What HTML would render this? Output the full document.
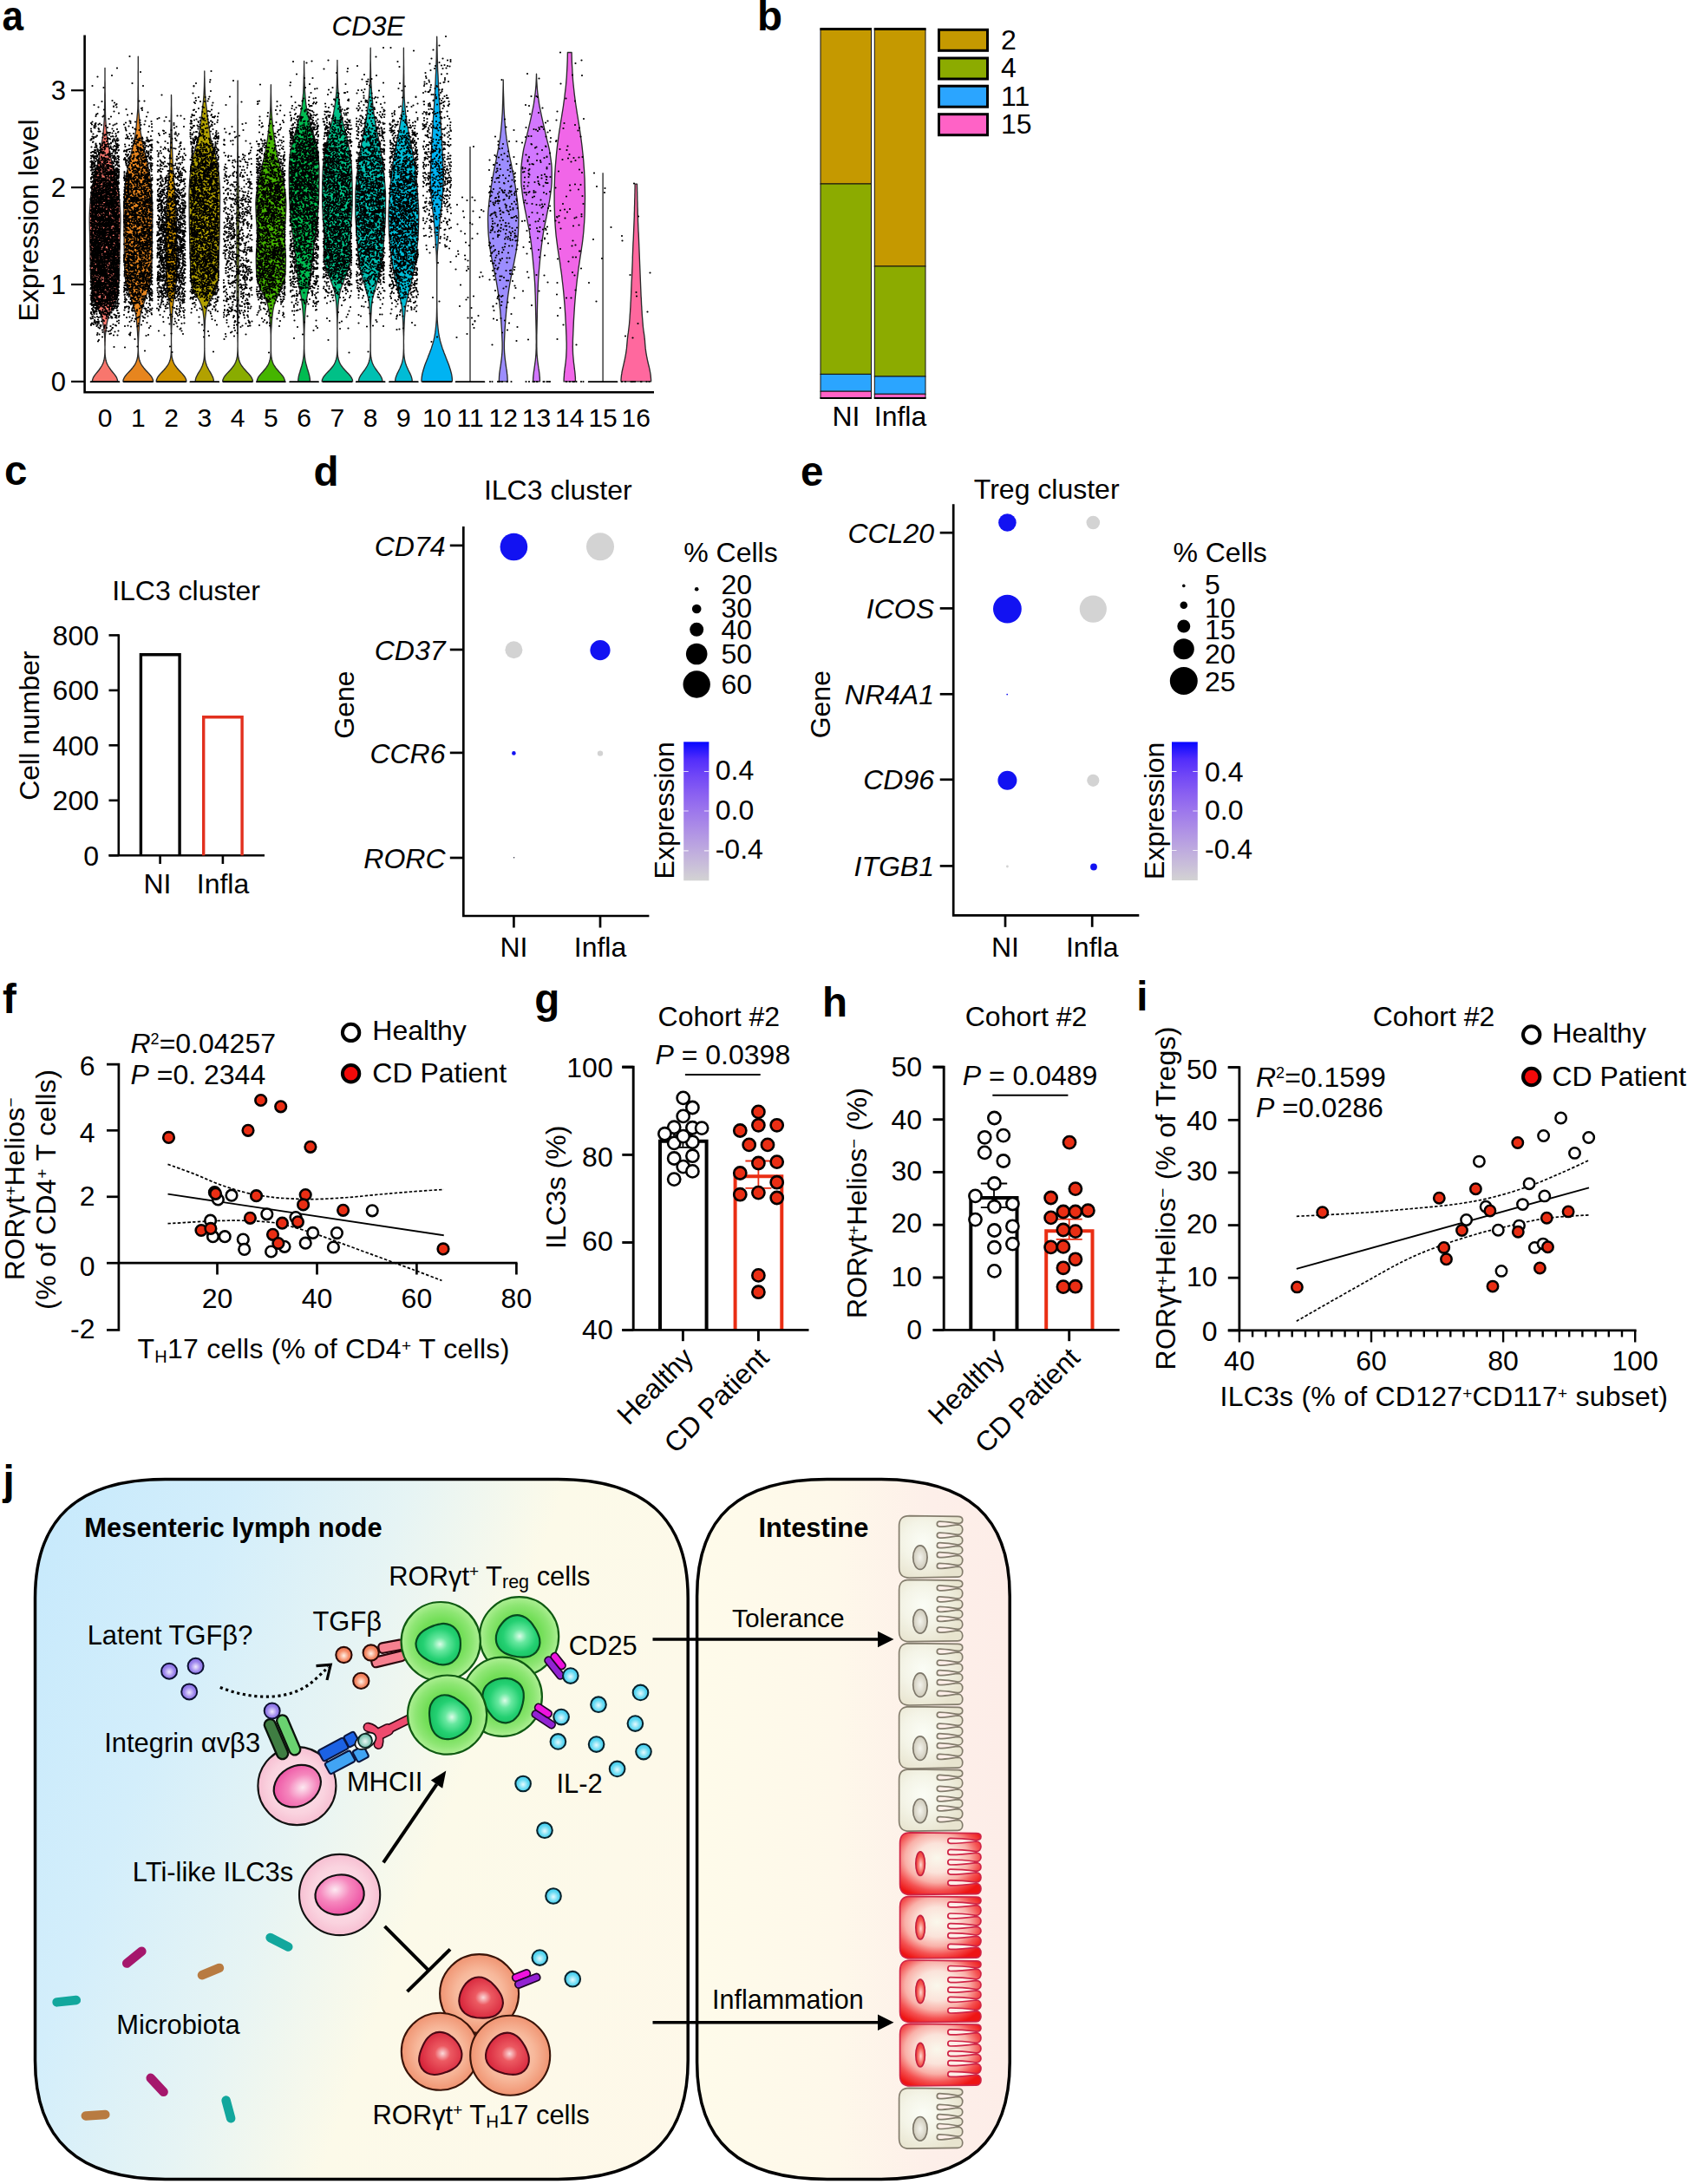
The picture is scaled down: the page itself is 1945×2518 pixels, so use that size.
<!DOCTYPE html>
<html><head><meta charset="utf-8"><title>Figure</title><style>html,body{margin:0;padding:0;background:#fff}svg{display:block}text{font-family:"Liberation Sans",sans-serif;fill:#000}</style></head><body>
<svg width="1945" height="2518" viewBox="0 0 1945 2518">
<g id="pa">
<g stroke="#2a2a2a" stroke-width="1.35" stroke-linejoin="round">
<path d="M106.3 439.9L106.7 437.7L107.5 435.4L108.9 433.2L110.6 430.9L112.4 428.7L114.2 426.5L115.8 424.2L117.2 422L118.4 419.8L119.3 417.5L119.9 415.3L120.3 413L120.6 410.8L120.8 408.6L120.9 406.3L120.9 404.1L121 401.9L121 399.6L120.9 397.4L120.9 395.1L120.8 392.9L120.8 390.7L120.7 388.4L120.5 386.2L120.3 383.9L119.8 379.5L119.1 375.1L118.3 370.7L117.3 366.2L115.5 361.8L113.5 357.4L111.5 352.9L109.3 348.5L107.8 344.1L107 339.7L106.3 335.2L105.7 330.8L105.2 326.4L104.8 321.9L104.5 317.5L104.4 313.1L104.3 308.7L104.2 304.2L104.1 299.8L104 295.4L104 290.9L103.9 286.5L103.8 282.1L103.7 277.6L103.6 273.2L103.5 268.8L103.4 264.4L103.3 259.9L103.2 255.5L103.2 251.1L103.3 246.6L103.5 242.2L103.8 237.8L104.1 233.4L104.5 228.9L104.9 224.5L105.5 220.1L106.3 215.6L107.2 211.2L108.1 206.8L109.2 202.3L110.3 197.9L111.5 193.5L112.6 189.1L113.5 184.6L114.5 180.2L115.4 175.8L116.2 171.3L116.9 166.9L117.7 162.5L118.4 158.1L119 153.6L119.4 149.2L119.8 144.8L120.1 140.3L120.4 135.9L120.5 131.5L120.6 127L120.6 122.6L120.7 118.2L120.8 113.8L120.8 109.3L120.9 104.9L120.9 100.5L120.9 96L121 91.6L121 87.2L121 82.8L121 78.3L121 78.3L121 82.8L121 87.2L121 91.6L121.1 96L121.1 100.5L121.1 104.9L121.2 109.3L121.2 113.8L121.3 118.2L121.4 122.6L121.4 127L121.5 131.5L121.6 135.9L121.9 140.3L122.2 144.8L122.6 149.2L123 153.6L123.6 158.1L124.3 162.5L125.1 166.9L125.8 171.3L126.6 175.8L127.5 180.2L128.5 184.6L129.4 189.1L130.5 193.5L131.7 197.9L132.8 202.3L133.9 206.8L134.8 211.2L135.7 215.6L136.5 220.1L137.1 224.5L137.5 228.9L137.9 233.4L138.2 237.8L138.5 242.2L138.7 246.6L138.8 251.1L138.8 255.5L138.7 259.9L138.6 264.4L138.5 268.8L138.4 273.2L138.3 277.6L138.2 282.1L138.1 286.5L138 290.9L138 295.4L137.9 299.8L137.8 304.2L137.7 308.7L137.6 313.1L137.5 317.5L137.2 321.9L136.8 326.4L136.3 330.8L135.7 335.2L135 339.7L134.2 344.1L132.7 348.5L130.5 352.9L128.5 357.4L126.5 361.8L124.7 366.2L123.7 370.7L122.9 375.1L122.2 379.5L121.7 383.9L121.5 386.2L121.3 388.4L121.2 390.7L121.2 392.9L121.1 395.1L121.1 397.4L121 399.6L121 401.9L121.1 404.1L121.1 406.3L121.2 408.6L121.4 410.8L121.7 413L122.1 415.3L122.7 417.5L123.6 419.8L124.8 422L126.2 424.2L127.8 426.5L129.6 428.7L131.4 430.9L133.1 433.2L134.5 435.4L135.3 437.7L135.7 439.9Z" fill="#F8766D"/>
<path d="M141.9 439.9L142.2 437.7L143.2 435.4L144.7 433.2L146.6 430.9L148.7 428.7L150.8 426.5L152.7 424.2L154.4 422L155.8 419.8L156.9 417.5L157.7 415.3L158.3 413L158.7 410.8L158.9 408.6L159.1 406.3L159.2 404.1L159.2 401.9L159.2 399.6L159.2 397.4L159.1 395.1L159.1 392.9L159 390.7L158.9 388.4L158.7 386.2L158.6 383.9L158.3 379.3L157.9 374.7L157.5 370.1L157 365.5L156.2 360.8L154.8 356.2L153.3 351.6L151.8 347L150.2 342.4L148.7 337.7L147.5 333.1L146.2 328.5L145 323.9L144.1 319.3L143.8 314.6L143.7 310L143.5 305.4L143.4 300.8L143.4 296.2L143.3 291.5L143.2 286.9L143.2 282.3L143.1 277.7L143.1 273.1L143 268.4L142.9 263.8L142.9 259.2L142.8 254.6L142.8 250L142.8 245.3L142.8 240.7L142.9 236.1L143.1 231.5L143.3 226.9L143.6 222.2L144 217.6L144.4 213L144.8 208.4L145.3 203.7L146.2 199.1L147.2 194.5L148.3 189.9L149.3 185.3L150.4 180.6L151.5 176L152.5 171.4L153.6 166.8L154.6 162.2L155.6 157.5L156.3 152.9L156.9 148.3L157.3 143.7L157.7 139.1L158.1 134.4L158.5 129.8L158.9 125.2L159 120.6L159 116L159.1 111.3L159.1 106.7L159.1 102.1L159.2 97.5L159.2 92.9L159.2 88.2L159.2 83.6L159.3 79L159.3 74.4L159.3 69.8L159.3 65.1L159.3 65.1L159.3 69.8L159.3 74.4L159.3 79L159.3 83.6L159.3 88.2L159.3 92.9L159.4 97.5L159.4 102.1L159.4 106.7L159.5 111.3L159.5 116L159.6 120.6L159.7 125.2L160 129.8L160.5 134.4L160.8 139.1L161.2 143.7L161.6 148.3L162.2 152.9L163 157.5L163.9 162.2L165 166.8L166 171.4L167.1 176L168.2 180.6L169.2 185.3L170.3 189.9L171.3 194.5L172.4 199.1L173.2 203.7L173.7 208.4L174.2 213L174.6 217.6L174.9 222.2L175.2 226.9L175.5 231.5L175.7 236.1L175.7 240.7L175.8 245.3L175.7 250L175.7 254.6L175.7 259.2L175.6 263.8L175.5 268.4L175.5 273.1L175.4 277.7L175.4 282.3L175.3 286.9L175.2 291.5L175.2 296.2L175.1 300.8L175 305.4L174.9 310L174.7 314.6L174.4 319.3L173.6 323.9L172.4 328.5L171.1 333.1L169.8 337.7L168.4 342.4L166.8 347L165.3 351.6L163.7 356.2L162.3 360.8L161.6 365.5L161 370.1L160.6 374.7L160.3 379.3L159.9 383.9L159.8 386.2L159.7 388.4L159.6 390.7L159.5 392.9L159.4 395.1L159.4 397.4L159.3 399.6L159.3 401.9L159.4 404.1L159.5 406.3L159.6 408.6L159.9 410.8L160.2 413L160.8 415.3L161.6 417.5L162.7 419.8L164.1 422L165.8 424.2L167.7 426.5L169.8 428.7L171.9 430.9L173.8 433.2L175.3 435.4L176.3 437.7L176.7 439.9Z" fill="#E7851E"/>
<path d="M180.1 439.9L180.5 437.7L181.5 435.4L183 433.2L184.9 430.9L187 428.7L189.1 426.5L191 424.2L192.7 422L194.1 419.8L195.2 417.5L196 415.3L196.6 413L196.9 410.8L197.2 408.6L197.3 406.3L197.4 404.1L197.5 401.9L197.5 399.6L197.5 397.4L197.5 395.1L197.5 392.9L197.5 390.7L197.5 388.4L197.5 386.2L197.5 383.9L197.3 380L197.2 376L197 372L196.8 368L196.6 364.1L196.3 360.1L196 356.1L195.6 352.1L195.1 348.1L194.4 344.2L193.7 340.2L193.1 336.2L192.7 332.2L192.2 328.3L191.7 324.3L191.4 320.3L191.3 316.3L191.3 312.3L191.3 308.4L191.3 304.4L191.3 300.4L191.3 296.4L191.3 292.5L191.3 288.5L191.3 284.5L191.3 280.5L191.3 276.5L191.4 272.6L191.4 268.6L191.5 264.6L191.6 260.6L191.8 256.7L191.9 252.7L192 248.7L192.2 244.7L192.3 240.7L192.5 236.8L192.7 232.8L192.9 228.8L193.1 224.8L193.4 220.9L193.7 216.9L194.1 212.9L194.4 208.9L194.7 204.9L195 201L195.4 197L195.6 193L195.9 189L196 185.1L196.2 181.1L196.3 177.1L196.5 173.1L196.6 169.1L196.7 165.2L196.8 161.2L196.9 157.2L197 153.2L197 149.2L197.1 145.3L197.2 141.3L197.2 137.3L197.3 133.3L197.4 129.4L197.4 125.4L197.5 121.4L197.5 117.4L197.5 113.4L197.5 109.5L197.5 109.5L197.6 113.4L197.6 117.4L197.6 121.4L197.7 125.4L197.7 129.4L197.8 133.3L197.8 137.3L197.9 141.3L198 145.3L198 149.2L198.1 153.2L198.2 157.2L198.3 161.2L198.4 165.2L198.5 169.1L198.6 173.1L198.8 177.1L198.9 181.1L199.1 185.1L199.2 189L199.4 193L199.7 197L200 201L200.3 204.9L200.7 208.9L201 212.9L201.3 216.9L201.7 220.9L201.9 224.8L202.2 228.8L202.4 232.8L202.6 236.8L202.8 240.7L202.9 244.7L203 248.7L203.2 252.7L203.3 256.7L203.4 260.6L203.6 264.6L203.6 268.6L203.7 272.6L203.8 276.5L203.8 280.5L203.8 284.5L203.8 288.5L203.8 292.5L203.8 296.4L203.8 300.4L203.8 304.4L203.8 308.4L203.8 312.3L203.8 316.3L203.7 320.3L203.3 324.3L202.9 328.3L202.4 332.2L202 336.2L201.4 340.2L200.7 344.2L200 348.1L199.5 352.1L199.1 356.1L198.8 360.1L198.5 364.1L198.3 368L198.1 372L197.9 376L197.7 380L197.6 383.9L197.6 386.2L197.5 388.4L197.5 390.7L197.5 392.9L197.5 395.1L197.6 397.4L197.6 399.6L197.6 401.9L197.6 404.1L197.7 406.3L197.9 408.6L198.1 410.8L198.5 413L199.1 415.3L199.9 417.5L201 419.8L202.4 422L204.1 424.2L206 426.5L208.1 428.7L210.2 430.9L212.1 433.2L213.6 435.4L214.6 437.7L214.9 439.9Z" fill="#D09400"/>
<path d="M225.2 439.9L225.4 437.7L226 435.4L227 433.2L228.2 430.9L229.6 428.7L230.9 426.5L232.1 424.2L233.1 422L233.9 419.8L234.5 417.5L235 415.3L235.3 413L235.5 410.8L235.6 408.6L235.7 406.3L235.8 404.1L235.8 401.9L235.8 399.6L235.8 397.4L235.8 395.1L235.8 392.9L235.8 390.7L235.8 388.4L235.8 386.2L235.7 383.9L235.6 379.6L235.4 375.2L235.2 370.8L234.9 366.4L234.4 362.1L233.8 357.7L232.7 353.3L230.9 348.9L228.7 344.6L225.8 340.2L223.6 335.8L221.8 331.4L220.6 327.1L220.2 322.7L220 318.3L219.8 313.9L219.6 309.6L219.5 305.2L219.4 300.8L219.3 296.4L219.1 292L219 287.7L218.9 283.3L218.8 278.9L218.7 274.5L218.6 270.2L218.5 265.8L218.4 261.4L218.3 257L218.3 252.7L218.2 248.3L218.2 243.9L218.1 239.5L218.1 235.2L218.1 230.8L218 226.4L218.1 222L218.2 217.7L218.4 213.3L218.7 208.9L219 204.5L219.4 200.1L219.9 195.8L220.5 191.4L221.3 187L222.2 182.6L223.2 178.3L224.5 173.9L225.9 169.5L227.4 165.1L228.5 160.8L229.3 156.4L229.9 152L230.5 147.6L231.1 143.3L231.7 138.9L232.3 134.5L232.9 130.1L233.4 125.7L233.9 121.4L234.4 117L234.8 112.6L235.1 108.2L235.3 103.9L235.5 99.5L235.6 95.1L235.7 90.7L235.8 86.4L235.8 82L235.8 82L235.8 86.4L235.9 90.7L236 95.1L236.1 99.5L236.3 103.9L236.5 108.2L236.8 112.6L237.2 117L237.7 121.4L238.2 125.7L238.7 130.1L239.3 134.5L239.9 138.9L240.5 143.3L241.1 147.6L241.7 152L242.3 156.4L243.1 160.8L244.3 165.1L245.7 169.5L247.2 173.9L248.4 178.3L249.4 182.6L250.3 187L251.1 191.4L251.8 195.8L252.2 200.1L252.6 204.5L252.9 208.9L253.2 213.3L253.4 217.7L253.6 222L253.6 226.4L253.6 230.8L253.5 235.2L253.5 239.5L253.5 243.9L253.4 248.3L253.3 252.7L253.3 257L253.2 261.4L253.1 265.8L253.1 270.2L253 274.5L252.9 278.9L252.7 283.3L252.6 287.7L252.5 292L252.4 296.4L252.2 300.8L252.1 305.2L252 309.6L251.8 313.9L251.7 318.3L251.4 322.7L251 327.1L249.8 331.4L248 335.8L245.9 340.2L242.9 344.6L240.7 348.9L238.9 353.3L237.9 357.7L237.2 362.1L236.7 366.4L236.4 370.8L236.2 375.2L236 379.6L235.9 383.9L235.8 386.2L235.8 388.4L235.8 390.7L235.8 392.9L235.8 395.1L235.8 397.4L235.8 399.6L235.8 401.9L235.9 404.1L235.9 406.3L236 408.6L236.1 410.8L236.3 413L236.6 415.3L237.1 417.5L237.7 419.8L238.5 422L239.6 424.2L240.8 426.5L242.1 428.7L243.4 430.9L244.6 433.2L245.6 435.4L246.2 437.7L246.4 439.9Z" fill="#B2A100"/>
<path d="M256.7 439.9L257 437.7L258 435.4L259.5 433.2L261.4 430.9L263.5 428.7L265.6 426.5L267.5 424.2L269.2 422L270.6 419.8L271.7 417.5L272.5 415.3L273.1 413L273.5 410.8L273.7 408.6L273.9 406.3L274 404.1L274 401.9L274.1 399.6L274.1 397.4L274.1 395.1L274 392.9L274 390.7L274 388.4L274 386.2L273.9 383.9L273.8 379.7L273.8 375.5L273.7 371.3L273.6 367.1L273.6 362.9L273.5 358.6L273.4 354.4L273.4 350.2L273.3 346L273.2 341.8L273.2 337.6L273.2 333.3L273.1 329.1L273.1 324.9L273.1 320.7L273.1 316.5L273.1 312.3L273 308L273 303.8L273 299.6L273 295.4L273 291.2L273 287L273 282.7L273 278.5L273 274.3L273 270.1L273 265.9L273 261.7L273 257.4L273 253.2L273 249L273.1 244.8L273.1 240.6L273.1 236.4L273.1 232.1L273.1 227.9L273.2 223.7L273.2 219.5L273.3 215.3L273.3 211.1L273.4 206.8L273.4 202.6L273.5 198.4L273.6 194.2L273.7 190L273.7 185.8L273.8 181.5L273.8 177.3L273.9 173.1L273.9 168.9L273.9 164.7L273.9 160.5L274 156.2L274 152L274 147.8L274 143.6L274 139.4L274 135.1L274 130.9L274 126.7L274 122.5L274.1 118.3L274.1 114.1L274.1 109.8L274.1 105.6L274.1 101.4L274.1 97.2L274.1 93L274.1 93L274.1 97.2L274.1 101.4L274.1 105.6L274.1 109.8L274.1 114.1L274.1 118.3L274.1 122.5L274.1 126.7L274.1 130.9L274.1 135.1L274.2 139.4L274.2 143.6L274.2 147.8L274.2 152L274.2 156.2L274.2 160.5L274.2 164.7L274.3 168.9L274.3 173.1L274.3 177.3L274.4 181.5L274.4 185.8L274.5 190L274.6 194.2L274.6 198.4L274.7 202.6L274.8 206.8L274.8 211.1L274.9 215.3L275 219.5L275 223.7L275 227.9L275 232.1L275.1 236.4L275.1 240.6L275.1 244.8L275.1 249L275.1 253.2L275.1 257.4L275.2 261.7L275.2 265.9L275.2 270.1L275.2 274.3L275.2 278.5L275.2 282.7L275.2 287L275.2 291.2L275.2 295.4L275.2 299.6L275.1 303.8L275.1 308L275.1 312.3L275.1 316.5L275.1 320.7L275 324.9L275 329.1L275 333.3L275 337.6L274.9 341.8L274.9 346L274.8 350.2L274.7 354.4L274.7 358.6L274.6 362.9L274.5 367.1L274.4 371.3L274.4 375.5L274.3 379.7L274.2 383.9L274.2 386.2L274.2 388.4L274.1 390.7L274.1 392.9L274.1 395.1L274.1 397.4L274.1 399.6L274.1 401.9L274.2 404.1L274.3 406.3L274.4 408.6L274.7 410.8L275.1 413L275.6 415.3L276.4 417.5L277.5 419.8L278.9 422L280.6 424.2L282.6 426.5L284.6 428.7L286.7 430.9L288.6 433.2L290.1 435.4L291.1 437.7L291.5 439.9Z" fill="#89AC00"/>
<path d="M296.2 439.9L296.6 437.7L297.5 435.4L299 433.2L300.9 430.9L302.9 428.7L304.8 426.5L306.7 424.2L308.2 422L309.5 419.8L310.4 417.5L311.1 415.3L311.6 413L311.9 410.8L312.1 408.6L312.2 406.3L312.3 404.1L312.3 401.9L312.3 399.6L312.3 397.4L312.3 395.1L312.3 392.9L312.3 390.7L312.3 388.4L312.3 386.2L312.2 383.9L312 379.8L311.7 375.6L311.4 371.5L311.1 367.3L310.6 363.2L310.1 359L309.4 354.9L308.4 350.7L306.9 346.6L305.1 342.4L303.1 338.3L300.8 334.1L299.1 330L297.8 325.8L296.6 321.7L295.9 317.5L295.7 313.4L295.5 309.2L295.4 305.1L295.3 300.9L295.3 296.8L295.4 292.6L295.7 288.5L296 284.3L296.2 280.2L296.5 276L296.6 271.9L296.5 267.7L296.3 263.6L296 259.4L295.7 255.3L295.4 251.1L295.3 247L295.1 242.8L295 238.7L294.9 234.5L295.1 230.4L295.4 226.2L295.9 222.1L296.5 217.9L297.1 213.8L297.8 209.6L298.6 205.5L299.6 201.3L300.5 197.2L301.5 193L302.6 188.9L303.7 184.7L304.7 180.6L305.6 176.4L306.4 172.3L307.1 168.1L307.8 164L308.5 159.8L309 155.7L309.6 151.5L310 147.4L310.4 143.2L310.8 139.1L311.2 134.9L311.5 130.8L311.7 126.6L311.9 122.5L312 118.3L312.1 114.2L312.2 110L312.3 105.9L312.3 101.7L312.4 97.6L312.4 97.6L312.4 101.7L312.4 105.9L312.5 110L312.6 114.2L312.7 118.3L312.8 122.5L313 126.6L313.2 130.8L313.5 134.9L313.9 139.1L314.3 143.2L314.7 147.4L315.1 151.5L315.7 155.7L316.2 159.8L316.9 164L317.6 168.1L318.3 172.3L319.1 176.4L320 180.6L321 184.7L322.1 188.9L323.2 193L324.2 197.2L325.1 201.3L326.1 205.5L326.9 209.6L327.6 213.8L328.2 217.9L328.8 222.1L329.3 226.2L329.6 230.4L329.8 234.5L329.7 238.7L329.6 242.8L329.4 247L329.3 251.1L329 255.3L328.7 259.4L328.4 263.6L328.2 267.7L328.1 271.9L328.2 276L328.5 280.2L328.7 284.3L329 288.5L329.3 292.6L329.4 296.8L329.4 300.9L329.3 305.1L329.2 309.2L329 313.4L328.8 317.5L328.1 321.7L326.9 325.8L325.6 330L323.9 334.1L321.6 338.3L319.6 342.4L317.8 346.6L316.3 350.7L315.3 354.9L314.6 359L314.1 363.2L313.6 367.3L313.3 371.5L313 375.6L312.7 379.8L312.5 383.9L312.4 386.2L312.4 388.4L312.4 390.7L312.4 392.9L312.4 395.1L312.4 397.4L312.4 399.6L312.4 401.9L312.4 404.1L312.5 406.3L312.6 408.6L312.8 410.8L313.1 413L313.6 415.3L314.3 417.5L315.2 419.8L316.5 422L318 424.2L319.9 426.5L321.8 428.7L323.8 430.9L325.7 433.2L327.2 435.4L328.1 437.7L328.5 439.9Z" fill="#45B500"/>
<path d="M343.7 439.9L343.8 437.7L344.1 435.4L344.5 433.2L345.1 430.9L345.8 428.7L346.4 426.5L347.1 424.2L347.8 422L348.4 419.8L348.9 417.5L349.3 415.3L349.7 413L350 410.8L350.2 408.6L350.3 406.3L350.4 404.1L350.5 401.9L350.5 399.6L350.6 397.4L350.6 395.1L350.6 392.9L350.5 390.7L350.5 388.4L350.5 386.2L350.4 383.9L350.3 379.4L350.1 374.9L349.9 370.3L349.7 365.8L349.4 361.2L349 356.7L348.5 352.1L348 347.6L347.4 343L346.5 338.5L345.6 334L344.6 329.4L343.9 324.9L343.2 320.3L342.7 315.8L342.2 311.2L341.7 306.7L341.2 302.1L340.8 297.6L340.3 293.1L339.9 288.5L339.4 284L338.7 279.4L338 274.9L337.4 270.3L336.8 265.8L336.3 261.2L335.8 256.7L335.3 252.2L334.9 247.6L334.6 243.1L334.3 238.5L334 234L333.8 229.4L333.6 224.9L333.5 220.3L333.5 215.8L333.4 211.3L333.3 206.7L333.3 202.2L333.3 197.6L333.4 193.1L333.6 188.5L333.9 184L334.3 179.4L334.8 174.9L335.7 170.4L336.8 165.8L337.9 161.3L339.1 156.7L340.5 152.2L342 147.6L343.4 143.1L344.7 138.5L345.7 134L346.8 129.4L347.7 124.9L348.4 120.4L348.9 115.8L349.3 111.3L349.7 106.7L349.9 102.2L350.1 97.6L350.2 93.1L350.3 88.5L350.5 84L350.5 79.5L350.6 74.9L350.6 70.4L350.6 70.4L350.6 74.9L350.7 79.5L350.8 84L350.9 88.5L351 93.1L351.2 97.6L351.3 102.2L351.6 106.7L351.9 111.3L352.3 115.8L352.8 120.4L353.5 124.9L354.4 129.4L355.5 134L356.6 138.5L357.8 143.1L359.3 147.6L360.8 152.2L362.1 156.7L363.3 161.3L364.5 165.8L365.6 170.4L366.4 174.9L366.9 179.4L367.3 184L367.7 188.5L367.9 193.1L367.9 197.6L367.9 202.2L367.9 206.7L367.8 211.3L367.8 215.8L367.7 220.3L367.6 224.9L367.5 229.4L367.3 234L367 238.5L366.6 243.1L366.3 247.6L365.9 252.2L365.5 256.7L365 261.2L364.5 265.8L363.9 270.3L363.2 274.9L362.5 279.4L361.9 284L361.4 288.5L360.9 293.1L360.5 297.6L360 302.1L359.6 306.7L359.1 311.2L358.6 315.8L358 320.3L357.4 324.9L356.6 329.4L355.7 334L354.7 338.5L353.9 343L353.2 347.6L352.7 352.1L352.2 356.7L351.8 361.2L351.5 365.8L351.3 370.3L351.1 374.9L350.9 379.4L350.8 383.9L350.8 386.2L350.7 388.4L350.7 390.7L350.7 392.9L350.7 395.1L350.7 397.4L350.7 399.6L350.7 401.9L350.8 404.1L350.9 406.3L351.1 408.6L351.3 410.8L351.6 413L351.9 415.3L352.3 417.5L352.9 419.8L353.5 422L354.1 424.2L354.8 426.5L355.5 428.7L356.1 430.9L356.7 433.2L357.1 435.4L357.4 437.7L357.5 439.9Z" fill="#00BC51"/>
<path d="M371.2 439.9L371.5 437.7L372.5 435.4L374.1 433.2L376 430.9L378.1 428.7L380.3 426.5L382.2 424.2L384 422L385.4 419.8L386.5 417.5L387.3 415.3L387.9 413L388.3 410.8L388.5 408.6L388.7 406.3L388.8 404.1L388.8 401.9L388.9 399.6L388.9 397.4L388.9 395.1L388.9 392.9L388.9 390.7L388.9 388.4L388.9 386.2L388.9 383.9L388.9 379.4L388.8 374.8L388.7 370.3L388.6 365.7L388.4 361.2L388.2 356.6L387.9 352L387.5 347.5L386.9 342.9L386.2 338.4L385.1 333.8L383.5 329.2L381.8 324.7L380 320.1L378.1 315.6L376.5 311L375.2 306.4L374 301.9L373.2 297.3L373.2 292.8L373.4 288.2L373.7 283.7L373.9 279.1L373.9 274.5L373.8 270L373.5 265.4L373.1 260.9L372.8 256.3L372.4 251.7L372.2 247.2L372 242.6L371.8 238.1L371.7 233.5L371.6 228.9L371.6 224.4L371.6 219.8L371.7 215.3L371.8 210.7L371.9 206.2L372 201.6L372.2 197L372.4 192.5L372.9 187.9L373.4 183.4L374 178.8L374.6 174.2L375.5 169.7L376.5 165.1L377.5 160.6L378.5 156L379.7 151.4L380.9 146.9L382.1 142.3L383.1 137.8L384 133.2L384.9 128.7L385.7 124.1L386.4 119.5L387 115L387.5 110.4L387.9 105.9L388.2 101.3L388.4 96.7L388.5 92.2L388.6 87.6L388.7 83.1L388.8 78.5L388.9 73.9L388.9 69.4L388.9 69.4L388.9 73.9L389 78.5L389 83.1L389.1 87.6L389.3 92.2L389.4 96.7L389.6 101.3L389.9 105.9L390.3 110.4L390.8 115L391.4 119.5L392 124.1L392.8 128.7L393.7 133.2L394.7 137.8L395.7 142.3L396.9 146.9L398.1 151.4L399.3 156L400.3 160.6L401.3 165.1L402.3 169.7L403.1 174.2L403.8 178.8L404.4 183.4L404.9 187.9L405.3 192.5L405.6 197L405.8 201.6L405.9 206.2L406 210.7L406.1 215.3L406.2 219.8L406.2 224.4L406.2 228.9L406.1 233.5L406 238.1L405.8 242.6L405.6 247.2L405.3 251.7L405 256.3L404.6 260.9L404.3 265.4L404 270L403.9 274.5L403.9 279.1L404.1 283.7L404.4 288.2L404.6 292.8L404.6 297.3L403.8 301.9L402.6 306.4L401.3 311L399.6 315.6L397.8 320.1L396 324.7L394.3 329.2L392.7 333.8L391.6 338.4L390.9 342.9L390.3 347.5L389.9 352L389.6 356.6L389.4 361.2L389.2 365.7L389 370.3L388.9 374.8L388.9 379.4L388.9 383.9L388.9 386.2L388.9 388.4L388.9 390.7L388.9 392.9L388.9 395.1L388.9 397.4L388.9 399.6L388.9 401.9L389 404.1L389.1 406.3L389.2 408.6L389.5 410.8L389.9 413L390.5 415.3L391.3 417.5L392.4 419.8L393.8 422L395.5 424.2L397.5 426.5L399.6 428.7L401.8 430.9L403.7 433.2L405.2 435.4L406.3 437.7L406.6 439.9Z" fill="#00C087"/>
<path d="M413.4 439.9L413.7 437.7L414.4 435.4L415.6 433.2L417.2 430.9L418.8 428.7L420.5 426.5L422 424.2L423.3 422L424.4 419.8L425.3 417.5L425.9 415.3L426.4 413L426.7 410.8L426.9 408.6L427 406.3L427.1 404.1L427.1 401.9L427.1 399.6L427.1 397.4L427.2 395.1L427.2 392.9L427.2 390.7L427.2 388.4L427.2 386.2L427.2 383.9L427.1 379.2L427 374.4L426.8 369.7L426.6 364.9L426.4 360.1L426.1 355.4L425.7 350.6L425.1 345.8L423.9 341.1L422.5 336.3L421.2 331.5L419.8 326.8L418.5 322L417.1 317.2L415.8 312.5L414.7 307.7L414 303L413.5 298.2L413 293.4L412.6 288.7L412.2 283.9L411.9 279.1L411.5 274.4L411.2 269.6L410.9 264.8L410.6 260.1L410.2 255.3L409.9 250.5L409.8 245.8L409.8 241L409.8 236.3L409.8 231.5L409.8 226.7L409.9 222L410.2 217.2L410.6 212.4L411 207.7L411.4 202.9L412 198.1L412.6 193.4L413.2 188.6L413.9 183.8L414.6 179.1L415.3 174.3L416 169.6L416.9 164.8L417.8 160L418.8 155.3L419.8 150.5L420.7 145.7L421.6 141L422.4 136.2L423.2 131.4L423.8 126.7L424.4 121.9L424.9 117.1L425.3 112.4L425.7 107.6L426 102.9L426.4 98.1L426.6 93.3L426.8 88.6L426.9 83.8L427 79L427 74.3L427.1 69.5L427.1 64.7L427.2 60L427.2 55.2L427.2 55.2L427.2 60L427.2 64.7L427.2 69.5L427.3 74.3L427.4 79L427.5 83.8L427.5 88.6L427.7 93.3L428 98.1L428.3 102.9L428.6 107.6L429 112.4L429.5 117.1L429.9 121.9L430.5 126.7L431.1 131.4L431.9 136.2L432.7 141L433.6 145.7L434.5 150.5L435.5 155.3L436.5 160L437.4 164.8L438.3 169.6L439.1 174.3L439.8 179.1L440.4 183.8L441.1 188.6L441.7 193.4L442.4 198.1L442.9 202.9L443.3 207.7L443.7 212.4L444.1 217.2L444.4 222L444.5 226.7L444.5 231.5L444.5 236.3L444.5 241L444.5 245.8L444.4 250.5L444.1 255.3L443.8 260.1L443.4 264.8L443.1 269.6L442.8 274.4L442.4 279.1L442.1 283.9L441.7 288.7L441.3 293.4L440.9 298.2L440.3 303L439.6 307.7L438.5 312.5L437.2 317.2L435.8 322L434.5 326.8L433.1 331.5L431.8 336.3L430.4 341.1L429.2 345.8L428.6 350.6L428.2 355.4L428 360.1L427.7 364.9L427.5 369.7L427.4 374.4L427.2 379.2L427.2 383.9L427.2 386.2L427.2 388.4L427.2 390.7L427.2 392.9L427.2 395.1L427.2 397.4L427.2 399.6L427.2 401.9L427.2 404.1L427.3 406.3L427.4 408.6L427.6 410.8L427.9 413L428.4 415.3L429 417.5L429.9 419.8L431 422L432.3 424.2L433.9 426.5L435.5 428.7L437.2 430.9L438.7 433.2L439.9 435.4L440.7 437.7L440.9 439.9Z" fill="#00C0B2"/>
<path d="M455.6 439.9L455.8 437.7L456.2 435.4L457 433.2L457.9 430.9L459 428.7L460.1 426.5L461.2 424.2L462.1 422L463 419.8L463.7 417.5L464.2 415.3L464.6 413L464.9 410.8L465.1 408.6L465.2 406.3L465.3 404.1L465.4 401.9L465.4 399.6L465.4 397.4L465.4 395.1L465.4 392.9L465.4 390.7L465.4 388.4L465.3 386.2L465.2 383.9L465 379.2L464.8 374.4L464.6 369.7L464.3 364.9L464 360.1L463.5 355.4L462.8 350.6L461.7 345.8L460.5 341.1L459.3 336.3L458.1 331.5L456.9 326.8L455.8 322L454.8 317.2L453.8 312.5L453 307.7L452.2 303L451.5 298.2L450.9 293.4L450.4 288.7L449.9 283.9L449.4 279.1L449 274.4L448.6 269.6L448.5 264.8L448.3 260.1L448.2 255.3L448.1 250.5L448.1 245.8L448.3 241L448.6 236.3L448.9 231.5L449.3 226.7L449.6 222L449.9 217.2L450.2 212.4L450.6 207.7L451.1 202.9L451.7 198.1L452.4 193.4L453.1 188.6L453.8 183.8L454.6 179.1L455.4 174.3L456.3 169.6L457.2 164.8L458.1 160L459.1 155.3L460.1 150.5L460.9 145.7L461.7 141L462.5 136.2L463.1 131.4L463.6 126.7L464.1 121.9L464.4 117.1L464.7 112.4L464.9 107.6L465 102.9L465 98.1L465.1 93.3L465.2 88.6L465.3 83.8L465.3 79L465.4 74.3L465.4 69.5L465.4 64.7L465.4 60L465.4 55.2L465.4 55.2L465.4 60L465.4 64.7L465.5 69.5L465.5 74.3L465.6 79L465.6 83.8L465.7 88.6L465.7 93.3L465.8 98.1L465.9 102.9L466 107.6L466.1 112.4L466.4 117.1L466.8 121.9L467.2 126.7L467.7 131.4L468.4 136.2L469.1 141L469.9 145.7L470.8 150.5L471.7 155.3L472.7 160L473.7 164.8L474.6 169.6L475.5 174.3L476.3 179.1L477.1 183.8L477.8 188.6L478.5 193.4L479.2 198.1L479.8 202.9L480.2 207.7L480.6 212.4L481 217.2L481.3 222L481.6 226.7L481.9 231.5L482.3 236.3L482.6 241L482.8 245.8L482.7 250.5L482.7 255.3L482.5 260.1L482.4 264.8L482.2 269.6L481.9 274.4L481.5 279.1L481 283.9L480.5 288.7L480 293.4L479.3 298.2L478.6 303L477.9 307.7L477 312.5L476.1 317.2L475 322L474 326.8L472.8 331.5L471.5 336.3L470.4 341.1L469.2 345.8L468.1 350.6L467.3 355.4L466.9 360.1L466.5 364.9L466.2 369.7L466 374.4L465.8 379.2L465.6 383.9L465.6 386.2L465.5 388.4L465.5 390.7L465.4 392.9L465.4 395.1L465.5 397.4L465.5 399.6L465.5 401.9L465.6 404.1L465.6 406.3L465.8 408.6L466 410.8L466.3 413L466.7 415.3L467.2 417.5L467.9 419.8L468.7 422L469.7 424.2L470.7 426.5L471.8 428.7L472.9 430.9L473.9 433.2L474.6 435.4L475.1 437.7L475.3 439.9Z" fill="#00BCD6"/>
<path d="M486 439.9L486 437.7L486.2 435.4L486.5 433.2L486.9 430.9L487.5 428.7L488.1 426.5L488.8 424.2L489.5 422L490.3 419.8L491.2 417.5L492.1 415.3L493 413L493.8 410.8L494.7 408.6L495.6 406.3L496.4 404.1L497.2 401.9L497.9 399.6L498.6 397.4L499.3 395.1L499.9 392.9L500.4 390.7L500.9 388.4L501.3 386.2L501.7 383.9L502.3 379L502.8 374L503.2 369.1L503.4 364.1L503.5 359.2L503.6 354.2L503.6 349.3L503.7 344.3L503.7 339.4L503.7 334.4L503.7 329.5L503.7 324.5L503.7 319.6L503.7 314.6L503.7 309.7L503.6 304.7L503.4 299.8L503.3 294.8L503 289.8L502.6 284.9L502.3 279.9L502 275L501.6 270L501.2 265.1L500.8 260.1L500.3 255.2L499.8 250.2L499.2 245.3L498.6 240.3L498 235.4L497.5 230.4L497.1 225.5L496.8 220.5L496.5 215.6L496.3 210.6L496.2 205.7L496.3 200.7L496.4 195.7L496.6 190.8L496.8 185.8L497.1 180.9L497.3 175.9L497.5 171L497.8 166L498 161.1L498.3 156.1L498.6 151.2L498.9 146.2L499.2 141.3L499.5 136.3L499.9 131.4L500.2 126.4L500.6 121.5L500.9 116.5L501.2 111.6L501.5 106.6L501.7 101.6L502 96.7L502.2 91.7L502.4 86.8L502.7 81.8L502.9 76.9L503 71.9L503.2 67L503.3 62L503.4 57.1L503.5 52.1L503.6 47.2L503.7 42.2L503.7 42.2L503.8 47.2L503.9 52.1L504 57.1L504.1 62L504.2 67L504.4 71.9L504.5 76.9L504.7 81.8L505 86.8L505.2 91.7L505.4 96.7L505.7 101.6L505.9 106.6L506.2 111.6L506.5 116.5L506.8 121.5L507.2 126.4L507.5 131.4L507.9 136.3L508.2 141.3L508.5 146.2L508.8 151.2L509.1 156.1L509.4 161.1L509.6 166L509.9 171L510.1 175.9L510.3 180.9L510.6 185.8L510.8 190.8L511 195.7L511.1 200.7L511.2 205.7L511.1 210.6L510.9 215.6L510.6 220.5L510.3 225.5L509.9 230.4L509.4 235.4L508.8 240.3L508.2 245.3L507.6 250.2L507.1 255.2L506.6 260.1L506.2 265.1L505.8 270L505.4 275L505.1 279.9L504.8 284.9L504.4 289.8L504.1 294.8L504 299.8L503.8 304.7L503.7 309.7L503.7 314.6L503.7 319.6L503.7 324.5L503.7 329.5L503.7 334.4L503.7 339.4L503.7 344.3L503.8 349.3L503.8 354.2L503.9 359.2L504 364.1L504.2 369.1L504.6 374L505.1 379L505.7 383.9L506.1 386.2L506.5 388.4L507 390.7L507.5 392.9L508.1 395.1L508.8 397.4L509.5 399.6L510.2 401.9L511 404.1L511.8 406.3L512.7 408.6L513.6 410.8L514.4 413L515.3 415.3L516.2 417.5L517.1 419.8L517.9 422L518.6 424.2L519.3 426.5L519.9 428.7L520.5 430.9L520.9 433.2L521.2 435.4L521.4 437.7L521.4 439.9Z" fill="#00B3F2"/>
<path d="M542 439.9V169.1" fill="none"/>
<path d="M575.3 439.9L575.4 437.7L575.5 435.4L575.6 433.2L575.8 430.9L576.1 428.7L576.4 426.5L576.7 424.2L577.1 422L577.4 419.8L577.7 417.5L578 415.3L578.3 413L578.5 410.8L578.7 408.6L578.9 406.3L579 404.1L579.1 401.9L579.1 399.6L579.1 397.4L579.1 395.1L579 392.9L578.9 390.7L578.8 388.4L578.7 386.2L578.6 383.9L578.4 379.7L578.1 375.5L577.8 371.3L577.5 367L577.1 362.8L576.8 358.6L576.3 354.3L575.9 350.1L575.4 345.9L574.9 341.6L574.3 337.4L573.7 333.2L573 328.9L572.3 324.7L571.5 320.5L570.6 316.3L569.7 312L568.8 307.8L568 303.6L567.2 299.3L566.4 295.1L565.6 290.9L565 286.6L564.4 282.4L563.9 278.2L563.5 273.9L563.1 269.7L562.9 265.5L562.7 261.3L562.6 257L562.5 252.8L562.6 248.6L562.8 244.3L563.2 240.1L563.6 235.9L564 231.6L564.6 227.4L565.2 223.2L565.8 218.9L566.4 214.7L567.1 210.5L567.8 206.3L568.6 202L569.3 197.8L570.1 193.6L571 189.3L571.9 185.1L572.7 180.9L573.5 176.6L574.3 172.4L575.1 168.2L575.8 163.9L576.5 159.7L577 155.5L577.5 151.3L577.9 147L578.3 142.8L578.6 138.6L578.9 134.3L579.2 130.1L579.4 125.9L579.5 121.6L579.7 117.4L579.8 113.2L579.9 108.9L580 104.7L580.1 100.5L580.2 96.3L580.2 92L580.2 92L580.3 96.3L580.3 100.5L580.4 104.7L580.5 108.9L580.7 113.2L580.8 117.4L580.9 121.6L581.1 125.9L581.3 130.1L581.6 134.3L581.8 138.6L582.2 142.8L582.5 147L583 151.3L583.5 155.5L584 159.7L584.7 163.9L585.4 168.2L586.2 172.4L586.9 176.6L587.7 180.9L588.6 185.1L589.5 189.3L590.3 193.6L591.2 197.8L591.9 202L592.7 206.3L593.4 210.5L594.1 214.7L594.7 218.9L595.3 223.2L595.9 227.4L596.4 231.6L596.9 235.9L597.3 240.1L597.7 244.3L597.9 248.6L597.9 252.8L597.9 257L597.8 261.3L597.6 265.5L597.4 269.7L597 273.9L596.6 278.2L596 282.4L595.5 286.6L594.9 290.9L594.1 295.1L593.3 299.3L592.5 303.6L591.6 307.8L590.8 312L589.9 316.3L589 320.5L588.2 324.7L587.5 328.9L586.8 333.2L586.2 337.4L585.6 341.6L585.1 345.9L584.6 350.1L584.1 354.3L583.7 358.6L583.4 362.8L583 367L582.7 371.3L582.4 375.5L582.1 379.7L581.9 383.9L581.8 386.2L581.7 388.4L581.6 390.7L581.5 392.9L581.4 395.1L581.4 397.4L581.4 399.6L581.4 401.9L581.5 404.1L581.6 406.3L581.8 408.6L582 410.8L582.2 413L582.5 415.3L582.8 417.5L583.1 419.8L583.4 422L583.7 424.2L584.1 426.5L584.4 428.7L584.6 430.9L584.9 433.2L585 435.4L585.1 437.7L585.2 439.9Z" fill="#9C8DFF"/>
<path d="M614.6 439.9L614.6 437.7L614.7 435.4L614.9 433.2L615.2 430.9L615.4 428.7L615.8 426.5L616.1 424.2L616.4 422L616.7 419.8L617 417.5L617.3 415.3L617.5 413L617.7 410.8L617.9 408.6L618 406.3L618.1 404.1L618.2 401.9L618.2 399.6L618.2 397.4L618.3 395.1L618.3 392.9L618.2 390.7L618.2 388.4L618.2 386.2L618.2 383.9L618.1 379.6L618 375.3L617.9 371L617.8 366.6L617.7 362.3L617.6 358L617.5 353.6L617.4 349.3L617.3 345L617.2 340.6L617 336.3L616.9 332L616.7 327.7L616.4 323.3L616.1 319L615.8 314.7L615.4 310.3L615 306L614.6 301.7L614.2 297.3L613.8 293L613.3 288.7L612.8 284.3L612.3 280L611.7 275.7L611 271.4L610.4 267L609.6 262.7L608.7 258.4L607.8 254L606.9 249.7L606.1 245.4L605.2 241L604.4 236.7L603.6 232.4L602.9 228L602.3 223.7L601.8 219.4L601.2 215.1L600.9 210.7L600.8 206.4L600.8 202.1L600.8 197.7L600.9 193.4L601.3 189.1L601.8 184.7L602.4 180.4L603 176.1L603.8 171.7L604.8 167.4L605.9 163.1L606.9 158.8L607.9 154.4L608.9 150.1L609.9 145.8L610.9 141.4L611.9 137.1L612.8 132.8L613.7 128.4L614.6 124.1L615.4 119.8L616 115.4L616.6 111.1L617.2 106.8L617.6 102.5L618 98.1L618.2 93.8L618.4 89.5L618.5 85.1L618.5 85.1L618.6 89.5L618.8 93.8L619.1 98.1L619.4 102.5L619.8 106.8L620.4 111.1L621 115.4L621.6 119.8L622.4 124.1L623.3 128.4L624.2 132.8L625.1 137.1L626.1 141.4L627.1 145.8L628.1 150.1L629.1 154.4L630.1 158.8L631.1 163.1L632.2 167.4L633.2 171.7L634 176.1L634.6 180.4L635.2 184.7L635.8 189.1L636.1 193.4L636.2 197.7L636.2 202.1L636.2 206.4L636.1 210.7L635.8 215.1L635.3 219.4L634.7 223.7L634.1 228L633.4 232.4L632.6 236.7L631.8 241L630.9 245.4L630.1 249.7L629.2 254L628.3 258.4L627.4 262.7L626.7 267L626 271.4L625.3 275.7L624.8 280L624.2 284.3L623.7 288.7L623.2 293L622.8 297.3L622.4 301.7L622 306L621.6 310.3L621.2 314.7L620.9 319L620.6 323.3L620.4 327.7L620.2 332L620 336.3L619.8 340.6L619.7 345L619.6 349.3L619.5 353.6L619.4 358L619.3 362.3L619.3 366.6L619.2 371L619.1 375.3L619 379.6L618.9 383.9L618.8 386.2L618.8 388.4L618.8 390.7L618.8 392.9L618.8 395.1L618.8 397.4L618.8 399.6L618.9 401.9L618.9 404.1L619 406.3L619.1 408.6L619.3 410.8L619.5 413L619.7 415.3L620 417.5L620.3 419.8L620.6 422L620.9 424.2L621.3 426.5L621.6 428.7L621.9 430.9L622.1 433.2L622.3 435.4L622.4 437.7L622.4 439.9Z" fill="#D277FF"/>
<path d="M650.1 439.9L650.1 437.7L650.2 435.4L650.4 433.2L650.5 430.9L650.8 428.7L651 426.5L651.3 424.2L651.6 422L651.9 419.8L652.2 417.5L652.4 415.3L652.6 413L652.8 410.8L652.9 408.6L653 406.3L653.1 404.1L653.2 401.9L653.2 399.6L653.2 397.4L653.2 395.1L653.1 392.9L653 390.7L653 388.4L652.9 386.2L652.8 383.9L652.6 379.3L652.4 374.6L652.1 369.9L651.9 365.2L651.6 360.5L651.3 355.8L651 351.1L650.6 346.5L650.2 341.8L649.8 337.1L649.3 332.4L648.8 327.7L648.2 323L647.7 318.3L647.1 313.6L646.4 309L645.8 304.3L645.1 299.6L644.3 294.9L643.6 290.2L642.9 285.5L642.3 280.8L641.7 276.1L641.1 271.5L640.7 266.8L640.3 262.1L640 257.4L639.7 252.7L639.5 248L639.4 243.3L639.2 238.6L639.1 234L639.1 229.3L639.1 224.6L639.1 219.9L639.2 215.2L639.4 210.5L639.5 205.8L639.7 201.1L640 196.5L640.3 191.8L640.7 187.1L641.1 182.4L641.5 177.7L642 173L642.5 168.3L643.1 163.6L643.8 159L644.4 154.3L645.1 149.6L645.9 144.9L646.6 140.2L647.4 135.5L648.1 130.8L648.9 126.1L649.6 121.5L650.2 116.8L650.9 112.1L651.4 107.4L652 102.7L652.5 98L652.9 93.3L653.3 88.6L653.5 84L653.8 79.3L654 74.6L654.2 69.9L654.3 65.2L654.4 60.5L659.1 60.5L659.2 65.2L659.3 69.9L659.5 74.6L659.8 79.3L660 84L660.3 88.6L660.6 93.3L661.1 98L661.6 102.7L662.1 107.4L662.7 112.1L663.3 116.8L664 121.5L664.7 126.1L665.4 130.8L666.2 135.5L666.9 140.2L667.7 144.9L668.4 149.6L669.1 154.3L669.8 159L670.4 163.6L671 168.3L671.5 173L672 177.7L672.5 182.4L672.9 187.1L673.2 191.8L673.6 196.5L673.8 201.1L674.1 205.8L674.2 210.5L674.3 215.2L674.4 219.9L674.5 224.6L674.5 229.3L674.4 234L674.3 238.6L674.2 243.3L674.1 248L673.9 252.7L673.6 257.4L673.2 262.1L672.9 266.8L672.4 271.5L671.9 276.1L671.3 280.8L670.6 285.5L670 290.2L669.2 294.9L668.5 299.6L667.8 304.3L667.1 309L666.5 313.6L665.9 318.3L665.3 323L664.8 327.7L664.3 332.4L663.8 337.1L663.4 341.8L663 346.5L662.6 351.1L662.3 355.8L662 360.5L661.7 365.2L661.4 369.9L661.2 374.6L661 379.3L660.8 383.9L660.7 386.2L660.6 388.4L660.5 390.7L660.4 392.9L660.4 395.1L660.4 397.4L660.3 399.6L660.4 401.9L660.4 404.1L660.5 406.3L660.6 408.6L660.8 410.8L661 413L661.2 415.3L661.4 417.5L661.7 419.8L662 422L662.2 424.2L662.5 426.5L662.8 428.7L663 430.9L663.2 433.2L663.4 435.4L663.4 437.7L663.5 439.9Z" fill="#F166E8"/>
<path d="M695.1 439.9V199.3" fill="none"/>
<path d="M716 439.9L716 437.7L716.2 435.4L716.4 433.2L716.8 430.9L717.1 428.7L717.6 426.5L718.1 424.2L718.6 422L719.1 419.8L719.6 417.5L720.1 415.3L720.6 413L721 410.8L721.4 408.6L721.8 406.3L722.1 404.1L722.4 401.9L722.6 399.6L722.8 397.4L723 395.1L723.2 392.9L723.4 390.7L723.7 388.4L723.9 386.2L724.3 383.9L724.6 381.5L724.9 379L725.2 376.5L725.5 374L725.7 371.5L725.9 369L726.1 366.5L726.2 364L726.4 361.5L726.6 359L726.7 356.6L726.9 354.1L727 351.6L727.1 349.1L727.3 346.6L727.4 344.1L727.5 341.6L727.6 339.1L727.7 336.6L727.8 334.1L727.9 331.7L728 329.2L728.1 326.7L728.2 324.2L728.4 321.7L728.5 319.2L728.6 316.7L728.7 314.2L728.8 311.7L728.9 309.2L729 306.7L729.1 304.3L729.2 301.8L729.3 299.3L729.3 296.8L729.4 294.3L729.5 291.8L729.6 289.3L729.7 286.8L729.8 284.3L729.9 281.8L730 279.4L730.2 276.9L730.3 274.4L730.4 271.9L730.5 269.4L730.6 266.9L730.7 264.4L730.8 261.9L730.9 259.4L731 256.9L731.1 254.5L731.2 252L731.3 249.5L731.3 247L731.4 244.5L731.5 242L731.5 239.5L731.6 237L731.7 234.5L731.7 232L731.8 229.5L731.9 227.1L731.9 224.6L732 222.1L732 219.6L732.1 217.1L732.1 214.6L732.1 212.1L734.5 212.1L734.5 214.6L734.6 217.1L734.6 219.6L734.7 222.1L734.7 224.6L734.8 227.1L734.8 229.5L734.9 232L735 234.5L735 237L735.1 239.5L735.2 242L735.2 244.5L735.3 247L735.4 249.5L735.5 252L735.5 254.5L735.6 256.9L735.7 259.4L735.8 261.9L735.9 264.4L736 266.9L736.2 269.4L736.3 271.9L736.4 274.4L736.5 276.9L736.6 279.4L736.7 281.8L736.8 284.3L736.9 286.8L737 289.3L737.1 291.8L737.2 294.3L737.3 296.8L737.4 299.3L737.5 301.8L737.6 304.3L737.7 306.7L737.8 309.2L737.9 311.7L738 314.2L738.1 316.7L738.2 319.2L738.3 321.7L738.4 324.2L738.5 326.7L738.6 329.2L738.7 331.7L738.8 334.1L738.9 336.6L739 339.1L739.1 341.6L739.3 344.1L739.4 346.6L739.5 349.1L739.6 351.6L739.8 354.1L739.9 356.6L740.1 359L740.2 361.5L740.4 364L740.6 366.5L740.8 369L741 371.5L741.2 374L741.4 376.5L741.7 379L742 381.5L742.4 383.9L742.7 386.2L743 388.4L743.2 390.7L743.5 392.9L743.6 395.1L743.8 397.4L744 399.6L744.2 401.9L744.5 404.1L744.8 406.3L745.2 408.6L745.6 410.8L746 413L746.5 415.3L747 417.5L747.5 419.8L748.1 422L748.6 424.2L749.1 426.5L749.5 428.7L749.9 430.9L750.2 433.2L750.4 435.4L750.6 437.7L750.6 439.9Z" fill="#FF689E"/>
</g>
<path d="M104.6 440.2H137.4" stroke="#000" stroke-width="1.8" stroke-linecap="round" fill="none"/>
<path d="M142.9 440.2H175.7" stroke="#000" stroke-width="1.8" stroke-linecap="round" fill="none"/>
<path d="M181.1 440.2H213.9" stroke="#000" stroke-width="1.8" stroke-linecap="round" fill="none"/>
<path d="M219.4 440.2H252.2" stroke="#000" stroke-width="1.8" stroke-linecap="round" fill="none"/>
<path d="M257.7 440.2H290.5" stroke="#000" stroke-width="1.8" stroke-linecap="round" fill="none"/>
<path d="M296 440.2H328.8" stroke="#000" stroke-width="1.8" stroke-linecap="round" fill="none"/>
<path d="M334.2 440.2H367" stroke="#000" stroke-width="1.8" stroke-linecap="round" fill="none"/>
<path d="M372.5 440.2H405.3" stroke="#000" stroke-width="1.8" stroke-linecap="round" fill="none"/>
<path d="M410.8 440.2H443.6" stroke="#000" stroke-width="1.8" stroke-linecap="round" fill="none"/>
<path d="M449 440.2H481.8" stroke="#000" stroke-width="1.8" stroke-linecap="round" fill="none"/>
<path d="M487.3 440.2H520.1" stroke="#000" stroke-width="1.8" stroke-linecap="round" fill="none"/>
<path d="M525.6 440.2H558.4" stroke="#000" stroke-width="1.8" stroke-linecap="round" fill="none"/>
<path d="M678.7 440.2H711.5" stroke="#000" stroke-width="1.8" stroke-linecap="round" fill="none"/>
<path transform="scale(.5)" d="m1028 84h0m-15 21h0m-129 5h0m17 0h0m98 5h0m-45 2h0m338 4h0m-993 9h0m568 1h0m128 4h0m26 0h0m18 3h0m-282 1h0m275 0h0m309 0h0m-622 2h0m-43 1h0m241 0h0m122 0h0m-26 2h0m-306 1h0m620 1h0m-336 1h0m34 3h0m-7 1h0m-194 1h0m180 0h0m28 0h0m5 1h0m-116 1h0m-651 3h0m759 0h0m-227 1h0m200 0h0m19 0h0m-274 1h0m246 3h0m-506 2h0m314 1h0m-477 1h0m452 2h0m205 0h0m50 2h0m185 0h0m-532 1h0m334 0h0m-178 1h0m480 1h0m-1062 1h0m610 0h0m474 0h0m-360 2h0m-757 1h0m477 3h0m19 0h0m262 0h0m43 0h0m217 1h0m-386 1h0m-22 1h0m14 0h0m-364 1h0m541 0h0m131 0h0m-168 1h0m-451 1h0m316 1h0m-9 1h0m3 0h0m186 0h0m-550 1h0m495 0h0m11 0h0m35 0h0m-355 1h0m353 0h0m-139 1h0m-579 1h0m147 0h0m470 0h0m93 0h0m-31 1h0m309 0h0m-579 1h0m83 0h0m49 0h0m133 0h0m-379 1h0m394 1h0m-325 1h0m183 0h0m-639 1h0m117 0h0m117 0h0m531 0h0m29 0h0m-560 1h0m487 0h0m74 1h0m-154 1h0m139 0h0m-754 1h0m465 0h0m63 0h0m-36 2h0m188 0h0m84 0h0m-277 1h0m115 1h0m179 0h0m-262 1h0m234 0h0m21 0h0m6 0h0m-193 1h0m8 0h0m40 1h0m53 0h0m64 0h0m-505 1h0m495 1h0m38 0h0m-218 1h0m186 0h0m2 0h0m-226 1h0m75 0h0m-121 1h0m62 0h0m15 0h0m2 0h0m180 0h0m40 0h0m-571 1h0m378 0h0m34 0h0m-76 1h0m-25 2h0m239 0h0m4 0h0m-626 1h0m631 0h0m9 0h0m17 1h0m-250 1h0m59 0h0m186 1h0m200 0h0m12 0h0m-754 1h0m47 0h0m142 0h0m212 0h0m0 0h0m75 0h0m-501 1h0m15 0h0m240 0h0m140 0h0m13 0h0m93 0h0m47 0h0m234 0h0m-462 1h0m93 0h0m57 0h0m-477 1h0m277 0h0m111 0h0m19 0h0m172 0h0m3 0h0m-333 1h0m23 0h0m140 0h0m143 0h0m15 0h0m284 0h0m-824 1h0m533 0h0m-244 1h0m2 0h0m32 0h0m-22 1h0m20 1h0m41 0h0m157 0h0m-741 1h0m193 0h0m246 0h0m14 0h0m61 0h0m31 0h0m42 0h0m9 0h0m144 0h0m19 0h0m-697 1h0m12 0h0m146 0h0m119 0h0m99 0h0m629 0h0m-1091 1h0m227 0h0m10 0h0m122 0h0m45 0h0m194 0h0m0 0h0m144 0h0m1 0h0m47 0h0m10 0h0m-478 1h0m286 0h0m-395 1h0m233 0h0m43 0h0m6 0h0m51 0h0m66 0h0m21 0h0m154 0h0m-758 1h0m227 0h0m396 0h0m54 0h0m-491 1h0m378 0h0m163 0h0m27 0h0m-423 1h0m127 0h0m6 0h0m22 0h0m107 0h0m106 0h0m52 0h0m1 0h0m-747 1h0m325 0h0m187 0h0m97 0h0m110 0h0m48 0h0m-324 1h0m53 0h0m92 0h0m121 0h0m30 0h0m-791 1h0m50 0h0m254 0h0m318 0h0m153 0h0m220 0h0m-723 1h0m158 0h0m42 0h0m264 0h0m70 0h0m10 0h0m-359 1h0m18 0h0m24 0h0m3 0h0m108 0h0m161 0h0m46 0h0m186 0h0m-958 1h0m377 0h0m75 0h0m55 0h0m86 0h0m69 0h0m68 0h0m32 0h0m-762 1h0m205 0h0m284 0h0m187 0h0m11 0h0m-722 1h0m42 0h0m514 0h0m2 0h0m73 0h0m62 0h0m-450 1h0m213 0h0m75 0h0m87 0h0m18 0h0m18 0h0m-553 1h0m502 0h0m421 0h0m-925 1h0m132 0h0m215 0h0m23 0h0m105 0h0m2 0h0m20 0h0m40 0h0m158 0h0m-327 1h0m86 0h0m214 0h0m-703 1h0m419 0h0m79 0h0m11 0h0m64 0h0m125 0h0m8 0h0m-757 1h0m208 0h0m40 0h0m191 0h0m26 0h0m122 0h0m26 0h0m5 0h0m27 0h0m-557 1h0m118 0h0m190 0h0m77 0h0m71 0h0m1 0h0m10 0h0m-149 1h0m57 0h0m13 0h0m110 0h0m9 0h0m10 0h0m42 0h0m-407 1h0m240 0h0m67 0h0m67 0h0m56 0h0m30 0h0m-677 1h0m221 0h0m219 0h0m46 0h0m5 0h0m3 0h0m128 0h0m45 0h0m71 0h0m30 0h0m254 0h0m-833 1h0m15 0h0m285 0h0m2 0h0m30 0h0m93 0h0m101 0h0m36 0h0m4 0h0m-677 1h0m328 0h0m42 0h0m12 0h0m38 0h0m199 0h0m23 0h0m1 0h0m-366 1h0m92 0h0m92 0h0m57 0h0m11 0h0m39 0h0m73 0h0m16 0h0m11 0h0m233 0h0m-968 1h0m230 0h0m289 0h0m5 0h0m185 0h0m8 0h0m-766 1h0m79 0h0m168 0h0m210 0h0m33 0h0m134 0h0m11 0h0m44 0h0m71 0h0m30 0h0m10 0h0m-376 1h0m69 0h0m174 0h0m49 0h0m57 0h0m14 0h0m0 0h0m220 0h0m-1000 1h0m221 0h0m45 0h0m192 0h0m51 0h0m18 0h0m105 0h0m33 0h0m23 0h0m73 0h0m7 0h0m-696 1h0m422 0h0m8 0h0m71 0h0m4 0h0m45 0h0m31 0h0m7 0h0m-439 1h0m2 0h0m3 0h0m39 0h0m169 0h0m14 0h0m49 0h0m9 0h0m29 0h0m4 0h0m8 0h0m156 0h0m-686 1h0m170 0h0m8 0h0m62 0h0m237 0h0m115 0h0m2 0h0m-612 1h0m257 0h0m18 0h0m121 0h0m71 0h0m23 0h0m75 0h0m119 0h0m101 0h0m26 0h0m-795 1h0m19 0h0m82 0h0m164 0h0m97 0h0m87 0h0m8 0h0m18 0h0m41 0h0m6 0h0m9 0h0m110 0h0m49 0h0m0 0h0m10 0h0m-554 1h0m58 0h0m49 0h0m2 0h0m194 0h0m12 0h0m19 0h0m42 0h0m77 0h0m30 0h0m20 0h0m131 0h0m-556 1h0m5 0h0m28 0h0m198 0h0m21 0h0m9 0h0m51 0h0m12 0h0m68 0h0m10 0h0m17 0h0m135 0h0m10 0h0m-658 1h0m305 0h0m21 0h0m3 0h0m55 0h0m39 0h0m55 0h0m14 0h0m9 0h0m95 0h0m15 0h0m39 0h0m-550 1h0m4 0h0m207 0h0m17 0h0m21 0h0m37 0h0m12 0h0m3 0h0m54 0h0m15 0h0m15 0h0m15 0h0m55 0h0m97 0h0m-768 1h0m112 0h0m62 0h0m320 0h0m43 0h0m138 0h0m59 0h0m51 0h0m310 0h0m-893 1h0m26 0h0m145 0h0m48 0h0m17 0h0m26 0h0m4 0h0m14 0h0m40 0h0m15 0h0m1 0h0m12 0h0m28 0h0m15 0h0m320 0h0m-695 1h0m214 0h0m11 0h0m91 0h0m57 0h0m93 0h0m28 0h0m-640 1h0m125 0h0m54 0h0m185 0h0m67 0h0m32 0h0m21 0h0m63 0h0m36 0h0m2 0h0m36 0h0m339 0h0m-843 1h0m22 0h0m11 0h0m126 0h0m53 0h0m19 0h0m50 0h0m1 0h0m48 0h0m3 0h0m1 0h0m5 0h0m5 0h0m20 0h0m29 0h0m97 0h0m48 0h0m-679 1h0m36 0h0m44 0h0m12 0h0m51 0h0m44 0h0m1 0h0m207 0h0m9 0h0m8 0h0m18 0h0m54 0h0m73 0h0m19 0h0m34 0h0m26 0h0m328 0h0m-962 1h0m48 0h0m108 0h0m243 0h0m2 0h0m44 0h0m26 0h0m12 0h0m12 0h0m9 0h0m18 0h0m4 0h0m130 0h0m40 0h0m9 0h0m-793 1h0m99 0h0m129 0h0m245 0h0m24 0h0m36 0h0m0 0h0m2 0h0m95 0h0m24 0h0m9 0h0m29 0h0m12 0h0m1 0h0m40 0h0m-500 1h0m23 0h0m9 0h0m11 0h0m136 0h0m17 0h0m66 0h0m40 0h0m0 0h0m13 0h0m12 0h0m1 0h0m13 0h0m8 0h0m25 0h0m10 0h0m30 0h0m62 0h0m51 0h0m54 0h0m-749 1h0m33 0h0m159 0h0m198 0h0m37 0h0m37 0h0m25 0h0m22 0h0m76 0h0m6 0h0m60 0h0m9 0h0m61 0h0m1 0h0m244 0h0m-1048 1h0m11 0h0m80 0h0m100 0h0m166 0h0m37 0h0m119 0h0m1 0h0m7 0h0m43 0h0m162 0h0m365 0h0m-1071 1h0m39 0h0m170 0h0m3 0h0m181 0h0m100 0h0m60 0h0m52 0h0m5 0h0m7 0h0m11 0h0m29 0h0m12 0h0m-680 1h0m34 0h0m97 0h0m119 0h0m8 0h0m18 0h0m64 0h0m117 0h0m25 0h0m10 0h0m5 0h0m3 0h0m40 0h0m2 0h0m9 0h0m52 0h0m62 0h0m91 0h0m8 0h0m11 0h0m23 0h0m-805 1h0m8 0h0m7 0h0m38 0h0m21 0h0m47 0h0m128 0h0m27 0h0m158 0h0m39 0h0m32 0h0m7 0h0m25 0h0m49 0h0m0 0h0m0 0h0m31 0h0m70 0h0m12 0h0m6 0h0m66 0h0m-749 1h0m91 0h0m76 0h0m69 0h0m19 0h0m109 0h0m78 0h0m12 0h0m29 0h0m10 0h0m21 0h0m35 0h0m11 0h0m7 0h0m3 0h0m44 0h0m26 0h0m27 0h0m13 0h0m24 0h0m41 0h0m30 0h0m317 0h0m-1065 1h0m194 0h0m218 0h0m24 0h0m4 0h0m0 0h0m32 0h0m29 0h0m15 0h0m3 0h0m5 0h0m3 0h0m15 0h0m6 0h0m51 0h0m54 0h0m32 0h0m86 0h0m6 0h0m-821 1h0m27 0h0m202 0h0m2 0h0m18 0h0m23 0h0m131 0h0m11 0h0m122 0h0m31 0h0m49 0h0m27 0h0m3 0h0m43 0h0m46 0h0m0 0h0m5 0h0m19 0h0m3 0h0m0 0h0m12 0h0m8 0h0m-778 1h0m76 0h0m47 0h0m141 0h0m121 0h0m87 0h0m15 0h0m5 0h0m19 0h0m0 0h0m2 0h0m28 0h0m25 0h0m35 0h0m20 0h0m137 0h0m-572 1h0m17 0h0m33 0h0m4 0h0m74 0h0m179 0h0m17 0h0m21 0h0m3 0h0m13 0h0m34 0h0m44 0h0m87 0h0m49 0h0m266 0h0m-898 1h0m90 0h0m0 0h0m163 0h0m99 0h0m1 0h0m6 0h0m13 0h0m4 0h0m29 0h0m31 0h0m12 0h0m28 0h0m18 0h0m28 0h0m32 0h0m7 0h0m37 0h0m59 0h0m160 0h0m84 0h0m-1034 1h0m31 0h0m41 0h0m17 0h0m138 0h0m39 0h0m196 0h0m9 0h0m10 0h0m17 0h0m39 0h0m4 0h0m27 0h0m82 0h0m0 0h0m3 0h0m9 0h0m63 0h0m2 0h0m51 0h0m5 0h0m14 0h0m199 0h0m30 0h0m-1024 1h0m183 0h0m60 0h0m16 0h0m0 0h0m170 0h0m27 0h0m8 0h0m2 0h0m19 0h0m0 0h0m6 0h0m22 0h0m19 0h0m5 0h0m9 0h0m7 0h0m15 0h0m15 0h0m43 0h0m7 0h0m50 0h0m45 0h0m32 0h0m9 0h0m39 0h0m11 0h0m298 0h0m-1109 1h0m215 0h0m32 0h0m225 0h0m20 0h0m5 0h0m8 0h0m107 0h0m41 0h0m20 0h0m56 0h0m48 0h0m295 0h0m-1089 1h0m49 0h0m52 0h0m13 0h0m133 0h0m61 0h0m152 0h0m23 0h0m11 0h0m5 0h0m23 0h0m18 0h0m3 0h0m47 0h0m11 0h0m16 0h0m12 0h0m18 0h0m2 0h0m12 0h0m4 0h0m11 0h0m90 0h0m32 0h0m-780 1h0m42 0h0m20 0h0m22 0h0m179 0h0m183 0h0m26 0h0m16 0h0m7 0h0m7 0h0m37 0h0m13 0h0m24 0h0m3 0h0m1 0h0m18 0h0m42 0h0m107 0h0m45 0h0m4 0h0m207 0h0m13 0h0m10 0h0m-941 1h0m152 0h0m3 0h0m178 0h0m28 0h0m21 0h0m11 0h0m2 0h0m7 0h0m11 0h0m24 0h0m0 0h0m24 0h0m13 0h0m62 0h0m54 0h0m86 0h0m247 0h0m-915 1h0m74 0h0m44 0h0m122 0h0m81 0h0m44 0h0m27 0h0m5 0h0m52 0h0m26 0h0m2 0h0m43 0h0m27 0h0m13 0h0m158 0h0m146 0h0m-894 1h0m85 0h0m93 0h0m218 0h0m34 0h0m35 0h0m30 0h0m3 0h0m47 0h0m28 0h0m35 0h0m4 0h0m2 0h0m4 0h0m15 0h0m27 0h0m60 0h0m257 0h0m65 0h0m-1123 1h0m52 0h0m89 0h0m27 0h0m121 0h0m169 0h0m15 0h0m4 0h0m1 0h0m22 0h0m4 0h0m7 0h0m50 0h0m9 0h0m10 0h0m33 0h0m18 0h0m9 0h0m31 0h0m37 0h0m14 0h0m54 0h0m54 0h0m200 0h0m-1013 1h0m2 0h0m2 0h0m0 0h0m238 0h0m17 0h0m133 0h0m86 0h0m28 0h0m33 0h0m100 0h0m9 0h0m31 0h0m80 0h0m-775 1h0m62 0h0m69 0h0m110 0h0m2 0h0m12 0h0m75 0h0m99 0h0m34 0h0m11 0h0m33 0h0m3 0h0m11 0h0m61 0h0m3 0h0m0 0h0m6 0h0m25 0h0m6 0h0m13 0h0m4 0h0m1 0h0m1 0h0m31 0h0m20 0h0m17 0h0m11 0h0m56 0h0m48 0h0m-788 1h0m25 0h0m133 0h0m42 0h0m30 0h0m44 0h0m77 0h0m72 0h0m6 0h0m12 0h0m11 0h0m0 0h0m10 0h0m11 0h0m36 0h0m2 0h0m27 0h0m65 0h0m5 0h0m26 0h0m6 0h0m15 0h0m23 0h0m26 0h0m3 0h0m3 0h0m306 0h0m-1012 1h0m3 0h0m128 0h0m57 0h0m30 0h0m29 0h0m124 0h0m66 0h0m16 0h0m26 0h0m19 0h0m3 0h0m17 0h0m3 0h0m32 0h0m23 0h0m15 0h0m68 0h0m21 0h0m-683 1h0m11 0h0m200 0h0m44 0h0m166 0h0m3 0h0m2 0h0m1 0h0m8 0h0m21 0h0m50 0h0m8 0h0m14 0h0m5 0h0m2 0h0m56 0h0m24 0h0m22 0h0m55 0h0m3 0h0m48 0h0m40 0h0m-794 1h0m30 0h0m32 0h0m9 0h0m58 0h0m12 0h0m152 0h0m103 0h0m2 0h0m56 0h0m68 0h0m24 0h0m8 0h0m7 0h0m10 0h0m33 0h0m21 0h0m4 0h0m6 0h0m3 0h0m7 0h0m25 0h0m31 0h0m15 0h0m1 0h0m2 0h0m6 0h0m-747 1h0m188 0h0m3 0h0m6 0h0m32 0h0m18 0h0m29 0h0m38 0h0m142 0h0m16 0h0m3 0h0m9 0h0m2 0h0m4 0h0m3 0h0m6 0h0m5 0h0m11 0h0m19 0h0m5 0h0m27 0h0m3 0h0m12 0h0m54 0h0m1 0h0m15 0h0m154 0h0m-776 1h0m147 0h0m48 0h0m4 0h0m56 0h0m107 0h0m37 0h0m28 0h0m24 0h0m3 0h0m17 0h0m5 0h0m74 0h0m6 0h0m8 0h0m16 0h0m16 0h0m3 0h0m38 0h0m78 0h0m48 0h0m-766 1h0m11 0h0m40 0h0m151 0h0m19 0h0m6 0h0m175 0h0m27 0h0m3 0h0m9 0h0m46 0h0m6 0h0m32 0h0m11 0h0m10 0h0m1 0h0m7 0h0m29 0h0m10 0h0m31 0h0m86 0h0m4 0h0m31 0h0m39 0h0m-709 1h0m52 0h0m95 0h0m35 0h0m198 0h0m15 0h0m4 0h0m40 0h0m71 0h0m19 0h0m31 0h0m29 0h0m12 0h0m18 0h0m21 0h0m25 0h0m28 0h0m27 0h0m-813 1h0m1 0h0m17 0h0m27 0h0m34 0h0m107 0h0m55 0h0m34 0h0m54 0h0m122 0h0m27 0h0m13 0h0m39 0h0m14 0h0m7 0h0m60 0h0m2 0h0m18 0h0m5 0h0m17 0h0m1 0h0m4 0h0m31 0h0m16 0h0m13 0h0m42 0h0m42 0h0m-765 1h0m55 0h0m33 0h0m112 0h0m12 0h0m24 0h0m8 0h0m118 0h0m12 0h0m37 0h0m33 0h0m3 0h0m5 0h0m10 0h0m1 0h0m11 0h0m14 0h0m16 0h0m21 0h0m82 0h0m56 0h0m9 0h0m12 0h0m15 0h0m260 0h0m6 0h0m-1012 1h0m43 0h0m5 0h0m6 0h0m27 0h0m1 0h0m96 0h0m48 0h0m12 0h0m1 0h0m17 0h0m30 0h0m4 0h0m42 0h0m80 0h0m51 0h0m10 0h0m38 0h0m9 0h0m45 0h0m105 0h0m103 0h0m156 0h0m117 0h0m80 0h0m-1122 1h0m4 0h0m229 0h0m1 0h0m202 0h0m49 0h0m76 0h0m24 0h0m5 0h0m46 0h0m2 0h0m2 0h0m8 0h0m17 0h0m55 0h0m10 0h0m68 0h0m3 0h0m15 0h0m179 0h0m-975 1h0m57 0h0m20 0h0m14 0h0m11 0h0m111 0h0m7 0h0m43 0h0m42 0h0m95 0h0m33 0h0m12 0h0m1 0h0m24 0h0m77 0h0m13 0h0m58 0h0m1 0h0m5 0h0m48 0h0m9 0h0m8 0h0m6 0h0m4 0h0m52 0h0m5 0h0m26 0h0m-771 1h0m91 0h0m114 0h0m17 0h0m6 0h0m18 0h0m5 0h0m5 0h0m119 0h0m51 0h0m1 0h0m14 0h0m35 0h0m43 0h0m84 0h0m3 0h0m55 0h0m6 0h0m12 0h0m67 0h0m276 0h0m-1055 1h0m0 0h0m1 0h0m31 0h0m3 0h0m21 0h0m19 0h0m4 0h0m11 0h0m16 0h0m3 0h0m80 0h0m36 0h0m5 0h0m37 0h0m0 0h0m11 0h0m10 0h0m122 0h0m47 0h0m10 0h0m8 0h0m17 0h0m9 0h0m6 0h0m42 0h0m8 0h0m23 0h0m27 0h0m25 0h0m1 0h0m7 0h0m14 0h0m15 0h0m23 0h0m33 0h0m13 0h0m-742 1h0m31 0h0m11 0h0m10 0h0m35 0h0m6 0h0m24 0h0m1 0h0m68 0h0m54 0h0m1 0h0m30 0h0m15 0h0m6 0h0m180 0h0m9 0h0m4 0h0m11 0h0m5 0h0m2 0h0m33 0h0m11 0h0m10 0h0m7 0h0m3 0h0m48 0h0m12 0h0m13 0h0m77 0h0m9 0h0m27 0h0m74 0h0m1 0h0m-791 1h0m6 0h0m15 0h0m43 0h0m4 0h0m129 0h0m10 0h0m0 0h0m29 0h0m118 0h0m22 0h0m2 0h0m54 0h0m20 0h0m2 0h0m17 0h0m4 0h0m34 0h0m5 0h0m8 0h0m0 0h0m5 0h0m95 0h0m51 0h0m5 0h0m11 0h0m62 0h0m17 0h0m-805 1h0m109 0h0m21 0h0m109 0h0m7 0h0m15 0h0m11 0h0m34 0h0m85 0h0m76 0h0m2 0h0m7 0h0m2 0h0m2 0h0m16 0h0m6 0h0m12 0h0m5 0h0m77 0h0m43 0h0m15 0h0m4 0h0m0 0h0m73 0h0m10 0h0m54 0h0m-797 1h0m51 0h0m4 0h0m9 0h0m66 0h0m9 0h0m3 0h0m0 0h0m55 0h0m42 0h0m2 0h0m160 0h0m35 0h0m28 0h0m2 0h0m1 0h0m2 0h0m12 0h0m13 0h0m2 0h0m2 0h0m7 0h0m19 0h0m28 0h0m0 0h0m47 0h0m29 0h0m3 0h0m6 0h0m8 0h0m14 0h0m40 0h0m28 0h0m76 0h0m-742 1h0m49 0h0m4 0h0m20 0h0m4 0h0m60 0h0m39 0h0m10 0h0m61 0h0m20 0h0m73 0h0m1 0h0m38 0h0m21 0h0m35 0h0m12 0h0m6 0h0m3 0h0m42 0h0m27 0h0m1 0h0m1 0h0m5 0h0m29 0h0m5 0h0m24 0h0m11 0h0m9 0h0m5 0h0m15 0h0m20 0h0m31 0h0m0 0h0m5 0h0m39 0h0m288 0h0m-1016 1h0m4 0h0m37 0h0m29 0h0m2 0h0m117 0h0m28 0h0m48 0h0m35 0h0m38 0h0m28 0h0m64 0h0m27 0h0m56 0h0m18 0h0m7 0h0m46 0h0m15 0h0m20 0h0m64 0h0m-704 1h0m14 0h0m6 0h0m45 0h0m17 0h0m16 0h0m37 0h0m73 0h0m2 0h0m0 0h0m33 0h0m13 0h0m90 0h0m62 0h0m24 0h0m12 0h0m8 0h0m12 0h0m2 0h0m13 0h0m42 0h0m2 0h0m19 0h0m6 0h0m13 0h0m1 0h0m27 0h0m84 0h0m6 0h0m14 0h0m8 0h0m31 0h0m171 0h0m25 0h0m17 0h0m91 0h0m-1067 1h0m25 0h0m20 0h0m0 0h0m51 0h0m20 0h0m11 0h0m21 0h0m77 0h0m8 0h0m17 0h0m213 0h0m2 0h0m1 0h0m41 0h0m10 0h0m25 0h0m9 0h0m1 0h0m18 0h0m25 0h0m1 0h0m20 0h0m14 0h0m30 0h0m35 0h0m24 0h0m17 0h0m4 0h0m43 0h0m24 0h0m12 0h0m235 0h0m-1055 1h0m25 0h0m0 0h0m77 0h0m2 0h0m0 0h0m15 0h0m84 0h0m26 0h0m5 0h0m8 0h0m41 0h0m144 0h0m38 0h0m27 0h0m7 0h0m3 0h0m10 0h0m2 0h0m3 0h0m32 0h0m7 0h0m21 0h0m63 0h0m6 0h0m7 0h0m9 0h0m24 0h0m13 0h0m14 0h0m20 0h0m5 0h0m38 0h0m33 0h0m1 0h0m-783 1h0m15 0h0m48 0h0m14 0h0m47 0h0m30 0h0m51 0h0m8 0h0m30 0h0m127 0h0m39 0h0m19 0h0m1 0h0m6 0h0m5 0h0m5 0h0m0 0h0m9 0h0m10 0h0m3 0h0m17 0h0m30 0h0m18 0h0m15 0h0m12 0h0m8 0h0m20 0h0m29 0h0m9 0h0m9 0h0m61 0h0m5 0h0m7 0h0m3 0h0m8 0h0m1 0h0m34 0h0m15 0h0m17 0h0m178 0h0m-937 1h0m64 0h0m4 0h0m52 0h0m30 0h0m52 0h0m144 0h0m8 0h0m50 0h0m15 0h0m1 0h0m7 0h0m3 0h0m5 0h0m13 0h0m5 0h0m12 0h0m1 0h0m16 0h0m2 0h0m3 0h0m9 0h0m0 0h0m14 0h0m19 0h0m3 0h0m8 0h0m47 0h0m49 0h0m19 0h0m31 0h0m40 0h0m18 0h0m-790 1h0m9 0h0m7 0h0m19 0h0m53 0h0m2 0h0m23 0h0m81 0h0m26 0h0m5 0h0m2 0h0m28 0h0m10 0h0m15 0h0m76 0h0m28 0h0m68 0h0m2 0h0m19 0h0m13 0h0m11 0h0m7 0h0m25 0h0m20 0h0m15 0h0m70 0h0m4 0h0m45 0h0m33 0h0m6 0h0m-695 1h0m4 0h0m16 0h0m3 0h0m43 0h0m149 0h0m28 0h0m6 0h0m98 0h0m3 0h0m11 0h0m61 0h0m16 0h0m8 0h0m6 0h0m2 0h0m15 0h0m1 0h0m37 0h0m4 0h0m0 0h0m41 0h0m58 0h0m13 0h0m1 0h0m5 0h0m29 0h0m29 0h0m24 0h0m34 0h0m167 0h0m65 0h0m-1004 1h0m10 0h0m11 0h0m46 0h0m62 0h0m91 0h0m22 0h0m8 0h0m3 0h0m1 0h0m3 0h0m38 0h0m21 0h0m152 0h0m1 0h0m11 0h0m10 0h0m0 0h0m3 0h0m7 0h0m9 0h0m17 0h0m15 0h0m6 0h0m4 0h0m2 0h0m7 0h0m47 0h0m30 0h0m43 0h0m12 0h0m111 0h0m3 0h0m199 0h0m-981 1h0m24 0h0m56 0h0m9 0h0m12 0h0m108 0h0m9 0h0m7 0h0m21 0h0m27 0h0m91 0h0m24 0h0m52 0h0m10 0h0m28 0h0m23 0h0m5 0h0m30 0h0m75 0h0m3 0h0m26 0h0m16 0h0m34 0h0m8 0h0m13 0h0m28 0h0m4 0h0m31 0h0m13 0h0m7 0h0m110 0h0m-913 1h0m38 0h0m24 0h0m9 0h0m38 0h0m3 0h0m107 0h0m4 0h0m11 0h0m6 0h0m4 0h0m9 0h0m8 0h0m150 0h0m36 0h0m8 0h0m5 0h0m3 0h0m13 0h0m1 0h0m4 0h0m3 0h0m9 0h0m18 0h0m7 0h0m3 0h0m5 0h0m14 0h0m20 0h0m6 0h0m61 0h0m0 0h0m6 0h0m5 0h0m13 0h0m21 0h0m6 0h0m5 0h0m25 0h0m43 0h0m15 0h0m5 0h0m27 0h0m-813 1h0m2 0h0m41 0h0m5 0h0m3 0h0m66 0h0m12 0h0m66 0h0m48 0h0m18 0h0m131 0h0m24 0h0m5 0h0m49 0h0m7 0h0m0 0h0m30 0h0m44 0h0m17 0h0m6 0h0m5 0h0m2 0h0m8 0h0m62 0h0m4 0h0m35 0h0m15 0h0m5 0h0m15 0h0m-714 1h0m10 0h0m13 0h0m49 0h0m11 0h0m15 0h0m19 0h0m102 0h0m0 0h0m31 0h0m4 0h0m111 0h0m9 0h0m8 0h0m55 0h0m20 0h0m14 0h0m1 0h0m0 0h0m4 0h0m7 0h0m34 0h0m2 0h0m1 0h0m36 0h0m22 0h0m18 0h0m6 0h0m42 0h0m30 0h0m23 0h0m28 0h0m19 0h0m30 0h0m30 0h0m222 0h0m51 0h0m-1065 1h0m1 0h0m0 0h0m4 0h0m18 0h0m4 0h0m18 0h0m53 0h0m102 0h0m209 0h0m36 0h0m10 0h0m12 0h0m3 0h0m33 0h0m8 0h0m37 0h0m8 0h0m26 0h0m3 0h0m25 0h0m86 0h0m42 0h0m14 0h0m96 0h0m167 0h0m-1048 1h0m44 0h0m6 0h0m57 0h0m14 0h0m3 0h0m15 0h0m21 0h0m42 0h0m58 0h0m2 0h0m8 0h0m14 0h0m3 0h0m116 0h0m69 0h0m3 0h0m6 0h0m8 0h0m5 0h0m19 0h0m0 0h0m63 0h0m58 0h0m3 0h0m7 0h0m1 0h0m5 0h0m115 0h0m261 0h0m-1018 1h0m4 0h0m8 0h0m7 0h0m2 0h0m30 0h0m2 0h0m63 0h0m45 0h0m14 0h0m68 0h0m8 0h0m13 0h0m7 0h0m90 0h0m30 0h0m7 0h0m3 0h0m14 0h0m53 0h0m29 0h0m0 0h0m15 0h0m1 0h0m28 0h0m29 0h0m38 0h0m3 0h0m5 0h0m1 0h0m11 0h0m2 0h0m0 0h0m1 0h0m9 0h0m83 0h0m4 0h0m14 0h0m-704 1h0m63 0h0m3 0h0m2 0h0m27 0h0m45 0h0m51 0h0m19 0h0m33 0h0m176 0h0m13 0h0m5 0h0m2 0h0m9 0h0m16 0h0m6 0h0m4 0h0m24 0h0m7 0h0m3 0h0m5 0h0m2 0h0m3 0h0m7 0h0m1 0h0m7 0h0m65 0h0m84 0h0m15 0h0m281 0h0m-992 1h0m11 0h0m63 0h0m85 0h0m42 0h0m51 0h0m110 0h0m24 0h0m22 0h0m32 0h0m9 0h0m0 0h0m5 0h0m0 0h0m2 0h0m16 0h0m7 0h0m29 0h0m9 0h0m0 0h0m6 0h0m0 0h0m1 0h0m1 0h0m1 0h0m8 0h0m10 0h0m12 0h0m45 0h0m7 0h0m14 0h0m5 0h0m31 0h0m6 0h0m7 0h0m19 0h0m16 0h0m57 0h0m19 0h0m134 0h0m-916 1h0m26 0h0m33 0h0m4 0h0m77 0h0m23 0h0m20 0h0m176 0h0m32 0h0m39 0h0m4 0h0m1 0h0m18 0h0m27 0h0m4 0h0m22 0h0m2 0h0m23 0h0m66 0h0m1 0h0m40 0h0m5 0h0m18 0h0m23 0h0m0 0h0m15 0h0m47 0h0m8 0h0m17 0h0m139 0h0m-927 1h0m9 0h0m1 0h0m23 0h0m0 0h0m11 0h0m29 0h0m29 0h0m7 0h0m43 0h0m11 0h0m30 0h0m7 0h0m18 0h0m13 0h0m20 0h0m9 0h0m17 0h0m151 0h0m23 0h0m9 0h0m26 0h0m34 0h0m0 0h0m20 0h0m0 0h0m30 0h0m57 0h0m11 0h0m14 0h0m8 0h0m24 0h0m49 0h0m20 0h0m10 0h0m9 0h0m10 0h0m19 0h0m265 0h0m-1060 1h0m5 0h0m5 0h0m20 0h0m3 0h0m31 0h0m23 0h0m5 0h0m2 0h0m23 0h0m107 0h0m8 0h0m5 0h0m2 0h0m4 0h0m2 0h0m16 0h0m5 0h0m103 0h0m33 0h0m12 0h0m25 0h0m29 0h0m5 0h0m15 0h0m2 0h0m8 0h0m23 0h0m11 0h0m0 0h0m10 0h0m0 0h0m4 0h0m2 0h0m8 0h0m45 0h0m17 0h0m15 0h0m5 0h0m0 0h0m13 0h0m2 0h0m2 0h0m37 0h0m20 0h0m79 0h0m-804 1h0m3 0h0m5 0h0m5 0h0m32 0h0m11 0h0m18 0h0m36 0h0m2 0h0m17 0h0m3 0h0m101 0h0m0 0h0m9 0h0m36 0h0m8 0h0m94 0h0m5 0h0m1 0h0m87 0h0m10 0h0m22 0h0m23 0h0m15 0h0m1 0h0m6 0h0m5 0h0m14 0h0m3 0h0m47 0h0m72 0h0m2 0h0m5 0h0m46 0h0m37 0h0m16 0h0m235 0h0m57 0h0m-1077 1h0m36 0h0m1 0h0m6 0h0m14 0h0m5 0h0m96 0h0m55 0h0m9 0h0m33 0h0m8 0h0m85 0h0m16 0h0m24 0h0m65 0h0m2 0h0m9 0h0m14 0h0m7 0h0m4 0h0m30 0h0m2 0h0m0 0h0m4 0h0m14 0h0m7 0h0m10 0h0m0 0h0m5 0h0m4 0h0m1 0h0m55 0h0m8 0h0m26 0h0m1 0h0m58 0h0m14 0h0m45 0h0m-741 1h0m28 0h0m28 0h0m7 0h0m7 0h0m6 0h0m25 0h0m7 0h0m75 0h0m0 0h0m9 0h0m4 0h0m16 0h0m0 0h0m21 0h0m103 0h0m6 0h0m11 0h0m16 0h0m57 0h0m17 0h0m6 0h0m12 0h0m6 0h0m22 0h0m15 0h0m11 0h0m2 0h0m10 0h0m3 0h0m14 0h0m2 0h0m30 0h0m16 0h0m8 0h0m7 0h0m16 0h0m26 0h0m28 0h0m22 0h0m43 0h0m10 0h0m-789 1h0m1 0h0m0 0h0m8 0h0m52 0h0m32 0h0m1 0h0m24 0h0m47 0h0m24 0h0m29 0h0m25 0h0m9 0h0m1 0h0m12 0h0m11 0h0m117 0h0m20 0h0m50 0h0m12 0h0m8 0h0m21 0h0m4 0h0m21 0h0m21 0h0m4 0h0m23 0h0m63 0h0m9 0h0m4 0h0m0 0h0m23 0h0m5 0h0m31 0h0m6 0h0m3 0h0m13 0h0m36 0h0m4 0h0m2 0h0m171 0h0m-959 1h0m3 0h0m1 0h0m16 0h0m0 0h0m6 0h0m14 0h0m8 0h0m5 0h0m26 0h0m7 0h0m8 0h0m7 0h0m129 0h0m11 0h0m7 0h0m2 0h0m0 0h0m36 0h0m120 0h0m73 0h0m6 0h0m18 0h0m5 0h0m1 0h0m7 0h0m24 0h0m3 0h0m20 0h0m15 0h0m1 0h0m2 0h0m5 0h0m4 0h0m4 0h0m1 0h0m48 0h0m0 0h0m24 0h0m0 0h0m6 0h0m18 0h0m3 0h0m11 0h0m43 0h0m28 0h0m24 0h0m-793 1h0m1 0h0m16 0h0m2 0h0m67 0h0m2 0h0m23 0h0m7 0h0m1 0h0m0 0h0m0 0h0m0 0h0m9 0h0m112 0h0m24 0h0m3 0h0m6 0h0m107 0h0m56 0h0m29 0h0m0 0h0m12 0h0m5 0h0m10 0h0m9 0h0m12 0h0m1 0h0m12 0h0m3 0h0m14 0h0m19 0h0m41 0h0m10 0h0m27 0h0m23 0h0m37 0h0m33 0h0m1 0h0m5 0h0m1 0h0m21 0h0m3 0h0m11 0h0m3 0h0m-788 1h0m18 0h0m2 0h0m4 0h0m2 0h0m34 0h0m38 0h0m13 0h0m22 0h0m100 0h0m17 0h0m28 0h0m29 0h0m60 0h0m39 0h0m26 0h0m59 0h0m4 0h0m1 0h0m8 0h0m11 0h0m5 0h0m4 0h0m12 0h0m5 0h0m3 0h0m5 0h0m11 0h0m59 0h0m14 0h0m18 0h0m13 0h0m30 0h0m14 0h0m13 0h0m7 0h0m8 0h0m67 0h0m-795 1h0m20 0h0m4 0h0m28 0h0m35 0h0m20 0h0m41 0h0m1 0h0m5 0h0m72 0h0m56 0h0m145 0h0m29 0h0m0 0h0m10 0h0m18 0h0m19 0h0m8 0h0m20 0h0m3 0h0m2 0h0m2 0h0m39 0h0m29 0h0m4 0h0m0 0h0m38 0h0m78 0h0m16 0h0m20 0h0m54 0h0m234 0h0m-1046 1h0m6 0h0m0 0h0m8 0h0m2 0h0m14 0h0m1 0h0m4 0h0m2 0h0m7 0h0m75 0h0m1 0h0m71 0h0m12 0h0m27 0h0m11 0h0m2 0h0m16 0h0m8 0h0m3 0h0m2 0h0m80 0h0m30 0h0m6 0h0m68 0h0m4 0h0m10 0h0m22 0h0m6 0h0m2 0h0m2 0h0m6 0h0m2 0h0m17 0h0m5 0h0m3 0h0m3 0h0m8 0h0m34 0h0m37 0h0m19 0h0m2 0h0m43 0h0m8 0h0m3 0h0m8 0h0m12 0h0m2 0h0m21 0h0m25 0h0m11 0h0m170 0h0m-914 1h0m2 0h0m78 0h0m6 0h0m109 0h0m10 0h0m16 0h0m4 0h0m3 0h0m5 0h0m16 0h0m76 0h0m50 0h0m53 0h0m12 0h0m4 0h0m11 0h0m21 0h0m8 0h0m24 0h0m18 0h0m3 0h0m17 0h0m9 0h0m4 0h0m37 0h0m41 0h0m24 0h0m24 0h0m14 0h0m4 0h0m287 0h0m-1011 1h0m26 0h0m36 0h0m1 0h0m5 0h0m27 0h0m20 0h0m69 0h0m44 0h0m2 0h0m4 0h0m1 0h0m2 0h0m95 0h0m34 0h0m20 0h0m1 0h0m14 0h0m45 0h0m19 0h0m9 0h0m0 0h0m15 0h0m0 0h0m30 0h0m10 0h0m17 0h0m12 0h0m46 0h0m17 0h0m107 0h0m6 0h0m1 0h0m22 0h0m328 0h0m-1065 1h0m43 0h0m32 0h0m7 0h0m35 0h0m78 0h0m28 0h0m7 0h0m83 0h0m48 0h0m33 0h0m14 0h0m13 0h0m21 0h0m17 0h0m0 0h0m22 0h0m32 0h0m32 0h0m2 0h0m32 0h0m5 0h0m74 0h0m24 0h0m78 0h0m11 0h0m2 0h0m2 0h0m2 0h0m131 0h0m57 0h0m-998 1h0m9 0h0m0 0h0m19 0h0m1 0h0m7 0h0m44 0h0m97 0h0m36 0h0m25 0h0m36 0h0m3 0h0m10 0h0m90 0h0m19 0h0m21 0h0m11 0h0m12 0h0m20 0h0m5 0h0m7 0h0m4 0h0m42 0h0m30 0h0m7 0h0m17 0h0m2 0h0m17 0h0m1 0h0m3 0h0m46 0h0m1 0h0m6 0h0m2 0h0m13 0h0m36 0h0m227 0h0m-931 1h0m3 0h0m12 0h0m26 0h0m7 0h0m2 0h0m4 0h0m45 0h0m11 0h0m9 0h0m114 0h0m11 0h0m12 0h0m1 0h0m2 0h0m1 0h0m1 0h0m3 0h0m46 0h0m7 0h0m38 0h0m46 0h0m17 0h0m45 0h0m0 0h0m6 0h0m2 0h0m2 0h0m3 0h0m6 0h0m6 0h0m6 0h0m7 0h0m1 0h0m2 0h0m8 0h0m5 0h0m4 0h0m2 0h0m36 0h0m4 0h0m0 0h0m7 0h0m8 0h0m22 0h0m47 0h0m2 0h0m2 0h0m11 0h0m1 0h0m165 0h0m1 0h0m-828 1h0m8 0h0m4 0h0m2 0h0m36 0h0m3 0h0m7 0h0m2 0h0m29 0h0m17 0h0m7 0h0m9 0h0m5 0h0m2 0h0m6 0h0m108 0h0m5 0h0m1 0h0m71 0h0m83 0h0m22 0h0m10 0h0m5 0h0m2 0h0m22 0h0m35 0h0m5 0h0m0 0h0m1 0h0m4 0h0m10 0h0m47 0h0m0 0h0m11 0h0m7 0h0m10 0h0m0 0h0m2 0h0m45 0h0m5 0h0m4 0h0m1 0h0m3 0h0m36 0h0m103 0h0m164 0h0m-958 1h0m3 0h0m6 0h0m13 0h0m20 0h0m39 0h0m7 0h0m17 0h0m4 0h0m15 0h0m0 0h0m3 0h0m8 0h0m18 0h0m12 0h0m31 0h0m13 0h0m22 0h0m17 0h0m8 0h0m5 0h0m126 0h0m24 0h0m31 0h0m23 0h0m0 0h0m7 0h0m13 0h0m7 0h0m18 0h0m0 0h0m25 0h0m21 0h0m6 0h0m2 0h0m7 0h0m5 0h0m0 0h0m6 0h0m0 0h0m7 0h0m33 0h0m5 0h0m9 0h0m4 0h0m4 0h0m58 0h0m5 0h0m19 0h0m24 0h0m25 0h0m7 0h0m20 0h0m19 0h0m111 0h0m27 0h0m90 0h0m-1037 1h0m29 0h0m21 0h0m27 0h0m8 0h0m10 0h0m73 0h0m24 0h0m47 0h0m15 0h0m6 0h0m2 0h0m0 0h0m0 0h0m5 0h0m13 0h0m22 0h0m25 0h0m62 0h0m18 0h0m39 0h0m6 0h0m3 0h0m0 0h0m1 0h0m0 0h0m16 0h0m6 0h0m18 0h0m3 0h0m8 0h0m3 0h0m18 0h0m5 0h0m3 0h0m22 0h0m7 0h0m4 0h0m7 0h0m1 0h0m32 0h0m4 0h0m2 0h0m1 0h0m4 0h0m20 0h0m0 0h0m36 0h0m4 0h0m7 0h0m38 0h0m41 0h0m195 0h0m35 0h0m41 0h0m82 0h0m-1125 1h0m16 0h0m6 0h0m27 0h0m31 0h0m17 0h0m18 0h0m4 0h0m1 0h0m11 0h0m93 0h0m2 0h0m6 0h0m34 0h0m6 0h0m72 0h0m65 0h0m2 0h0m25 0h0m15 0h0m7 0h0m8 0h0m2 0h0m20 0h0m4 0h0m5 0h0m12 0h0m24 0h0m17 0h0m8 0h0m21 0h0m4 0h0m26 0h0m0 0h0m4 0h0m15 0h0m6 0h0m16 0h0m5 0h0m8 0h0m37 0h0m5 0h0m12 0h0m2 0h0m22 0h0m2 0h0m20 0h0m33 0h0m11 0h0m125 0h0m70 0h0m115 0h0m-1119 1h0m22 0h0m2 0h0m20 0h0m1 0h0m2 0h0m25 0h0m20 0h0m17 0h0m5 0h0m14 0h0m1 0h0m35 0h0m42 0h0m22 0h0m11 0h0m20 0h0m18 0h0m5 0h0m5 0h0m96 0h0m2 0h0m13 0h0m2 0h0m2 0h0m1 0h0m7 0h0m47 0h0m5 0h0m8 0h0m10 0h0m25 0h0m2 0h0m1 0h0m5 0h0m38 0h0m38 0h0m34 0h0m7 0h0m7 0h0m16 0h0m30 0h0m0 0h0m2 0h0m19 0h0m24 0h0m35 0h0m276 0h0m68 0h0m-1113 1h0m9 0h0m10 0h0m6 0h0m5 0h0m2 0h0m2 0h0m0 0h0m5 0h0m15 0h0m8 0h0m25 0h0m1 0h0m18 0h0m1 0h0m34 0h0m40 0h0m3 0h0m17 0h0m1 0h0m35 0h0m50 0h0m98 0h0m36 0h0m51 0h0m9 0h0m2 0h0m18 0h0m6 0h0m9 0h0m7 0h0m16 0h0m2 0h0m4 0h0m2 0h0m2 0h0m2 0h0m7 0h0m4 0h0m19 0h0m6 0h0m34 0h0m10 0h0m26 0h0m2 0h0m13 0h0m35 0h0m15 0h0m5 0h0m21 0h0m24 0h0m20 0h0m10 0h0m9 0h0m289 0h0m-1088 1h0m74 0h0m9 0h0m13 0h0m28 0h0m108 0h0m11 0h0m6 0h0m1 0h0m3 0h0m5 0h0m5 0h0m3 0h0m2 0h0m5 0h0m0 0h0m0 0h0m2 0h0m82 0h0m13 0h0m19 0h0m34 0h0m8 0h0m46 0h0m8 0h0m9 0h0m8 0h0m7 0h0m33 0h0m0 0h0m15 0h0m48 0h0m7 0h0m7 0h0m29 0h0m6 0h0m5 0h0m19 0h0m7 0h0m74 0h0m5 0h0m16 0h0m32 0h0m4 0h0m-809 1h0m7 0h0m28 0h0m0 0h0m4 0h0m18 0h0m3 0h0m18 0h0m18 0h0m21 0h0m61 0h0m51 0h0m22 0h0m5 0h0m18 0h0m56 0h0m15 0h0m54 0h0m50 0h0m8 0h0m7 0h0m0 0h0m28 0h0m24 0h0m16 0h0m8 0h0m0 0h0m1 0h0m1 0h0m10 0h0m0 0h0m8 0h0m0 0h0m2 0h0m8 0h0m9 0h0m18 0h0m11 0h0m2 0h0m4 0h0m18 0h0m9 0h0m2 0h0m40 0h0m28 0h0m23 0h0m68 0h0m-789 1h0m5 0h0m3 0h0m24 0h0m12 0h0m0 0h0m2 0h0m2 0h0m10 0h0m26 0h0m9 0h0m2 0h0m2 0h0m86 0h0m14 0h0m26 0h0m6 0h0m8 0h0m85 0h0m31 0h0m31 0h0m3 0h0m19 0h0m7 0h0m2 0h0m21 0h0m6 0h0m12 0h0m1 0h0m8 0h0m1 0h0m1 0h0m2 0h0m2 0h0m1 0h0m2 0h0m4 0h0m0 0h0m12 0h0m20 0h0m5 0h0m16 0h0m6 0h0m9 0h0m7 0h0m1 0h0m52 0h0m36 0h0m1 0h0m4 0h0m23 0h0m2 0h0m1 0h0m30 0h0m11 0h0m2 0h0m6 0h0m34 0h0m2 0h0m24 0h0m137 0h0m138 0h0m-1080 1h0m7 0h0m2 0h0m11 0h0m1 0h0m15 0h0m11 0h0m27 0h0m29 0h0m13 0h0m2 0h0m13 0h0m0 0h0m21 0h0m39 0h0m13 0h0m20 0h0m1 0h0m1 0h0m26 0h0m20 0h0m13 0h0m39 0h0m73 0h0m2 0h0m18 0h0m49 0h0m0 0h0m19 0h0m19 0h0m9 0h0m15 0h0m11 0h0m5 0h0m1 0h0m0 0h0m5 0h0m1 0h0m14 0h0m5 0h0m4 0h0m14 0h0m0 0h0m17 0h0m5 0h0m2 0h0m2 0h0m3 0h0m14 0h0m1 0h0m5 0h0m5 0h0m26 0h0m67 0h0m5 0h0m2 0h0m20 0h0m150 0h0m88 0h0m-991 1h0m0 0h0m7 0h0m12 0h0m45 0h0m4 0h0m5 0h0m29 0h0m5 0h0m5 0h0m118 0h0m71 0h0m2 0h0m8 0h0m65 0h0m20 0h0m21 0h0m12 0h0m43 0h0m7 0h0m4 0h0m8 0h0m5 0h0m11 0h0m21 0h0m30 0h0m6 0h0m45 0h0m17 0h0m14 0h0m1 0h0m10 0h0m33 0h0m1 0h0m11 0h0m8 0h0m5 0h0m1 0h0m1 0h0m6 0h0m16 0h0m279 0h0m8 0h0m81 0h0m-1116 1h0m17 0h0m15 0h0m56 0h0m30 0h0m2 0h0m122 0h0m15 0h0m6 0h0m8 0h0m6 0h0m0 0h0m65 0h0m0 0h0m85 0h0m18 0h0m70 0h0m3 0h0m2 0h0m1 0h0m19 0h0m2 0h0m8 0h0m3 0h0m18 0h0m13 0h0m0 0h0m15 0h0m14 0h0m97 0h0m11 0h0m6 0h0m12 0h0m61 0h0m-790 1h0m8 0h0m12 0h0m18 0h0m5 0h0m6 0h0m21 0h0m11 0h0m26 0h0m36 0h0m7 0h0m75 0h0m18 0h0m23 0h0m11 0h0m57 0h0m38 0h0m15 0h0m4 0h0m2 0h0m2 0h0m19 0h0m35 0h0m20 0h0m5 0h0m2 0h0m14 0h0m5 0h0m3 0h0m32 0h0m2 0h0m9 0h0m1 0h0m3 0h0m6 0h0m4 0h0m1 0h0m1 0h0m16 0h0m4 0h0m2 0h0m2 0h0m20 0h0m5 0h0m3 0h0m10 0h0m22 0h0m9 0h0m3 0h0m26 0h0m30 0h0m7 0h0m10 0h0m2 0h0m41 0h0m4 0h0m1 0h0m30 0h0m146 0h0m46 0h0m-1008 1h0m5 0h0m5 0h0m24 0h0m5 0h0m19 0h0m6 0h0m0 0h0m45 0h0m4 0h0m5 0h0m2 0h0m6 0h0m5 0h0m40 0h0m84 0h0m11 0h0m68 0h0m5 0h0m18 0h0m31 0h0m16 0h0m5 0h0m9 0h0m5 0h0m16 0h0m23 0h0m14 0h0m4 0h0m11 0h0m0 0h0m13 0h0m0 0h0m12 0h0m27 0h0m5 0h0m12 0h0m10 0h0m2 0h0m46 0h0m28 0h0m22 0h0m5 0h0m36 0h0m20 0h0m60 0h0m7 0h0m21 0h0m291 0h0m-1106 1h0m15 0h0m0 0h0m3 0h0m1 0h0m9 0h0m1 0h0m8 0h0m21 0h0m1 0h0m20 0h0m6 0h0m17 0h0m5 0h0m15 0h0m124 0h0m9 0h0m8 0h0m18 0h0m2 0h0m0 0h0m73 0h0m51 0h0m21 0h0m2 0h0m28 0h0m4 0h0m10 0h0m6 0h0m8 0h0m2 0h0m10 0h0m2 0h0m51 0h0m5 0h0m8 0h0m1 0h0m1 0h0m63 0h0m23 0h0m54 0h0m2 0h0m15 0h0m16 0h0m6 0h0m35 0h0m26 0h0m23 0h0m207 0h0m-1033 1h0m17 0h0m1 0h0m13 0h0m9 0h0m7 0h0m10 0h0m2 0h0m36 0h0m7 0h0m57 0h0m1 0h0m2 0h0m44 0h0m23 0h0m32 0h0m3 0h0m58 0h0m35 0h0m51 0h0m23 0h0m24 0h0m12 0h0m2 0h0m0 0h0m3 0h0m3 0h0m21 0h0m2 0h0m11 0h0m26 0h0m6 0h0m1 0h0m1 0h0m1 0h0m0 0h0m1 0h0m4 0h0m44 0h0m31 0h0m7 0h0m0 0h0m30 0h0m2 0h0m4 0h0m1 0h0m2 0h0m15 0h0m6 0h0m51 0h0m3 0h0m17 0h0m16 0h0m43 0h0m-822 1h0m0 0h0m3 0h0m41 0h0m50 0h0m3 0h0m8 0h0m26 0h0m4 0h0m67 0h0m47 0h0m25 0h0m3 0h0m4 0h0m9 0h0m130 0h0m20 0h0m20 0h0m4 0h0m1 0h0m7 0h0m7 0h0m29 0h0m3 0h0m10 0h0m13 0h0m4 0h0m12 0h0m5 0h0m9 0h0m8 0h0m24 0h0m31 0h0m0 0h0m18 0h0m56 0h0m32 0h0m11 0h0m50 0h0m9 0h0m130 0h0m-934 1h0m1 0h0m5 0h0m9 0h0m14 0h0m2 0h0m19 0h0m29 0h0m1 0h0m7 0h0m22 0h0m6 0h0m24 0h0m36 0h0m4 0h0m14 0h0m6 0h0m33 0h0m3 0h0m12 0h0m0 0h0m7 0h0m3 0h0m3 0h0m3 0h0m4 0h0m12 0h0m7 0h0m99 0h0m33 0h0m17 0h0m1 0h0m2 0h0m30 0h0m4 0h0m24 0h0m16 0h0m4 0h0m1 0h0m1 0h0m20 0h0m7 0h0m13 0h0m10 0h0m1 0h0m4 0h0m0 0h0m15 0h0m1 0h0m23 0h0m30 0h0m24 0h0m2 0h0m50 0h0m6 0h0m72 0h0m-795 1h0m18 0h0m5 0h0m6 0h0m1 0h0m26 0h0m48 0h0m60 0h0m18 0h0m52 0h0m0 0h0m11 0h0m9 0h0m0 0h0m13 0h0m6 0h0m4 0h0m3 0h0m7 0h0m80 0h0m12 0h0m7 0h0m23 0h0m47 0h0m4 0h0m9 0h0m24 0h0m1 0h0m27 0h0m34 0h0m12 0h0m21 0h0m3 0h0m40 0h0m13 0h0m14 0h0m57 0h0m7 0h0m10 0h0m7 0h0m6 0h0m39 0h0m5 0h0m8 0h0m181 0h0m36 0h0m40 0h0m-1054 1h0m24 0h0m1 0h0m84 0h0m5 0h0m14 0h0m29 0h0m46 0h0m31 0h0m14 0h0m8 0h0m17 0h0m1 0h0m10 0h0m0 0h0m1 0h0m5 0h0m17 0h0m80 0h0m1 0h0m6 0h0m4 0h0m0 0h0m3 0h0m21 0h0m37 0h0m9 0h0m3 0h0m6 0h0m3 0h0m6 0h0m5 0h0m2 0h0m18 0h0m44 0h0m0 0h0m5 0h0m19 0h0m11 0h0m33 0h0m25 0h0m8 0h0m13 0h0m4 0h0m28 0h0m5 0h0m4 0h0m23 0h0m32 0h0m48 0h0m11 0h0m184 0h0m9 0h0m-1019 1h0m6 0h0m30 0h0m3 0h0m41 0h0m13 0h0m26 0h0m17 0h0m43 0h0m51 0h0m4 0h0m13 0h0m13 0h0m3 0h0m1 0h0m0 0h0m14 0h0m3 0h0m2 0h0m77 0h0m24 0h0m22 0h0m1 0h0m65 0h0m37 0h0m5 0h0m4 0h0m20 0h0m7 0h0m4 0h0m7 0h0m7 0h0m1 0h0m13 0h0m6 0h0m6 0h0m53 0h0m18 0h0m2 0h0m30 0h0m42 0h0m5 0h0m4 0h0m3 0h0m6 0h0m20 0h0m5 0h0m18 0h0m132 0h0m1 0h0m13 0h0m25 0h0m-965 1h0m5 0h0m3 0h0m12 0h0m5 0h0m11 0h0m18 0h0m5 0h0m3 0h0m0 0h0m22 0h0m1 0h0m32 0h0m9 0h0m1 0h0m10 0h0m2 0h0m12 0h0m35 0h0m6 0h0m41 0h0m0 0h0m18 0h0m22 0h0m6 0h0m7 0h0m73 0h0m25 0h0m1 0h0m14 0h0m13 0h0m0 0h0m27 0h0m1 0h0m19 0h0m0 0h0m9 0h0m12 0h0m4 0h0m4 0h0m0 0h0m5 0h0m5 0h0m6 0h0m49 0h0m18 0h0m11 0h0m42 0h0m7 0h0m14 0h0m3 0h0m17 0h0m26 0h0m7 0h0m22 0h0m24 0h0m64 0h0m-803 1h0m7 0h0m1 0h0m15 0h0m11 0h0m2 0h0m3 0h0m56 0h0m10 0h0m4 0h0m38 0h0m9 0h0m27 0h0m67 0h0m4 0h0m18 0h0m9 0h0m158 0h0m37 0h0m4 0h0m5 0h0m5 0h0m42 0h0m14 0h0m13 0h0m12 0h0m36 0h0m0 0h0m3 0h0m3 0h0m19 0h0m17 0h0m20 0h0m42 0h0m1 0h0m11 0h0m4 0h0m1 0h0m1 0h0m10 0h0m3 0h0m0 0h0m18 0h0m35 0h0m25 0h0m139 0h0m-944 1h0m2 0h0m3 0h0m8 0h0m8 0h0m4 0h0m3 0h0m13 0h0m20 0h0m11 0h0m19 0h0m46 0h0m13 0h0m13 0h0m54 0h0m7 0h0m1 0h0m6 0h0m12 0h0m29 0h0m33 0h0m12 0h0m89 0h0m35 0h0m2 0h0m0 0h0m19 0h0m7 0h0m11 0h0m6 0h0m4 0h0m48 0h0m21 0h0m0 0h0m1 0h0m33 0h0m5 0h0m56 0h0m22 0h0m20 0h0m2 0h0m30 0h0m22 0h0m12 0h0m11 0h0m6 0h0m20 0h0m0 0h0m9 0h0m-829 1h0m16 0h0m5 0h0m17 0h0m13 0h0m13 0h0m58 0h0m14 0h0m0 0h0m2 0h0m0 0h0m30 0h0m6 0h0m55 0h0m0 0h0m21 0h0m11 0h0m7 0h0m1 0h0m5 0h0m5 0h0m64 0h0m7 0h0m39 0h0m4 0h0m21 0h0m7 0h0m15 0h0m34 0h0m1 0h0m1 0h0m8 0h0m3 0h0m14 0h0m10 0h0m29 0h0m11 0h0m5 0h0m2 0h0m11 0h0m5 0h0m16 0h0m1 0h0m1 0h0m7 0h0m38 0h0m13 0h0m5 0h0m1 0h0m2 0h0m46 0h0m5 0h0m29 0h0m-736 1h0m6 0h0m4 0h0m12 0h0m3 0h0m14 0h0m2 0h0m6 0h0m7 0h0m44 0h0m1 0h0m4 0h0m19 0h0m4 0h0m73 0h0m41 0h0m2 0h0m4 0h0m25 0h0m5 0h0m2 0h0m4 0h0m4 0h0m4 0h0m19 0h0m74 0h0m0 0h0m27 0h0m14 0h0m1 0h0m6 0h0m48 0h0m3 0h0m2 0h0m6 0h0m8 0h0m6 0h0m10 0h0m23 0h0m4 0h0m0 0h0m5 0h0m20 0h0m16 0h0m8 0h0m10 0h0m36 0h0m56 0h0m7 0h0m9 0h0m1 0h0m8 0h0m2 0h0m4 0h0m8 0h0m7 0h0m2 0h0m27 0h0m27 0h0m10 0h0m13 0h0m-816 1h0m14 0h0m4 0h0m11 0h0m9 0h0m0 0h0m9 0h0m4 0h0m33 0h0m20 0h0m26 0h0m73 0h0m10 0h0m32 0h0m1 0h0m24 0h0m2 0h0m8 0h0m50 0h0m52 0h0m31 0h0m4 0h0m2 0h0m2 0h0m6 0h0m7 0h0m25 0h0m8 0h0m20 0h0m49 0h0m4 0h0m1 0h0m1 0h0m91 0h0m1 0h0m28 0h0m2 0h0m61 0h0m6 0h0m22 0h0m61 0h0m181 0h0m56 0h0m-1049 1h0m1 0h0m14 0h0m4 0h0m11 0h0m1 0h0m64 0h0m3 0h0m20 0h0m9 0h0m102 0h0m18 0h0m35 0h0m5 0h0m4 0h0m17 0h0m50 0h0m26 0h0m1 0h0m9 0h0m3 0h0m6 0h0m14 0h0m23 0h0m21 0h0m6 0h0m2 0h0m6 0h0m12 0h0m7 0h0m6 0h0m7 0h0m38 0h0m1 0h0m9 0h0m2 0h0m13 0h0m25 0h0m16 0h0m6 0h0m36 0h0m10 0h0m5 0h0m4 0h0m21 0h0m0 0h0m16 0h0m15 0h0m1 0h0m10 0h0m12 0h0m1 0h0m1 0h0m33 0h0m-770 1h0m12 0h0m2 0h0m8 0h0m2 0h0m1 0h0m12 0h0m7 0h0m2 0h0m0 0h0m0 0h0m36 0h0m10 0h0m1 0h0m4 0h0m13 0h0m1 0h0m13 0h0m60 0h0m32 0h0m5 0h0m18 0h0m12 0h0m9 0h0m2 0h0m37 0h0m76 0h0m11 0h0m16 0h0m4 0h0m1 0h0m46 0h0m12 0h0m24 0h0m4 0h0m38 0h0m16 0h0m0 0h0m8 0h0m26 0h0m64 0h0m6 0h0m11 0h0m20 0h0m3 0h0m89 0h0m179 0h0m34 0h0m-991 1h0m1 0h0m3 0h0m4 0h0m0 0h0m2 0h0m21 0h0m10 0h0m1 0h0m6 0h0m3 0h0m27 0h0m7 0h0m1 0h0m10 0h0m2 0h0m4 0h0m6 0h0m11 0h0m31 0h0m33 0h0m5 0h0m12 0h0m37 0h0m9 0h0m2 0h0m11 0h0m5 0h0m5 0h0m1 0h0m134 0h0m45 0h0m2 0h0m16 0h0m8 0h0m17 0h0m1 0h0m20 0h0m20 0h0m5 0h0m1 0h0m18 0h0m13 0h0m1 0h0m1 0h0m35 0h0m3 0h0m3 0h0m13 0h0m11 0h0m1 0h0m0 0h0m4 0h0m9 0h0m4 0h0m5 0h0m38 0h0m60 0h0m35 0h0m18 0h0m7 0h0m108 0h0m1 0h0m58 0h0m56 0h0m-1042 1h0m5 0h0m18 0h0m27 0h0m2 0h0m0 0h0m34 0h0m70 0h0m35 0h0m2 0h0m28 0h0m6 0h0m3 0h0m3 0h0m0 0h0m11 0h0m17 0h0m1 0h0m10 0h0m10 0h0m94 0h0m23 0h0m24 0h0m9 0h0m1 0h0m30 0h0m0 0h0m19 0h0m1 0h0m6 0h0m10 0h0m6 0h0m28 0h0m11 0h0m16 0h0m15 0h0m5 0h0m4 0h0m23 0h0m1 0h0m17 0h0m4 0h0m1 0h0m1 0h0m12 0h0m42 0h0m23 0h0m8 0h0m26 0h0m0 0h0m47 0h0m5 0h0m5 0h0m3 0h0m133 0h0m67 0h0m-1009 1h0m3 0h0m5 0h0m5 0h0m7 0h0m6 0h0m25 0h0m2 0h0m4 0h0m5 0h0m44 0h0m2 0h0m7 0h0m12 0h0m11 0h0m61 0h0m12 0h0m27 0h0m1 0h0m2 0h0m13 0h0m3 0h0m9 0h0m4 0h0m19 0h0m16 0h0m76 0h0m11 0h0m1 0h0m1 0h0m0 0h0m34 0h0m41 0h0m2 0h0m3 0h0m12 0h0m0 0h0m4 0h0m3 0h0m6 0h0m15 0h0m2 0h0m5 0h0m14 0h0m2 0h0m4 0h0m12 0h0m17 0h0m9 0h0m14 0h0m43 0h0m39 0h0m38 0h0m5 0h0m94 0h0m6 0h0m1 0h0m305 0h0m-1125 1h0m4 0h0m22 0h0m9 0h0m9 0h0m2 0h0m42 0h0m22 0h0m16 0h0m1 0h0m7 0h0m20 0h0m2 0h0m57 0h0m16 0h0m1 0h0m1 0h0m6 0h0m19 0h0m7 0h0m1 0h0m11 0h0m72 0h0m5 0h0m30 0h0m27 0h0m7 0h0m15 0h0m30 0h0m1 0h0m7 0h0m11 0h0m13 0h0m19 0h0m1 0h0m6 0h0m31 0h0m24 0h0m9 0h0m2 0h0m56 0h0m4 0h0m25 0h0m18 0h0m9 0h0m4 0h0m7 0h0m94 0h0m20 0h0m95 0h0m43 0h0m-961 1h0m10 0h0m8 0h0m2 0h0m2 0h0m11 0h0m1 0h0m19 0h0m1 0h0m6 0h0m30 0h0m8 0h0m1 0h0m4 0h0m15 0h0m9 0h0m55 0h0m34 0h0m17 0h0m6 0h0m10 0h0m11 0h0m3 0h0m3 0h0m8 0h0m114 0h0m2 0h0m19 0h0m10 0h0m17 0h0m27 0h0m2 0h0m3 0h0m0 0h0m27 0h0m26 0h0m18 0h0m4 0h0m51 0h0m40 0h0m1 0h0m2 0h0m34 0h0m36 0h0m3 0h0m17 0h0m282 0h0m-981 1h0m4 0h0m15 0h0m11 0h0m3 0h0m39 0h0m8 0h0m11 0h0m11 0h0m0 0h0m47 0h0m2 0h0m6 0h0m50 0h0m29 0h0m7 0h0m6 0h0m8 0h0m3 0h0m1 0h0m96 0h0m47 0h0m8 0h0m7 0h0m24 0h0m2 0h0m3 0h0m2 0h0m10 0h0m32 0h0m20 0h0m3 0h0m1 0h0m15 0h0m16 0h0m13 0h0m54 0h0m25 0h0m5 0h0m35 0h0m32 0h0m78 0h0m120 0h0m-918 1h0m20 0h0m5 0h0m20 0h0m20 0h0m21 0h0m11 0h0m13 0h0m2 0h0m8 0h0m0 0h0m20 0h0m30 0h0m11 0h0m6 0h0m23 0h0m2 0h0m3 0h0m4 0h0m7 0h0m45 0h0m94 0h0m33 0h0m27 0h0m0 0h0m26 0h0m27 0h0m0 0h0m2 0h0m7 0h0m15 0h0m19 0h0m2 0h0m7 0h0m2 0h0m15 0h0m23 0h0m5 0h0m22 0h0m5 0h0m2 0h0m35 0h0m9 0h0m5 0h0m48 0h0m15 0h0m12 0h0m6 0h0m46 0h0m12 0h0m18 0h0m144 0h0m105 0h0m-1070 1h0m5 0h0m14 0h0m18 0h0m5 0h0m2 0h0m3 0h0m22 0h0m19 0h0m58 0h0m8 0h0m23 0h0m33 0h0m48 0h0m0 0h0m4 0h0m22 0h0m19 0h0m20 0h0m37 0h0m27 0h0m18 0h0m6 0h0m41 0h0m3 0h0m9 0h0m6 0h0m0 0h0m11 0h0m0 0h0m7 0h0m1 0h0m9 0h0m1 0h0m0 0h0m5 0h0m31 0h0m11 0h0m0 0h0m4 0h0m16 0h0m4 0h0m12 0h0m4 0h0m6 0h0m16 0h0m38 0h0m13 0h0m23 0h0m2 0h0m0 0h0m6 0h0m17 0h0m8 0h0m1 0h0m87 0h0m156 0h0m32 0h0m-996 1h0m3 0h0m7 0h0m1 0h0m2 0h0m3 0h0m11 0h0m4 0h0m4 0h0m5 0h0m3 0h0m2 0h0m4 0h0m3 0h0m7 0h0m2 0h0m20 0h0m23 0h0m77 0h0m59 0h0m17 0h0m1 0h0m2 0h0m6 0h0m11 0h0m3 0h0m53 0h0m32 0h0m14 0h0m32 0h0m9 0h0m1 0h0m9 0h0m1 0h0m8 0h0m17 0h0m1 0h0m4 0h0m5 0h0m1 0h0m7 0h0m16 0h0m12 0h0m11 0h0m27 0h0m4 0h0m6 0h0m5 0h0m4 0h0m4 0h0m1 0h0m2 0h0m4 0h0m4 0h0m23 0h0m17 0h0m8 0h0m26 0h0m4 0h0m5 0h0m2 0h0m10 0h0m16 0h0m19 0h0m80 0h0m25 0h0m122 0h0m62 0h0m-991 1h0m6 0h0m1 0h0m8 0h0m9 0h0m7 0h0m0 0h0m4 0h0m3 0h0m0 0h0m7 0h0m2 0h0m4 0h0m4 0h0m25 0h0m17 0h0m21 0h0m11 0h0m68 0h0m4 0h0m0 0h0m34 0h0m10 0h0m1 0h0m2 0h0m21 0h0m72 0h0m9 0h0m32 0h0m0 0h0m7 0h0m5 0h0m15 0h0m14 0h0m38 0h0m1 0h0m3 0h0m17 0h0m2 0h0m8 0h0m4 0h0m1 0h0m4 0h0m1 0h0m0 0h0m32 0h0m3 0h0m1 0h0m2 0h0m3 0h0m0 0h0m1 0h0m1 0h0m5 0h0m3 0h0m66 0h0m11 0h0m4 0h0m24 0h0m7 0h0m30 0h0m11 0h0m15 0h0m10 0h0m11 0h0m3 0h0m20 0h0m14 0h0m1 0h0m17 0h0m5 0h0m11 0h0m6 0h0m1 0h0m307 0h0m-1118 1h0m0 0h0m7 0h0m1 0h0m1 0h0m5 0h0m8 0h0m12 0h0m11 0h0m5 0h0m13 0h0m6 0h0m16 0h0m3 0h0m4 0h0m10 0h0m7 0h0m57 0h0m6 0h0m24 0h0m39 0h0m19 0h0m4 0h0m22 0h0m34 0h0m8 0h0m47 0h0m35 0h0m8 0h0m17 0h0m16 0h0m8 0h0m16 0h0m1 0h0m1 0h0m5 0h0m5 0h0m10 0h0m1 0h0m9 0h0m38 0h0m5 0h0m19 0h0m6 0h0m9 0h0m28 0h0m4 0h0m5 0h0m11 0h0m0 0h0m8 0h0m1 0h0m5 0h0m6 0h0m4 0h0m29 0h0m28 0h0m2 0h0m22 0h0m21 0h0m4 0h0m8 0h0m3 0h0m23 0h0m174 0h0m182 0h0m-1151 1h0m1 0h0m5 0h0m6 0h0m1 0h0m19 0h0m5 0h0m2 0h0m1 0h0m8 0h0m25 0h0m28 0h0m21 0h0m2 0h0m57 0h0m6 0h0m36 0h0m23 0h0m3 0h0m4 0h0m5 0h0m3 0h0m18 0h0m39 0h0m58 0h0m5 0h0m56 0h0m23 0h0m8 0h0m7 0h0m2 0h0m8 0h0m9 0h0m3 0h0m11 0h0m23 0h0m1 0h0m9 0h0m1 0h0m4 0h0m1 0h0m1 0h0m20 0h0m3 0h0m20 0h0m19 0h0m42 0h0m2 0h0m52 0h0m2 0h0m8 0h0m14 0h0m13 0h0m52 0h0m9 0h0m10 0h0m186 0h0m-1006 1h0m12 0h0m9 0h0m8 0h0m2 0h0m4 0h0m1 0h0m4 0h0m10 0h0m29 0h0m2 0h0m8 0h0m24 0h0m13 0h0m4 0h0m45 0h0m25 0h0m1 0h0m44 0h0m2 0h0m19 0h0m11 0h0m5 0h0m8 0h0m16 0h0m100 0h0m10 0h0m4 0h0m9 0h0m29 0h0m2 0h0m26 0h0m1 0h0m5 0h0m5 0h0m4 0h0m0 0h0m3 0h0m9 0h0m0 0h0m0 0h0m1 0h0m37 0h0m3 0h0m3 0h0m1 0h0m17 0h0m6 0h0m10 0h0m1 0h0m1 0h0m19 0h0m1 0h0m10 0h0m32 0h0m11 0h0m6 0h0m15 0h0m27 0h0m0 0h0m11 0h0m5 0h0m3 0h0m10 0h0m230 0h0m-974 1h0m1 0h0m8 0h0m11 0h0m10 0h0m1 0h0m3 0h0m1 0h0m7 0h0m5 0h0m8 0h0m2 0h0m27 0h0m3 0h0m26 0h0m4 0h0m9 0h0m3 0h0m76 0h0m27 0h0m26 0h0m19 0h0m65 0h0m50 0h0m3 0h0m3 0h0m5 0h0m1 0h0m15 0h0m20 0h0m2 0h0m0 0h0m3 0h0m40 0h0m3 0h0m3 0h0m1 0h0m17 0h0m43 0h0m12 0h0m6 0h0m1 0h0m0 0h0m1 0h0m9 0h0m5 0h0m3 0h0m8 0h0m28 0h0m13 0h0m59 0h0m9 0h0m2 0h0m25 0h0m17 0h0m1 0h0m21 0h0m43 0h0m230 0h0m-1042 1h0m4 0h0m3 0h0m1 0h0m7 0h0m2 0h0m8 0h0m3 0h0m9 0h0m5 0h0m18 0h0m0 0h0m24 0h0m5 0h0m17 0h0m9 0h0m6 0h0m9 0h0m59 0h0m48 0h0m0 0h0m23 0h0m0 0h0m25 0h0m0 0h0m81 0h0m21 0h0m22 0h0m2 0h0m31 0h0m19 0h0m3 0h0m1 0h0m9 0h0m1 0h0m13 0h0m1 0h0m2 0h0m7 0h0m41 0h0m4 0h0m14 0h0m9 0h0m11 0h0m6 0h0m6 0h0m30 0h0m67 0h0m0 0h0m9 0h0m16 0h0m0 0h0m11 0h0m6 0h0m4 0h0m54 0h0m20 0h0m201 0h0m-1005 1h0m15 0h0m0 0h0m11 0h0m8 0h0m13 0h0m3 0h0m1 0h0m3 0h0m4 0h0m13 0h0m9 0h0m16 0h0m3 0h0m12 0h0m4 0h0m19 0h0m67 0h0m3 0h0m29 0h0m0 0h0m8 0h0m17 0h0m2 0h0m4 0h0m2 0h0m20 0h0m18 0h0m17 0h0m33 0h0m33 0h0m11 0h0m5 0h0m13 0h0m4 0h0m7 0h0m13 0h0m18 0h0m25 0h0m15 0h0m10 0h0m9 0h0m13 0h0m42 0h0m0 0h0m8 0h0m8 0h0m2 0h0m29 0h0m10 0h0m7 0h0m12 0h0m4 0h0m35 0h0m21 0h0m1 0h0m13 0h0m12 0h0m67 0h0m19 0h0m124 0h0m89 0h0m-1033 1h0m1 0h0m47 0h0m5 0h0m31 0h0m12 0h0m5 0h0m1 0h0m9 0h0m10 0h0m5 0h0m28 0h0m1 0h0m14 0h0m28 0h0m39 0h0m8 0h0m11 0h0m13 0h0m5 0h0m10 0h0m20 0h0m12 0h0m17 0h0m12 0h0m35 0h0m7 0h0m21 0h0m3 0h0m29 0h0m24 0h0m9 0h0m7 0h0m1 0h0m1 0h0m20 0h0m3 0h0m10 0h0m19 0h0m0 0h0m14 0h0m7 0h0m16 0h0m6 0h0m5 0h0m4 0h0m26 0h0m1 0h0m1 0h0m30 0h0m8 0h0m41 0h0m27 0h0m54 0h0m22 0h0m6 0h0m135 0h0m22 0h0m-943 1h0m2 0h0m10 0h0m13 0h0m7 0h0m28 0h0m2 0h0m1 0h0m3 0h0m1 0h0m4 0h0m8 0h0m1 0h0m12 0h0m4 0h0m14 0h0m128 0h0m4 0h0m19 0h0m2 0h0m5 0h0m1 0h0m1 0h0m22 0h0m16 0h0m15 0h0m88 0h0m4 0h0m32 0h0m12 0h0m11 0h0m13 0h0m12 0h0m1 0h0m1 0h0m2 0h0m16 0h0m20 0h0m14 0h0m1 0h0m56 0h0m21 0h0m74 0h0m44 0h0m12 0h0m35 0h0m-803 1h0m3 0h0m9 0h0m12 0h0m3 0h0m9 0h0m0 0h0m7 0h0m7 0h0m2 0h0m21 0h0m0 0h0m28 0h0m0 0h0m0 0h0m6 0h0m7 0h0m2 0h0m54 0h0m2 0h0m8 0h0m2 0h0m2 0h0m6 0h0m37 0h0m1 0h0m15 0h0m6 0h0m3 0h0m1 0h0m1 0h0m1 0h0m2 0h0m6 0h0m79 0h0m51 0h0m10 0h0m4 0h0m8 0h0m36 0h0m1 0h0m2 0h0m18 0h0m21 0h0m3 0h0m15 0h0m16 0h0m12 0h0m28 0h0m7 0h0m3 0h0m0 0h0m1 0h0m10 0h0m18 0h0m32 0h0m41 0h0m3 0h0m27 0h0m0 0h0m18 0h0m6 0h0m4 0h0m1 0h0m0 0h0m2 0h0m31 0h0m16 0h0m16 0h0m236 0h0m-1047 1h0m4 0h0m2 0h0m9 0h0m6 0h0m18 0h0m0 0h0m11 0h0m2 0h0m6 0h0m1 0h0m3 0h0m13 0h0m8 0h0m7 0h0m38 0h0m31 0h0m43 0h0m30 0h0m9 0h0m26 0h0m11 0h0m1 0h0m31 0h0m6 0h0m31 0h0m90 0h0m3 0h0m1 0h0m18 0h0m2 0h0m29 0h0m26 0h0m5 0h0m16 0h0m6 0h0m5 0h0m0 0h0m8 0h0m11 0h0m9 0h0m2 0h0m33 0h0m9 0h0m25 0h0m2 0h0m19 0h0m2 0h0m44 0h0m1 0h0m5 0h0m16 0h0m4 0h0m5 0h0m0 0h0m6 0h0m45 0h0m8 0h0m173 0h0m32 0h0m21 0h0m21 0h0m8 0h0m-1058 1h0m3 0h0m3 0h0m5 0h0m7 0h0m15 0h0m7 0h0m0 0h0m6 0h0m3 0h0m9 0h0m1 0h0m16 0h0m14 0h0m7 0h0m13 0h0m20 0h0m33 0h0m10 0h0m0 0h0m1 0h0m3 0h0m23 0h0m8 0h0m24 0h0m4 0h0m2 0h0m0 0h0m11 0h0m24 0h0m8 0h0m55 0h0m47 0h0m3 0h0m3 0h0m5 0h0m3 0h0m24 0h0m14 0h0m24 0h0m4 0h0m9 0h0m3 0h0m3 0h0m26 0h0m5 0h0m7 0h0m6 0h0m16 0h0m3 0h0m0 0h0m8 0h0m4 0h0m0 0h0m3 0h0m0 0h0m5 0h0m32 0h0m6 0h0m16 0h0m11 0h0m50 0h0m22 0h0m22 0h0m30 0h0m37 0h0m30 0h0m8 0h0m3 0h0m172 0h0m30 0h0m-1030 1h0m7 0h0m9 0h0m3 0h0m3 0h0m0 0h0m19 0h0m4 0h0m17 0h0m14 0h0m11 0h0m2 0h0m14 0h0m10 0h0m9 0h0m6 0h0m13 0h0m30 0h0m9 0h0m16 0h0m43 0h0m5 0h0m7 0h0m8 0h0m20 0h0m1 0h0m3 0h0m139 0h0m5 0h0m2 0h0m30 0h0m5 0h0m9 0h0m7 0h0m5 0h0m8 0h0m2 0h0m5 0h0m45 0h0m0 0h0m22 0h0m45 0h0m4 0h0m14 0h0m3 0h0m5 0h0m4 0h0m15 0h0m8 0h0m2 0h0m24 0h0m8 0h0m25 0h0m44 0h0m2 0h0m5 0h0m5 0h0m2 0h0m36 0h0m106 0h0m14 0h0m2 0h0m-933 1h0m11 0h0m3 0h0m6 0h0m3 0h0m5 0h0m12 0h0m7 0h0m9 0h0m13 0h0m5 0h0m16 0h0m2 0h0m13 0h0m3 0h0m10 0h0m1 0h0m1 0h0m106 0h0m0 0h0m9 0h0m10 0h0m8 0h0m3 0h0m13 0h0m7 0h0m8 0h0m16 0h0m95 0h0m27 0h0m30 0h0m1 0h0m25 0h0m1 0h0m15 0h0m1 0h0m6 0h0m1 0h0m10 0h0m20 0h0m15 0h0m1 0h0m14 0h0m7 0h0m5 0h0m7 0h0m1 0h0m40 0h0m28 0h0m14 0h0m1 0h0m25 0h0m24 0h0m14 0h0m56 0h0m31 0h0m8 0h0m105 0h0m21 0h0m83 0h0m-1039 1h0m7 0h0m12 0h0m5 0h0m1 0h0m5 0h0m4 0h0m20 0h0m6 0h0m2 0h0m17 0h0m6 0h0m8 0h0m3 0h0m2 0h0m1 0h0m0 0h0m17 0h0m10 0h0m4 0h0m10 0h0m1 0h0m19 0h0m11 0h0m17 0h0m52 0h0m13 0h0m7 0h0m17 0h0m5 0h0m5 0h0m3 0h0m1 0h0m100 0h0m3 0h0m1 0h0m10 0h0m31 0h0m1 0h0m8 0h0m21 0h0m13 0h0m4 0h0m31 0h0m2 0h0m3 0h0m2 0h0m53 0h0m10 0h0m7 0h0m28 0h0m1 0h0m3 0h0m0 0h0m10 0h0m5 0h0m5 0h0m18 0h0m1 0h0m3 0h0m32 0h0m0 0h0m12 0h0m6 0h0m4 0h0m19 0h0m7 0h0m33 0h0m30 0h0m13 0h0m-821 1h0m11 0h0m18 0h0m17 0h0m2 0h0m3 0h0m5 0h0m22 0h0m1 0h0m2 0h0m4 0h0m1 0h0m5 0h0m9 0h0m8 0h0m17 0h0m8 0h0m23 0h0m9 0h0m8 0h0m27 0h0m14 0h0m3 0h0m15 0h0m7 0h0m4 0h0m8 0h0m1 0h0m9 0h0m2 0h0m12 0h0m86 0h0m4 0h0m44 0h0m19 0h0m9 0h0m28 0h0m1 0h0m2 0h0m7 0h0m3 0h0m7 0h0m3 0h0m3 0h0m21 0h0m1 0h0m26 0h0m9 0h0m9 0h0m5 0h0m13 0h0m6 0h0m33 0h0m8 0h0m49 0h0m2 0h0m53 0h0m8 0h0m12 0h0m49 0h0m23 0h0m-806 1h0m2 0h0m1 0h0m13 0h0m4 0h0m1 0h0m6 0h0m6 0h0m5 0h0m4 0h0m4 0h0m22 0h0m3 0h0m10 0h0m5 0h0m1 0h0m7 0h0m19 0h0m4 0h0m0 0h0m2 0h0m3 0h0m6 0h0m13 0h0m3 0h0m24 0h0m28 0h0m40 0h0m3 0h0m3 0h0m10 0h0m1 0h0m14 0h0m104 0h0m1 0h0m7 0h0m8 0h0m0 0h0m60 0h0m4 0h0m24 0h0m5 0h0m4 0h0m12 0h0m7 0h0m25 0h0m29 0h0m16 0h0m2 0h0m10 0h0m3 0h0m34 0h0m10 0h0m5 0h0m9 0h0m5 0h0m6 0h0m45 0h0m14 0h0m5 0h0m7 0h0m64 0h0m6 0h0m2 0h0m238 0h0m-1043 1h0m4 0h0m13 0h0m11 0h0m0 0h0m5 0h0m0 0h0m0 0h0m6 0h0m10 0h0m2 0h0m30 0h0m47 0h0m6 0h0m40 0h0m27 0h0m5 0h0m16 0h0m7 0h0m1 0h0m21 0h0m6 0h0m3 0h0m1 0h0m6 0h0m11 0h0m2 0h0m25 0h0m74 0h0m11 0h0m13 0h0m25 0h0m10 0h0m46 0h0m12 0h0m6 0h0m5 0h0m5 0h0m17 0h0m36 0h0m22 0h0m24 0h0m15 0h0m24 0h0m8 0h0m3 0h0m7 0h0m28 0h0m4 0h0m10 0h0m8 0h0m2 0h0m10 0h0m34 0h0m7 0h0m10 0h0m183 0h0m-960 1h0m2 0h0m3 0h0m3 0h0m3 0h0m1 0h0m0 0h0m5 0h0m1 0h0m4 0h0m5 0h0m39 0h0m6 0h0m1 0h0m1 0h0m39 0h0m13 0h0m17 0h0m18 0h0m5 0h0m12 0h0m0 0h0m14 0h0m1 0h0m9 0h0m25 0h0m3 0h0m30 0h0m7 0h0m13 0h0m24 0h0m38 0h0m45 0h0m1 0h0m15 0h0m32 0h0m1 0h0m14 0h0m14 0h0m0 0h0m3 0h0m18 0h0m6 0h0m17 0h0m28 0h0m14 0h0m11 0h0m3 0h0m3 0h0m2 0h0m15 0h0m4 0h0m23 0h0m2 0h0m4 0h0m10 0h0m31 0h0m26 0h0m1 0h0m15 0h0m12 0h0m10 0h0m4 0h0m63 0h0m30 0h0m94 0h0m-915 1h0m17 0h0m3 0h0m4 0h0m0 0h0m4 0h0m3 0h0m8 0h0m3 0h0m4 0h0m8 0h0m42 0h0m3 0h0m2 0h0m11 0h0m11 0h0m7 0h0m25 0h0m11 0h0m13 0h0m20 0h0m23 0h0m1 0h0m10 0h0m2 0h0m4 0h0m0 0h0m1 0h0m3 0h0m3 0h0m2 0h0m22 0h0m107 0h0m1 0h0m7 0h0m5 0h0m13 0h0m2 0h0m1 0h0m23 0h0m27 0h0m11 0h0m5 0h0m6 0h0m4 0h0m11 0h0m47 0h0m3 0h0m7 0h0m9 0h0m9 0h0m39 0h0m11 0h0m2 0h0m5 0h0m0 0h0m1 0h0m1 0h0m19 0h0m15 0h0m1 0h0m49 0h0m1 0h0m8 0h0m14 0h0m5 0h0m1 0h0m73 0h0m4 0h0m0 0h0m152 0h0m-974 1h0m31 0h0m8 0h0m18 0h0m33 0h0m7 0h0m8 0h0m2 0h0m17 0h0m6 0h0m2 0h0m30 0h0m42 0h0m3 0h0m3 0h0m26 0h0m1 0h0m1 0h0m11 0h0m21 0h0m2 0h0m2 0h0m11 0h0m19 0h0m56 0h0m78 0h0m2 0h0m19 0h0m9 0h0m2 0h0m2 0h0m0 0h0m0 0h0m1 0h0m17 0h0m12 0h0m1 0h0m12 0h0m25 0h0m3 0h0m26 0h0m8 0h0m5 0h0m6 0h0m34 0h0m13 0h0m20 0h0m67 0h0m5 0h0m0 0h0m17 0h0m68 0h0m146 0h0m69 0h0m-1031 1h0m3 0h0m3 0h0m3 0h0m2 0h0m5 0h0m8 0h0m19 0h0m1 0h0m13 0h0m5 0h0m19 0h0m6 0h0m12 0h0m3 0h0m2 0h0m4 0h0m12 0h0m5 0h0m0 0h0m5 0h0m42 0h0m36 0h0m22 0h0m10 0h0m9 0h0m5 0h0m19 0h0m2 0h0m12 0h0m78 0h0m19 0h0m8 0h0m8 0h0m12 0h0m17 0h0m2 0h0m8 0h0m5 0h0m16 0h0m1 0h0m14 0h0m7 0h0m4 0h0m3 0h0m22 0h0m1 0h0m0 0h0m50 0h0m5 0h0m16 0h0m3 0h0m12 0h0m29 0h0m10 0h0m2 0h0m6 0h0m6 0h0m25 0h0m62 0h0m4 0h0m1 0h0m1 0h0m22 0h0m50 0h0m6 0h0m154 0h0m-975 1h0m19 0h0m0 0h0m2 0h0m2 0h0m1 0h0m17 0h0m12 0h0m7 0h0m0 0h0m25 0h0m25 0h0m11 0h0m2 0h0m5 0h0m1 0h0m30 0h0m24 0h0m23 0h0m33 0h0m30 0h0m6 0h0m3 0h0m9 0h0m1 0h0m41 0h0m4 0h0m28 0h0m6 0h0m14 0h0m13 0h0m12 0h0m21 0h0m8 0h0m9 0h0m16 0h0m5 0h0m4 0h0m4 0h0m24 0h0m3 0h0m23 0h0m11 0h0m5 0h0m6 0h0m7 0h0m27 0h0m4 0h0m33 0h0m28 0h0m3 0h0m11 0h0m0 0h0m48 0h0m14 0h0m3 0h0m4 0h0m6 0h0m2 0h0m0 0h0m1 0h0m0 0h0m45 0h0m10 0h0m1 0h0m35 0h0m103 0h0m10 0h0m58 0h0m24 0h0m-1013 1h0m20 0h0m2 0h0m11 0h0m2 0h0m13 0h0m6 0h0m23 0h0m9 0h0m1 0h0m8 0h0m101 0h0m24 0h0m1 0h0m4 0h0m8 0h0m6 0h0m3 0h0m8 0h0m9 0h0m2 0h0m7 0h0m11 0h0m27 0h0m68 0h0m29 0h0m11 0h0m10 0h0m30 0h0m5 0h0m3 0h0m9 0h0m3 0h0m8 0h0m9 0h0m9 0h0m1 0h0m40 0h0m16 0h0m18 0h0m40 0h0m9 0h0m1 0h0m23 0h0m6 0h0m29 0h0m12 0h0m25 0h0m2 0h0m0 0h0m71 0h0m20 0h0m4 0h0m182 0h0m39 0h0m-1012 1h0m2 0h0m2 0h0m2 0h0m3 0h0m0 0h0m6 0h0m6 0h0m42 0h0m5 0h0m2 0h0m14 0h0m52 0h0m5 0h0m53 0h0m3 0h0m1 0h0m22 0h0m8 0h0m28 0h0m74 0h0m22 0h0m3 0h0m25 0h0m5 0h0m0 0h0m12 0h0m38 0h0m14 0h0m14 0h0m3 0h0m16 0h0m0 0h0m20 0h0m9 0h0m2 0h0m8 0h0m8 0h0m13 0h0m3 0h0m9 0h0m6 0h0m35 0h0m14 0h0m2 0h0m13 0h0m1 0h0m8 0h0m38 0h0m1 0h0m28 0h0m11 0h0m2 0h0m19 0h0m24 0h0m24 0h0m136 0h0m98 0h0m3 0h0m-1047 1h0m3 0h0m0 0h0m3 0h0m4 0h0m3 0h0m1 0h0m2 0h0m6 0h0m0 0h0m2 0h0m16 0h0m9 0h0m3 0h0m4 0h0m2 0h0m21 0h0m13 0h0m1 0h0m13 0h0m16 0h0m5 0h0m28 0h0m38 0h0m17 0h0m23 0h0m3 0h0m32 0h0m2 0h0m62 0h0m60 0h0m18 0h0m5 0h0m2 0h0m19 0h0m1 0h0m92 0h0m2 0h0m3 0h0m14 0h0m4 0h0m2 0h0m1 0h0m0 0h0m27 0h0m59 0h0m4 0h0m2 0h0m6 0h0m1 0h0m5 0h0m33 0h0m34 0h0m45 0h0m4 0h0m27 0h0m145 0h0m79 0h0m220 0h0m-1224 1h0m0 0h0m1 0h0m13 0h0m3 0h0m4 0h0m5 0h0m3 0h0m4 0h0m0 0h0m17 0h0m2 0h0m2 0h0m3 0h0m6 0h0m16 0h0m6 0h0m1 0h0m4 0h0m2 0h0m12 0h0m22 0h0m38 0h0m5 0h0m1 0h0m47 0h0m19 0h0m10 0h0m16 0h0m0 0h0m4 0h0m20 0h0m44 0h0m12 0h0m13 0h0m9 0h0m4 0h0m14 0h0m2 0h0m57 0h0m1 0h0m4 0h0m4 0h0m9 0h0m8 0h0m11 0h0m5 0h0m12 0h0m15 0h0m8 0h0m22 0h0m9 0h0m11 0h0m8 0h0m22 0h0m11 0h0m8 0h0m4 0h0m16 0h0m9 0h0m1 0h0m29 0h0m10 0h0m6 0h0m3 0h0m1 0h0m6 0h0m7 0h0m18 0h0m27 0h0m15 0h0m16 0h0m16 0h0m-788 1h0m6 0h0m12 0h0m0 0h0m3 0h0m3 0h0m6 0h0m23 0h0m3 0h0m18 0h0m12 0h0m4 0h0m13 0h0m2 0h0m15 0h0m16 0h0m11 0h0m13 0h0m22 0h0m39 0h0m12 0h0m11 0h0m8 0h0m1 0h0m38 0h0m43 0h0m18 0h0m4 0h0m4 0h0m4 0h0m7 0h0m0 0h0m2 0h0m8 0h0m1 0h0m3 0h0m12 0h0m2 0h0m12 0h0m21 0h0m15 0h0m1 0h0m11 0h0m7 0h0m2 0h0m3 0h0m1 0h0m9 0h0m30 0h0m24 0h0m13 0h0m1 0h0m1 0h0m6 0h0m34 0h0m22 0h0m61 0h0m3 0h0m13 0h0m6 0h0m14 0h0m6 0h0m4 0h0m27 0h0m337 0h0m-1110 1h0m4 0h0m4 0h0m16 0h0m5 0h0m6 0h0m1 0h0m1 0h0m4 0h0m2 0h0m1 0h0m1 0h0m9 0h0m53 0h0m4 0h0m1 0h0m16 0h0m6 0h0m22 0h0m25 0h0m17 0h0m26 0h0m5 0h0m2 0h0m3 0h0m11 0h0m6 0h0m17 0h0m2 0h0m1 0h0m50 0h0m9 0h0m69 0h0m2 0h0m10 0h0m1 0h0m1 0h0m20 0h0m0 0h0m5 0h0m2 0h0m18 0h0m8 0h0m6 0h0m7 0h0m0 0h0m11 0h0m2 0h0m38 0h0m2 0h0m6 0h0m16 0h0m9 0h0m12 0h0m1 0h0m0 0h0m8 0h0m5 0h0m22 0h0m17 0h0m12 0h0m15 0h0m4 0h0m7 0h0m28 0h0m11 0h0m1 0h0m105 0h0m13 0h0m204 0h0m95 0h0m0 0h0m-1125 1h0m2 0h0m9 0h0m4 0h0m9 0h0m14 0h0m4 0h0m6 0h0m1 0h0m4 0h0m22 0h0m8 0h0m1 0h0m0 0h0m5 0h0m7 0h0m5 0h0m2 0h0m58 0h0m13 0h0m1 0h0m9 0h0m9 0h0m44 0h0m5 0h0m1 0h0m43 0h0m31 0h0m77 0h0m8 0h0m5 0h0m13 0h0m3 0h0m6 0h0m9 0h0m18 0h0m0 0h0m3 0h0m0 0h0m3 0h0m10 0h0m12 0h0m2 0h0m11 0h0m1 0h0m0 0h0m4 0h0m3 0h0m9 0h0m19 0h0m13 0h0m1 0h0m6 0h0m9 0h0m12 0h0m14 0h0m3 0h0m17 0h0m6 0h0m33 0h0m15 0h0m2 0h0m27 0h0m14 0h0m1 0h0m4 0h0m2 0h0m3 0h0m5 0h0m20 0h0m29 0h0m41 0h0m290 0h0m-1101 1h0m1 0h0m0 0h0m4 0h0m6 0h0m0 0h0m9 0h0m0 0h0m4 0h0m1 0h0m2 0h0m1 0h0m4 0h0m3 0h0m1 0h0m1 0h0m5 0h0m5 0h0m3 0h0m0 0h0m59 0h0m21 0h0m1 0h0m0 0h0m26 0h0m43 0h0m26 0h0m3 0h0m6 0h0m4 0h0m3 0h0m9 0h0m5 0h0m0 0h0m8 0h0m5 0h0m4 0h0m2 0h0m6 0h0m3 0h0m6 0h0m102 0h0m5 0h0m2 0h0m6 0h0m1 0h0m3 0h0m5 0h0m12 0h0m10 0h0m33 0h0m2 0h0m4 0h0m4 0h0m6 0h0m14 0h0m0 0h0m12 0h0m36 0h0m7 0h0m3 0h0m3 0h0m1 0h0m6 0h0m8 0h0m8 0h0m0 0h0m32 0h0m2 0h0m17 0h0m19 0h0m9 0h0m25 0h0m1 0h0m5 0h0m1 0h0m3 0h0m8 0h0m1 0h0m1 0h0m2 0h0m35 0h0m1 0h0m42 0h0m-785 1h0m16 0h0m0 0h0m22 0h0m3 0h0m4 0h0m34 0h0m10 0h0m35 0h0m2 0h0m0 0h0m6 0h0m21 0h0m42 0h0m29 0h0m12 0h0m7 0h0m1 0h0m18 0h0m14 0h0m46 0h0m39 0h0m29 0h0m1 0h0m2 0h0m7 0h0m3 0h0m4 0h0m14 0h0m42 0h0m4 0h0m18 0h0m16 0h0m12 0h0m23 0h0m10 0h0m4 0h0m4 0h0m13 0h0m17 0h0m26 0h0m1 0h0m1 0h0m0 0h0m3 0h0m0 0h0m29 0h0m14 0h0m3 0h0m7 0h0m26 0h0m41 0h0m5 0h0m42 0h0m12 0h0m7 0h0m4 0h0m159 0h0m29 0h0m9 0h0m36 0h0m-1042 1h0m3 0h0m13 0h0m2 0h0m2 0h0m0 0h0m23 0h0m1 0h0m7 0h0m7 0h0m1 0h0m2 0h0m24 0h0m1 0h0m5 0h0m23 0h0m19 0h0m5 0h0m24 0h0m10 0h0m2 0h0m14 0h0m28 0h0m14 0h0m4 0h0m1 0h0m19 0h0m1 0h0m6 0h0m5 0h0m1 0h0m21 0h0m123 0h0m1 0h0m6 0h0m10 0h0m3 0h0m4 0h0m46 0h0m2 0h0m9 0h0m7 0h0m6 0h0m32 0h0m30 0h0m0 0h0m3 0h0m19 0h0m4 0h0m1 0h0m17 0h0m16 0h0m2 0h0m5 0h0m1 0h0m3 0h0m4 0h0m7 0h0m13 0h0m2 0h0m1 0h0m6 0h0m24 0h0m6 0h0m5 0h0m21 0h0m5 0h0m20 0h0m0 0h0m13 0h0m63 0h0m91 0h0m246 0h0m-1164 1h0m1 0h0m10 0h0m1 0h0m0 0h0m2 0h0m11 0h0m1 0h0m2 0h0m4 0h0m1 0h0m1 0h0m3 0h0m11 0h0m33 0h0m24 0h0m14 0h0m4 0h0m11 0h0m39 0h0m56 0h0m5 0h0m12 0h0m12 0h0m12 0h0m0 0h0m59 0h0m10 0h0m12 0h0m48 0h0m10 0h0m4 0h0m10 0h0m4 0h0m4 0h0m3 0h0m34 0h0m3 0h0m3 0h0m20 0h0m10 0h0m2 0h0m2 0h0m32 0h0m5 0h0m4 0h0m0 0h0m1 0h0m0 0h0m68 0h0m11 0h0m5 0h0m10 0h0m8 0h0m8 0h0m7 0h0m0 0h0m23 0h0m14 0h0m0 0h0m3 0h0m14 0h0m13 0h0m2 0h0m43 0h0m13 0h0m7 0h0m5 0h0m161 0h0m-959 1h0m20 0h0m1 0h0m7 0h0m0 0h0m8 0h0m8 0h0m3 0h0m0 0h0m1 0h0m1 0h0m20 0h0m2 0h0m7 0h0m16 0h0m3 0h0m5 0h0m6 0h0m76 0h0m38 0h0m6 0h0m2 0h0m40 0h0m12 0h0m15 0h0m58 0h0m21 0h0m53 0h0m37 0h0m8 0h0m0 0h0m20 0h0m0 0h0m13 0h0m1 0h0m25 0h0m11 0h0m8 0h0m2 0h0m51 0h0m4 0h0m30 0h0m3 0h0m3 0h0m3 0h0m5 0h0m3 0h0m46 0h0m2 0h0m7 0h0m26 0h0m38 0h0m-783 1h0m0 0h0m2 0h0m6 0h0m3 0h0m3 0h0m3 0h0m10 0h0m15 0h0m12 0h0m47 0h0m3 0h0m13 0h0m0 0h0m19 0h0m33 0h0m11 0h0m13 0h0m55 0h0m0 0h0m4 0h0m3 0h0m1 0h0m23 0h0m6 0h0m6 0h0m1 0h0m90 0h0m10 0h0m6 0h0m16 0h0m16 0h0m31 0h0m0 0h0m3 0h0m7 0h0m1 0h0m20 0h0m11 0h0m8 0h0m3 0h0m3 0h0m3 0h0m48 0h0m3 0h0m0 0h0m22 0h0m7 0h0m28 0h0m17 0h0m20 0h0m45 0h0m8 0h0m16 0h0m48 0h0m46 0h0m243 0h0m-1064 1h0m2 0h0m2 0h0m1 0h0m2 0h0m5 0h0m5 0h0m10 0h0m9 0h0m11 0h0m3 0h0m5 0h0m17 0h0m15 0h0m0 0h0m8 0h0m1 0h0m1 0h0m13 0h0m7 0h0m12 0h0m55 0h0m22 0h0m33 0h0m6 0h0m28 0h0m12 0h0m75 0h0m18 0h0m21 0h0m6 0h0m1 0h0m3 0h0m8 0h0m2 0h0m34 0h0m17 0h0m6 0h0m20 0h0m3 0h0m7 0h0m6 0h0m30 0h0m9 0h0m5 0h0m8 0h0m0 0h0m7 0h0m5 0h0m1 0h0m35 0h0m0 0h0m33 0h0m6 0h0m3 0h0m4 0h0m26 0h0m23 0h0m1 0h0m15 0h0m1 0h0m4 0h0m2 0h0m206 0h0m242 0h0m-1183 1h0m19 0h0m1 0h0m17 0h0m6 0h0m11 0h0m2 0h0m4 0h0m21 0h0m2 0h0m4 0h0m2 0h0m8 0h0m3 0h0m20 0h0m9 0h0m27 0h0m20 0h0m37 0h0m24 0h0m16 0h0m11 0h0m4 0h0m9 0h0m2 0h0m10 0h0m3 0h0m20 0h0m3 0h0m0 0h0m30 0h0m24 0h0m15 0h0m2 0h0m6 0h0m40 0h0m26 0h0m10 0h0m20 0h0m3 0h0m14 0h0m14 0h0m18 0h0m1 0h0m2 0h0m0 0h0m2 0h0m20 0h0m0 0h0m3 0h0m1 0h0m2 0h0m8 0h0m6 0h0m9 0h0m4 0h0m1 0h0m14 0h0m11 0h0m12 0h0m53 0h0m14 0h0m18 0h0m10 0h0m1 0h0m81 0h0m2 0h0m7 0h0m178 0h0m-996 1h0m3 0h0m14 0h0m7 0h0m6 0h0m2 0h0m5 0h0m6 0h0m2 0h0m1 0h0m2 0h0m0 0h0m0 0h0m0 0h0m2 0h0m7 0h0m4 0h0m15 0h0m23 0h0m5 0h0m0 0h0m11 0h0m10 0h0m28 0h0m19 0h0m3 0h0m10 0h0m7 0h0m6 0h0m10 0h0m20 0h0m3 0h0m3 0h0m41 0h0m4 0h0m53 0h0m48 0h0m1 0h0m33 0h0m14 0h0m1 0h0m32 0h0m9 0h0m0 0h0m1 0h0m5 0h0m2 0h0m2 0h0m1 0h0m1 0h0m23 0h0m2 0h0m4 0h0m50 0h0m3 0h0m0 0h0m20 0h0m25 0h0m3 0h0m1 0h0m11 0h0m12 0h0m6 0h0m46 0h0m16 0h0m10 0h0m65 0h0m39 0h0m107 0h0m55 0h0m-979 1h0m2 0h0m24 0h0m3 0h0m1 0h0m4 0h0m8 0h0m10 0h0m7 0h0m21 0h0m8 0h0m6 0h0m1 0h0m5 0h0m7 0h0m4 0h0m6 0h0m18 0h0m25 0h0m4 0h0m13 0h0m12 0h0m43 0h0m17 0h0m3 0h0m23 0h0m0 0h0m2 0h0m6 0h0m0 0h0m45 0h0m52 0h0m0 0h0m41 0h0m3 0h0m3 0h0m2 0h0m7 0h0m1 0h0m6 0h0m12 0h0m4 0h0m4 0h0m7 0h0m4 0h0m22 0h0m4 0h0m1 0h0m1 0h0m0 0h0m17 0h0m14 0h0m27 0h0m4 0h0m13 0h0m4 0h0m28 0h0m4 0h0m3 0h0m23 0h0m8 0h0m43 0h0m6 0h0m27 0h0m23 0h0m33 0h0m341 0h0m-1118 1h0m1 0h0m2 0h0m1 0h0m2 0h0m4 0h0m1 0h0m1 0h0m1 0h0m2 0h0m2 0h0m8 0h0m6 0h0m5 0h0m4 0h0m1 0h0m1 0h0m1 0h0m2 0h0m10 0h0m16 0h0m1 0h0m9 0h0m25 0h0m11 0h0m47 0h0m24 0h0m1 0h0m4 0h0m2 0h0m7 0h0m25 0h0m0 0h0m5 0h0m1 0h0m15 0h0m4 0h0m26 0h0m7 0h0m20 0h0m94 0h0m1 0h0m8 0h0m4 0h0m4 0h0m4 0h0m9 0h0m12 0h0m34 0h0m6 0h0m25 0h0m30 0h0m7 0h0m4 0h0m5 0h0m83 0h0m21 0h0m6 0h0m2 0h0m6 0h0m20 0h0m11 0h0m16 0h0m56 0h0m6 0h0m28 0h0m9 0h0m125 0h0m-942 1h0m10 0h0m1 0h0m4 0h0m0 0h0m7 0h0m8 0h0m1 0h0m13 0h0m13 0h0m25 0h0m41 0h0m26 0h0m31 0h0m18 0h0m34 0h0m18 0h0m1 0h0m1 0h0m22 0h0m10 0h0m21 0h0m11 0h0m1 0h0m63 0h0m31 0h0m13 0h0m11 0h0m31 0h0m17 0h0m29 0h0m37 0h0m1 0h0m16 0h0m25 0h0m47 0h0m3 0h0m4 0h0m12 0h0m6 0h0m32 0h0m1 0h0m8 0h0m34 0h0m1 0h0m3 0h0m1 0h0m52 0h0m4 0h0m9 0h0m141 0h0m151 0h0m-1097 1h0m1 0h0m15 0h0m5 0h0m4 0h0m5 0h0m5 0h0m4 0h0m2 0h0m1 0h0m0 0h0m4 0h0m1 0h0m1 0h0m6 0h0m16 0h0m15 0h0m2 0h0m32 0h0m8 0h0m32 0h0m46 0h0m20 0h0m2 0h0m11 0h0m24 0h0m6 0h0m10 0h0m47 0h0m10 0h0m47 0h0m8 0h0m8 0h0m6 0h0m6 0h0m8 0h0m9 0h0m2 0h0m46 0h0m26 0h0m14 0h0m18 0h0m19 0h0m13 0h0m1 0h0m15 0h0m7 0h0m19 0h0m0 0h0m18 0h0m7 0h0m13 0h0m21 0h0m1 0h0m0 0h0m31 0h0m17 0h0m18 0h0m40 0h0m7 0h0m177 0h0m56 0h0m-1003 1h0m8 0h0m1 0h0m12 0h0m3 0h0m3 0h0m6 0h0m11 0h0m1 0h0m14 0h0m7 0h0m20 0h0m12 0h0m6 0h0m3 0h0m1 0h0m9 0h0m4 0h0m1 0h0m1 0h0m19 0h0m2 0h0m0 0h0m2 0h0m34 0h0m38 0h0m1 0h0m0 0h0m3 0h0m1 0h0m1 0h0m4 0h0m9 0h0m8 0h0m8 0h0m9 0h0m69 0h0m14 0h0m32 0h0m8 0h0m4 0h0m7 0h0m13 0h0m3 0h0m0 0h0m31 0h0m1 0h0m22 0h0m31 0h0m4 0h0m4 0h0m36 0h0m6 0h0m9 0h0m45 0h0m4 0h0m4 0h0m5 0h0m1 0h0m5 0h0m8 0h0m1 0h0m9 0h0m39 0h0m18 0h0m7 0h0m19 0h0m1 0h0m3 0h0m7 0h0m63 0h0m6 0h0m7 0h0m97 0h0m26 0h0m20 0h0m12 0h0m-977 1h0m8 0h0m14 0h0m3 0h0m0 0h0m0 0h0m6 0h0m0 0h0m6 0h0m13 0h0m24 0h0m1 0h0m58 0h0m17 0h0m0 0h0m23 0h0m79 0h0m5 0h0m4 0h0m7 0h0m1 0h0m10 0h0m101 0h0m16 0h0m8 0h0m0 0h0m11 0h0m7 0h0m8 0h0m27 0h0m20 0h0m2 0h0m17 0h0m49 0h0m3 0h0m13 0h0m15 0h0m11 0h0m9 0h0m23 0h0m18 0h0m8 0h0m18 0h0m1 0h0m9 0h0m19 0h0m15 0h0m19 0h0m45 0h0m6 0h0m139 0h0m58 0h0m33 0h0m47 0h0m-1054 1h0m2 0h0m5 0h0m7 0h0m4 0h0m4 0h0m11 0h0m2 0h0m2 0h0m10 0h0m2 0h0m1 0h0m4 0h0m6 0h0m14 0h0m1 0h0m7 0h0m1 0h0m0 0h0m0 0h0m18 0h0m22 0h0m11 0h0m27 0h0m35 0h0m4 0h0m29 0h0m2 0h0m26 0h0m18 0h0m10 0h0m63 0h0m4 0h0m27 0h0m11 0h0m4 0h0m1 0h0m1 0h0m33 0h0m3 0h0m11 0h0m21 0h0m12 0h0m8 0h0m1 0h0m4 0h0m9 0h0m5 0h0m0 0h0m3 0h0m36 0h0m25 0h0m12 0h0m0 0h0m7 0h0m6 0h0m32 0h0m33 0h0m33 0h0m37 0h0m55 0h0m8 0h0m5 0h0m29 0h0m97 0h0m16 0h0m26 0h0m58 0h0m-1025 1h0m3 0h0m3 0h0m9 0h0m0 0h0m2 0h0m4 0h0m1 0h0m11 0h0m0 0h0m17 0h0m3 0h0m5 0h0m25 0h0m12 0h0m22 0h0m15 0h0m9 0h0m0 0h0m19 0h0m6 0h0m1 0h0m1 0h0m14 0h0m9 0h0m2 0h0m16 0h0m28 0h0m2 0h0m3 0h0m8 0h0m12 0h0m4 0h0m10 0h0m18 0h0m90 0h0m19 0h0m20 0h0m1 0h0m7 0h0m29 0h0m2 0h0m4 0h0m11 0h0m3 0h0m9 0h0m48 0h0m19 0h0m9 0h0m19 0h0m11 0h0m37 0h0m5 0h0m2 0h0m3 0h0m48 0h0m7 0h0m1 0h0m6 0h0m30 0h0m2 0h0m51 0h0m131 0h0m32 0h0m3 0h0m46 0h0m4 0h0m6 0h0m12 0h0m23 0h0m140 0h0m-1179 1h0m4 0h0m7 0h0m4 0h0m3 0h0m1 0h0m0 0h0m1 0h0m0 0h0m2 0h0m4 0h0m11 0h0m37 0h0m8 0h0m5 0h0m10 0h0m22 0h0m3 0h0m2 0h0m1 0h0m1 0h0m1 0h0m42 0h0m64 0h0m8 0h0m8 0h0m9 0h0m30 0h0m1 0h0m22 0h0m54 0h0m24 0h0m1 0h0m1 0h0m12 0h0m0 0h0m6 0h0m0 0h0m10 0h0m5 0h0m1 0h0m7 0h0m3 0h0m27 0h0m25 0h0m2 0h0m4 0h0m6 0h0m2 0h0m11 0h0m24 0h0m3 0h0m70 0h0m11 0h0m3 0h0m3 0h0m3 0h0m0 0h0m1 0h0m4 0h0m16 0h0m9 0h0m10 0h0m14 0h0m13 0h0m0 0h0m8 0h0m83 0h0m0 0h0m171 0h0m-962 1h0m10 0h0m3 0h0m4 0h0m1 0h0m3 0h0m6 0h0m8 0h0m2 0h0m8 0h0m1 0h0m1 0h0m1 0h0m8 0h0m1 0h0m0 0h0m57 0h0m11 0h0m12 0h0m20 0h0m2 0h0m14 0h0m29 0h0m3 0h0m11 0h0m31 0h0m5 0h0m0 0h0m2 0h0m2 0h0m9 0h0m24 0h0m2 0h0m14 0h0m56 0h0m7 0h0m26 0h0m3 0h0m3 0h0m0 0h0m4 0h0m0 0h0m7 0h0m2 0h0m16 0h0m7 0h0m4 0h0m4 0h0m14 0h0m6 0h0m3 0h0m13 0h0m13 0h0m4 0h0m1 0h0m13 0h0m4 0h0m0 0h0m0 0h0m1 0h0m1 0h0m50 0h0m4 0h0m15 0h0m3 0h0m9 0h0m16 0h0m1 0h0m0 0h0m13 0h0m12 0h0m11 0h0m3 0h0m8 0h0m5 0h0m2 0h0m7 0h0m11 0h0m0 0h0m19 0h0m6 0h0m12 0h0m11 0h0m14 0h0m226 0h0m-970 1h0m1 0h0m1 0h0m0 0h0m1 0h0m2 0h0m15 0h0m9 0h0m7 0h0m5 0h0m0 0h0m1 0h0m0 0h0m5 0h0m3 0h0m1 0h0m5 0h0m24 0h0m9 0h0m14 0h0m10 0h0m13 0h0m6 0h0m22 0h0m36 0h0m1 0h0m38 0h0m4 0h0m2 0h0m11 0h0m15 0h0m1 0h0m20 0h0m27 0h0m8 0h0m66 0h0m12 0h0m14 0h0m12 0h0m38 0h0m11 0h0m2 0h0m11 0h0m23 0h0m38 0h0m10 0h0m0 0h0m1 0h0m34 0h0m2 0h0m18 0h0m4 0h0m3 0h0m3 0h0m16 0h0m25 0h0m6 0h0m31 0h0m13 0h0m4 0h0m17 0h0m11 0h0m0 0h0m5 0h0m31 0h0m154 0h0m112 0h0m-1047 1h0m4 0h0m2 0h0m2 0h0m2 0h0m5 0h0m3 0h0m1 0h0m2 0h0m13 0h0m2 0h0m8 0h0m2 0h0m0 0h0m3 0h0m0 0h0m6 0h0m6 0h0m12 0h0m3 0h0m11 0h0m18 0h0m47 0h0m8 0h0m6 0h0m7 0h0m12 0h0m9 0h0m20 0h0m32 0h0m21 0h0m13 0h0m46 0h0m8 0h0m70 0h0m16 0h0m24 0h0m31 0h0m13 0h0m9 0h0m6 0h0m1 0h0m3 0h0m11 0h0m30 0h0m9 0h0m2 0h0m3 0h0m21 0h0m3 0h0m2 0h0m3 0h0m2 0h0m4 0h0m0 0h0m12 0h0m0 0h0m6 0h0m41 0h0m5 0h0m6 0h0m38 0h0m10 0h0m11 0h0m0 0h0m5 0h0m7 0h0m59 0h0m-796 1h0m1 0h0m5 0h0m2 0h0m2 0h0m1 0h0m19 0h0m1 0h0m8 0h0m9 0h0m58 0h0m9 0h0m3 0h0m1 0h0m4 0h0m6 0h0m21 0h0m1 0h0m10 0h0m24 0h0m40 0h0m3 0h0m3 0h0m2 0h0m8 0h0m11 0h0m1 0h0m2 0h0m5 0h0m6 0h0m5 0h0m10 0h0m1 0h0m2 0h0m28 0h0m69 0h0m13 0h0m13 0h0m23 0h0m27 0h0m1 0h0m4 0h0m7 0h0m13 0h0m2 0h0m1 0h0m4 0h0m1 0h0m19 0h0m22 0h0m13 0h0m13 0h0m6 0h0m2 0h0m50 0h0m9 0h0m2 0h0m16 0h0m27 0h0m3 0h0m18 0h0m2 0h0m26 0h0m10 0h0m4 0h0m3 0h0m13 0h0m59 0h0m146 0h0m13 0h0m34 0h0m-1002 1h0m3 0h0m3 0h0m4 0h0m2 0h0m2 0h0m5 0h0m3 0h0m7 0h0m5 0h0m1 0h0m5 0h0m2 0h0m4 0h0m8 0h0m1 0h0m8 0h0m18 0h0m5 0h0m9 0h0m6 0h0m6 0h0m20 0h0m71 0h0m6 0h0m5 0h0m4 0h0m16 0h0m4 0h0m24 0h0m2 0h0m29 0h0m61 0h0m31 0h0m4 0h0m1 0h0m10 0h0m5 0h0m5 0h0m7 0h0m7 0h0m21 0h0m1 0h0m3 0h0m25 0h0m2 0h0m9 0h0m1 0h0m7 0h0m1 0h0m6 0h0m4 0h0m13 0h0m3 0h0m2 0h0m4 0h0m43 0h0m6 0h0m6 0h0m8 0h0m2 0h0m2 0h0m32 0h0m3 0h0m5 0h0m18 0h0m14 0h0m8 0h0m20 0h0m19 0h0m19 0h0m10 0h0m10 0h0m42 0h0m8 0h0m23 0h0m7 0h0m149 0h0m-962 1h0m8 0h0m1 0h0m0 0h0m5 0h0m3 0h0m4 0h0m11 0h0m6 0h0m28 0h0m1 0h0m1 0h0m1 0h0m27 0h0m5 0h0m1 0h0m22 0h0m25 0h0m8 0h0m17 0h0m21 0h0m1 0h0m1 0h0m23 0h0m11 0h0m2 0h0m19 0h0m1 0h0m10 0h0m11 0h0m3 0h0m40 0h0m21 0h0m7 0h0m61 0h0m2 0h0m49 0h0m6 0h0m4 0h0m1 0h0m14 0h0m3 0h0m7 0h0m10 0h0m6 0h0m39 0h0m33 0h0m26 0h0m13 0h0m35 0h0m0 0h0m31 0h0m2 0h0m11 0h0m1 0h0m20 0h0m8 0h0m2 0h0m22 0h0m29 0h0m10 0h0m11 0h0m1 0h0m106 0h0m-913 1h0m5 0h0m7 0h0m2 0h0m4 0h0m9 0h0m0 0h0m8 0h0m37 0h0m19 0h0m9 0h0m3 0h0m0 0h0m16 0h0m0 0h0m5 0h0m21 0h0m2 0h0m3 0h0m30 0h0m2 0h0m4 0h0m16 0h0m4 0h0m18 0h0m2 0h0m3 0h0m35 0h0m110 0h0m33 0h0m8 0h0m4 0h0m5 0h0m11 0h0m16 0h0m5 0h0m5 0h0m8 0h0m7 0h0m4 0h0m10 0h0m9 0h0m1 0h0m25 0h0m24 0h0m1 0h0m14 0h0m2 0h0m1 0h0m73 0h0m10 0h0m5 0h0m10 0h0m1 0h0m38 0h0m14 0h0m6 0h0m11 0h0m2 0h0m41 0h0m30 0h0m5 0h0m136 0h0m174 0h0m-1129 1h0m8 0h0m1 0h0m8 0h0m4 0h0m0 0h0m9 0h0m13 0h0m8 0h0m5 0h0m0 0h0m3 0h0m1 0h0m47 0h0m3 0h0m2 0h0m0 0h0m14 0h0m25 0h0m20 0h0m13 0h0m6 0h0m5 0h0m1 0h0m10 0h0m62 0h0m16 0h0m73 0h0m25 0h0m8 0h0m5 0h0m14 0h0m0 0h0m19 0h0m6 0h0m25 0h0m5 0h0m9 0h0m9 0h0m1 0h0m14 0h0m43 0h0m15 0h0m5 0h0m3 0h0m46 0h0m18 0h0m1 0h0m22 0h0m14 0h0m7 0h0m1 0h0m1 0h0m13 0h0m7 0h0m43 0h0m5 0h0m63 0h0m112 0h0m20 0h0m25 0h0m57 0h0m74 0h0m-1090 1h0m4 0h0m3 0h0m2 0h0m1 0h0m1 0h0m8 0h0m15 0h0m3 0h0m1 0h0m0 0h0m0 0h0m7 0h0m0 0h0m9 0h0m0 0h0m16 0h0m10 0h0m2 0h0m4 0h0m32 0h0m38 0h0m19 0h0m7 0h0m4 0h0m11 0h0m11 0h0m15 0h0m14 0h0m0 0h0m5 0h0m13 0h0m5 0h0m6 0h0m1 0h0m0 0h0m91 0h0m38 0h0m35 0h0m1 0h0m6 0h0m41 0h0m14 0h0m0 0h0m38 0h0m9 0h0m4 0h0m10 0h0m7 0h0m5 0h0m16 0h0m1 0h0m7 0h0m19 0h0m3 0h0m19 0h0m9 0h0m53 0h0m0 0h0m20 0h0m2 0h0m15 0h0m-735 1h0m0 0h0m2 0h0m5 0h0m0 0h0m1 0h0m4 0h0m5 0h0m1 0h0m2 0h0m7 0h0m3 0h0m5 0h0m3 0h0m2 0h0m3 0h0m3 0h0m2 0h0m2 0h0m4 0h0m4 0h0m1 0h0m2 0h0m2 0h0m12 0h0m7 0h0m14 0h0m3 0h0m4 0h0m2 0h0m23 0h0m7 0h0m3 0h0m71 0h0m20 0h0m6 0h0m2 0h0m6 0h0m11 0h0m6 0h0m7 0h0m1 0h0m22 0h0m46 0h0m4 0h0m9 0h0m1 0h0m47 0h0m13 0h0m9 0h0m11 0h0m1 0h0m2 0h0m1 0h0m26 0h0m2 0h0m9 0h0m20 0h0m19 0h0m8 0h0m17 0h0m24 0h0m22 0h0m1 0h0m5 0h0m6 0h0m5 0h0m31 0h0m6 0h0m7 0h0m6 0h0m8 0h0m7 0h0m4 0h0m1 0h0m48 0h0m5 0h0m4 0h0m8 0h0m0 0h0m54 0h0m24 0h0m44 0h0m23 0h0m61 0h0m78 0h0m-1018 1h0m2 0h0m4 0h0m13 0h0m1 0h0m1 0h0m7 0h0m6 0h0m11 0h0m1 0h0m13 0h0m3 0h0m20 0h0m0 0h0m3 0h0m6 0h0m4 0h0m1 0h0m29 0h0m12 0h0m2 0h0m20 0h0m9 0h0m4 0h0m2 0h0m23 0h0m5 0h0m33 0h0m4 0h0m8 0h0m5 0h0m0 0h0m16 0h0m13 0h0m0 0h0m31 0h0m8 0h0m63 0h0m33 0h0m8 0h0m6 0h0m7 0h0m4 0h0m18 0h0m4 0h0m6 0h0m10 0h0m4 0h0m4 0h0m27 0h0m25 0h0m0 0h0m7 0h0m5 0h0m15 0h0m1 0h0m19 0h0m5 0h0m3 0h0m4 0h0m21 0h0m11 0h0m6 0h0m0 0h0m11 0h0m11 0h0m1 0h0m2 0h0m4 0h0m32 0h0m7 0h0m1 0h0m9 0h0m27 0h0m7 0h0m2 0h0m32 0h0m152 0h0m-934 1h0m0 0h0m3 0h0m1 0h0m11 0h0m2 0h0m6 0h0m0 0h0m1 0h0m20 0h0m7 0h0m11 0h0m15 0h0m18 0h0m14 0h0m0 0h0m26 0h0m45 0h0m3 0h0m4 0h0m5 0h0m3 0h0m8 0h0m26 0h0m15 0h0m5 0h0m8 0h0m6 0h0m1 0h0m20 0h0m26 0h0m9 0h0m1 0h0m37 0h0m12 0h0m16 0h0m22 0h0m1 0h0m7 0h0m14 0h0m1 0h0m1 0h0m38 0h0m9 0h0m24 0h0m15 0h0m59 0h0m14 0h0m39 0h0m1 0h0m0 0h0m31 0h0m39 0h0m4 0h0m13 0h0m12 0h0m2 0h0m2 0h0m40 0h0m21 0h0m9 0h0m23 0h0m106 0h0m32 0h0m-956 1h0m1 0h0m6 0h0m11 0h0m0 0h0m10 0h0m23 0h0m0 0h0m19 0h0m4 0h0m11 0h0m8 0h0m4 0h0m4 0h0m10 0h0m61 0h0m12 0h0m12 0h0m25 0h0m8 0h0m12 0h0m2 0h0m9 0h0m10 0h0m16 0h0m39 0h0m3 0h0m19 0h0m21 0h0m0 0h0m23 0h0m11 0h0m10 0h0m9 0h0m9 0h0m4 0h0m25 0h0m2 0h0m18 0h0m2 0h0m1 0h0m2 0h0m54 0h0m1 0h0m2 0h0m2 0h0m0 0h0m16 0h0m9 0h0m3 0h0m10 0h0m0 0h0m44 0h0m3 0h0m33 0h0m35 0h0m23 0h0m1 0h0m9 0h0m13 0h0m73 0h0m0 0h0m-816 1h0m3 0h0m7 0h0m3 0h0m4 0h0m3 0h0m3 0h0m2 0h0m1 0h0m4 0h0m4 0h0m15 0h0m1 0h0m1 0h0m2 0h0m3 0h0m24 0h0m13 0h0m5 0h0m2 0h0m8 0h0m1 0h0m7 0h0m8 0h0m7 0h0m2 0h0m7 0h0m19 0h0m26 0h0m45 0h0m8 0h0m5 0h0m15 0h0m1 0h0m9 0h0m11 0h0m9 0h0m4 0h0m32 0h0m10 0h0m2 0h0m55 0h0m2 0h0m2 0h0m8 0h0m23 0h0m0 0h0m7 0h0m1 0h0m34 0h0m16 0h0m3 0h0m15 0h0m42 0h0m4 0h0m18 0h0m4 0h0m21 0h0m41 0h0m15 0h0m11 0h0m51 0h0m2 0h0m1 0h0m6 0h0m24 0h0m3 0h0m2 0h0m235 0h0m-971 1h0m7 0h0m9 0h0m2 0h0m4 0h0m3 0h0m12 0h0m4 0h0m3 0h0m5 0h0m4 0h0m15 0h0m2 0h0m2 0h0m1 0h0m9 0h0m2 0h0m10 0h0m3 0h0m2 0h0m19 0h0m3 0h0m3 0h0m3 0h0m16 0h0m6 0h0m8 0h0m12 0h0m8 0h0m58 0h0m0 0h0m7 0h0m17 0h0m13 0h0m0 0h0m6 0h0m19 0h0m45 0h0m4 0h0m7 0h0m43 0h0m17 0h0m6 0h0m2 0h0m2 0h0m3 0h0m11 0h0m21 0h0m1 0h0m3 0h0m19 0h0m0 0h0m6 0h0m3 0h0m8 0h0m1 0h0m7 0h0m5 0h0m15 0h0m2 0h0m1 0h0m13 0h0m24 0h0m7 0h0m30 0h0m4 0h0m10 0h0m20 0h0m3 0h0m7 0h0m5 0h0m38 0h0m8 0h0m3 0h0m20 0h0m11 0h0m0 0h0m78 0h0m133 0h0m-947 1h0m5 0h0m1 0h0m9 0h0m8 0h0m1 0h0m8 0h0m3 0h0m3 0h0m0 0h0m0 0h0m4 0h0m5 0h0m7 0h0m1 0h0m0 0h0m4 0h0m31 0h0m5 0h0m6 0h0m4 0h0m4 0h0m2 0h0m8 0h0m4 0h0m25 0h0m2 0h0m29 0h0m4 0h0m20 0h0m3 0h0m18 0h0m44 0h0m19 0h0m20 0h0m14 0h0m5 0h0m17 0h0m6 0h0m28 0h0m9 0h0m26 0h0m43 0h0m8 0h0m11 0h0m26 0h0m7 0h0m37 0h0m14 0h0m13 0h0m12 0h0m10 0h0m14 0h0m11 0h0m3 0h0m16 0h0m4 0h0m10 0h0m15 0h0m25 0h0m13 0h0m21 0h0m20 0h0m55 0h0m145 0h0m86 0h0m-1037 1h0m5 0h0m11 0h0m2 0h0m2 0h0m3 0h0m10 0h0m4 0h0m3 0h0m3 0h0m8 0h0m0 0h0m5 0h0m4 0h0m0 0h0m18 0h0m10 0h0m5 0h0m0 0h0m8 0h0m9 0h0m17 0h0m4 0h0m8 0h0m23 0h0m0 0h0m2 0h0m11 0h0m10 0h0m8 0h0m7 0h0m0 0h0m36 0h0m4 0h0m3 0h0m14 0h0m2 0h0m24 0h0m3 0h0m58 0h0m40 0h0m11 0h0m11 0h0m10 0h0m6 0h0m3 0h0m8 0h0m1 0h0m13 0h0m14 0h0m28 0h0m17 0h0m6 0h0m26 0h0m13 0h0m19 0h0m27 0h0m1 0h0m1 0h0m27 0h0m5 0h0m10 0h0m3 0h0m6 0h0m17 0h0m10 0h0m24 0h0m0 0h0m12 0h0m3 0h0m22 0h0m11 0h0m4 0h0m56 0h0m58 0h0m18 0h0m53 0h0m63 0h0m-1001 1h0m1 0h0m1 0h0m0 0h0m10 0h0m10 0h0m10 0h0m2 0h0m1 0h0m4 0h0m6 0h0m1 0h0m3 0h0m1 0h0m47 0h0m2 0h0m7 0h0m3 0h0m2 0h0m4 0h0m3 0h0m0 0h0m18 0h0m3 0h0m14 0h0m6 0h0m24 0h0m11 0h0m2 0h0m19 0h0m17 0h0m4 0h0m14 0h0m4 0h0m22 0h0m9 0h0m3 0h0m2 0h0m1 0h0m47 0h0m10 0h0m18 0h0m27 0h0m2 0h0m13 0h0m12 0h0m4 0h0m50 0h0m3 0h0m2 0h0m3 0h0m5 0h0m3 0h0m0 0h0m14 0h0m6 0h0m1 0h0m5 0h0m27 0h0m15 0h0m22 0h0m4 0h0m1 0h0m4 0h0m33 0h0m11 0h0m5 0h0m1 0h0m6 0h0m5 0h0m5 0h0m2 0h0m7 0h0m37 0h0m12 0h0m77 0h0m152 0h0m40 0h0m-974 1h0m9 0h0m1 0h0m0 0h0m4 0h0m2 0h0m4 0h0m3 0h0m11 0h0m13 0h0m1 0h0m25 0h0m6 0h0m3 0h0m3 0h0m1 0h0m1 0h0m0 0h0m7 0h0m0 0h0m18 0h0m5 0h0m7 0h0m24 0h0m1 0h0m5 0h0m3 0h0m10 0h0m3 0h0m1 0h0m4 0h0m19 0h0m35 0h0m0 0h0m8 0h0m1 0h0m10 0h0m9 0h0m20 0h0m9 0h0m103 0h0m1 0h0m4 0h0m4 0h0m13 0h0m4 0h0m18 0h0m30 0h0m1 0h0m5 0h0m12 0h0m13 0h0m33 0h0m9 0h0m5 0h0m19 0h0m11 0h0m9 0h0m6 0h0m23 0h0m2 0h0m1 0h0m4 0h0m1 0h0m1 0h0m7 0h0m4 0h0m8 0h0m9 0h0m11 0h0m10 0h0m13 0h0m17 0h0m0 0h0m25 0h0m19 0h0m172 0h0m12 0h0m4 0h0m4 0h0m-940 1h0m11 0h0m3 0h0m5 0h0m4 0h0m14 0h0m5 0h0m2 0h0m4 0h0m5 0h0m1 0h0m1 0h0m20 0h0m1 0h0m4 0h0m15 0h0m1 0h0m1 0h0m25 0h0m5 0h0m1 0h0m2 0h0m7 0h0m26 0h0m9 0h0m5 0h0m3 0h0m2 0h0m0 0h0m8 0h0m10 0h0m46 0h0m4 0h0m3 0h0m6 0h0m25 0h0m4 0h0m1 0h0m17 0h0m26 0h0m23 0h0m3 0h0m6 0h0m26 0h0m2 0h0m4 0h0m8 0h0m1 0h0m22 0h0m2 0h0m34 0h0m10 0h0m16 0h0m2 0h0m3 0h0m21 0h0m3 0h0m1 0h0m3 0h0m1 0h0m21 0h0m11 0h0m2 0h0m6 0h0m5 0h0m6 0h0m25 0h0m13 0h0m7 0h0m20 0h0m6 0h0m6 0h0m5 0h0m1 0h0m2 0h0m1 0h0m5 0h0m5 0h0m38 0h0m3 0h0m9 0h0m6 0h0m5 0h0m9 0h0m1 0h0m31 0h0m8 0h0m33 0h0m8 0h0m154 0h0m-975 1h0m1 0h0m3 0h0m11 0h0m5 0h0m5 0h0m9 0h0m2 0h0m13 0h0m1 0h0m8 0h0m46 0h0m20 0h0m46 0h0m27 0h0m3 0h0m16 0h0m21 0h0m20 0h0m1 0h0m2 0h0m4 0h0m18 0h0m4 0h0m1 0h0m51 0h0m24 0h0m1 0h0m4 0h0m15 0h0m39 0h0m21 0h0m4 0h0m51 0h0m22 0h0m55 0h0m0 0h0m41 0h0m19 0h0m6 0h0m20 0h0m1 0h0m1 0h0m1 0h0m3 0h0m31 0h0m2 0h0m5 0h0m2 0h0m7 0h0m9 0h0m3 0h0m18 0h0m26 0h0m-768 1h0m3 0h0m1 0h0m16 0h0m4 0h0m0 0h0m32 0h0m5 0h0m0 0h0m1 0h0m33 0h0m6 0h0m22 0h0m1 0h0m1 0h0m1 0h0m7 0h0m0 0h0m1 0h0m5 0h0m21 0h0m17 0h0m17 0h0m3 0h0m11 0h0m21 0h0m6 0h0m24 0h0m5 0h0m0 0h0m4 0h0m10 0h0m3 0h0m2 0h0m51 0h0m53 0h0m8 0h0m45 0h0m21 0h0m10 0h0m16 0h0m3 0h0m1 0h0m6 0h0m14 0h0m27 0h0m6 0h0m3 0h0m4 0h0m8 0h0m5 0h0m9 0h0m0 0h0m7 0h0m17 0h0m14 0h0m38 0h0m6 0h0m11 0h0m5 0h0m16 0h0m30 0h0m10 0h0m3 0h0m6 0h0m49 0h0m33 0h0m107 0h0m72 0h0m-999 1h0m3 0h0m0 0h0m5 0h0m1 0h0m3 0h0m2 0h0m0 0h0m4 0h0m2 0h0m14 0h0m4 0h0m2 0h0m1 0h0m6 0h0m0 0h0m9 0h0m3 0h0m0 0h0m17 0h0m13 0h0m16 0h0m7 0h0m2 0h0m6 0h0m2 0h0m4 0h0m5 0h0m9 0h0m0 0h0m27 0h0m20 0h0m6 0h0m7 0h0m13 0h0m4 0h0m31 0h0m5 0h0m6 0h0m1 0h0m49 0h0m73 0h0m6 0h0m19 0h0m5 0h0m14 0h0m5 0h0m1 0h0m0 0h0m50 0h0m14 0h0m2 0h0m2 0h0m0 0h0m1 0h0m3 0h0m19 0h0m37 0h0m2 0h0m24 0h0m11 0h0m34 0h0m8 0h0m6 0h0m25 0h0m3 0h0m24 0h0m43 0h0m1 0h0m30 0h0m12 0h0m31 0h0m118 0h0m-919 1h0m5 0h0m7 0h0m1 0h0m9 0h0m5 0h0m0 0h0m0 0h0m2 0h0m2 0h0m5 0h0m1 0h0m2 0h0m2 0h0m2 0h0m5 0h0m16 0h0m0 0h0m3 0h0m4 0h0m4 0h0m47 0h0m6 0h0m27 0h0m19 0h0m9 0h0m12 0h0m2 0h0m19 0h0m17 0h0m13 0h0m13 0h0m18 0h0m40 0h0m16 0h0m39 0h0m2 0h0m6 0h0m8 0h0m1 0h0m2 0h0m3 0h0m17 0h0m3 0h0m18 0h0m20 0h0m7 0h0m0 0h0m1 0h0m26 0h0m24 0h0m29 0h0m4 0h0m2 0h0m4 0h0m9 0h0m7 0h0m42 0h0m0 0h0m8 0h0m10 0h0m1 0h0m80 0h0m4 0h0m2 0h0m1 0h0m7 0h0m19 0h0m27 0h0m160 0h0m66 0h0m-1001 1h0m1 0h0m15 0h0m4 0h0m6 0h0m3 0h0m5 0h0m3 0h0m5 0h0m0 0h0m1 0h0m3 0h0m3 0h0m4 0h0m26 0h0m25 0h0m16 0h0m35 0h0m3 0h0m7 0h0m20 0h0m10 0h0m12 0h0m23 0h0m39 0h0m2 0h0m1 0h0m15 0h0m1 0h0m17 0h0m27 0h0m14 0h0m47 0h0m16 0h0m11 0h0m4 0h0m34 0h0m9 0h0m11 0h0m2 0h0m9 0h0m30 0h0m16 0h0m46 0h0m10 0h0m1 0h0m23 0h0m42 0h0m2 0h0m1 0h0m2 0h0m2 0h0m32 0h0m9 0h0m3 0h0m14 0h0m12 0h0m71 0h0m8 0h0m153 0h0m47 0h0m71 0h0m47 0h0m-1133 1h0m6 0h0m25 0h0m0 0h0m4 0h0m4 0h0m0 0h0m2 0h0m16 0h0m18 0h0m18 0h0m5 0h0m0 0h0m12 0h0m8 0h0m1 0h0m4 0h0m13 0h0m2 0h0m16 0h0m6 0h0m12 0h0m12 0h0m10 0h0m37 0h0m2 0h0m8 0h0m7 0h0m5 0h0m2 0h0m3 0h0m30 0h0m42 0h0m16 0h0m14 0h0m23 0h0m9 0h0m9 0h0m1 0h0m5 0h0m0 0h0m19 0h0m0 0h0m7 0h0m2 0h0m26 0h0m2 0h0m3 0h0m5 0h0m4 0h0m24 0h0m1 0h0m42 0h0m33 0h0m3 0h0m15 0h0m2 0h0m1 0h0m1 0h0m29 0h0m0 0h0m10 0h0m13 0h0m7 0h0m2 0h0m3 0h0m11 0h0m18 0h0m9 0h0m29 0h0m19 0h0m39 0h0m8 0h0m3 0h0m28 0h0m101 0h0m27 0h0m25 0h0m60 0h0m6 0h0m-1044 1h0m3 0h0m1 0h0m27 0h0m1 0h0m8 0h0m9 0h0m2 0h0m8 0h0m0 0h0m20 0h0m3 0h0m8 0h0m19 0h0m6 0h0m40 0h0m4 0h0m1 0h0m0 0h0m35 0h0m5 0h0m58 0h0m25 0h0m1 0h0m2 0h0m2 0h0m33 0h0m15 0h0m44 0h0m15 0h0m6 0h0m2 0h0m31 0h0m4 0h0m21 0h0m22 0h0m26 0h0m4 0h0m30 0h0m2 0h0m5 0h0m10 0h0m4 0h0m19 0h0m13 0h0m17 0h0m18 0h0m7 0h0m8 0h0m21 0h0m3 0h0m35 0h0m9 0h0m25 0h0m105 0h0m183 0h0m-1026 1h0m11 0h0m1 0h0m5 0h0m12 0h0m1 0h0m1 0h0m12 0h0m4 0h0m2 0h0m9 0h0m4 0h0m13 0h0m8 0h0m29 0h0m5 0h0m0 0h0m5 0h0m10 0h0m43 0h0m2 0h0m25 0h0m11 0h0m1 0h0m2 0h0m14 0h0m12 0h0m8 0h0m0 0h0m5 0h0m7 0h0m1 0h0m18 0h0m5 0h0m53 0h0m47 0h0m3 0h0m5 0h0m3 0h0m8 0h0m10 0h0m4 0h0m6 0h0m11 0h0m9 0h0m22 0h0m8 0h0m1 0h0m9 0h0m8 0h0m10 0h0m0 0h0m42 0h0m2 0h0m44 0h0m7 0h0m2 0h0m23 0h0m26 0h0m6 0h0m1 0h0m2 0h0m40 0h0m11 0h0m9 0h0m9 0h0m1 0h0m15 0h0m38 0h0m148 0h0m105 0h0m-1026 1h0m0 0h0m3 0h0m2 0h0m1 0h0m1 0h0m2 0h0m3 0h0m0 0h0m4 0h0m3 0h0m2 0h0m5 0h0m0 0h0m2 0h0m2 0h0m3 0h0m0 0h0m5 0h0m3 0h0m2 0h0m6 0h0m24 0h0m14 0h0m17 0h0m16 0h0m6 0h0m19 0h0m10 0h0m14 0h0m0 0h0m6 0h0m1 0h0m21 0h0m6 0h0m22 0h0m6 0h0m14 0h0m11 0h0m3 0h0m55 0h0m28 0h0m61 0h0m2 0h0m1 0h0m4 0h0m1 0h0m6 0h0m0 0h0m16 0h0m4 0h0m14 0h0m5 0h0m6 0h0m0 0h0m2 0h0m3 0h0m2 0h0m2 0h0m6 0h0m8 0h0m16 0h0m32 0h0m10 0h0m8 0h0m7 0h0m8 0h0m4 0h0m2 0h0m39 0h0m18 0h0m8 0h0m7 0h0m12 0h0m37 0h0m17 0h0m2 0h0m11 0h0m3 0h0m91 0h0m132 0h0m-955 1h0m1 0h0m0 0h0m5 0h0m2 0h0m5 0h0m1 0h0m1 0h0m5 0h0m0 0h0m4 0h0m1 0h0m1 0h0m2 0h0m6 0h0m2 0h0m2 0h0m11 0h0m1 0h0m2 0h0m5 0h0m4 0h0m23 0h0m2 0h0m3 0h0m19 0h0m16 0h0m2 0h0m6 0h0m44 0h0m34 0h0m1 0h0m21 0h0m0 0h0m7 0h0m7 0h0m3 0h0m10 0h0m10 0h0m19 0h0m3 0h0m45 0h0m11 0h0m38 0h0m29 0h0m4 0h0m9 0h0m2 0h0m10 0h0m19 0h0m32 0h0m0 0h0m12 0h0m2 0h0m3 0h0m4 0h0m39 0h0m1 0h0m12 0h0m4 0h0m10 0h0m12 0h0m2 0h0m19 0h0m2 0h0m6 0h0m23 0h0m9 0h0m1 0h0m39 0h0m14 0h0m15 0h0m25 0h0m2 0h0m0 0h0m2 0h0m65 0h0m8 0h0m94 0h0m39 0h0m101 0h0m-1057 1h0m2 0h0m11 0h0m0 0h0m2 0h0m27 0h0m5 0h0m16 0h0m22 0h0m5 0h0m19 0h0m2 0h0m0 0h0m1 0h0m8 0h0m1 0h0m3 0h0m1 0h0m8 0h0m5 0h0m22 0h0m13 0h0m0 0h0m10 0h0m8 0h0m0 0h0m3 0h0m22 0h0m1 0h0m13 0h0m4 0h0m7 0h0m20 0h0m1 0h0m2 0h0m17 0h0m1 0h0m81 0h0m24 0h0m8 0h0m15 0h0m24 0h0m1 0h0m24 0h0m5 0h0m7 0h0m32 0h0m16 0h0m20 0h0m0 0h0m3 0h0m4 0h0m3 0h0m0 0h0m6 0h0m13 0h0m0 0h0m2 0h0m7 0h0m1 0h0m13 0h0m22 0h0m14 0h0m13 0h0m18 0h0m33 0h0m18 0h0m3 0h0m2 0h0m7 0h0m5 0h0m4 0h0m1 0h0m4 0h0m8 0h0m29 0h0m269 0h0m-1039 1h0m7 0h0m3 0h0m22 0h0m5 0h0m1 0h0m6 0h0m5 0h0m0 0h0m1 0h0m23 0h0m1 0h0m1 0h0m2 0h0m46 0h0m8 0h0m2 0h0m25 0h0m1 0h0m8 0h0m36 0h0m32 0h0m8 0h0m8 0h0m10 0h0m0 0h0m5 0h0m10 0h0m44 0h0m17 0h0m45 0h0m43 0h0m33 0h0m34 0h0m10 0h0m12 0h0m18 0h0m21 0h0m8 0h0m5 0h0m5 0h0m4 0h0m18 0h0m1 0h0m15 0h0m2 0h0m7 0h0m5 0h0m1 0h0m2 0h0m2 0h0m11 0h0m7 0h0m25 0h0m18 0h0m17 0h0m7 0h0m1 0h0m2 0h0m17 0h0m0 0h0m66 0h0m7 0h0m12 0h0m145 0h0m-965 1h0m1 0h0m7 0h0m0 0h0m2 0h0m7 0h0m1 0h0m8 0h0m6 0h0m12 0h0m3 0h0m8 0h0m1 0h0m20 0h0m0 0h0m4 0h0m1 0h0m7 0h0m19 0h0m1 0h0m8 0h0m15 0h0m5 0h0m18 0h0m1 0h0m7 0h0m2 0h0m9 0h0m14 0h0m41 0h0m3 0h0m7 0h0m15 0h0m6 0h0m2 0h0m1 0h0m3 0h0m1 0h0m4 0h0m22 0h0m18 0h0m16 0h0m18 0h0m15 0h0m8 0h0m18 0h0m6 0h0m0 0h0m5 0h0m5 0h0m9 0h0m1 0h0m23 0h0m40 0h0m10 0h0m9 0h0m1 0h0m5 0h0m15 0h0m1 0h0m40 0h0m25 0h0m3 0h0m9 0h0m23 0h0m7 0h0m0 0h0m3 0h0m5 0h0m29 0h0m2 0h0m1 0h0m4 0h0m27 0h0m2 0h0m15 0h0m10 0h0m8 0h0m5 0h0m35 0h0m-765 1h0m5 0h0m3 0h0m14 0h0m9 0h0m8 0h0m0 0h0m0 0h0m5 0h0m32 0h0m20 0h0m5 0h0m2 0h0m26 0h0m46 0h0m13 0h0m11 0h0m0 0h0m1 0h0m1 0h0m36 0h0m40 0h0m1 0h0m2 0h0m6 0h0m21 0h0m31 0h0m45 0h0m2 0h0m1 0h0m14 0h0m1 0h0m3 0h0m2 0h0m10 0h0m16 0h0m28 0h0m5 0h0m24 0h0m22 0h0m8 0h0m16 0h0m8 0h0m1 0h0m11 0h0m17 0h0m0 0h0m1 0h0m1 0h0m5 0h0m1 0h0m11 0h0m34 0h0m36 0h0m24 0h0m11 0h0m13 0h0m29 0h0m24 0h0m26 0h0m37 0h0m128 0h0m82 0h0m-1037 1h0m3 0h0m3 0h0m1 0h0m3 0h0m6 0h0m4 0h0m2 0h0m1 0h0m7 0h0m7 0h0m1 0h0m12 0h0m10 0h0m16 0h0m0 0h0m7 0h0m5 0h0m14 0h0m24 0h0m26 0h0m8 0h0m8 0h0m5 0h0m4 0h0m18 0h0m5 0h0m9 0h0m6 0h0m40 0h0m2 0h0m5 0h0m2 0h0m0 0h0m8 0h0m33 0h0m48 0h0m30 0h0m60 0h0m15 0h0m2 0h0m8 0h0m8 0h0m1 0h0m19 0h0m1 0h0m5 0h0m7 0h0m6 0h0m23 0h0m8 0h0m12 0h0m2 0h0m7 0h0m5 0h0m22 0h0m35 0h0m2 0h0m20 0h0m20 0h0m29 0h0m22 0h0m25 0h0m1 0h0m17 0h0m18 0h0m157 0h0m31 0h0m10 0h0m71 0h0m-1051 1h0m3 0h0m0 0h0m4 0h0m5 0h0m0 0h0m0 0h0m5 0h0m6 0h0m1 0h0m20 0h0m6 0h0m8 0h0m2 0h0m0 0h0m18 0h0m9 0h0m18 0h0m8 0h0m2 0h0m11 0h0m7 0h0m4 0h0m14 0h0m17 0h0m37 0h0m5 0h0m2 0h0m17 0h0m0 0h0m9 0h0m9 0h0m10 0h0m1 0h0m1 0h0m13 0h0m41 0h0m71 0h0m10 0h0m12 0h0m2 0h0m6 0h0m48 0h0m5 0h0m18 0h0m4 0h0m5 0h0m0 0h0m6 0h0m3 0h0m17 0h0m31 0h0m39 0h0m4 0h0m1 0h0m18 0h0m5 0h0m56 0h0m13 0h0m10 0h0m14 0h0m14 0h0m11 0h0m14 0h0m-749 1h0m13 0h0m7 0h0m7 0h0m0 0h0m1 0h0m0 0h0m8 0h0m0 0h0m0 0h0m1 0h0m12 0h0m7 0h0m0 0h0m2 0h0m31 0h0m8 0h0m13 0h0m3 0h0m7 0h0m5 0h0m35 0h0m7 0h0m22 0h0m5 0h0m9 0h0m5 0h0m27 0h0m7 0h0m4 0h0m14 0h0m4 0h0m1 0h0m5 0h0m3 0h0m13 0h0m48 0h0m11 0h0m7 0h0m11 0h0m49 0h0m8 0h0m4 0h0m39 0h0m0 0h0m2 0h0m3 0h0m72 0h0m5 0h0m5 0h0m18 0h0m2 0h0m55 0h0m0 0h0m19 0h0m15 0h0m2 0h0m10 0h0m21 0h0m15 0h0m9 0h0m16 0h0m1 0h0m1 0h0m9 0h0m28 0h0m329 0h0m-1094 1h0m6 0h0m4 0h0m7 0h0m1 0h0m3 0h0m1 0h0m7 0h0m0 0h0m1 0h0m2 0h0m8 0h0m0 0h0m3 0h0m1 0h0m2 0h0m2 0h0m5 0h0m43 0h0m0 0h0m1 0h0m2 0h0m30 0h0m23 0h0m6 0h0m44 0h0m28 0h0m4 0h0m0 0h0m33 0h0m2 0h0m10 0h0m20 0h0m50 0h0m8 0h0m20 0h0m5 0h0m14 0h0m1 0h0m6 0h0m13 0h0m20 0h0m13 0h0m2 0h0m29 0h0m8 0h0m3 0h0m4 0h0m5 0h0m2 0h0m9 0h0m17 0h0m8 0h0m1 0h0m19 0h0m24 0h0m3 0h0m5 0h0m0 0h0m15 0h0m9 0h0m1 0h0m6 0h0m3 0h0m9 0h0m27 0h0m26 0h0m2 0h0m4 0h0m0 0h0m1 0h0m5 0h0m6 0h0m7 0h0m5 0h0m51 0h0m17 0h0m29 0h0m152 0h0m119 0h0m-1091 1h0m5 0h0m0 0h0m3 0h0m2 0h0m7 0h0m4 0h0m2 0h0m3 0h0m15 0h0m7 0h0m7 0h0m6 0h0m23 0h0m15 0h0m10 0h0m17 0h0m1 0h0m2 0h0m8 0h0m3 0h0m17 0h0m4 0h0m7 0h0m1 0h0m19 0h0m0 0h0m1 0h0m13 0h0m12 0h0m21 0h0m0 0h0m1 0h0m24 0h0m4 0h0m17 0h0m11 0h0m28 0h0m62 0h0m5 0h0m18 0h0m4 0h0m1 0h0m9 0h0m9 0h0m0 0h0m34 0h0m14 0h0m18 0h0m6 0h0m3 0h0m8 0h0m9 0h0m0 0h0m39 0h0m0 0h0m6 0h0m25 0h0m1 0h0m4 0h0m39 0h0m21 0h0m6 0h0m0 0h0m3 0h0m3 0h0m3 0h0m28 0h0m12 0h0m21 0h0m13 0h0m3 0h0m152 0h0m67 0h0m-968 1h0m1 0h0m0 0h0m6 0h0m1 0h0m4 0h0m5 0h0m11 0h0m0 0h0m1 0h0m6 0h0m4 0h0m15 0h0m8 0h0m24 0h0m10 0h0m5 0h0m1 0h0m3 0h0m15 0h0m2 0h0m1 0h0m14 0h0m5 0h0m16 0h0m5 0h0m14 0h0m2 0h0m3 0h0m8 0h0m10 0h0m14 0h0m23 0h0m16 0h0m3 0h0m8 0h0m11 0h0m6 0h0m9 0h0m40 0h0m61 0h0m19 0h0m2 0h0m3 0h0m13 0h0m37 0h0m3 0h0m16 0h0m0 0h0m15 0h0m6 0h0m15 0h0m27 0h0m1 0h0m18 0h0m5 0h0m16 0h0m9 0h0m18 0h0m3 0h0m6 0h0m12 0h0m21 0h0m11 0h0m4 0h0m3 0h0m44 0h0m9 0h0m11 0h0m3 0h0m2 0h0m38 0h0m26 0h0m3 0h0m135 0h0m15 0h0m123 0h0m-1083 1h0m2 0h0m3 0h0m5 0h0m4 0h0m14 0h0m18 0h0m3 0h0m6 0h0m5 0h0m2 0h0m0 0h0m19 0h0m47 0h0m28 0h0m0 0h0m2 0h0m10 0h0m3 0h0m0 0h0m34 0h0m8 0h0m1 0h0m1 0h0m1 0h0m20 0h0m2 0h0m13 0h0m4 0h0m23 0h0m12 0h0m73 0h0m5 0h0m17 0h0m3 0h0m4 0h0m19 0h0m4 0h0m19 0h0m5 0h0m8 0h0m28 0h0m3 0h0m1 0h0m2 0h0m2 0h0m7 0h0m9 0h0m19 0h0m20 0h0m1 0h0m1 0h0m1 0h0m35 0h0m15 0h0m23 0h0m15 0h0m2 0h0m6 0h0m6 0h0m17 0h0m1 0h0m11 0h0m5 0h0m25 0h0m9 0h0m6 0h0m6 0h0m4 0h0m2 0h0m5 0h0m17 0h0m19 0h0m290 0h0m-1054 1h0m0 0h0m4 0h0m2 0h0m4 0h0m4 0h0m4 0h0m8 0h0m1 0h0m0 0h0m2 0h0m0 0h0m1 0h0m0 0h0m7 0h0m4 0h0m4 0h0m12 0h0m2 0h0m17 0h0m5 0h0m2 0h0m5 0h0m9 0h0m2 0h0m3 0h0m31 0h0m1 0h0m18 0h0m2 0h0m5 0h0m8 0h0m5 0h0m10 0h0m7 0h0m1 0h0m10 0h0m8 0h0m29 0h0m3 0h0m1 0h0m4 0h0m6 0h0m1 0h0m4 0h0m24 0h0m21 0h0m86 0h0m21 0h0m10 0h0m23 0h0m45 0h0m1 0h0m25 0h0m3 0h0m1 0h0m31 0h0m8 0h0m4 0h0m10 0h0m2 0h0m10 0h0m1 0h0m5 0h0m2 0h0m3 0h0m26 0h0m3 0h0m26 0h0m20 0h0m2 0h0m27 0h0m5 0h0m0 0h0m23 0h0m17 0h0m6 0h0m41 0h0m65 0h0m23 0h0m24 0h0m38 0h0m19 0h0m-959 1h0m14 0h0m8 0h0m2 0h0m2 0h0m5 0h0m3 0h0m2 0h0m7 0h0m3 0h0m2 0h0m2 0h0m7 0h0m1 0h0m1 0h0m24 0h0m2 0h0m4 0h0m3 0h0m2 0h0m4 0h0m16 0h0m2 0h0m3 0h0m7 0h0m29 0h0m21 0h0m4 0h0m16 0h0m12 0h0m2 0h0m20 0h0m1 0h0m7 0h0m30 0h0m8 0h0m10 0h0m35 0h0m26 0h0m1 0h0m7 0h0m50 0h0m24 0h0m7 0h0m30 0h0m9 0h0m29 0h0m6 0h0m10 0h0m19 0h0m5 0h0m16 0h0m3 0h0m14 0h0m2 0h0m6 0h0m6 0h0m2 0h0m2 0h0m34 0h0m0 0h0m9 0h0m3 0h0m1 0h0m2 0h0m2 0h0m7 0h0m7 0h0m0 0h0m1 0h0m1 0h0m2 0h0m1 0h0m5 0h0m1 0h0m16 0h0m11 0h0m4 0h0m19 0h0m8 0h0m8 0h0m31 0h0m51 0h0m141 0h0m-961 1h0m11 0h0m10 0h0m3 0h0m7 0h0m15 0h0m5 0h0m0 0h0m26 0h0m2 0h0m15 0h0m3 0h0m3 0h0m17 0h0m1 0h0m4 0h0m70 0h0m4 0h0m10 0h0m26 0h0m26 0h0m4 0h0m1 0h0m4 0h0m0 0h0m5 0h0m12 0h0m3 0h0m67 0h0m27 0h0m31 0h0m2 0h0m11 0h0m32 0h0m8 0h0m24 0h0m8 0h0m20 0h0m20 0h0m4 0h0m15 0h0m10 0h0m2 0h0m49 0h0m2 0h0m8 0h0m4 0h0m22 0h0m1 0h0m3 0h0m30 0h0m5 0h0m19 0h0m13 0h0m5 0h0m4 0h0m1 0h0m195 0h0m18 0h0m149 0h0m-1093 1h0m1 0h0m2 0h0m5 0h0m1 0h0m8 0h0m3 0h0m1 0h0m6 0h0m3 0h0m1 0h0m3 0h0m7 0h0m4 0h0m6 0h0m2 0h0m24 0h0m6 0h0m7 0h0m4 0h0m13 0h0m18 0h0m34 0h0m6 0h0m1 0h0m12 0h0m23 0h0m9 0h0m21 0h0m2 0h0m3 0h0m10 0h0m9 0h0m2 0h0m3 0h0m77 0h0m19 0h0m3 0h0m21 0h0m4 0h0m16 0h0m4 0h0m5 0h0m3 0h0m3 0h0m2 0h0m45 0h0m3 0h0m8 0h0m5 0h0m2 0h0m5 0h0m14 0h0m4 0h0m2 0h0m3 0h0m1 0h0m53 0h0m18 0h0m6 0h0m38 0h0m27 0h0m2 0h0m2 0h0m12 0h0m47 0h0m6 0h0m27 0h0m199 0h0m66 0h0m-1011 1h0m0 0h0m1 0h0m3 0h0m0 0h0m5 0h0m4 0h0m21 0h0m8 0h0m0 0h0m4 0h0m2 0h0m5 0h0m1 0h0m2 0h0m34 0h0m3 0h0m11 0h0m10 0h0m6 0h0m2 0h0m35 0h0m9 0h0m9 0h0m1 0h0m9 0h0m18 0h0m1 0h0m5 0h0m18 0h0m22 0h0m24 0h0m14 0h0m1 0h0m17 0h0m1 0h0m24 0h0m11 0h0m13 0h0m24 0h0m2 0h0m3 0h0m2 0h0m10 0h0m1 0h0m9 0h0m9 0h0m2 0h0m60 0h0m0 0h0m1 0h0m6 0h0m7 0h0m2 0h0m7 0h0m44 0h0m18 0h0m23 0h0m2 0h0m29 0h0m2 0h0m29 0h0m1 0h0m2 0h0m9 0h0m8 0h0m5 0h0m12 0h0m1 0h0m11 0h0m19 0h0m13 0h0m19 0h0m177 0h0m3 0h0m1 0h0m96 0h0m-1030 1h0m5 0h0m10 0h0m1 0h0m5 0h0m13 0h0m1 0h0m1 0h0m5 0h0m9 0h0m4 0h0m1 0h0m3 0h0m22 0h0m1 0h0m1 0h0m8 0h0m6 0h0m1 0h0m15 0h0m3 0h0m21 0h0m1 0h0m45 0h0m11 0h0m7 0h0m12 0h0m33 0h0m14 0h0m7 0h0m13 0h0m13 0h0m62 0h0m8 0h0m6 0h0m30 0h0m10 0h0m17 0h0m1 0h0m3 0h0m1 0h0m7 0h0m37 0h0m0 0h0m37 0h0m6 0h0m32 0h0m7 0h0m0 0h0m9 0h0m9 0h0m3 0h0m2 0h0m7 0h0m0 0h0m8 0h0m33 0h0m6 0h0m0 0h0m16 0h0m2 0h0m40 0h0m28 0h0m7 0h0m1 0h0m15 0h0m0 0h0m12 0h0m77 0h0m-827 1h0m6 0h0m3 0h0m23 0h0m14 0h0m6 0h0m1 0h0m1 0h0m1 0h0m1 0h0m32 0h0m11 0h0m1 0h0m16 0h0m1 0h0m7 0h0m13 0h0m22 0h0m10 0h0m9 0h0m18 0h0m12 0h0m38 0h0m3 0h0m20 0h0m21 0h0m39 0h0m10 0h0m25 0h0m18 0h0m10 0h0m16 0h0m8 0h0m17 0h0m26 0h0m6 0h0m13 0h0m14 0h0m3 0h0m5 0h0m4 0h0m3 0h0m30 0h0m4 0h0m1 0h0m2 0h0m8 0h0m23 0h0m1 0h0m13 0h0m1 0h0m58 0h0m42 0h0m4 0h0m3 0h0m14 0h0m6 0h0m32 0h0m28 0h0m145 0h0m-903 1h0m5 0h0m2 0h0m6 0h0m4 0h0m15 0h0m3 0h0m2 0h0m20 0h0m16 0h0m28 0h0m5 0h0m9 0h0m34 0h0m5 0h0m21 0h0m4 0h0m43 0h0m23 0h0m1 0h0m10 0h0m3 0h0m12 0h0m22 0h0m4 0h0m30 0h0m55 0h0m2 0h0m16 0h0m15 0h0m29 0h0m4 0h0m0 0h0m4 0h0m9 0h0m2 0h0m9 0h0m6 0h0m16 0h0m37 0h0m3 0h0m20 0h0m41 0h0m13 0h0m3 0h0m6 0h0m14 0h0m20 0h0m21 0h0m8 0h0m7 0h0m7 0h0m8 0h0m5 0h0m15 0h0m64 0h0m115 0h0m21 0h0m20 0h0m167 0h0m-1122 1h0m0 0h0m1 0h0m2 0h0m14 0h0m19 0h0m6 0h0m3 0h0m10 0h0m15 0h0m10 0h0m0 0h0m2 0h0m5 0h0m4 0h0m2 0h0m4 0h0m19 0h0m8 0h0m2 0h0m6 0h0m27 0h0m13 0h0m5 0h0m2 0h0m43 0h0m10 0h0m18 0h0m4 0h0m12 0h0m4 0h0m5 0h0m6 0h0m3 0h0m1 0h0m60 0h0m33 0h0m14 0h0m15 0h0m3 0h0m13 0h0m7 0h0m32 0h0m7 0h0m9 0h0m3 0h0m7 0h0m4 0h0m1 0h0m4 0h0m3 0h0m4 0h0m1 0h0m0 0h0m23 0h0m11 0h0m11 0h0m1 0h0m0 0h0m14 0h0m6 0h0m16 0h0m1 0h0m28 0h0m10 0h0m3 0h0m8 0h0m3 0h0m47 0h0m2 0h0m15 0h0m3 0h0m27 0h0m48 0h0m12 0h0m239 0h0m-1042 1h0m4 0h0m13 0h0m6 0h0m9 0h0m3 0h0m1 0h0m4 0h0m0 0h0m15 0h0m1 0h0m3 0h0m5 0h0m33 0h0m10 0h0m3 0h0m6 0h0m1 0h0m15 0h0m51 0h0m7 0h0m8 0h0m2 0h0m7 0h0m23 0h0m2 0h0m16 0h0m8 0h0m15 0h0m5 0h0m5 0h0m58 0h0m0 0h0m1 0h0m2 0h0m41 0h0m4 0h0m7 0h0m5 0h0m7 0h0m3 0h0m6 0h0m20 0h0m3 0h0m2 0h0m6 0h0m0 0h0m19 0h0m10 0h0m24 0h0m1 0h0m17 0h0m20 0h0m21 0h0m34 0h0m5 0h0m20 0h0m4 0h0m7 0h0m1 0h0m25 0h0m4 0h0m0 0h0m13 0h0m64 0h0m44 0h0m154 0h0m-933 1h0m6 0h0m1 0h0m3 0h0m1 0h0m1 0h0m14 0h0m0 0h0m5 0h0m8 0h0m0 0h0m6 0h0m4 0h0m4 0h0m7 0h0m16 0h0m4 0h0m3 0h0m11 0h0m6 0h0m3 0h0m23 0h0m5 0h0m3 0h0m20 0h0m1 0h0m7 0h0m9 0h0m16 0h0m5 0h0m1 0h0m19 0h0m2 0h0m2 0h0m39 0h0m5 0h0m1 0h0m8 0h0m4 0h0m52 0h0m19 0h0m15 0h0m34 0h0m1 0h0m9 0h0m6 0h0m8 0h0m4 0h0m7 0h0m5 0h0m4 0h0m37 0h0m4 0h0m13 0h0m23 0h0m3 0h0m29 0h0m0 0h0m41 0h0m33 0h0m3 0h0m6 0h0m4 0h0m29 0h0m11 0h0m23 0h0m13 0h0m1 0h0m6 0h0m3 0h0m8 0h0m1 0h0m16 0h0m0 0h0m177 0h0m-917 1h0m9 0h0m11 0h0m2 0h0m7 0h0m9 0h0m0 0h0m2 0h0m0 0h0m1 0h0m1 0h0m2 0h0m1 0h0m3 0h0m9 0h0m1 0h0m1 0h0m1 0h0m19 0h0m4 0h0m15 0h0m2 0h0m0 0h0m1 0h0m8 0h0m4 0h0m56 0h0m9 0h0m73 0h0m19 0h0m9 0h0m6 0h0m81 0h0m12 0h0m41 0h0m11 0h0m48 0h0m1 0h0m9 0h0m9 0h0m58 0h0m3 0h0m52 0h0m23 0h0m8 0h0m16 0h0m43 0h0m17 0h0m13 0h0m1 0h0m10 0h0m235 0h0m99 0h0m-1079 1h0m5 0h0m6 0h0m12 0h0m7 0h0m11 0h0m4 0h0m11 0h0m3 0h0m1 0h0m18 0h0m4 0h0m0 0h0m2 0h0m1 0h0m1 0h0m33 0h0m1 0h0m1 0h0m3 0h0m3 0h0m9 0h0m1 0h0m3 0h0m26 0h0m12 0h0m3 0h0m23 0h0m13 0h0m13 0h0m7 0h0m1 0h0m16 0h0m12 0h0m24 0h0m26 0h0m29 0h0m6 0h0m18 0h0m21 0h0m11 0h0m15 0h0m3 0h0m5 0h0m6 0h0m29 0h0m7 0h0m27 0h0m48 0h0m3 0h0m4 0h0m9 0h0m3 0h0m5 0h0m8 0h0m6 0h0m3 0h0m41 0h0m17 0h0m48 0h0m9 0h0m38 0h0m1 0h0m8 0h0m40 0h0m2 0h0m0 0h0m10 0h0m11 0h0m324 0h0m131 0h0m-1262 1h0m0 0h0m1 0h0m7 0h0m7 0h0m4 0h0m4 0h0m2 0h0m1 0h0m4 0h0m3 0h0m6 0h0m3 0h0m1 0h0m2 0h0m10 0h0m1 0h0m0 0h0m4 0h0m0 0h0m4 0h0m12 0h0m23 0h0m1 0h0m26 0h0m3 0h0m9 0h0m19 0h0m51 0h0m24 0h0m4 0h0m3 0h0m0 0h0m4 0h0m6 0h0m35 0h0m6 0h0m60 0h0m51 0h0m8 0h0m56 0h0m8 0h0m2 0h0m8 0h0m30 0h0m5 0h0m0 0h0m24 0h0m5 0h0m14 0h0m16 0h0m14 0h0m30 0h0m10 0h0m8 0h0m2 0h0m12 0h0m3 0h0m2 0h0m5 0h0m10 0h0m1 0h0m17 0h0m3 0h0m2 0h0m8 0h0m11 0h0m17 0h0m1 0h0m8 0h0m6 0h0m188 0h0m41 0h0m34 0h0m64 0h0m-1072 1h0m8 0h0m9 0h0m5 0h0m4 0h0m2 0h0m10 0h0m11 0h0m1 0h0m3 0h0m3 0h0m3 0h0m2 0h0m1 0h0m40 0h0m25 0h0m12 0h0m23 0h0m11 0h0m23 0h0m31 0h0m45 0h0m0 0h0m2 0h0m5 0h0m46 0h0m10 0h0m48 0h0m1 0h0m15 0h0m21 0h0m14 0h0m8 0h0m25 0h0m33 0h0m8 0h0m2 0h0m3 0h0m6 0h0m33 0h0m9 0h0m6 0h0m15 0h0m3 0h0m8 0h0m17 0h0m19 0h0m5 0h0m29 0h0m8 0h0m1 0h0m20 0h0m5 0h0m24 0h0m1 0h0m16 0h0m0 0h0m1 0h0m119 0h0m36 0h0m179 0h0m44 0h0m-1114 1h0m9 0h0m5 0h0m4 0h0m1 0h0m1 0h0m31 0h0m5 0h0m2 0h0m17 0h0m4 0h0m11 0h0m2 0h0m3 0h0m5 0h0m14 0h0m16 0h0m5 0h0m28 0h0m1 0h0m1 0h0m9 0h0m11 0h0m7 0h0m10 0h0m1 0h0m8 0h0m14 0h0m1 0h0m12 0h0m29 0h0m6 0h0m8 0h0m6 0h0m33 0h0m14 0h0m49 0h0m29 0h0m6 0h0m1 0h0m2 0h0m14 0h0m3 0h0m24 0h0m2 0h0m23 0h0m0 0h0m2 0h0m1 0h0m19 0h0m8 0h0m2 0h0m16 0h0m19 0h0m5 0h0m0 0h0m16 0h0m12 0h0m30 0h0m5 0h0m5 0h0m16 0h0m11 0h0m1 0h0m2 0h0m4 0h0m31 0h0m4 0h0m19 0h0m17 0h0m66 0h0m143 0h0m23 0h0m3 0h0m10 0h0m-978 1h0m1 0h0m6 0h0m3 0h0m3 0h0m1 0h0m16 0h0m9 0h0m3 0h0m9 0h0m1 0h0m0 0h0m2 0h0m2 0h0m25 0h0m29 0h0m7 0h0m37 0h0m1 0h0m10 0h0m2 0h0m22 0h0m2 0h0m10 0h0m7 0h0m17 0h0m7 0h0m15 0h0m1 0h0m0 0h0m8 0h0m14 0h0m4 0h0m9 0h0m1 0h0m23 0h0m5 0h0m2 0h0m17 0h0m8 0h0m27 0h0m36 0h0m7 0h0m2 0h0m1 0h0m8 0h0m37 0h0m1 0h0m24 0h0m4 0h0m6 0h0m6 0h0m5 0h0m37 0h0m9 0h0m9 0h0m8 0h0m1 0h0m19 0h0m3 0h0m6 0h0m18 0h0m5 0h0m19 0h0m5 0h0m8 0h0m17 0h0m0 0h0m22 0h0m3 0h0m4 0h0m1 0h0m3 0h0m2 0h0m8 0h0m2 0h0m4 0h0m18 0h0m28 0h0m29 0h0m21 0h0m277 0h0m22 0h0m-1113 1h0m7 0h0m0 0h0m3 0h0m1 0h0m7 0h0m8 0h0m5 0h0m4 0h0m2 0h0m4 0h0m1 0h0m11 0h0m7 0h0m1 0h0m19 0h0m13 0h0m62 0h0m2 0h0m6 0h0m9 0h0m15 0h0m3 0h0m17 0h0m25 0h0m3 0h0m4 0h0m3 0h0m28 0h0m4 0h0m13 0h0m3 0h0m0 0h0m56 0h0m40 0h0m1 0h0m3 0h0m6 0h0m32 0h0m15 0h0m44 0h0m7 0h0m0 0h0m24 0h0m0 0h0m19 0h0m2 0h0m1 0h0m8 0h0m4 0h0m7 0h0m14 0h0m2 0h0m7 0h0m2 0h0m1 0h0m27 0h0m6 0h0m3 0h0m13 0h0m10 0h0m4 0h0m6 0h0m4 0h0m16 0h0m32 0h0m0 0h0m18 0h0m8 0h0m12 0h0m29 0h0m42 0h0m108 0h0m-923 1h0m3 0h0m6 0h0m7 0h0m1 0h0m2 0h0m4 0h0m3 0h0m11 0h0m2 0h0m14 0h0m0 0h0m3 0h0m22 0h0m8 0h0m1 0h0m3 0h0m0 0h0m2 0h0m9 0h0m6 0h0m2 0h0m9 0h0m3 0h0m6 0h0m49 0h0m3 0h0m3 0h0m15 0h0m4 0h0m6 0h0m1 0h0m27 0h0m3 0h0m17 0h0m36 0h0m30 0h0m3 0h0m44 0h0m16 0h0m11 0h0m16 0h0m4 0h0m4 0h0m9 0h0m3 0h0m4 0h0m22 0h0m4 0h0m15 0h0m32 0h0m12 0h0m1 0h0m16 0h0m27 0h0m5 0h0m17 0h0m1 0h0m39 0h0m23 0h0m5 0h0m3 0h0m14 0h0m1 0h0m18 0h0m5 0h0m9 0h0m4 0h0m6 0h0m6 0h0m312 0h0m-1031 1h0m5 0h0m2 0h0m4 0h0m11 0h0m7 0h0m4 0h0m9 0h0m1 0h0m1 0h0m2 0h0m1 0h0m9 0h0m2 0h0m0 0h0m15 0h0m26 0h0m2 0h0m8 0h0m11 0h0m33 0h0m3 0h0m5 0h0m9 0h0m7 0h0m19 0h0m32 0h0m1 0h0m6 0h0m12 0h0m5 0h0m11 0h0m20 0h0m28 0h0m40 0h0m31 0h0m10 0h0m18 0h0m9 0h0m113 0h0m16 0h0m9 0h0m24 0h0m55 0h0m22 0h0m34 0h0m6 0h0m21 0h0m29 0h0m2 0h0m30 0h0m14 0h0m29 0h0m-813 1h0m2 0h0m2 0h0m7 0h0m8 0h0m8 0h0m5 0h0m1 0h0m2 0h0m2 0h0m9 0h0m3 0h0m19 0h0m5 0h0m9 0h0m4 0h0m11 0h0m9 0h0m0 0h0m11 0h0m4 0h0m1 0h0m27 0h0m14 0h0m2 0h0m2 0h0m13 0h0m12 0h0m40 0h0m2 0h0m10 0h0m13 0h0m5 0h0m14 0h0m4 0h0m21 0h0m1 0h0m9 0h0m28 0h0m4 0h0m30 0h0m7 0h0m2 0h0m15 0h0m2 0h0m28 0h0m0 0h0m53 0h0m12 0h0m9 0h0m2 0h0m0 0h0m1 0h0m26 0h0m0 0h0m2 0h0m1 0h0m33 0h0m34 0h0m3 0h0m3 0h0m37 0h0m11 0h0m33 0h0m10 0h0m19 0h0m4 0h0m19 0h0m32 0h0m-784 1h0m4 0h0m4 0h0m6 0h0m5 0h0m3 0h0m1 0h0m3 0h0m4 0h0m0 0h0m2 0h0m3 0h0m2 0h0m1 0h0m5 0h0m1 0h0m6 0h0m2 0h0m3 0h0m7 0h0m1 0h0m19 0h0m6 0h0m6 0h0m6 0h0m12 0h0m8 0h0m3 0h0m6 0h0m2 0h0m6 0h0m23 0h0m20 0h0m6 0h0m14 0h0m15 0h0m19 0h0m8 0h0m6 0h0m2 0h0m2 0h0m7 0h0m8 0h0m7 0h0m15 0h0m47 0h0m62 0h0m5 0h0m1 0h0m12 0h0m11 0h0m14 0h0m37 0h0m2 0h0m11 0h0m6 0h0m2 0h0m14 0h0m8 0h0m1 0h0m32 0h0m2 0h0m2 0h0m6 0h0m1 0h0m28 0h0m24 0h0m7 0h0m2 0h0m3 0h0m24 0h0m16 0h0m6 0h0m19 0h0m7 0h0m6 0h0m3 0h0m30 0h0m1 0h0m1 0h0m10 0h0m14 0h0m15 0h0m46 0h0m123 0h0m-948 1h0m2 0h0m11 0h0m12 0h0m3 0h0m3 0h0m8 0h0m1 0h0m0 0h0m10 0h0m26 0h0m4 0h0m24 0h0m8 0h0m10 0h0m6 0h0m9 0h0m27 0h0m11 0h0m9 0h0m3 0h0m3 0h0m0 0h0m8 0h0m13 0h0m26 0h0m6 0h0m20 0h0m11 0h0m61 0h0m2 0h0m14 0h0m35 0h0m71 0h0m1 0h0m11 0h0m2 0h0m17 0h0m11 0h0m4 0h0m8 0h0m9 0h0m24 0h0m36 0h0m14 0h0m32 0h0m4 0h0m0 0h0m11 0h0m13 0h0m0 0h0m3 0h0m10 0h0m52 0h0m5 0h0m13 0h0m2 0h0m4 0h0m198 0h0m37 0h0m20 0h0m71 0h0m-1067 1h0m11 0h0m0 0h0m4 0h0m2 0h0m14 0h0m6 0h0m1 0h0m5 0h0m0 0h0m10 0h0m28 0h0m14 0h0m24 0h0m10 0h0m32 0h0m8 0h0m0 0h0m8 0h0m10 0h0m1 0h0m46 0h0m6 0h0m36 0h0m4 0h0m4 0h0m26 0h0m6 0h0m22 0h0m49 0h0m19 0h0m11 0h0m17 0h0m0 0h0m0 0h0m28 0h0m3 0h0m13 0h0m13 0h0m4 0h0m12 0h0m35 0h0m4 0h0m9 0h0m8 0h0m3 0h0m2 0h0m41 0h0m19 0h0m35 0h0m1 0h0m6 0h0m15 0h0m3 0h0m7 0h0m7 0h0m3 0h0m4 0h0m13 0h0m1 0h0m4 0h0m4 0h0m5 0h0m46 0h0m27 0h0m113 0h0m68 0h0m37 0h0m13 0h0m-1040 1h0m1 0h0m3 0h0m12 0h0m2 0h0m8 0h0m10 0h0m9 0h0m9 0h0m20 0h0m27 0h0m6 0h0m2 0h0m1 0h0m9 0h0m8 0h0m33 0h0m50 0h0m19 0h0m22 0h0m4 0h0m15 0h0m2 0h0m67 0h0m6 0h0m2 0h0m38 0h0m27 0h0m30 0h0m22 0h0m7 0h0m33 0h0m4 0h0m4 0h0m20 0h0m32 0h0m1 0h0m11 0h0m16 0h0m1 0h0m38 0h0m18 0h0m3 0h0m17 0h0m53 0h0m6 0h0m13 0h0m28 0h0m16 0h0m33 0h0m203 0h0m-1016 1h0m11 0h0m0 0h0m7 0h0m1 0h0m11 0h0m5 0h0m9 0h0m7 0h0m2 0h0m14 0h0m1 0h0m11 0h0m5 0h0m0 0h0m16 0h0m28 0h0m15 0h0m6 0h0m11 0h0m4 0h0m2 0h0m6 0h0m5 0h0m10 0h0m5 0h0m3 0h0m13 0h0m40 0h0m5 0h0m14 0h0m8 0h0m6 0h0m4 0h0m67 0h0m35 0h0m5 0h0m2 0h0m11 0h0m7 0h0m22 0h0m17 0h0m12 0h0m46 0h0m30 0h0m20 0h0m6 0h0m38 0h0m5 0h0m11 0h0m6 0h0m9 0h0m0 0h0m14 0h0m14 0h0m5 0h0m15 0h0m11 0h0m1 0h0m23 0h0m22 0h0m36 0h0m36 0h0m-821 1h0m2 0h0m6 0h0m19 0h0m1 0h0m7 0h0m2 0h0m8 0h0m4 0h0m1 0h0m13 0h0m16 0h0m4 0h0m8 0h0m12 0h0m15 0h0m7 0h0m30 0h0m2 0h0m8 0h0m30 0h0m9 0h0m3 0h0m25 0h0m13 0h0m1 0h0m31 0h0m6 0h0m4 0h0m1 0h0m20 0h0m38 0h0m39 0h0m8 0h0m2 0h0m3 0h0m3 0h0m12 0h0m12 0h0m7 0h0m4 0h0m6 0h0m1 0h0m49 0h0m0 0h0m14 0h0m16 0h0m2 0h0m67 0h0m8 0h0m32 0h0m11 0h0m4 0h0m26 0h0m3 0h0m21 0h0m11 0h0m2 0h0m17 0h0m83 0h0m271 0h0m-1079 1h0m1 0h0m11 0h0m5 0h0m1 0h0m1 0h0m2 0h0m14 0h0m2 0h0m4 0h0m1 0h0m5 0h0m1 0h0m1 0h0m0 0h0m8 0h0m5 0h0m1 0h0m2 0h0m12 0h0m0 0h0m19 0h0m2 0h0m2 0h0m0 0h0m7 0h0m22 0h0m39 0h0m4 0h0m11 0h0m8 0h0m16 0h0m0 0h0m43 0h0m4 0h0m6 0h0m1 0h0m6 0h0m52 0h0m10 0h0m22 0h0m8 0h0m36 0h0m23 0h0m2 0h0m19 0h0m8 0h0m23 0h0m1 0h0m2 0h0m3 0h0m13 0h0m18 0h0m0 0h0m4 0h0m6 0h0m26 0h0m11 0h0m6 0h0m11 0h0m8 0h0m1 0h0m2 0h0m1 0h0m39 0h0m1 0h0m1 0h0m5 0h0m16 0h0m2 0h0m0 0h0m4 0h0m23 0h0m19 0h0m11 0h0m0 0h0m44 0h0m72 0h0m54 0h0m82 0h0m-956 1h0m15 0h0m3 0h0m1 0h0m5 0h0m0 0h0m1 0h0m1 0h0m1 0h0m4 0h0m4 0h0m3 0h0m15 0h0m28 0h0m36 0h0m0 0h0m73 0h0m5 0h0m38 0h0m6 0h0m23 0h0m10 0h0m21 0h0m28 0h0m1 0h0m62 0h0m17 0h0m4 0h0m2 0h0m37 0h0m33 0h0m26 0h0m6 0h0m1 0h0m8 0h0m3 0h0m17 0h0m5 0h0m3 0h0m23 0h0m0 0h0m10 0h0m2 0h0m2 0h0m2 0h0m28 0h0m5 0h0m28 0h0m2 0h0m13 0h0m8 0h0m7 0h0m17 0h0m10 0h0m13 0h0m2 0h0m14 0h0m6 0h0m11 0h0m21 0h0m161 0h0m32 0h0m-959 1h0m3 0h0m1 0h0m3 0h0m2 0h0m2 0h0m3 0h0m2 0h0m10 0h0m3 0h0m1 0h0m1 0h0m0 0h0m6 0h0m1 0h0m4 0h0m2 0h0m4 0h0m1 0h0m1 0h0m4 0h0m0 0h0m6 0h0m39 0h0m2 0h0m5 0h0m3 0h0m4 0h0m6 0h0m3 0h0m31 0h0m29 0h0m3 0h0m2 0h0m2 0h0m17 0h0m0 0h0m1 0h0m1 0h0m3 0h0m17 0h0m8 0h0m4 0h0m4 0h0m0 0h0m1 0h0m29 0h0m37 0h0m8 0h0m12 0h0m17 0h0m8 0h0m4 0h0m21 0h0m9 0h0m3 0h0m5 0h0m8 0h0m18 0h0m36 0h0m1 0h0m8 0h0m8 0h0m39 0h0m30 0h0m15 0h0m32 0h0m30 0h0m3 0h0m5 0h0m11 0h0m7 0h0m9 0h0m9 0h0m36 0h0m1 0h0m13 0h0m5 0h0m17 0h0m1 0h0m8 0h0m174 0h0m-923 1h0m2 0h0m7 0h0m6 0h0m6 0h0m2 0h0m1 0h0m3 0h0m1 0h0m8 0h0m11 0h0m2 0h0m5 0h0m24 0h0m9 0h0m15 0h0m4 0h0m11 0h0m9 0h0m3 0h0m4 0h0m2 0h0m15 0h0m11 0h0m4 0h0m25 0h0m8 0h0m6 0h0m10 0h0m23 0h0m3 0h0m29 0h0m0 0h0m2 0h0m10 0h0m43 0h0m76 0h0m3 0h0m14 0h0m3 0h0m5 0h0m0 0h0m3 0h0m30 0h0m2 0h0m8 0h0m4 0h0m4 0h0m6 0h0m9 0h0m9 0h0m10 0h0m0 0h0m4 0h0m4 0h0m2 0h0m32 0h0m9 0h0m2 0h0m4 0h0m14 0h0m1 0h0m28 0h0m6 0h0m6 0h0m1 0h0m14 0h0m3 0h0m4 0h0m22 0h0m22 0h0m17 0h0m46 0h0m91 0h0m34 0h0m-878 1h0m12 0h0m5 0h0m0 0h0m4 0h0m4 0h0m3 0h0m3 0h0m3 0h0m6 0h0m9 0h0m2 0h0m0 0h0m6 0h0m2 0h0m1 0h0m1 0h0m16 0h0m5 0h0m16 0h0m10 0h0m1 0h0m52 0h0m5 0h0m3 0h0m1 0h0m5 0h0m18 0h0m12 0h0m1 0h0m9 0h0m14 0h0m8 0h0m7 0h0m1 0h0m10 0h0m6 0h0m2 0h0m9 0h0m14 0h0m4 0h0m79 0h0m16 0h0m19 0h0m9 0h0m24 0h0m2 0h0m4 0h0m20 0h0m1 0h0m21 0h0m6 0h0m18 0h0m30 0h0m8 0h0m17 0h0m12 0h0m5 0h0m10 0h0m8 0h0m12 0h0m5 0h0m2 0h0m16 0h0m1 0h0m2 0h0m24 0h0m5 0h0m51 0h0m12 0h0m13 0h0m6 0h0m1 0h0m72 0h0m116 0h0m8 0h0m-939 1h0m1 0h0m4 0h0m3 0h0m10 0h0m1 0h0m2 0h0m6 0h0m2 0h0m3 0h0m3 0h0m3 0h0m1 0h0m2 0h0m7 0h0m2 0h0m2 0h0m22 0h0m7 0h0m2 0h0m4 0h0m25 0h0m10 0h0m0 0h0m12 0h0m15 0h0m6 0h0m1 0h0m6 0h0m19 0h0m22 0h0m20 0h0m3 0h0m4 0h0m10 0h0m31 0h0m10 0h0m4 0h0m19 0h0m17 0h0m23 0h0m10 0h0m34 0h0m0 0h0m7 0h0m0 0h0m20 0h0m2 0h0m50 0h0m2 0h0m22 0h0m79 0h0m3 0h0m11 0h0m27 0h0m14 0h0m9 0h0m5 0h0m1 0h0m4 0h0m52 0h0m10 0h0m25 0h0m8 0h0m4 0h0m262 0h0m113 0h0m-1123 1h0m6 0h0m5 0h0m2 0h0m1 0h0m1 0h0m13 0h0m3 0h0m14 0h0m8 0h0m2 0h0m6 0h0m20 0h0m4 0h0m7 0h0m5 0h0m11 0h0m1 0h0m2 0h0m16 0h0m38 0h0m1 0h0m2 0h0m3 0h0m19 0h0m4 0h0m0 0h0m7 0h0m49 0h0m36 0h0m3 0h0m29 0h0m67 0h0m10 0h0m2 0h0m19 0h0m2 0h0m14 0h0m1 0h0m24 0h0m1 0h0m4 0h0m11 0h0m14 0h0m30 0h0m17 0h0m2 0h0m39 0h0m10 0h0m49 0h0m1 0h0m2 0h0m5 0h0m5 0h0m5 0h0m7 0h0m11 0h0m3 0h0m15 0h0m5 0h0m3 0h0m9 0h0m5 0h0m10 0h0m0 0h0m18 0h0m2 0h0m2 0h0m59 0h0m-803 1h0m1 0h0m0 0h0m4 0h0m16 0h0m8 0h0m1 0h0m1 0h0m5 0h0m3 0h0m4 0h0m3 0h0m8 0h0m0 0h0m4 0h0m1 0h0m0 0h0m5 0h0m16 0h0m7 0h0m19 0h0m12 0h0m9 0h0m13 0h0m20 0h0m21 0h0m4 0h0m7 0h0m14 0h0m0 0h0m32 0h0m12 0h0m10 0h0m5 0h0m24 0h0m34 0h0m2 0h0m37 0h0m8 0h0m16 0h0m2 0h0m6 0h0m9 0h0m40 0h0m32 0h0m13 0h0m11 0h0m10 0h0m6 0h0m22 0h0m5 0h0m14 0h0m2 0h0m8 0h0m0 0h0m15 0h0m8 0h0m11 0h0m31 0h0m8 0h0m11 0h0m19 0h0m23 0h0m12 0h0m39 0h0m1 0h0m37 0h0m156 0h0m18 0h0m3 0h0m154 0h0m-1107 1h0m2 0h0m0 0h0m13 0h0m5 0h0m4 0h0m2 0h0m3 0h0m1 0h0m2 0h0m0 0h0m4 0h0m0 0h0m3 0h0m39 0h0m0 0h0m5 0h0m32 0h0m3 0h0m2 0h0m37 0h0m5 0h0m8 0h0m11 0h0m1 0h0m17 0h0m36 0h0m8 0h0m7 0h0m3 0h0m4 0h0m9 0h0m7 0h0m1 0h0m3 0h0m2 0h0m0 0h0m7 0h0m17 0h0m60 0h0m18 0h0m33 0h0m26 0h0m22 0h0m1 0h0m0 0h0m23 0h0m19 0h0m0 0h0m3 0h0m33 0h0m16 0h0m6 0h0m4 0h0m5 0h0m3 0h0m3 0h0m15 0h0m28 0h0m4 0h0m7 0h0m5 0h0m0 0h0m69 0h0m3 0h0m18 0h0m8 0h0m7 0h0m177 0h0m-921 1h0m2 0h0m8 0h0m6 0h0m2 0h0m2 0h0m9 0h0m9 0h0m1 0h0m15 0h0m4 0h0m16 0h0m17 0h0m14 0h0m23 0h0m1 0h0m5 0h0m4 0h0m14 0h0m8 0h0m2 0h0m19 0h0m12 0h0m1 0h0m15 0h0m19 0h0m9 0h0m1 0h0m16 0h0m1 0h0m4 0h0m3 0h0m0 0h0m6 0h0m15 0h0m53 0h0m1 0h0m63 0h0m31 0h0m54 0h0m5 0h0m2 0h0m28 0h0m36 0h0m2 0h0m0 0h0m5 0h0m29 0h0m3 0h0m26 0h0m19 0h0m6 0h0m25 0h0m3 0h0m21 0h0m25 0h0m31 0h0m211 0h0m87 0h0m-1048 1h0m3 0h0m1 0h0m2 0h0m4 0h0m20 0h0m1 0h0m8 0h0m13 0h0m3 0h0m4 0h0m58 0h0m2 0h0m1 0h0m0 0h0m2 0h0m2 0h0m2 0h0m5 0h0m27 0h0m3 0h0m3 0h0m17 0h0m15 0h0m37 0h0m1 0h0m8 0h0m5 0h0m2 0h0m38 0h0m21 0h0m3 0h0m8 0h0m89 0h0m11 0h0m5 0h0m5 0h0m14 0h0m30 0h0m5 0h0m5 0h0m14 0h0m19 0h0m25 0h0m3 0h0m6 0h0m3 0h0m0 0h0m2 0h0m14 0h0m1 0h0m13 0h0m4 0h0m21 0h0m20 0h0m9 0h0m5 0h0m7 0h0m4 0h0m45 0h0m9 0h0m0 0h0m29 0h0m8 0h0m51 0h0m128 0h0m108 0h0m164 0h0m-1195 1h0m3 0h0m0 0h0m2 0h0m2 0h0m3 0h0m6 0h0m14 0h0m11 0h0m6 0h0m6 0h0m1 0h0m4 0h0m17 0h0m11 0h0m33 0h0m17 0h0m16 0h0m4 0h0m8 0h0m21 0h0m1 0h0m5 0h0m2 0h0m10 0h0m0 0h0m10 0h0m13 0h0m24 0h0m4 0h0m9 0h0m2 0h0m5 0h0m20 0h0m25 0h0m9 0h0m19 0h0m58 0h0m77 0h0m17 0h0m1 0h0m0 0h0m9 0h0m1 0h0m8 0h0m31 0h0m1 0h0m3 0h0m2 0h0m1 0h0m7 0h0m6 0h0m24 0h0m28 0h0m9 0h0m21 0h0m1 0h0m15 0h0m5 0h0m26 0h0m19 0h0m9 0h0m9 0h0m2 0h0m46 0h0m13 0h0m34 0h0m115 0h0m37 0h0m-977 1h0m9 0h0m5 0h0m7 0h0m15 0h0m3 0h0m8 0h0m4 0h0m6 0h0m0 0h0m38 0h0m4 0h0m64 0h0m2 0h0m28 0h0m5 0h0m26 0h0m5 0h0m5 0h0m17 0h0m3 0h0m1 0h0m6 0h0m8 0h0m4 0h0m3 0h0m6 0h0m5 0h0m15 0h0m54 0h0m8 0h0m16 0h0m13 0h0m24 0h0m5 0h0m52 0h0m10 0h0m22 0h0m9 0h0m19 0h0m11 0h0m22 0h0m14 0h0m29 0h0m52 0h0m9 0h0m55 0h0m11 0h0m38 0h0m26 0h0m0 0h0m139 0h0m26 0h0m57 0h0m-1026 1h0m8 0h0m2 0h0m3 0h0m7 0h0m3 0h0m7 0h0m6 0h0m14 0h0m5 0h0m3 0h0m2 0h0m19 0h0m35 0h0m4 0h0m15 0h0m3 0h0m25 0h0m7 0h0m4 0h0m4 0h0m12 0h0m0 0h0m8 0h0m19 0h0m14 0h0m1 0h0m7 0h0m30 0h0m7 0h0m2 0h0m2 0h0m4 0h0m9 0h0m45 0h0m68 0h0m28 0h0m33 0h0m6 0h0m4 0h0m8 0h0m12 0h0m13 0h0m35 0h0m3 0h0m1 0h0m2 0h0m10 0h0m4 0h0m14 0h0m8 0h0m25 0h0m12 0h0m3 0h0m3 0h0m2 0h0m15 0h0m25 0h0m45 0h0m1 0h0m3 0h0m26 0h0m1 0h0m19 0h0m59 0h0m222 0h0m35 0h0m-1073 1h0m2 0h0m0 0h0m8 0h0m13 0h0m1 0h0m19 0h0m3 0h0m7 0h0m1 0h0m1 0h0m15 0h0m3 0h0m0 0h0m10 0h0m9 0h0m17 0h0m4 0h0m6 0h0m5 0h0m24 0h0m22 0h0m1 0h0m5 0h0m7 0h0m3 0h0m34 0h0m24 0h0m0 0h0m28 0h0m5 0h0m31 0h0m4 0h0m3 0h0m61 0h0m3 0h0m18 0h0m1 0h0m21 0h0m14 0h0m2 0h0m19 0h0m4 0h0m13 0h0m2 0h0m8 0h0m6 0h0m16 0h0m2 0h0m33 0h0m16 0h0m5 0h0m1 0h0m17 0h0m5 0h0m22 0h0m11 0h0m10 0h0m2 0h0m24 0h0m9 0h0m0 0h0m23 0h0m4 0h0m6 0h0m3 0h0m14 0h0m0 0h0m4 0h0m4 0h0m5 0h0m4 0h0m4 0h0m9 0h0m49 0h0m127 0h0m86 0h0m-1009 1h0m15 0h0m2 0h0m1 0h0m4 0h0m2 0h0m2 0h0m1 0h0m3 0h0m2 0h0m2 0h0m2 0h0m2 0h0m2 0h0m1 0h0m1 0h0m4 0h0m5 0h0m1 0h0m4 0h0m6 0h0m29 0h0m3 0h0m6 0h0m26 0h0m4 0h0m27 0h0m0 0h0m3 0h0m3 0h0m3 0h0m3 0h0m3 0h0m0 0h0m13 0h0m7 0h0m2 0h0m4 0h0m4 0h0m31 0h0m2 0h0m25 0h0m8 0h0m1 0h0m58 0h0m17 0h0m43 0h0m11 0h0m2 0h0m2 0h0m32 0h0m1 0h0m8 0h0m1 0h0m32 0h0m10 0h0m15 0h0m6 0h0m11 0h0m23 0h0m16 0h0m2 0h0m7 0h0m1 0h0m11 0h0m4 0h0m9 0h0m24 0h0m24 0h0m32 0h0m17 0h0m7 0h0m22 0h0m3 0h0m3 0h0m5 0h0m5 0h0m5 0h0m6 0h0m3 0h0m35 0h0m32 0h0m134 0h0m91 0h0m-1021 1h0m6 0h0m1 0h0m12 0h0m2 0h0m18 0h0m0 0h0m2 0h0m20 0h0m16 0h0m13 0h0m9 0h0m11 0h0m2 0h0m0 0h0m37 0h0m1 0h0m6 0h0m4 0h0m11 0h0m2 0h0m12 0h0m26 0h0m2 0h0m3 0h0m2 0h0m5 0h0m1 0h0m4 0h0m2 0h0m14 0h0m4 0h0m0 0h0m16 0h0m64 0h0m0 0h0m36 0h0m5 0h0m4 0h0m5 0h0m6 0h0m28 0h0m2 0h0m1 0h0m1 0h0m38 0h0m16 0h0m25 0h0m7 0h0m14 0h0m17 0h0m5 0h0m7 0h0m8 0h0m2 0h0m1 0h0m5 0h0m1 0h0m41 0h0m1 0h0m12 0h0m2 0h0m11 0h0m18 0h0m26 0h0m54 0h0m67 0h0m143 0h0m91 0h0m-1050 1h0m7 0h0m5 0h0m0 0h0m7 0h0m1 0h0m9 0h0m0 0h0m0 0h0m2 0h0m5 0h0m2 0h0m6 0h0m0 0h0m3 0h0m13 0h0m22 0h0m2 0h0m4 0h0m11 0h0m1 0h0m2 0h0m7 0h0m8 0h0m3 0h0m15 0h0m39 0h0m11 0h0m0 0h0m10 0h0m6 0h0m4 0h0m0 0h0m3 0h0m2 0h0m2 0h0m27 0h0m11 0h0m16 0h0m8 0h0m16 0h0m5 0h0m51 0h0m38 0h0m8 0h0m31 0h0m47 0h0m3 0h0m39 0h0m7 0h0m4 0h0m17 0h0m11 0h0m3 0h0m19 0h0m17 0h0m24 0h0m5 0h0m1 0h0m9 0h0m6 0h0m1 0h0m4 0h0m5 0h0m12 0h0m3 0h0m0 0h0m2 0h0m14 0h0m17 0h0m10 0h0m12 0h0m16 0h0m18 0h0m4 0h0m0 0h0m0 0h0m170 0h0m3 0h0m15 0h0m38 0h0m-978 1h0m2 0h0m6 0h0m4 0h0m3 0h0m0 0h0m10 0h0m1 0h0m0 0h0m6 0h0m1 0h0m1 0h0m12 0h0m9 0h0m5 0h0m1 0h0m3 0h0m13 0h0m24 0h0m4 0h0m0 0h0m1 0h0m3 0h0m48 0h0m4 0h0m2 0h0m15 0h0m16 0h0m11 0h0m9 0h0m2 0h0m15 0h0m1 0h0m8 0h0m13 0h0m3 0h0m7 0h0m2 0h0m66 0h0m35 0h0m21 0h0m7 0h0m5 0h0m3 0h0m1 0h0m2 0h0m3 0h0m1 0h0m26 0h0m7 0h0m33 0h0m12 0h0m7 0h0m9 0h0m7 0h0m8 0h0m27 0h0m32 0h0m16 0h0m19 0h0m39 0h0m9 0h0m1 0h0m4 0h0m0 0h0m1 0h0m6 0h0m1 0h0m22 0h0m14 0h0m2 0h0m294 0h0m-1004 1h0m2 0h0m1 0h0m0 0h0m1 0h0m2 0h0m17 0h0m3 0h0m2 0h0m2 0h0m18 0h0m3 0h0m8 0h0m0 0h0m1 0h0m44 0h0m23 0h0m1 0h0m5 0h0m35 0h0m10 0h0m10 0h0m3 0h0m5 0h0m11 0h0m8 0h0m57 0h0m20 0h0m16 0h0m0 0h0m18 0h0m62 0h0m9 0h0m22 0h0m10 0h0m10 0h0m21 0h0m8 0h0m12 0h0m13 0h0m5 0h0m2 0h0m7 0h0m13 0h0m2 0h0m12 0h0m19 0h0m8 0h0m22 0h0m46 0h0m4 0h0m1 0h0m26 0h0m7 0h0m5 0h0m33 0h0m8 0h0m1 0h0m3 0h0m23 0h0m112 0h0m91 0h0m86 0h0m-1021 1h0m6 0h0m3 0h0m3 0h0m2 0h0m6 0h0m4 0h0m14 0h0m4 0h0m3 0h0m2 0h0m1 0h0m4 0h0m2 0h0m59 0h0m1 0h0m3 0h0m1 0h0m5 0h0m1 0h0m1 0h0m5 0h0m26 0h0m2 0h0m3 0h0m14 0h0m11 0h0m4 0h0m7 0h0m12 0h0m15 0h0m11 0h0m2 0h0m4 0h0m33 0h0m0 0h0m1 0h0m24 0h0m10 0h0m25 0h0m64 0h0m2 0h0m5 0h0m3 0h0m1 0h0m41 0h0m2 0h0m1 0h0m7 0h0m6 0h0m14 0h0m8 0h0m14 0h0m33 0h0m14 0h0m4 0h0m6 0h0m6 0h0m15 0h0m0 0h0m2 0h0m7 0h0m23 0h0m20 0h0m49 0h0m22 0h0m21 0h0m205 0h0m34 0h0m62 0h0m-1033 1h0m7 0h0m7 0h0m0 0h0m0 0h0m4 0h0m2 0h0m6 0h0m4 0h0m2 0h0m0 0h0m6 0h0m2 0h0m1 0h0m1 0h0m1 0h0m4 0h0m3 0h0m2 0h0m7 0h0m0 0h0m1 0h0m1 0h0m3 0h0m33 0h0m19 0h0m3 0h0m5 0h0m11 0h0m3 0h0m2 0h0m12 0h0m24 0h0m1 0h0m11 0h0m2 0h0m5 0h0m4 0h0m1 0h0m10 0h0m4 0h0m19 0h0m3 0h0m4 0h0m6 0h0m0 0h0m17 0h0m14 0h0m6 0h0m2 0h0m4 0h0m22 0h0m0 0h0m1 0h0m17 0h0m66 0h0m5 0h0m14 0h0m12 0h0m20 0h0m0 0h0m22 0h0m0 0h0m9 0h0m10 0h0m1 0h0m35 0h0m12 0h0m3 0h0m15 0h0m9 0h0m22 0h0m10 0h0m42 0h0m0 0h0m22 0h0m7 0h0m10 0h0m33 0h0m8 0h0m12 0h0m18 0h0m36 0h0m148 0h0m34 0h0m-963 1h0m0 0h0m6 0h0m4 0h0m6 0h0m1 0h0m1 0h0m2 0h0m1 0h0m2 0h0m1 0h0m2 0h0m4 0h0m4 0h0m2 0h0m0 0h0m1 0h0m0 0h0m4 0h0m0 0h0m6 0h0m6 0h0m25 0h0m17 0h0m9 0h0m18 0h0m17 0h0m14 0h0m15 0h0m6 0h0m13 0h0m8 0h0m6 0h0m28 0h0m1 0h0m24 0h0m2 0h0m15 0h0m8 0h0m2 0h0m2 0h0m2 0h0m1 0h0m1 0h0m94 0h0m0 0h0m4 0h0m5 0h0m15 0h0m69 0h0m28 0h0m7 0h0m55 0h0m15 0h0m31 0h0m11 0h0m12 0h0m2 0h0m1 0h0m17 0h0m70 0h0m7 0h0m1 0h0m9 0h0m2 0h0m5 0h0m3 0h0m41 0h0m5 0h0m123 0h0m-921 1h0m8 0h0m1 0h0m10 0h0m1 0h0m2 0h0m7 0h0m3 0h0m1 0h0m8 0h0m7 0h0m51 0h0m2 0h0m21 0h0m5 0h0m8 0h0m20 0h0m12 0h0m6 0h0m4 0h0m30 0h0m25 0h0m3 0h0m9 0h0m40 0h0m3 0h0m24 0h0m2 0h0m9 0h0m88 0h0m31 0h0m30 0h0m21 0h0m58 0h0m6 0h0m17 0h0m3 0h0m3 0h0m38 0h0m48 0h0m50 0h0m6 0h0m19 0h0m2 0h0m-733 1h0m1 0h0m5 0h0m0 0h0m2 0h0m2 0h0m0 0h0m3 0h0m1 0h0m3 0h0m0 0h0m2 0h0m5 0h0m2 0h0m10 0h0m1 0h0m3 0h0m1 0h0m31 0h0m34 0h0m5 0h0m11 0h0m8 0h0m23 0h0m41 0h0m9 0h0m2 0h0m23 0h0m2 0h0m18 0h0m4 0h0m15 0h0m4 0h0m1 0h0m69 0h0m33 0h0m13 0h0m37 0h0m8 0h0m61 0h0m9 0h0m2 0h0m5 0h0m5 0h0m17 0h0m19 0h0m2 0h0m33 0h0m5 0h0m1 0h0m29 0h0m2 0h0m3 0h0m5 0h0m21 0h0m8 0h0m2 0h0m41 0h0m1 0h0m9 0h0m247 0h0m9 0h0m-974 1h0m5 0h0m2 0h0m7 0h0m1 0h0m3 0h0m10 0h0m13 0h0m2 0h0m2 0h0m2 0h0m2 0h0m3 0h0m2 0h0m1 0h0m4 0h0m0 0h0m2 0h0m20 0h0m15 0h0m7 0h0m5 0h0m3 0h0m7 0h0m3 0h0m5 0h0m26 0h0m1 0h0m4 0h0m5 0h0m15 0h0m53 0h0m4 0h0m5 0h0m4 0h0m25 0h0m17 0h0m5 0h0m25 0h0m3 0h0m8 0h0m13 0h0m8 0h0m37 0h0m23 0h0m2 0h0m6 0h0m12 0h0m29 0h0m25 0h0m2 0h0m6 0h0m19 0h0m12 0h0m18 0h0m1 0h0m21 0h0m7 0h0m54 0h0m25 0h0m11 0h0m4 0h0m32 0h0m22 0h0m30 0h0m3 0h0m111 0h0m29 0h0m65 0h0m96 0h0m-1052 1h0m1 0h0m8 0h0m2 0h0m11 0h0m4 0h0m22 0h0m11 0h0m0 0h0m1 0h0m16 0h0m14 0h0m0 0h0m8 0h0m2 0h0m6 0h0m0 0h0m10 0h0m19 0h0m0 0h0m2 0h0m16 0h0m5 0h0m0 0h0m8 0h0m10 0h0m2 0h0m5 0h0m1 0h0m1 0h0m26 0h0m1 0h0m3 0h0m14 0h0m4 0h0m5 0h0m8 0h0m11 0h0m0 0h0m13 0h0m2 0h0m3 0h0m12 0h0m2 0h0m17 0h0m24 0h0m13 0h0m20 0h0m36 0h0m5 0h0m2 0h0m16 0h0m17 0h0m4 0h0m2 0h0m30 0h0m4 0h0m0 0h0m23 0h0m12 0h0m5 0h0m2 0h0m30 0h0m21 0h0m3 0h0m50 0h0m1 0h0m4 0h0m8 0h0m12 0h0m5 0h0m11 0h0m36 0h0m6 0h0m4 0h0m5 0h0m0 0h0m30 0h0m-746 1h0m2 0h0m1 0h0m10 0h0m5 0h0m6 0h0m4 0h0m0 0h0m3 0h0m6 0h0m3 0h0m2 0h0m0 0h0m1 0h0m1 0h0m2 0h0m1 0h0m12 0h0m19 0h0m8 0h0m0 0h0m6 0h0m11 0h0m21 0h0m9 0h0m31 0h0m1 0h0m20 0h0m13 0h0m14 0h0m39 0h0m27 0h0m7 0h0m2 0h0m19 0h0m1 0h0m32 0h0m68 0h0m13 0h0m1 0h0m25 0h0m54 0h0m13 0h0m7 0h0m24 0h0m0 0h0m26 0h0m1 0h0m5 0h0m9 0h0m7 0h0m19 0h0m6 0h0m8 0h0m4 0h0m2 0h0m13 0h0m3 0h0m3 0h0m1 0h0m1 0h0m16 0h0m6 0h0m2 0h0m12 0h0m7 0h0m9 0h0m32 0h0m10 0h0m68 0h0m-815 1h0m4 0h0m0 0h0m18 0h0m14 0h0m19 0h0m6 0h0m15 0h0m2 0h0m2 0h0m9 0h0m9 0h0m1 0h0m5 0h0m7 0h0m3 0h0m9 0h0m9 0h0m4 0h0m4 0h0m16 0h0m9 0h0m8 0h0m2 0h0m2 0h0m15 0h0m23 0h0m0 0h0m19 0h0m2 0h0m1 0h0m2 0h0m2 0h0m3 0h0m1 0h0m4 0h0m9 0h0m7 0h0m2 0h0m57 0h0m9 0h0m37 0h0m15 0h0m2 0h0m41 0h0m40 0h0m1 0h0m21 0h0m32 0h0m36 0h0m16 0h0m52 0h0m18 0h0m6 0h0m9 0h0m30 0h0m1 0h0m5 0h0m3 0h0m20 0h0m7 0h0m18 0h0m55 0h0m140 0h0m3 0h0m-935 1h0m7 0h0m2 0h0m0 0h0m2 0h0m1 0h0m9 0h0m4 0h0m13 0h0m0 0h0m1 0h0m11 0h0m2 0h0m31 0h0m3 0h0m16 0h0m11 0h0m4 0h0m12 0h0m2 0h0m15 0h0m17 0h0m8 0h0m18 0h0m21 0h0m24 0h0m13 0h0m22 0h0m64 0h0m28 0h0m21 0h0m15 0h0m1 0h0m5 0h0m2 0h0m2 0h0m8 0h0m1 0h0m2 0h0m8 0h0m3 0h0m4 0h0m36 0h0m5 0h0m3 0h0m9 0h0m12 0h0m4 0h0m6 0h0m7 0h0m18 0h0m5 0h0m8 0h0m1 0h0m3 0h0m0 0h0m15 0h0m29 0h0m57 0h0m7 0h0m0 0h0m6 0h0m1 0h0m29 0h0m0 0h0m2 0h0m31 0h0m19 0h0m20 0h0m196 0h0m10 0h0m-975 1h0m5 0h0m5 0h0m4 0h0m4 0h0m5 0h0m1 0h0m1 0h0m0 0h0m2 0h0m3 0h0m0 0h0m8 0h0m0 0h0m1 0h0m4 0h0m2 0h0m8 0h0m21 0h0m7 0h0m7 0h0m10 0h0m4 0h0m1 0h0m3 0h0m8 0h0m17 0h0m5 0h0m28 0h0m8 0h0m12 0h0m4 0h0m4 0h0m3 0h0m3 0h0m2 0h0m0 0h0m28 0h0m3 0h0m5 0h0m0 0h0m4 0h0m9 0h0m8 0h0m4 0h0m2 0h0m9 0h0m5 0h0m3 0h0m34 0h0m4 0h0m5 0h0m4 0h0m8 0h0m14 0h0m9 0h0m23 0h0m11 0h0m7 0h0m9 0h0m29 0h0m7 0h0m21 0h0m10 0h0m2 0h0m3 0h0m0 0h0m9 0h0m10 0h0m38 0h0m30 0h0m7 0h0m4 0h0m7 0h0m25 0h0m14 0h0m3 0h0m13 0h0m9 0h0m20 0h0m20 0h0m33 0h0m8 0h0m7 0h0m7 0h0m21 0h0m17 0h0m439 0h0m-1221 1h0m5 0h0m1 0h0m9 0h0m0 0h0m12 0h0m10 0h0m8 0h0m7 0h0m8 0h0m0 0h0m23 0h0m3 0h0m3 0h0m16 0h0m1 0h0m15 0h0m6 0h0m40 0h0m10 0h0m20 0h0m14 0h0m1 0h0m25 0h0m90 0h0m10 0h0m100 0h0m20 0h0m17 0h0m15 0h0m7 0h0m12 0h0m8 0h0m0 0h0m4 0h0m18 0h0m22 0h0m4 0h0m21 0h0m3 0h0m23 0h0m9 0h0m34 0h0m33 0h0m16 0h0m17 0h0m24 0h0m234 0h0m-980 1h0m2 0h0m1 0h0m7 0h0m1 0h0m1 0h0m7 0h0m5 0h0m5 0h0m0 0h0m17 0h0m0 0h0m1 0h0m3 0h0m1 0h0m5 0h0m3 0h0m34 0h0m10 0h0m8 0h0m5 0h0m3 0h0m45 0h0m39 0h0m2 0h0m6 0h0m2 0h0m22 0h0m6 0h0m2 0h0m1 0h0m15 0h0m11 0h0m8 0h0m14 0h0m21 0h0m13 0h0m34 0h0m24 0h0m5 0h0m37 0h0m4 0h0m2 0h0m3 0h0m10 0h0m25 0h0m2 0h0m20 0h0m30 0h0m38 0h0m1 0h0m1 0h0m1 0h0m8 0h0m20 0h0m0 0h0m7 0h0m37 0h0m6 0h0m16 0h0m3 0h0m9 0h0m20 0h0m11 0h0m15 0h0m5 0h0m8 0h0m13 0h0m38 0h0m26 0h0m16 0h0m116 0h0m24 0h0m-962 1h0m4 0h0m1 0h0m6 0h0m7 0h0m1 0h0m11 0h0m2 0h0m0 0h0m6 0h0m10 0h0m1 0h0m9 0h0m1 0h0m2 0h0m0 0h0m20 0h0m4 0h0m5 0h0m3 0h0m11 0h0m1 0h0m27 0h0m29 0h0m20 0h0m3 0h0m1 0h0m2 0h0m10 0h0m43 0h0m8 0h0m26 0h0m2 0h0m1 0h0m1 0h0m5 0h0m2 0h0m4 0h0m28 0h0m31 0h0m10 0h0m3 0h0m24 0h0m15 0h0m6 0h0m26 0h0m9 0h0m1 0h0m3 0h0m31 0h0m10 0h0m10 0h0m22 0h0m23 0h0m5 0h0m6 0h0m8 0h0m7 0h0m0 0h0m1 0h0m7 0h0m6 0h0m1 0h0m65 0h0m2 0h0m49 0h0m10 0h0m1 0h0m8 0h0m2 0h0m7 0h0m1 0h0m230 0h0m20 0h0m35 0h0m-1008 1h0m0 0h0m1 0h0m9 0h0m1 0h0m1 0h0m1 0h0m7 0h0m2 0h0m1 0h0m6 0h0m4 0h0m3 0h0m2 0h0m0 0h0m8 0h0m6 0h0m24 0h0m10 0h0m4 0h0m5 0h0m10 0h0m2 0h0m1 0h0m17 0h0m6 0h0m35 0h0m18 0h0m10 0h0m4 0h0m41 0h0m8 0h0m19 0h0m1 0h0m0 0h0m1 0h0m7 0h0m10 0h0m24 0h0m13 0h0m4 0h0m55 0h0m7 0h0m4 0h0m3 0h0m15 0h0m14 0h0m2 0h0m16 0h0m24 0h0m28 0h0m42 0h0m7 0h0m6 0h0m5 0h0m2 0h0m1 0h0m29 0h0m1 0h0m26 0h0m19 0h0m4 0h0m1 0h0m0 0h0m19 0h0m14 0h0m17 0h0m23 0h0m8 0h0m1 0h0m5 0h0m-723 1h0m9 0h0m8 0h0m2 0h0m3 0h0m7 0h0m3 0h0m1 0h0m2 0h0m1 0h0m14 0h0m38 0h0m1 0h0m5 0h0m41 0h0m0 0h0m18 0h0m13 0h0m9 0h0m15 0h0m1 0h0m3 0h0m2 0h0m7 0h0m44 0h0m18 0h0m4 0h0m2 0h0m3 0h0m11 0h0m33 0h0m3 0h0m15 0h0m2 0h0m3 0h0m40 0h0m2 0h0m2 0h0m23 0h0m2 0h0m6 0h0m50 0h0m21 0h0m3 0h0m2 0h0m4 0h0m10 0h0m5 0h0m37 0h0m38 0h0m9 0h0m27 0h0m1 0h0m41 0h0m38 0h0m108 0h0m215 0h0m16 0h0m-1035 1h0m16 0h0m13 0h0m20 0h0m51 0h0m11 0h0m1 0h0m6 0h0m34 0h0m11 0h0m29 0h0m3 0h0m5 0h0m22 0h0m20 0h0m5 0h0m1 0h0m4 0h0m12 0h0m4 0h0m6 0h0m4 0h0m36 0h0m2 0h0m15 0h0m25 0h0m52 0h0m1 0h0m44 0h0m2 0h0m18 0h0m11 0h0m3 0h0m3 0h0m39 0h0m4 0h0m12 0h0m7 0h0m3 0h0m6 0h0m15 0h0m4 0h0m7 0h0m20 0h0m8 0h0m9 0h0m27 0h0m6 0h0m29 0h0m5 0h0m6 0h0m2 0h0m2 0h0m21 0h0m0 0h0m18 0h0m54 0h0m74 0h0m48 0h0m39 0h0m-964 1h0m5 0h0m2 0h0m1 0h0m10 0h0m4 0h0m2 0h0m4 0h0m3 0h0m2 0h0m4 0h0m3 0h0m2 0h0m2 0h0m1 0h0m3 0h0m2 0h0m30 0h0m2 0h0m21 0h0m8 0h0m11 0h0m1 0h0m2 0h0m8 0h0m2 0h0m20 0h0m4 0h0m9 0h0m1 0h0m8 0h0m1 0h0m4 0h0m26 0h0m3 0h0m18 0h0m2 0h0m5 0h0m24 0h0m32 0h0m12 0h0m32 0h0m12 0h0m33 0h0m22 0h0m0 0h0m2 0h0m10 0h0m7 0h0m0 0h0m62 0h0m16 0h0m5 0h0m1 0h0m12 0h0m16 0h0m34 0h0m10 0h0m2 0h0m9 0h0m66 0h0m4 0h0m2 0h0m28 0h0m14 0h0m48 0h0m68 0h0m133 0h0m7 0h0m85 0h0m-1046 1h0m1 0h0m7 0h0m3 0h0m2 0h0m19 0h0m5 0h0m17 0h0m3 0h0m5 0h0m1 0h0m0 0h0m23 0h0m14 0h0m5 0h0m11 0h0m20 0h0m20 0h0m7 0h0m25 0h0m0 0h0m6 0h0m2 0h0m13 0h0m2 0h0m20 0h0m3 0h0m35 0h0m2 0h0m13 0h0m4 0h0m1 0h0m3 0h0m31 0h0m62 0h0m11 0h0m6 0h0m9 0h0m13 0h0m10 0h0m59 0h0m4 0h0m5 0h0m44 0h0m18 0h0m1 0h0m9 0h0m1 0h0m6 0h0m54 0h0m5 0h0m19 0h0m3 0h0m0 0h0m28 0h0m1 0h0m15 0h0m4 0h0m14 0h0m4 0h0m5 0h0m8 0h0m1 0h0m416 0h0m-1156 1h0m2 0h0m1 0h0m3 0h0m7 0h0m2 0h0m0 0h0m1 0h0m2 0h0m5 0h0m5 0h0m6 0h0m1 0h0m5 0h0m11 0h0m8 0h0m44 0h0m23 0h0m9 0h0m32 0h0m5 0h0m19 0h0m10 0h0m26 0h0m8 0h0m13 0h0m0 0h0m6 0h0m21 0h0m13 0h0m26 0h0m32 0h0m23 0h0m20 0h0m11 0h0m0 0h0m4 0h0m41 0h0m13 0h0m18 0h0m16 0h0m23 0h0m41 0h0m28 0h0m30 0h0m28 0h0m10 0h0m7 0h0m8 0h0m2 0h0m32 0h0m2 0h0m12 0h0m18 0h0m1 0h0m7 0h0m10 0h0m67 0h0m152 0h0m-972 1h0m3 0h0m2 0h0m4 0h0m7 0h0m4 0h0m5 0h0m5 0h0m4 0h0m4 0h0m8 0h0m2 0h0m11 0h0m0 0h0m3 0h0m2 0h0m31 0h0m4 0h0m13 0h0m19 0h0m0 0h0m0 0h0m3 0h0m1 0h0m23 0h0m20 0h0m29 0h0m2 0h0m2 0h0m3 0h0m1 0h0m28 0h0m18 0h0m0 0h0m4 0h0m14 0h0m61 0h0m60 0h0m5 0h0m26 0h0m15 0h0m16 0h0m8 0h0m12 0h0m2 0h0m10 0h0m20 0h0m9 0h0m22 0h0m16 0h0m3 0h0m17 0h0m0 0h0m10 0h0m21 0h0m35 0h0m4 0h0m17 0h0m29 0h0m19 0h0m2 0h0m5 0h0m21 0h0m7 0h0m216 0h0m16 0h0m-980 1h0m9 0h0m2 0h0m1 0h0m2 0h0m5 0h0m5 0h0m1 0h0m4 0h0m0 0h0m2 0h0m13 0h0m1 0h0m3 0h0m4 0h0m27 0h0m9 0h0m1 0h0m13 0h0m7 0h0m21 0h0m21 0h0m4 0h0m3 0h0m5 0h0m4 0h0m45 0h0m36 0h0m8 0h0m17 0h0m9 0h0m0 0h0m5 0h0m18 0h0m3 0h0m4 0h0m34 0h0m37 0h0m7 0h0m5 0h0m8 0h0m7 0h0m1 0h0m70 0h0m29 0h0m26 0h0m6 0h0m1 0h0m2 0h0m17 0h0m1 0h0m18 0h0m30 0h0m20 0h0m14 0h0m14 0h0m13 0h0m36 0h0m268 0h0m4 0h0m56 0h0m72 0h0m114 0h0m-1225 1h0m2 0h0m0 0h0m14 0h0m10 0h0m4 0h0m0 0h0m3 0h0m11 0h0m2 0h0m1 0h0m0 0h0m1 0h0m6 0h0m5 0h0m4 0h0m20 0h0m1 0h0m17 0h0m11 0h0m21 0h0m20 0h0m14 0h0m0 0h0m11 0h0m18 0h0m18 0h0m32 0h0m1 0h0m5 0h0m16 0h0m8 0h0m0 0h0m106 0h0m4 0h0m2 0h0m0 0h0m16 0h0m31 0h0m9 0h0m17 0h0m9 0h0m0 0h0m10 0h0m13 0h0m19 0h0m5 0h0m35 0h0m25 0h0m7 0h0m40 0h0m7 0h0m7 0h0m5 0h0m9 0h0m13 0h0m5 0h0m4 0h0m25 0h0m5 0h0m2 0h0m5 0h0m18 0h0m99 0h0m-829 1h0m9 0h0m2 0h0m2 0h0m11 0h0m4 0h0m10 0h0m0 0h0m9 0h0m2 0h0m2 0h0m1 0h0m3 0h0m0 0h0m6 0h0m2 0h0m20 0h0m7 0h0m20 0h0m3 0h0m12 0h0m4 0h0m10 0h0m16 0h0m5 0h0m14 0h0m20 0h0m3 0h0m9 0h0m3 0h0m8 0h0m1 0h0m22 0h0m5 0h0m3 0h0m16 0h0m8 0h0m5 0h0m0 0h0m17 0h0m15 0h0m24 0h0m31 0h0m32 0h0m10 0h0m19 0h0m7 0h0m2 0h0m4 0h0m42 0h0m9 0h0m20 0h0m28 0h0m2 0h0m0 0h0m8 0h0m4 0h0m45 0h0m3 0h0m24 0h0m6 0h0m28 0h0m37 0h0m12 0h0m17 0h0m10 0h0m6 0h0m3 0h0m3 0h0m-742 1h0m1 0h0m4 0h0m4 0h0m1 0h0m1 0h0m3 0h0m8 0h0m16 0h0m4 0h0m2 0h0m4 0h0m5 0h0m5 0h0m1 0h0m1 0h0m38 0h0m1 0h0m1 0h0m4 0h0m12 0h0m1 0h0m7 0h0m3 0h0m0 0h0m5 0h0m7 0h0m21 0h0m10 0h0m15 0h0m11 0h0m0 0h0m10 0h0m1 0h0m27 0h0m6 0h0m10 0h0m3 0h0m18 0h0m9 0h0m10 0h0m92 0h0m25 0h0m12 0h0m2 0h0m3 0h0m0 0h0m1 0h0m18 0h0m29 0h0m17 0h0m4 0h0m1 0h0m17 0h0m33 0h0m3 0h0m4 0h0m7 0h0m4 0h0m4 0h0m22 0h0m31 0h0m12 0h0m10 0h0m20 0h0m6 0h0m58 0h0m19 0h0m1 0h0m264 0h0m-1002 1h0m7 0h0m2 0h0m13 0h0m4 0h0m7 0h0m5 0h0m9 0h0m5 0h0m23 0h0m6 0h0m37 0h0m3 0h0m3 0h0m0 0h0m3 0h0m24 0h0m4 0h0m2 0h0m7 0h0m1 0h0m4 0h0m3 0h0m1 0h0m3 0h0m11 0h0m10 0h0m23 0h0m13 0h0m3 0h0m11 0h0m3 0h0m3 0h0m16 0h0m16 0h0m26 0h0m38 0h0m121 0h0m5 0h0m5 0h0m56 0h0m2 0h0m3 0h0m10 0h0m14 0h0m3 0h0m8 0h0m51 0h0m10 0h0m20 0h0m3 0h0m31 0h0m8 0h0m17 0h0m1 0h0m15 0h0m123 0h0m55 0h0m0 0h0m-919 1h0m1 0h0m6 0h0m9 0h0m5 0h0m3 0h0m13 0h0m3 0h0m10 0h0m7 0h0m6 0h0m0 0h0m0 0h0m19 0h0m4 0h0m1 0h0m1 0h0m20 0h0m4 0h0m3 0h0m11 0h0m3 0h0m12 0h0m27 0h0m6 0h0m8 0h0m15 0h0m2 0h0m33 0h0m4 0h0m26 0h0m2 0h0m0 0h0m3 0h0m70 0h0m136 0h0m7 0h0m58 0h0m32 0h0m2 0h0m14 0h0m7 0h0m2 0h0m19 0h0m18 0h0m40 0h0m16 0h0m27 0h0m17 0h0m72 0h0m-799 1h0m3 0h0m0 0h0m2 0h0m1 0h0m4 0h0m6 0h0m7 0h0m2 0h0m5 0h0m0 0h0m0 0h0m0 0h0m3 0h0m3 0h0m5 0h0m18 0h0m16 0h0m7 0h0m11 0h0m2 0h0m1 0h0m5 0h0m4 0h0m1 0h0m9 0h0m8 0h0m2 0h0m7 0h0m3 0h0m31 0h0m2 0h0m12 0h0m1 0h0m3 0h0m4 0h0m6 0h0m32 0h0m6 0h0m11 0h0m3 0h0m1 0h0m4 0h0m32 0h0m6 0h0m46 0h0m3 0h0m10 0h0m3 0h0m31 0h0m4 0h0m23 0h0m20 0h0m3 0h0m25 0h0m3 0h0m1 0h0m19 0h0m15 0h0m15 0h0m21 0h0m6 0h0m35 0h0m8 0h0m49 0h0m7 0h0m1 0h0m12 0h0m5 0h0m11 0h0m52 0h0m7 0h0m9 0h0m12 0h0m170 0h0m134 0h0m-1052 1h0m1 0h0m2 0h0m3 0h0m5 0h0m5 0h0m0 0h0m17 0h0m2 0h0m1 0h0m0 0h0m19 0h0m4 0h0m37 0h0m7 0h0m9 0h0m0 0h0m2 0h0m7 0h0m58 0h0m1 0h0m8 0h0m4 0h0m11 0h0m0 0h0m8 0h0m2 0h0m35 0h0m1 0h0m30 0h0m3 0h0m49 0h0m6 0h0m2 0h0m45 0h0m3 0h0m1 0h0m15 0h0m7 0h0m71 0h0m20 0h0m4 0h0m13 0h0m0 0h0m29 0h0m9 0h0m35 0h0m4 0h0m3 0h0m20 0h0m5 0h0m0 0h0m9 0h0m28 0h0m35 0h0m10 0h0m8 0h0m3 0h0m8 0h0m229 0h0m-954 1h0m5 0h0m16 0h0m9 0h0m0 0h0m1 0h0m3 0h0m3 0h0m7 0h0m2 0h0m3 0h0m8 0h0m1 0h0m17 0h0m17 0h0m8 0h0m23 0h0m2 0h0m13 0h0m15 0h0m5 0h0m14 0h0m3 0h0m10 0h0m0 0h0m27 0h0m25 0h0m15 0h0m3 0h0m12 0h0m12 0h0m12 0h0m2 0h0m52 0h0m65 0h0m3 0h0m19 0h0m27 0h0m2 0h0m12 0h0m18 0h0m2 0h0m3 0h0m7 0h0m9 0h0m31 0h0m4 0h0m7 0h0m0 0h0m0 0h0m13 0h0m4 0h0m2 0h0m12 0h0m11 0h0m1 0h0m34 0h0m19 0h0m41 0h0m27 0h0m5 0h0m23 0h0m-737 1h0m10 0h0m2 0h0m1 0h0m3 0h0m9 0h0m3 0h0m4 0h0m11 0h0m5 0h0m4 0h0m3 0h0m33 0h0m2 0h0m13 0h0m6 0h0m12 0h0m3 0h0m1 0h0m2 0h0m24 0h0m3 0h0m41 0h0m1 0h0m4 0h0m33 0h0m27 0h0m5 0h0m35 0h0m12 0h0m61 0h0m0 0h0m1 0h0m17 0h0m6 0h0m4 0h0m3 0h0m20 0h0m0 0h0m37 0h0m13 0h0m1 0h0m1 0h0m4 0h0m0 0h0m6 0h0m12 0h0m0 0h0m10 0h0m21 0h0m5 0h0m3 0h0m3 0h0m6 0h0m5 0h0m12 0h0m4 0h0m19 0h0m20 0h0m12 0h0m18 0h0m14 0h0m31 0h0m11 0h0m11 0h0m34 0h0m48 0h0m-792 1h0m2 0h0m4 0h0m1 0h0m6 0h0m19 0h0m4 0h0m2 0h0m5 0h0m3 0h0m37 0h0m8 0h0m6 0h0m9 0h0m19 0h0m9 0h0m19 0h0m1 0h0m13 0h0m25 0h0m12 0h0m2 0h0m1 0h0m6 0h0m17 0h0m4 0h0m9 0h0m11 0h0m0 0h0m8 0h0m4 0h0m13 0h0m34 0h0m28 0h0m12 0h0m38 0h0m29 0h0m2 0h0m11 0h0m4 0h0m6 0h0m36 0h0m11 0h0m1 0h0m26 0h0m23 0h0m10 0h0m0 0h0m3 0h0m3 0h0m15 0h0m19 0h0m32 0h0m103 0h0m1 0h0m10 0h0m77 0h0m167 0h0m134 0h0m-1116 1h0m3 0h0m3 0h0m3 0h0m0 0h0m0 0h0m4 0h0m0 0h0m2 0h0m1 0h0m0 0h0m0 0h0m2 0h0m7 0h0m4 0h0m2 0h0m0 0h0m3 0h0m4 0h0m0 0h0m6 0h0m17 0h0m18 0h0m1 0h0m3 0h0m1 0h0m14 0h0m9 0h0m14 0h0m5 0h0m1 0h0m43 0h0m14 0h0m2 0h0m2 0h0m3 0h0m7 0h0m11 0h0m3 0h0m41 0h0m27 0h0m11 0h0m37 0h0m26 0h0m30 0h0m7 0h0m55 0h0m13 0h0m9 0h0m79 0h0m1 0h0m14 0h0m5 0h0m24 0h0m25 0h0m3 0h0m24 0h0m18 0h0m50 0h0m61 0h0m99 0h0m0 0h0m46 0h0m-910 1h0m2 0h0m7 0h0m7 0h0m16 0h0m6 0h0m0 0h0m9 0h0m4 0h0m1 0h0m0 0h0m3 0h0m0 0h0m1 0h0m51 0h0m4 0h0m5 0h0m13 0h0m17 0h0m2 0h0m12 0h0m7 0h0m7 0h0m14 0h0m1 0h0m15 0h0m19 0h0m11 0h0m16 0h0m7 0h0m7 0h0m2 0h0m5 0h0m1 0h0m29 0h0m19 0h0m64 0h0m3 0h0m7 0h0m22 0h0m16 0h0m19 0h0m1 0h0m2 0h0m9 0h0m8 0h0m12 0h0m14 0h0m14 0h0m36 0h0m23 0h0m13 0h0m43 0h0m3 0h0m14 0h0m3 0h0m10 0h0m36 0h0m4 0h0m40 0h0m2 0h0m182 0h0m36 0h0m7 0h0m138 0h0m-1110 1h0m6 0h0m6 0h0m2 0h0m1 0h0m2 0h0m8 0h0m15 0h0m7 0h0m2 0h0m7 0h0m0 0h0m2 0h0m8 0h0m24 0h0m25 0h0m5 0h0m0 0h0m12 0h0m9 0h0m33 0h0m0 0h0m1 0h0m8 0h0m4 0h0m22 0h0m28 0h0m8 0h0m9 0h0m6 0h0m5 0h0m7 0h0m9 0h0m5 0h0m22 0h0m18 0h0m59 0h0m0 0h0m1 0h0m2 0h0m14 0h0m2 0h0m14 0h0m18 0h0m30 0h0m3 0h0m55 0h0m13 0h0m0 0h0m8 0h0m30 0h0m25 0h0m20 0h0m1 0h0m1 0h0m21 0h0m52 0h0m3 0h0m15 0h0m5 0h0m7 0h0m17 0h0m79 0h0m-806 1h0m1 0h0m2 0h0m2 0h0m2 0h0m1 0h0m0 0h0m8 0h0m2 0h0m8 0h0m3 0h0m2 0h0m3 0h0m1 0h0m4 0h0m8 0h0m21 0h0m3 0h0m3 0h0m17 0h0m8 0h0m4 0h0m3 0h0m9 0h0m32 0h0m9 0h0m21 0h0m2 0h0m8 0h0m2 0h0m3 0h0m5 0h0m2 0h0m27 0h0m14 0h0m10 0h0m0 0h0m17 0h0m104 0h0m2 0h0m31 0h0m21 0h0m2 0h0m21 0h0m31 0h0m12 0h0m4 0h0m15 0h0m24 0h0m6 0h0m6 0h0m8 0h0m17 0h0m2 0h0m8 0h0m5 0h0m24 0h0m8 0h0m8 0h0m1 0h0m6 0h0m4 0h0m38 0h0m128 0h0m106 0h0m31 0h0m-941 1h0m5 0h0m1 0h0m1 0h0m2 0h0m7 0h0m3 0h0m13 0h0m8 0h0m2 0h0m0 0h0m9 0h0m1 0h0m17 0h0m16 0h0m13 0h0m25 0h0m23 0h0m14 0h0m1 0h0m1 0h0m11 0h0m22 0h0m25 0h0m3 0h0m2 0h0m37 0h0m11 0h0m26 0h0m15 0h0m37 0h0m6 0h0m18 0h0m7 0h0m1 0h0m15 0h0m6 0h0m5 0h0m6 0h0m2 0h0m0 0h0m8 0h0m36 0h0m7 0h0m22 0h0m19 0h0m15 0h0m9 0h0m2 0h0m4 0h0m2 0h0m1 0h0m6 0h0m15 0h0m14 0h0m5 0h0m21 0h0m11 0h0m2 0h0m1 0h0m9 0h0m26 0h0m37 0h0m7 0h0m5 0h0m10 0h0m9 0h0m0 0h0m0 0h0m4 0h0m13 0h0m40 0h0m207 0h0m-997 1h0m8 0h0m2 0h0m1 0h0m2 0h0m1 0h0m3 0h0m13 0h0m13 0h0m2 0h0m5 0h0m2 0h0m4 0h0m35 0h0m1 0h0m4 0h0m8 0h0m4 0h0m4 0h0m47 0h0m2 0h0m1 0h0m6 0h0m16 0h0m6 0h0m1 0h0m1 0h0m8 0h0m5 0h0m11 0h0m19 0h0m32 0h0m7 0h0m6 0h0m2 0h0m7 0h0m30 0h0m1 0h0m8 0h0m7 0h0m20 0h0m6 0h0m7 0h0m18 0h0m6 0h0m11 0h0m14 0h0m17 0h0m45 0h0m1 0h0m40 0h0m29 0h0m15 0h0m18 0h0m34 0h0m2 0h0m6 0h0m29 0h0m15 0h0m25 0h0m4 0h0m5 0h0m8 0h0m11 0h0m18 0h0m3 0h0m207 0h0m-948 1h0m11 0h0m2 0h0m6 0h0m11 0h0m9 0h0m20 0h0m0 0h0m4 0h0m23 0h0m15 0h0m3 0h0m5 0h0m8 0h0m4 0h0m3 0h0m1 0h0m2 0h0m1 0h0m1 0h0m3 0h0m1 0h0m0 0h0m19 0h0m4 0h0m3 0h0m20 0h0m1 0h0m4 0h0m22 0h0m4 0h0m3 0h0m21 0h0m10 0h0m18 0h0m1 0h0m2 0h0m16 0h0m0 0h0m5 0h0m37 0h0m64 0h0m11 0h0m5 0h0m21 0h0m20 0h0m14 0h0m0 0h0m9 0h0m20 0h0m10 0h0m0 0h0m3 0h0m14 0h0m9 0h0m20 0h0m27 0h0m3 0h0m3 0h0m9 0h0m43 0h0m17 0h0m5 0h0m3 0h0m8 0h0m2 0h0m3 0h0m6 0h0m3 0h0m0 0h0m15 0h0m8 0h0m6 0h0m5 0h0m211 0h0m-919 1h0m2 0h0m1 0h0m3 0h0m5 0h0m6 0h0m4 0h0m5 0h0m13 0h0m1 0h0m5 0h0m8 0h0m6 0h0m0 0h0m26 0h0m3 0h0m3 0h0m3 0h0m1 0h0m14 0h0m8 0h0m8 0h0m1 0h0m50 0h0m5 0h0m8 0h0m2 0h0m38 0h0m0 0h0m19 0h0m22 0h0m0 0h0m14 0h0m34 0h0m2 0h0m2 0h0m45 0h0m22 0h0m9 0h0m7 0h0m3 0h0m18 0h0m10 0h0m21 0h0m8 0h0m10 0h0m3 0h0m0 0h0m12 0h0m8 0h0m82 0h0m7 0h0m6 0h0m42 0h0m3 0h0m2 0h0m8 0h0m25 0h0m30 0h0m22 0h0m6 0h0m1 0h0m8 0h0m2 0h0m1 0h0m81 0h0m188 0h0m-1014 1h0m9 0h0m10 0h0m9 0h0m3 0h0m4 0h0m13 0h0m1 0h0m5 0h0m5 0h0m6 0h0m15 0h0m0 0h0m1 0h0m16 0h0m1 0h0m9 0h0m9 0h0m6 0h0m2 0h0m5 0h0m10 0h0m19 0h0m3 0h0m11 0h0m3 0h0m20 0h0m4 0h0m3 0h0m4 0h0m2 0h0m32 0h0m2 0h0m9 0h0m5 0h0m30 0h0m2 0h0m52 0h0m52 0h0m0 0h0m20 0h0m10 0h0m11 0h0m7 0h0m1 0h0m1 0h0m2 0h0m39 0h0m41 0h0m14 0h0m19 0h0m9 0h0m1 0h0m19 0h0m4 0h0m22 0h0m16 0h0m1 0h0m1 0h0m1 0h0m13 0h0m5 0h0m24 0h0m2 0h0m46 0h0m361 0h0m-1082 1h0m6 0h0m2 0h0m0 0h0m4 0h0m4 0h0m2 0h0m0 0h0m0 0h0m3 0h0m14 0h0m5 0h0m2 0h0m11 0h0m4 0h0m3 0h0m24 0h0m8 0h0m5 0h0m1 0h0m8 0h0m29 0h0m20 0h0m5 0h0m8 0h0m2 0h0m18 0h0m6 0h0m39 0h0m1 0h0m7 0h0m29 0h0m2 0h0m3 0h0m2 0h0m2 0h0m10 0h0m66 0h0m10 0h0m5 0h0m12 0h0m0 0h0m7 0h0m3 0h0m1 0h0m0 0h0m19 0h0m7 0h0m2 0h0m13 0h0m6 0h0m7 0h0m26 0h0m23 0h0m9 0h0m3 0h0m0 0h0m2 0h0m9 0h0m31 0h0m32 0h0m1 0h0m4 0h0m52 0h0m5 0h0m9 0h0m19 0h0m17 0h0m1 0h0m7 0h0m7 0h0m13 0h0m0 0h0m2 0h0m8 0h0m47 0h0m207 0h0m-971 1h0m4 0h0m1 0h0m5 0h0m9 0h0m0 0h0m3 0h0m2 0h0m0 0h0m2 0h0m5 0h0m11 0h0m4 0h0m22 0h0m18 0h0m22 0h0m11 0h0m5 0h0m5 0h0m16 0h0m11 0h0m4 0h0m5 0h0m16 0h0m11 0h0m6 0h0m9 0h0m19 0h0m2 0h0m30 0h0m10 0h0m0 0h0m34 0h0m2 0h0m27 0h0m12 0h0m8 0h0m41 0h0m11 0h0m7 0h0m2 0h0m2 0h0m8 0h0m2 0h0m5 0h0m2 0h0m0 0h0m19 0h0m22 0h0m13 0h0m8 0h0m3 0h0m6 0h0m5 0h0m6 0h0m18 0h0m4 0h0m0 0h0m3 0h0m5 0h0m10 0h0m35 0h0m26 0h0m9 0h0m2 0h0m2 0h0m1 0h0m8 0h0m3 0h0m3 0h0m5 0h0m32 0h0m22 0h0m6 0h0m2 0h0m6 0h0m8 0h0m1 0h0m3 0h0m8 0h0m0 0h0m8 0h0m179 0h0m19 0h0m81 0h0m-1032 1h0m0 0h0m7 0h0m2 0h0m1 0h0m2 0h0m0 0h0m6 0h0m8 0h0m4 0h0m4 0h0m7 0h0m7 0h0m11 0h0m3 0h0m1 0h0m17 0h0m2 0h0m0 0h0m15 0h0m13 0h0m3 0h0m51 0h0m24 0h0m9 0h0m1 0h0m1 0h0m3 0h0m3 0h0m3 0h0m1 0h0m22 0h0m13 0h0m13 0h0m50 0h0m6 0h0m30 0h0m17 0h0m23 0h0m0 0h0m2 0h0m42 0h0m5 0h0m11 0h0m16 0h0m10 0h0m7 0h0m2 0h0m13 0h0m5 0h0m6 0h0m40 0h0m9 0h0m19 0h0m4 0h0m19 0h0m7 0h0m13 0h0m9 0h0m17 0h0m2 0h0m13 0h0m10 0h0m5 0h0m27 0h0m9 0h0m12 0h0m10 0h0m2 0h0m13 0h0m-741 1h0m2 0h0m5 0h0m1 0h0m12 0h0m2 0h0m0 0h0m21 0h0m5 0h0m6 0h0m66 0h0m9 0h0m31 0h0m10 0h0m19 0h0m5 0h0m1 0h0m9 0h0m4 0h0m2 0h0m1 0h0m24 0h0m2 0h0m29 0h0m4 0h0m2 0h0m7 0h0m13 0h0m52 0h0m23 0h0m2 0h0m25 0h0m12 0h0m19 0h0m2 0h0m5 0h0m4 0h0m28 0h0m2 0h0m2 0h0m5 0h0m5 0h0m1 0h0m4 0h0m89 0h0m11 0h0m16 0h0m60 0h0m13 0h0m33 0h0m14 0h0m1 0h0m8 0h0m1 0h0m12 0h0m-737 1h0m2 0h0m3 0h0m2 0h0m4 0h0m4 0h0m2 0h0m6 0h0m1 0h0m7 0h0m1 0h0m3 0h0m15 0h0m6 0h0m25 0h0m26 0h0m9 0h0m2 0h0m10 0h0m8 0h0m20 0h0m4 0h0m13 0h0m15 0h0m7 0h0m35 0h0m2 0h0m11 0h0m9 0h0m0 0h0m0 0h0m5 0h0m3 0h0m6 0h0m11 0h0m4 0h0m6 0h0m18 0h0m9 0h0m30 0h0m4 0h0m13 0h0m2 0h0m3 0h0m42 0h0m1 0h0m5 0h0m4 0h0m4 0h0m13 0h0m3 0h0m23 0h0m12 0h0m23 0h0m5 0h0m48 0h0m7 0h0m22 0h0m2 0h0m8 0h0m3 0h0m1 0h0m0 0h0m40 0h0m2 0h0m20 0h0m15 0h0m22 0h0m42 0h0m6 0h0m4 0h0m2 0h0m96 0h0m83 0h0m197 0h0m0 0h0m2 0h0m-1125 1h0m4 0h0m5 0h0m6 0h0m8 0h0m10 0h0m3 0h0m2 0h0m0 0h0m0 0h0m5 0h0m5 0h0m1 0h0m3 0h0m2 0h0m3 0h0m40 0h0m6 0h0m4 0h0m5 0h0m7 0h0m38 0h0m27 0h0m21 0h0m2 0h0m23 0h0m0 0h0m4 0h0m9 0h0m1 0h0m0 0h0m4 0h0m3 0h0m0 0h0m4 0h0m3 0h0m4 0h0m18 0h0m2 0h0m4 0h0m37 0h0m57 0h0m4 0h0m12 0h0m13 0h0m13 0h0m6 0h0m0 0h0m7 0h0m1 0h0m24 0h0m18 0h0m6 0h0m9 0h0m44 0h0m6 0h0m2 0h0m19 0h0m14 0h0m1 0h0m2 0h0m11 0h0m25 0h0m13 0h0m0 0h0m0 0h0m29 0h0m1 0h0m11 0h0m36 0h0m9 0h0m1 0h0m1 0h0m17 0h0m15 0h0m187 0h0m-929 1h0m6 0h0m4 0h0m17 0h0m0 0h0m8 0h0m40 0h0m4 0h0m26 0h0m10 0h0m4 0h0m28 0h0m21 0h0m10 0h0m22 0h0m25 0h0m1 0h0m2 0h0m0 0h0m10 0h0m1 0h0m11 0h0m14 0h0m55 0h0m26 0h0m47 0h0m11 0h0m6 0h0m13 0h0m36 0h0m7 0h0m6 0h0m56 0h0m4 0h0m12 0h0m1 0h0m4 0h0m8 0h0m22 0h0m1 0h0m27 0h0m14 0h0m4 0h0m3 0h0m2 0h0m1 0h0m11 0h0m52 0h0m2 0h0m19 0h0m15 0h0m2 0h0m1 0h0m-741 1h0m3 0h0m4 0h0m4 0h0m9 0h0m1 0h0m3 0h0m2 0h0m9 0h0m1 0h0m1 0h0m16 0h0m7 0h0m1 0h0m17 0h0m2 0h0m1 0h0m6 0h0m4 0h0m9 0h0m14 0h0m38 0h0m5 0h0m9 0h0m5 0h0m3 0h0m10 0h0m2 0h0m13 0h0m2 0h0m2 0h0m45 0h0m7 0h0m19 0h0m10 0h0m36 0h0m30 0h0m6 0h0m24 0h0m5 0h0m0 0h0m18 0h0m4 0h0m4 0h0m4 0h0m3 0h0m1 0h0m4 0h0m5 0h0m9 0h0m46 0h0m28 0h0m5 0h0m21 0h0m9 0h0m27 0h0m6 0h0m4 0h0m2 0h0m0 0h0m13 0h0m23 0h0m7 0h0m2 0h0m10 0h0m6 0h0m43 0h0m1 0h0m50 0h0m2 0h0m1 0h0m180 0h0m23 0h0m-938 1h0m1 0h0m1 0h0m2 0h0m4 0h0m0 0h0m0 0h0m1 0h0m3 0h0m17 0h0m4 0h0m5 0h0m1 0h0m3 0h0m0 0h0m4 0h0m8 0h0m0 0h0m23 0h0m2 0h0m10 0h0m0 0h0m14 0h0m13 0h0m31 0h0m8 0h0m2 0h0m8 0h0m18 0h0m1 0h0m35 0h0m22 0h0m9 0h0m17 0h0m11 0h0m0 0h0m5 0h0m14 0h0m10 0h0m101 0h0m1 0h0m0 0h0m45 0h0m37 0h0m3 0h0m35 0h0m4 0h0m20 0h0m7 0h0m5 0h0m24 0h0m18 0h0m27 0h0m16 0h0m17 0h0m18 0h0m2 0h0m12 0h0m0 0h0m14 0h0m16 0h0m14 0h0m28 0h0m181 0h0m-962 1h0m1 0h0m4 0h0m8 0h0m6 0h0m1 0h0m2 0h0m1 0h0m5 0h0m3 0h0m1 0h0m2 0h0m2 0h0m3 0h0m0 0h0m4 0h0m0 0h0m4 0h0m11 0h0m3 0h0m1 0h0m27 0h0m4 0h0m11 0h0m8 0h0m13 0h0m1 0h0m7 0h0m25 0h0m35 0h0m16 0h0m20 0h0m9 0h0m1 0h0m5 0h0m0 0h0m8 0h0m5 0h0m7 0h0m7 0h0m2 0h0m5 0h0m14 0h0m13 0h0m22 0h0m67 0h0m4 0h0m3 0h0m11 0h0m9 0h0m3 0h0m0 0h0m1 0h0m14 0h0m59 0h0m3 0h0m5 0h0m13 0h0m1 0h0m30 0h0m2 0h0m1 0h0m8 0h0m4 0h0m6 0h0m2 0h0m0 0h0m11 0h0m5 0h0m36 0h0m0 0h0m5 0h0m19 0h0m16 0h0m58 0h0m4 0h0m6 0h0m7 0h0m184 0h0m-920 1h0m1 0h0m1 0h0m6 0h0m2 0h0m6 0h0m15 0h0m2 0h0m0 0h0m1 0h0m8 0h0m0 0h0m9 0h0m1 0h0m5 0h0m27 0h0m7 0h0m6 0h0m14 0h0m1 0h0m0 0h0m12 0h0m6 0h0m5 0h0m14 0h0m6 0h0m30 0h0m8 0h0m12 0h0m7 0h0m13 0h0m0 0h0m5 0h0m0 0h0m12 0h0m10 0h0m8 0h0m0 0h0m5 0h0m5 0h0m1 0h0m6 0h0m78 0h0m30 0h0m42 0h0m6 0h0m7 0h0m2 0h0m15 0h0m29 0h0m24 0h0m35 0h0m0 0h0m19 0h0m20 0h0m5 0h0m34 0h0m2 0h0m5 0h0m7 0h0m1 0h0m27 0h0m69 0h0m12 0h0m3 0h0m187 0h0m65 0h0m-999 1h0m3 0h0m5 0h0m2 0h0m19 0h0m2 0h0m3 0h0m3 0h0m0 0h0m2 0h0m3 0h0m2 0h0m4 0h0m4 0h0m21 0h0m15 0h0m2 0h0m4 0h0m3 0h0m8 0h0m14 0h0m6 0h0m23 0h0m9 0h0m11 0h0m4 0h0m3 0h0m3 0h0m2 0h0m0 0h0m2 0h0m1 0h0m7 0h0m5 0h0m11 0h0m2 0h0m22 0h0m22 0h0m14 0h0m1 0h0m10 0h0m27 0h0m10 0h0m12 0h0m50 0h0m9 0h0m4 0h0m4 0h0m28 0h0m3 0h0m8 0h0m27 0h0m21 0h0m0 0h0m10 0h0m16 0h0m3 0h0m1 0h0m23 0h0m1 0h0m1 0h0m3 0h0m8 0h0m4 0h0m15 0h0m21 0h0m30 0h0m7 0h0m4 0h0m3 0h0m15 0h0m1 0h0m8 0h0m35 0h0m13 0h0m4 0h0m16 0h0m119 0h0m-847 1h0m0 0h0m3 0h0m1 0h0m5 0h0m7 0h0m6 0h0m0 0h0m1 0h0m5 0h0m5 0h0m7 0h0m4 0h0m6 0h0m1 0h0m4 0h0m5 0h0m2 0h0m1 0h0m16 0h0m15 0h0m2 0h0m24 0h0m36 0h0m17 0h0m59 0h0m17 0h0m23 0h0m16 0h0m39 0h0m8 0h0m53 0h0m4 0h0m7 0h0m5 0h0m11 0h0m2 0h0m2 0h0m6 0h0m1 0h0m7 0h0m10 0h0m29 0h0m11 0h0m10 0h0m16 0h0m35 0h0m14 0h0m10 0h0m22 0h0m5 0h0m5 0h0m12 0h0m25 0h0m11 0h0m11 0h0m1 0h0m13 0h0m26 0h0m6 0h0m42 0h0m2 0h0m5 0h0m-751 1h0m0 0h0m6 0h0m4 0h0m7 0h0m11 0h0m20 0h0m0 0h0m1 0h0m5 0h0m3 0h0m4 0h0m12 0h0m23 0h0m7 0h0m35 0h0m17 0h0m12 0h0m3 0h0m2 0h0m10 0h0m21 0h0m27 0h0m1 0h0m0 0h0m9 0h0m14 0h0m10 0h0m18 0h0m5 0h0m3 0h0m33 0h0m0 0h0m12 0h0m19 0h0m0 0h0m35 0h0m23 0h0m7 0h0m6 0h0m9 0h0m5 0h0m4 0h0m41 0h0m36 0h0m18 0h0m1 0h0m8 0h0m4 0h0m3 0h0m13 0h0m1 0h0m2 0h0m23 0h0m21 0h0m17 0h0m5 0h0m1 0h0m1 0h0m11 0h0m14 0h0m26 0h0m5 0h0m27 0h0m23 0h0m-745 1h0m1 0h0m4 0h0m5 0h0m1 0h0m0 0h0m17 0h0m2 0h0m5 0h0m4 0h0m3 0h0m8 0h0m2 0h0m22 0h0m8 0h0m1 0h0m26 0h0m4 0h0m9 0h0m14 0h0m15 0h0m34 0h0m4 0h0m6 0h0m4 0h0m0 0h0m1 0h0m11 0h0m3 0h0m24 0h0m7 0h0m15 0h0m14 0h0m1 0h0m1 0h0m9 0h0m107 0h0m15 0h0m16 0h0m17 0h0m5 0h0m32 0h0m6 0h0m1 0h0m26 0h0m8 0h0m1 0h0m16 0h0m12 0h0m5 0h0m10 0h0m20 0h0m13 0h0m2 0h0m1 0h0m13 0h0m57 0h0m5 0h0m34 0h0m18 0h0m20 0h0m115 0h0m73 0h0m111 0h0m-1041 1h0m10 0h0m0 0h0m2 0h0m6 0h0m8 0h0m16 0h0m7 0h0m8 0h0m15 0h0m8 0h0m3 0h0m0 0h0m32 0h0m11 0h0m30 0h0m3 0h0m12 0h0m0 0h0m25 0h0m11 0h0m19 0h0m2 0h0m28 0h0m9 0h0m5 0h0m3 0h0m14 0h0m17 0h0m9 0h0m21 0h0m3 0h0m41 0h0m14 0h0m8 0h0m7 0h0m1 0h0m8 0h0m14 0h0m5 0h0m19 0h0m13 0h0m29 0h0m41 0h0m12 0h0m1 0h0m11 0h0m6 0h0m6 0h0m38 0h0m5 0h0m38 0h0m8 0h0m45 0h0m16 0h0m5 0h0m20 0h0m168 0h0m-918 1h0m0 0h0m2 0h0m10 0h0m1 0h0m5 0h0m5 0h0m7 0h0m0 0h0m18 0h0m28 0h0m12 0h0m6 0h0m15 0h0m4 0h0m0 0h0m10 0h0m7 0h0m20 0h0m7 0h0m1 0h0m10 0h0m3 0h0m6 0h0m2 0h0m5 0h0m19 0h0m6 0h0m24 0h0m6 0h0m1 0h0m4 0h0m1 0h0m2 0h0m24 0h0m52 0h0m15 0h0m62 0h0m16 0h0m3 0h0m8 0h0m8 0h0m26 0h0m20 0h0m19 0h0m37 0h0m13 0h0m4 0h0m6 0h0m8 0h0m12 0h0m12 0h0m47 0h0m27 0h0m20 0h0m12 0h0m6 0h0m8 0h0m8 0h0m15 0h0m5 0h0m99 0h0m-840 1h0m7 0h0m4 0h0m3 0h0m6 0h0m2 0h0m3 0h0m4 0h0m2 0h0m2 0h0m4 0h0m3 0h0m3 0h0m0 0h0m9 0h0m38 0h0m2 0h0m1 0h0m2 0h0m3 0h0m0 0h0m5 0h0m20 0h0m13 0h0m34 0h0m5 0h0m15 0h0m15 0h0m22 0h0m5 0h0m2 0h0m3 0h0m9 0h0m13 0h0m2 0h0m4 0h0m7 0h0m4 0h0m4 0h0m44 0h0m10 0h0m47 0h0m13 0h0m9 0h0m4 0h0m1 0h0m13 0h0m0 0h0m19 0h0m5 0h0m13 0h0m9 0h0m38 0h0m6 0h0m10 0h0m18 0h0m14 0h0m2 0h0m5 0h0m1 0h0m11 0h0m4 0h0m0 0h0m3 0h0m50 0h0m27 0h0m16 0h0m14 0h0m31 0h0m1 0h0m29 0h0m3 0h0m1 0h0m-748 1h0m18 0h0m4 0h0m0 0h0m3 0h0m3 0h0m0 0h0m4 0h0m3 0h0m3 0h0m3 0h0m3 0h0m10 0h0m2 0h0m15 0h0m10 0h0m2 0h0m2 0h0m24 0h0m18 0h0m9 0h0m23 0h0m14 0h0m5 0h0m0 0h0m8 0h0m1 0h0m5 0h0m47 0h0m4 0h0m13 0h0m3 0h0m10 0h0m19 0h0m97 0h0m0 0h0m1 0h0m1 0h0m11 0h0m60 0h0m3 0h0m12 0h0m6 0h0m34 0h0m5 0h0m29 0h0m33 0h0m5 0h0m1 0h0m1 0h0m0 0h0m26 0h0m12 0h0m24 0h0m48 0h0m25 0h0m17 0h0m4 0h0m286 0h0m77 0h0m7 0h0m-1114 1h0m7 0h0m5 0h0m4 0h0m2 0h0m10 0h0m1 0h0m16 0h0m2 0h0m5 0h0m8 0h0m1 0h0m12 0h0m14 0h0m0 0h0m6 0h0m8 0h0m8 0h0m1 0h0m12 0h0m27 0h0m5 0h0m2 0h0m8 0h0m1 0h0m1 0h0m3 0h0m7 0h0m3 0h0m4 0h0m1 0h0m8 0h0m4 0h0m12 0h0m32 0h0m13 0h0m0 0h0m0 0h0m14 0h0m21 0h0m28 0h0m9 0h0m5 0h0m2 0h0m11 0h0m44 0h0m18 0h0m5 0h0m2 0h0m4 0h0m5 0h0m6 0h0m13 0h0m32 0h0m13 0h0m23 0h0m4 0h0m23 0h0m12 0h0m18 0h0m15 0h0m9 0h0m1 0h0m1 0h0m6 0h0m17 0h0m7 0h0m5 0h0m12 0h0m5 0h0m4 0h0m11 0h0m1 0h0m38 0h0m7 0h0m6 0h0m1 0h0m17 0h0m0 0h0m13 0h0m5 0h0m0 0h0m2 0h0m181 0h0m-926 1h0m2 0h0m5 0h0m8 0h0m3 0h0m15 0h0m9 0h0m4 0h0m2 0h0m0 0h0m1 0h0m8 0h0m21 0h0m3 0h0m7 0h0m3 0h0m8 0h0m13 0h0m11 0h0m11 0h0m20 0h0m11 0h0m3 0h0m17 0h0m22 0h0m15 0h0m1 0h0m22 0h0m5 0h0m2 0h0m12 0h0m13 0h0m2 0h0m23 0h0m8 0h0m33 0h0m36 0h0m4 0h0m10 0h0m4 0h0m15 0h0m15 0h0m10 0h0m52 0h0m7 0h0m54 0h0m17 0h0m1 0h0m0 0h0m9 0h0m4 0h0m7 0h0m65 0h0m12 0h0m47 0h0m3 0h0m237 0h0m6 0h0m-966 1h0m5 0h0m8 0h0m3 0h0m1 0h0m14 0h0m6 0h0m3 0h0m1 0h0m14 0h0m2 0h0m1 0h0m25 0h0m0 0h0m11 0h0m3 0h0m1 0h0m3 0h0m18 0h0m12 0h0m34 0h0m3 0h0m30 0h0m2 0h0m4 0h0m8 0h0m32 0h0m3 0h0m11 0h0m5 0h0m9 0h0m1 0h0m3 0h0m5 0h0m42 0h0m36 0h0m30 0h0m30 0h0m4 0h0m20 0h0m26 0h0m20 0h0m22 0h0m2 0h0m9 0h0m32 0h0m15 0h0m5 0h0m7 0h0m2 0h0m35 0h0m2 0h0m0 0h0m7 0h0m12 0h0m0 0h0m19 0h0m5 0h0m6 0h0m3 0h0m21 0h0m28 0h0m25 0h0m203 0h0m230 0h0m-1174 1h0m0 0h0m1 0h0m16 0h0m2 0h0m1 0h0m6 0h0m1 0h0m1 0h0m11 0h0m11 0h0m22 0h0m20 0h0m8 0h0m13 0h0m21 0h0m22 0h0m9 0h0m2 0h0m6 0h0m40 0h0m14 0h0m0 0h0m6 0h0m20 0h0m11 0h0m10 0h0m4 0h0m9 0h0m20 0h0m89 0h0m0 0h0m6 0h0m13 0h0m3 0h0m6 0h0m4 0h0m3 0h0m33 0h0m88 0h0m15 0h0m26 0h0m18 0h0m1 0h0m8 0h0m21 0h0m14 0h0m46 0h0m9 0h0m14 0h0m23 0h0m325 0h0m-1071 1h0m2 0h0m6 0h0m9 0h0m1 0h0m2 0h0m2 0h0m13 0h0m5 0h0m6 0h0m1 0h0m3 0h0m5 0h0m1 0h0m0 0h0m1 0h0m2 0h0m23 0h0m9 0h0m27 0h0m42 0h0m1 0h0m18 0h0m5 0h0m0 0h0m13 0h0m4 0h0m0 0h0m1 0h0m31 0h0m3 0h0m3 0h0m12 0h0m2 0h0m4 0h0m3 0h0m4 0h0m5 0h0m4 0h0m11 0h0m4 0h0m31 0h0m1 0h0m11 0h0m66 0h0m7 0h0m20 0h0m7 0h0m31 0h0m28 0h0m15 0h0m3 0h0m0 0h0m30 0h0m7 0h0m13 0h0m8 0h0m9 0h0m19 0h0m45 0h0m15 0h0m8 0h0m5 0h0m37 0h0m6 0h0m5 0h0m1 0h0m3 0h0m14 0h0m7 0h0m2 0h0m3 0h0m113 0h0m80 0h0m-943 1h0m5 0h0m9 0h0m1 0h0m2 0h0m6 0h0m0 0h0m8 0h0m8 0h0m0 0h0m7 0h0m1 0h0m0 0h0m4 0h0m1 0h0m12 0h0m20 0h0m13 0h0m7 0h0m29 0h0m33 0h0m24 0h0m2 0h0m5 0h0m2 0h0m34 0h0m2 0h0m10 0h0m0 0h0m10 0h0m1 0h0m21 0h0m11 0h0m4 0h0m36 0h0m67 0h0m6 0h0m10 0h0m2 0h0m20 0h0m36 0h0m3 0h0m28 0h0m10 0h0m5 0h0m31 0h0m10 0h0m13 0h0m10 0h0m46 0h0m4 0h0m40 0h0m24 0h0m2 0h0m55 0h0m-750 1h0m1 0h0m3 0h0m3 0h0m12 0h0m1 0h0m6 0h0m19 0h0m1 0h0m3 0h0m1 0h0m3 0h0m2 0h0m1 0h0m0 0h0m2 0h0m1 0h0m5 0h0m36 0h0m23 0h0m3 0h0m35 0h0m5 0h0m0 0h0m8 0h0m1 0h0m4 0h0m7 0h0m3 0h0m4 0h0m19 0h0m19 0h0m13 0h0m5 0h0m15 0h0m81 0h0m7 0h0m11 0h0m28 0h0m16 0h0m19 0h0m8 0h0m7 0h0m1 0h0m48 0h0m2 0h0m45 0h0m15 0h0m7 0h0m7 0h0m5 0h0m1 0h0m9 0h0m3 0h0m2 0h0m4 0h0m6 0h0m1 0h0m3 0h0m19 0h0m21 0h0m80 0h0m18 0h0m12 0h0m1 0h0m-748 1h0m5 0h0m2 0h0m12 0h0m10 0h0m3 0h0m6 0h0m8 0h0m0 0h0m5 0h0m2 0h0m6 0h0m14 0h0m12 0h0m1 0h0m22 0h0m5 0h0m4 0h0m3 0h0m11 0h0m2 0h0m23 0h0m4 0h0m13 0h0m4 0h0m2 0h0m54 0h0m2 0h0m21 0h0m8 0h0m8 0h0m5 0h0m7 0h0m28 0h0m29 0h0m13 0h0m3 0h0m23 0h0m0 0h0m7 0h0m46 0h0m2 0h0m1 0h0m4 0h0m44 0h0m18 0h0m3 0h0m4 0h0m3 0h0m30 0h0m28 0h0m1 0h0m5 0h0m13 0h0m7 0h0m14 0h0m24 0h0m6 0h0m57 0h0m27 0h0m3 0h0m1 0h0m3 0h0m135 0h0m62 0h0m13 0h0m-941 1h0m2 0h0m3 0h0m4 0h0m3 0h0m0 0h0m2 0h0m4 0h0m1 0h0m6 0h0m6 0h0m3 0h0m6 0h0m10 0h0m7 0h0m5 0h0m0 0h0m12 0h0m6 0h0m2 0h0m39 0h0m0 0h0m8 0h0m39 0h0m1 0h0m26 0h0m2 0h0m3 0h0m9 0h0m2 0h0m21 0h0m15 0h0m3 0h0m7 0h0m3 0h0m11 0h0m4 0h0m7 0h0m33 0h0m14 0h0m31 0h0m23 0h0m5 0h0m5 0h0m0 0h0m31 0h0m9 0h0m8 0h0m21 0h0m9 0h0m32 0h0m4 0h0m9 0h0m22 0h0m2 0h0m5 0h0m11 0h0m6 0h0m10 0h0m1 0h0m20 0h0m23 0h0m9 0h0m1 0h0m11 0h0m10 0h0m18 0h0m23 0h0m12 0h0m219 0h0m-915 1h0m1 0h0m2 0h0m1 0h0m1 0h0m1 0h0m5 0h0m1 0h0m4 0h0m2 0h0m1 0h0m8 0h0m1 0h0m1 0h0m13 0h0m11 0h0m19 0h0m6 0h0m3 0h0m4 0h0m1 0h0m4 0h0m1 0h0m3 0h0m19 0h0m8 0h0m29 0h0m8 0h0m51 0h0m25 0h0m13 0h0m6 0h0m7 0h0m8 0h0m16 0h0m95 0h0m15 0h0m1 0h0m4 0h0m1 0h0m13 0h0m18 0h0m60 0h0m41 0h0m0 0h0m2 0h0m29 0h0m4 0h0m6 0h0m6 0h0m10 0h0m0 0h0m33 0h0m87 0h0m4 0h0m11 0h0m12 0h0m7 0h0m351 0h0m-1100 1h0m2 0h0m6 0h0m3 0h0m11 0h0m2 0h0m2 0h0m1 0h0m1 0h0m4 0h0m1 0h0m4 0h0m1 0h0m1 0h0m5 0h0m5 0h0m4 0h0m2 0h0m5 0h0m15 0h0m10 0h0m26 0h0m1 0h0m12 0h0m37 0h0m3 0h0m8 0h0m21 0h0m55 0h0m20 0h0m3 0h0m4 0h0m17 0h0m21 0h0m20 0h0m26 0h0m25 0h0m8 0h0m45 0h0m1 0h0m4 0h0m2 0h0m15 0h0m7 0h0m2 0h0m1 0h0m9 0h0m26 0h0m14 0h0m17 0h0m23 0h0m3 0h0m7 0h0m14 0h0m40 0h0m18 0h0m8 0h0m2 0h0m12 0h0m11 0h0m26 0h0m1 0h0m3 0h0m10 0h0m25 0h0m9 0h0m81 0h0m-825 1h0m6 0h0m3 0h0m4 0h0m28 0h0m3 0h0m2 0h0m7 0h0m2 0h0m4 0h0m30 0h0m21 0h0m2 0h0m41 0h0m11 0h0m28 0h0m5 0h0m1 0h0m15 0h0m18 0h0m11 0h0m4 0h0m0 0h0m14 0h0m5 0h0m1 0h0m1 0h0m7 0h0m37 0h0m18 0h0m36 0h0m16 0h0m3 0h0m2 0h0m0 0h0m4 0h0m13 0h0m59 0h0m29 0h0m4 0h0m8 0h0m38 0h0m6 0h0m2 0h0m3 0h0m4 0h0m22 0h0m9 0h0m1 0h0m8 0h0m25 0h0m2 0h0m7 0h0m29 0h0m13 0h0m30 0h0m15 0h0m2 0h0m2 0h0m9 0h0m6 0h0m1 0h0m7 0h0m2 0h0m209 0h0m-957 1h0m8 0h0m0 0h0m9 0h0m0 0h0m1 0h0m3 0h0m9 0h0m17 0h0m5 0h0m26 0h0m2 0h0m4 0h0m25 0h0m6 0h0m85 0h0m1 0h0m2 0h0m6 0h0m1 0h0m30 0h0m3 0h0m14 0h0m5 0h0m1 0h0m24 0h0m5 0h0m94 0h0m1 0h0m30 0h0m50 0h0m76 0h0m4 0h0m0 0h0m17 0h0m18 0h0m3 0h0m1 0h0m12 0h0m20 0h0m5 0h0m8 0h0m1 0h0m14 0h0m19 0h0m5 0h0m22 0h0m20 0h0m26 0h0m5 0h0m3 0h0m52 0h0m-800 1h0m23 0h0m3 0h0m1 0h0m0 0h0m0 0h0m10 0h0m9 0h0m4 0h0m3 0h0m2 0h0m1 0h0m4 0h0m1 0h0m4 0h0m26 0h0m2 0h0m2 0h0m11 0h0m16 0h0m0 0h0m11 0h0m6 0h0m23 0h0m14 0h0m9 0h0m1 0h0m3 0h0m8 0h0m13 0h0m22 0h0m14 0h0m19 0h0m59 0h0m63 0h0m6 0h0m9 0h0m8 0h0m7 0h0m0 0h0m6 0h0m3 0h0m0 0h0m8 0h0m35 0h0m53 0h0m61 0h0m43 0h0m26 0h0m39 0h0m18 0h0m2 0h0m10 0h0m15 0h0m5 0h0m7 0h0m178 0h0m3 0h0m12 0h0m-939 1h0m1 0h0m3 0h0m1 0h0m7 0h0m2 0h0m1 0h0m1 0h0m8 0h0m5 0h0m5 0h0m13 0h0m3 0h0m1 0h0m2 0h0m3 0h0m2 0h0m3 0h0m17 0h0m5 0h0m22 0h0m2 0h0m2 0h0m27 0h0m30 0h0m12 0h0m1 0h0m31 0h0m1 0h0m44 0h0m6 0h0m3 0h0m47 0h0m8 0h0m29 0h0m39 0h0m11 0h0m2 0h0m2 0h0m1 0h0m6 0h0m17 0h0m4 0h0m2 0h0m1 0h0m5 0h0m80 0h0m3 0h0m43 0h0m2 0h0m8 0h0m10 0h0m26 0h0m6 0h0m7 0h0m12 0h0m16 0h0m4 0h0m12 0h0m6 0h0m19 0h0m11 0h0m19 0h0m1 0h0m-685 1h0m5 0h0m8 0h0m4 0h0m6 0h0m1 0h0m23 0h0m13 0h0m1 0h0m3 0h0m2 0h0m8 0h0m9 0h0m8 0h0m31 0h0m1 0h0m1 0h0m11 0h0m3 0h0m10 0h0m8 0h0m7 0h0m8 0h0m34 0h0m3 0h0m4 0h0m24 0h0m10 0h0m8 0h0m40 0h0m12 0h0m41 0h0m16 0h0m2 0h0m3 0h0m9 0h0m7 0h0m10 0h0m6 0h0m22 0h0m21 0h0m14 0h0m16 0h0m25 0h0m4 0h0m3 0h0m6 0h0m5 0h0m13 0h0m11 0h0m32 0h0m16 0h0m16 0h0m8 0h0m48 0h0m10 0h0m1 0h0m0 0h0m9 0h0m2 0h0m3 0h0m15 0h0m-739 1h0m0 0h0m13 0h0m5 0h0m0 0h0m1 0h0m9 0h0m5 0h0m1 0h0m10 0h0m6 0h0m1 0h0m7 0h0m1 0h0m37 0h0m20 0h0m10 0h0m39 0h0m30 0h0m6 0h0m1 0h0m10 0h0m3 0h0m28 0h0m1 0h0m4 0h0m5 0h0m12 0h0m10 0h0m5 0h0m107 0h0m2 0h0m2 0h0m2 0h0m13 0h0m31 0h0m3 0h0m66 0h0m56 0h0m7 0h0m8 0h0m17 0h0m19 0h0m5 0h0m6 0h0m2 0h0m35 0h0m1 0h0m1 0h0m2 0h0m44 0h0m4 0h0m11 0h0m24 0h0m-747 1h0m0 0h0m14 0h0m1 0h0m0 0h0m4 0h0m4 0h0m2 0h0m3 0h0m0 0h0m16 0h0m6 0h0m25 0h0m9 0h0m1 0h0m17 0h0m9 0h0m1 0h0m6 0h0m9 0h0m28 0h0m12 0h0m1 0h0m6 0h0m7 0h0m7 0h0m24 0h0m20 0h0m1 0h0m11 0h0m15 0h0m10 0h0m2 0h0m2 0h0m4 0h0m11 0h0m4 0h0m18 0h0m40 0h0m31 0h0m1 0h0m2 0h0m26 0h0m5 0h0m1 0h0m26 0h0m27 0h0m5 0h0m3 0h0m8 0h0m62 0h0m18 0h0m6 0h0m2 0h0m5 0h0m1 0h0m3 0h0m16 0h0m15 0h0m13 0h0m11 0h0m29 0h0m4 0h0m37 0h0m2 0h0m1 0h0m8 0h0m11 0h0m5 0h0m7 0h0m-744 1h0m7 0h0m2 0h0m1 0h0m3 0h0m0 0h0m7 0h0m1 0h0m9 0h0m1 0h0m2 0h0m2 0h0m13 0h0m1 0h0m8 0h0m32 0h0m0 0h0m11 0h0m5 0h0m33 0h0m27 0h0m1 0h0m7 0h0m3 0h0m4 0h0m12 0h0m2 0h0m0 0h0m7 0h0m18 0h0m19 0h0m16 0h0m1 0h0m1 0h0m10 0h0m24 0h0m32 0h0m35 0h0m29 0h0m7 0h0m1 0h0m11 0h0m12 0h0m6 0h0m0 0h0m14 0h0m10 0h0m16 0h0m11 0h0m4 0h0m5 0h0m65 0h0m21 0h0m3 0h0m7 0h0m11 0h0m30 0h0m4 0h0m38 0h0m1 0h0m7 0h0m3 0h0m0 0h0m1 0h0m2 0h0m14 0h0m2 0h0m20 0h0m5 0h0m3 0h0m1 0h0m2 0h0m8 0h0m4 0h0m199 0h0m-932 1h0m2 0h0m2 0h0m15 0h0m7 0h0m1 0h0m8 0h0m6 0h0m4 0h0m1 0h0m5 0h0m5 0h0m22 0h0m1 0h0m4 0h0m16 0h0m11 0h0m3 0h0m2 0h0m5 0h0m8 0h0m29 0h0m8 0h0m18 0h0m19 0h0m2 0h0m7 0h0m4 0h0m0 0h0m16 0h0m14 0h0m15 0h0m3 0h0m13 0h0m4 0h0m4 0h0m62 0h0m4 0h0m3 0h0m2 0h0m1 0h0m33 0h0m10 0h0m35 0h0m29 0h0m45 0h0m63 0h0m0 0h0m52 0h0m0 0h0m21 0h0m18 0h0m6 0h0m3 0h0m4 0h0m15 0h0m-692 1h0m1 0h0m2 0h0m1 0h0m5 0h0m2 0h0m3 0h0m3 0h0m1 0h0m6 0h0m1 0h0m2 0h0m1 0h0m2 0h0m1 0h0m6 0h0m6 0h0m10 0h0m9 0h0m1 0h0m28 0h0m64 0h0m4 0h0m21 0h0m2 0h0m6 0h0m1 0h0m2 0h0m0 0h0m1 0h0m5 0h0m0 0h0m37 0h0m5 0h0m14 0h0m1 0h0m8 0h0m1 0h0m11 0h0m5 0h0m4 0h0m3 0h0m46 0h0m6 0h0m7 0h0m50 0h0m18 0h0m1 0h0m12 0h0m45 0h0m12 0h0m22 0h0m8 0h0m36 0h0m6 0h0m10 0h0m1 0h0m5 0h0m8 0h0m17 0h0m54 0h0m6 0h0m5 0h0m10 0h0m1 0h0m2 0h0m35 0h0m24 0h0m-732 1h0m1 0h0m11 0h0m3 0h0m4 0h0m5 0h0m13 0h0m6 0h0m5 0h0m9 0h0m1 0h0m4 0h0m24 0h0m3 0h0m37 0h0m3 0h0m0 0h0m6 0h0m4 0h0m14 0h0m1 0h0m14 0h0m8 0h0m7 0h0m18 0h0m0 0h0m42 0h0m9 0h0m3 0h0m8 0h0m10 0h0m2 0h0m4 0h0m3 0h0m1 0h0m79 0h0m4 0h0m17 0h0m1 0h0m11 0h0m0 0h0m5 0h0m19 0h0m5 0h0m19 0h0m2 0h0m15 0h0m4 0h0m16 0h0m0 0h0m3 0h0m2 0h0m82 0h0m16 0h0m1 0h0m9 0h0m0 0h0m39 0h0m11 0h0m18 0h0m0 0h0m12 0h0m40 0h0m19 0h0m9 0h0m128 0h0m-861 1h0m3 0h0m6 0h0m0 0h0m0 0h0m1 0h0m9 0h0m0 0h0m9 0h0m4 0h0m12 0h0m0 0h0m0 0h0m2 0h0m38 0h0m3 0h0m2 0h0m7 0h0m11 0h0m39 0h0m1 0h0m4 0h0m17 0h0m4 0h0m6 0h0m13 0h0m1 0h0m10 0h0m27 0h0m9 0h0m5 0h0m6 0h0m35 0h0m1 0h0m23 0h0m26 0h0m14 0h0m38 0h0m5 0h0m10 0h0m3 0h0m10 0h0m7 0h0m15 0h0m16 0h0m9 0h0m4 0h0m5 0h0m5 0h0m26 0h0m5 0h0m24 0h0m13 0h0m7 0h0m3 0h0m12 0h0m0 0h0m43 0h0m16 0h0m19 0h0m66 0h0m12 0h0m11 0h0m6 0h0m231 0h0m-971 1h0m9 0h0m2 0h0m4 0h0m3 0h0m2 0h0m7 0h0m9 0h0m3 0h0m3 0h0m5 0h0m2 0h0m1 0h0m1 0h0m1 0h0m1 0h0m26 0h0m14 0h0m3 0h0m15 0h0m0 0h0m6 0h0m12 0h0m5 0h0m25 0h0m11 0h0m5 0h0m7 0h0m3 0h0m5 0h0m6 0h0m9 0h0m28 0h0m17 0h0m3 0h0m9 0h0m12 0h0m1 0h0m4 0h0m8 0h0m33 0h0m24 0h0m9 0h0m63 0h0m16 0h0m31 0h0m16 0h0m12 0h0m17 0h0m1 0h0m7 0h0m18 0h0m34 0h0m12 0h0m3 0h0m45 0h0m30 0h0m3 0h0m3 0h0m26 0h0m8 0h0m42 0h0m193 0h0m-924 1h0m4 0h0m2 0h0m1 0h0m3 0h0m5 0h0m13 0h0m2 0h0m9 0h0m1 0h0m6 0h0m21 0h0m0 0h0m22 0h0m7 0h0m2 0h0m13 0h0m6 0h0m36 0h0m0 0h0m3 0h0m9 0h0m12 0h0m18 0h0m34 0h0m1 0h0m6 0h0m8 0h0m8 0h0m2 0h0m2 0h0m12 0h0m4 0h0m23 0h0m2 0h0m74 0h0m2 0h0m11 0h0m11 0h0m1 0h0m6 0h0m2 0h0m3 0h0m1 0h0m7 0h0m7 0h0m1 0h0m40 0h0m11 0h0m30 0h0m16 0h0m3 0h0m3 0h0m24 0h0m11 0h0m5 0h0m4 0h0m6 0h0m0 0h0m0 0h0m4 0h0m26 0h0m7 0h0m18 0h0m14 0h0m10 0h0m4 0h0m16 0h0m57 0h0m4 0h0m-741 1h0m20 0h0m3 0h0m9 0h0m2 0h0m1 0h0m1 0h0m3 0h0m1 0h0m0 0h0m7 0h0m2 0h0m2 0h0m18 0h0m6 0h0m0 0h0m1 0h0m5 0h0m2 0h0m9 0h0m22 0h0m1 0h0m6 0h0m2 0h0m1 0h0m28 0h0m1 0h0m5 0h0m1 0h0m5 0h0m2 0h0m25 0h0m5 0h0m1 0h0m60 0h0m1 0h0m16 0h0m38 0h0m36 0h0m25 0h0m20 0h0m2 0h0m10 0h0m24 0h0m41 0h0m14 0h0m28 0h0m15 0h0m5 0h0m6 0h0m13 0h0m28 0h0m7 0h0m40 0h0m21 0h0m16 0h0m18 0h0m1 0h0m11 0h0m9 0h0m18 0h0m7 0h0m5 0h0m189 0h0m199 0h0m-1124 1h0m4 0h0m7 0h0m1 0h0m2 0h0m4 0h0m14 0h0m13 0h0m2 0h0m6 0h0m5 0h0m32 0h0m14 0h0m8 0h0m18 0h0m36 0h0m15 0h0m12 0h0m17 0h0m14 0h0m4 0h0m4 0h0m13 0h0m11 0h0m4 0h0m11 0h0m5 0h0m4 0h0m3 0h0m32 0h0m1 0h0m14 0h0m29 0h0m26 0h0m2 0h0m2 0h0m5 0h0m1 0h0m6 0h0m0 0h0m9 0h0m4 0h0m3 0h0m14 0h0m33 0h0m12 0h0m12 0h0m11 0h0m7 0h0m2 0h0m3 0h0m3 0h0m1 0h0m25 0h0m23 0h0m1 0h0m5 0h0m22 0h0m22 0h0m54 0h0m20 0h0m59 0h0m118 0h0m67 0h0m-938 1h0m4 0h0m4 0h0m8 0h0m3 0h0m2 0h0m8 0h0m2 0h0m3 0h0m12 0h0m8 0h0m2 0h0m6 0h0m25 0h0m11 0h0m1 0h0m2 0h0m6 0h0m7 0h0m1 0h0m45 0h0m18 0h0m0 0h0m3 0h0m3 0h0m0 0h0m6 0h0m3 0h0m3 0h0m1 0h0m21 0h0m14 0h0m7 0h0m2 0h0m35 0h0m8 0h0m8 0h0m27 0h0m1 0h0m21 0h0m19 0h0m4 0h0m25 0h0m19 0h0m12 0h0m2 0h0m12 0h0m4 0h0m8 0h0m42 0h0m3 0h0m1 0h0m45 0h0m19 0h0m10 0h0m30 0h0m46 0h0m18 0h0m5 0h0m58 0h0m5 0h0m114 0h0m96 0h0m-921 1h0m2 0h0m5 0h0m0 0h0m5 0h0m1 0h0m5 0h0m10 0h0m1 0h0m9 0h0m35 0h0m3 0h0m23 0h0m18 0h0m3 0h0m1 0h0m23 0h0m35 0h0m14 0h0m22 0h0m8 0h0m2 0h0m4 0h0m12 0h0m3 0h0m4 0h0m5 0h0m17 0h0m83 0h0m20 0h0m31 0h0m12 0h0m9 0h0m44 0h0m3 0h0m11 0h0m47 0h0m1 0h0m0 0h0m6 0h0m3 0h0m5 0h0m1 0h0m6 0h0m2 0h0m25 0h0m31 0h0m5 0h0m30 0h0m14 0h0m31 0h0m1 0h0m8 0h0m32 0h0m229 0h0m-972 1h0m4 0h0m1 0h0m7 0h0m0 0h0m0 0h0m1 0h0m2 0h0m6 0h0m3 0h0m0 0h0m3 0h0m5 0h0m8 0h0m0 0h0m0 0h0m1 0h0m10 0h0m2 0h0m0 0h0m7 0h0m23 0h0m7 0h0m5 0h0m8 0h0m6 0h0m13 0h0m0 0h0m11 0h0m1 0h0m22 0h0m7 0h0m10 0h0m2 0h0m1 0h0m7 0h0m2 0h0m25 0h0m21 0h0m4 0h0m16 0h0m15 0h0m5 0h0m10 0h0m2 0h0m1 0h0m63 0h0m46 0h0m15 0h0m16 0h0m50 0h0m2 0h0m20 0h0m6 0h0m32 0h0m3 0h0m1 0h0m8 0h0m11 0h0m19 0h0m67 0h0m15 0h0m4 0h0m27 0h0m5 0h0m4 0h0m23 0h0m27 0h0m216 0h0m-967 1h0m1 0h0m0 0h0m15 0h0m7 0h0m0 0h0m3 0h0m3 0h0m6 0h0m5 0h0m4 0h0m3 0h0m4 0h0m7 0h0m4 0h0m17 0h0m7 0h0m47 0h0m44 0h0m2 0h0m0 0h0m6 0h0m10 0h0m39 0h0m6 0h0m11 0h0m7 0h0m1 0h0m29 0h0m2 0h0m20 0h0m14 0h0m14 0h0m51 0h0m10 0h0m3 0h0m2 0h0m15 0h0m25 0h0m19 0h0m6 0h0m3 0h0m6 0h0m17 0h0m5 0h0m4 0h0m44 0h0m4 0h0m20 0h0m13 0h0m5 0h0m8 0h0m24 0h0m26 0h0m25 0h0m34 0h0m9 0h0m3 0h0m146 0h0m60 0h0m31 0h0m9 0h0m-965 1h0m0 0h0m16 0h0m5 0h0m5 0h0m1 0h0m0 0h0m2 0h0m0 0h0m2 0h0m2 0h0m0 0h0m5 0h0m4 0h0m0 0h0m12 0h0m0 0h0m2 0h0m6 0h0m37 0h0m15 0h0m9 0h0m16 0h0m0 0h0m25 0h0m4 0h0m8 0h0m21 0h0m7 0h0m1 0h0m1 0h0m22 0h0m26 0h0m5 0h0m3 0h0m18 0h0m13 0h0m35 0h0m14 0h0m2 0h0m0 0h0m6 0h0m0 0h0m8 0h0m4 0h0m2 0h0m31 0h0m9 0h0m4 0h0m8 0h0m5 0h0m11 0h0m38 0h0m5 0h0m37 0h0m52 0h0m17 0h0m1 0h0m5 0h0m77 0h0m35 0h0m3 0h0m3 0h0m8 0h0m18 0h0m3 0h0m0 0h0m-730 1h0m3 0h0m2 0h0m1 0h0m5 0h0m7 0h0m7 0h0m3 0h0m1 0h0m2 0h0m26 0h0m15 0h0m24 0h0m0 0h0m6 0h0m48 0h0m8 0h0m15 0h0m17 0h0m58 0h0m20 0h0m13 0h0m49 0h0m4 0h0m5 0h0m59 0h0m13 0h0m7 0h0m37 0h0m15 0h0m1 0h0m83 0h0m1 0h0m18 0h0m6 0h0m60 0h0m9 0h0m15 0h0m2 0h0m0 0h0m20 0h0m2 0h0m18 0h0m2 0h0m20 0h0m-728 1h0m1 0h0m1 0h0m2 0h0m5 0h0m0 0h0m1 0h0m0 0h0m3 0h0m1 0h0m0 0h0m2 0h0m2 0h0m5 0h0m4 0h0m3 0h0m12 0h0m4 0h0m1 0h0m2 0h0m7 0h0m1 0h0m22 0h0m16 0h0m2 0h0m3 0h0m13 0h0m6 0h0m15 0h0m29 0h0m6 0h0m27 0h0m14 0h0m22 0h0m4 0h0m5 0h0m9 0h0m12 0h0m1 0h0m3 0h0m2 0h0m1 0h0m14 0h0m5 0h0m58 0h0m3 0h0m5 0h0m9 0h0m17 0h0m4 0h0m20 0h0m13 0h0m0 0h0m1 0h0m25 0h0m17 0h0m17 0h0m31 0h0m36 0h0m1 0h0m7 0h0m5 0h0m20 0h0m32 0h0m13 0h0m4 0h0m71 0h0m6 0h0m6 0h0m7 0h0m10 0h0m8 0h0m268 0h0m-1001 1h0m11 0h0m1 0h0m8 0h0m1 0h0m7 0h0m8 0h0m3 0h0m6 0h0m2 0h0m2 0h0m2 0h0m4 0h0m3 0h0m16 0h0m4 0h0m7 0h0m8 0h0m27 0h0m3 0h0m2 0h0m6 0h0m29 0h0m9 0h0m9 0h0m9 0h0m14 0h0m69 0h0m2 0h0m12 0h0m5 0h0m22 0h0m41 0h0m13 0h0m1 0h0m24 0h0m26 0h0m7 0h0m2 0h0m29 0h0m15 0h0m19 0h0m49 0h0m5 0h0m1 0h0m7 0h0m9 0h0m33 0h0m37 0h0m8 0h0m13 0h0m84 0h0m7 0h0m4 0h0m149 0h0m211 0h0m-1109 1h0m1 0h0m2 0h0m4 0h0m0 0h0m13 0h0m1 0h0m8 0h0m18 0h0m1 0h0m5 0h0m6 0h0m1 0h0m0 0h0m2 0h0m15 0h0m4 0h0m5 0h0m7 0h0m0 0h0m7 0h0m14 0h0m6 0h0m3 0h0m1 0h0m2 0h0m4 0h0m23 0h0m5 0h0m21 0h0m3 0h0m7 0h0m20 0h0m2 0h0m18 0h0m4 0h0m11 0h0m2 0h0m22 0h0m42 0h0m26 0h0m19 0h0m33 0h0m10 0h0m4 0h0m9 0h0m2 0h0m5 0h0m16 0h0m4 0h0m30 0h0m43 0h0m42 0h0m11 0h0m4 0h0m3 0h0m27 0h0m36 0h0m62 0h0m3 0h0m3 0h0m7 0h0m11 0h0m568 0h0m-1280 1h0m1 0h0m5 0h0m1 0h0m2 0h0m1 0h0m0 0h0m6 0h0m5 0h0m1 0h0m0 0h0m6 0h0m10 0h0m12 0h0m1 0h0m28 0h0m17 0h0m9 0h0m1 0h0m2 0h0m17 0h0m3 0h0m21 0h0m27 0h0m5 0h0m15 0h0m7 0h0m4 0h0m14 0h0m3 0h0m1 0h0m2 0h0m1 0h0m10 0h0m16 0h0m3 0h0m8 0h0m10 0h0m2 0h0m25 0h0m28 0h0m3 0h0m20 0h0m5 0h0m19 0h0m3 0h0m6 0h0m2 0h0m4 0h0m7 0h0m13 0h0m0 0h0m160 0h0m8 0h0m26 0h0m6 0h0m16 0h0m1 0h0m25 0h0m41 0h0m27 0h0m11 0h0m8 0h0m-750 1h0m1 0h0m1 0h0m8 0h0m2 0h0m2 0h0m4 0h0m3 0h0m1 0h0m0 0h0m7 0h0m4 0h0m3 0h0m8 0h0m12 0h0m37 0h0m2 0h0m2 0h0m14 0h0m1 0h0m3 0h0m6 0h0m3 0h0m56 0h0m4 0h0m5 0h0m3 0h0m5 0h0m61 0h0m4 0h0m9 0h0m11 0h0m3 0h0m52 0h0m51 0h0m4 0h0m24 0h0m1 0h0m1 0h0m3 0h0m20 0h0m25 0h0m15 0h0m2 0h0m22 0h0m4 0h0m42 0h0m8 0h0m11 0h0m1 0h0m8 0h0m21 0h0m21 0h0m1 0h0m1 0h0m17 0h0m24 0h0m60 0h0m14 0h0m194 0h0m1 0h0m33 0h0m-965 1h0m0 0h0m3 0h0m3 0h0m8 0h0m4 0h0m5 0h0m4 0h0m1 0h0m5 0h0m2 0h0m19 0h0m5 0h0m3 0h0m14 0h0m36 0h0m5 0h0m4 0h0m8 0h0m4 0h0m21 0h0m5 0h0m9 0h0m5 0h0m9 0h0m15 0h0m2 0h0m10 0h0m29 0h0m12 0h0m7 0h0m1 0h0m8 0h0m20 0h0m7 0h0m47 0h0m57 0h0m8 0h0m7 0h0m0 0h0m4 0h0m2 0h0m7 0h0m10 0h0m7 0h0m2 0h0m2 0h0m35 0h0m30 0h0m25 0h0m18 0h0m9 0h0m28 0h0m29 0h0m30 0h0m24 0h0m30 0h0m47 0h0m215 0h0m5 0h0m-968 1h0m1 0h0m16 0h0m5 0h0m0 0h0m2 0h0m8 0h0m13 0h0m8 0h0m0 0h0m2 0h0m4 0h0m1 0h0m17 0h0m11 0h0m2 0h0m5 0h0m0 0h0m24 0h0m6 0h0m5 0h0m7 0h0m13 0h0m15 0h0m19 0h0m2 0h0m4 0h0m5 0h0m4 0h0m30 0h0m3 0h0m2 0h0m46 0h0m52 0h0m25 0h0m28 0h0m5 0h0m22 0h0m1 0h0m14 0h0m15 0h0m32 0h0m12 0h0m19 0h0m33 0h0m33 0h0m2 0h0m2 0h0m19 0h0m14 0h0m0 0h0m13 0h0m2 0h0m26 0h0m4 0h0m1 0h0m10 0h0m0 0h0m6 0h0m21 0h0m40 0h0m4 0h0m-733 1h0m5 0h0m13 0h0m6 0h0m4 0h0m1 0h0m5 0h0m2 0h0m12 0h0m3 0h0m0 0h0m7 0h0m1 0h0m17 0h0m5 0h0m5 0h0m4 0h0m7 0h0m15 0h0m3 0h0m12 0h0m2 0h0m6 0h0m20 0h0m6 0h0m2 0h0m5 0h0m23 0h0m6 0h0m26 0h0m13 0h0m28 0h0m5 0h0m2 0h0m3 0h0m4 0h0m62 0h0m2 0h0m6 0h0m8 0h0m27 0h0m5 0h0m1 0h0m15 0h0m27 0h0m6 0h0m48 0h0m61 0h0m19 0h0m14 0h0m3 0h0m11 0h0m14 0h0m5 0h0m30 0h0m15 0h0m25 0h0m2 0h0m13 0h0m4 0h0m33 0h0m3 0h0m0 0h0m1 0h0m4 0h0m3 0h0m276 0h0m216 0h0m-1231 1h0m3 0h0m9 0h0m0 0h0m13 0h0m3 0h0m0 0h0m5 0h0m37 0h0m6 0h0m9 0h0m2 0h0m0 0h0m13 0h0m2 0h0m25 0h0m16 0h0m11 0h0m2 0h0m23 0h0m4 0h0m7 0h0m2 0h0m1 0h0m2 0h0m1 0h0m4 0h0m18 0h0m12 0h0m5 0h0m7 0h0m3 0h0m3 0h0m22 0h0m12 0h0m25 0h0m63 0h0m2 0h0m9 0h0m4 0h0m1 0h0m17 0h0m12 0h0m4 0h0m75 0h0m36 0h0m1 0h0m4 0h0m14 0h0m31 0h0m77 0h0m36 0h0m4 0h0m336 0h0m70 0h0m-1115 1h0m6 0h0m11 0h0m14 0h0m1 0h0m12 0h0m1 0h0m8 0h0m5 0h0m3 0h0m16 0h0m6 0h0m8 0h0m16 0h0m1 0h0m6 0h0m9 0h0m5 0h0m0 0h0m0 0h0m6 0h0m22 0h0m3 0h0m3 0h0m13 0h0m37 0h0m18 0h0m24 0h0m16 0h0m6 0h0m6 0h0m3 0h0m8 0h0m32 0h0m1 0h0m7 0h0m20 0h0m36 0h0m3 0h0m11 0h0m7 0h0m3 0h0m12 0h0m16 0h0m4 0h0m43 0h0m1 0h0m18 0h0m12 0h0m4 0h0m31 0h0m6 0h0m20 0h0m3 0h0m9 0h0m55 0h0m8 0h0m51 0h0m2 0h0m220 0h0m-926 1h0m19 0h0m0 0h0m0 0h0m6 0h0m1 0h0m7 0h0m3 0h0m13 0h0m3 0h0m3 0h0m0 0h0m0 0h0m1 0h0m3 0h0m23 0h0m18 0h0m30 0h0m1 0h0m21 0h0m4 0h0m1 0h0m10 0h0m2 0h0m24 0h0m2 0h0m3 0h0m51 0h0m1 0h0m8 0h0m1 0h0m22 0h0m10 0h0m22 0h0m1 0h0m16 0h0m25 0h0m28 0h0m6 0h0m78 0h0m11 0h0m32 0h0m24 0h0m4 0h0m56 0h0m17 0h0m30 0h0m23 0h0m24 0h0m33 0h0m180 0h0m40 0h0m4 0h0m-925 1h0m5 0h0m0 0h0m6 0h0m2 0h0m17 0h0m1 0h0m0 0h0m3 0h0m0 0h0m4 0h0m0 0h0m2 0h0m1 0h0m1 0h0m38 0h0m0 0h0m10 0h0m4 0h0m1 0h0m2 0h0m1 0h0m3 0h0m5 0h0m32 0h0m7 0h0m6 0h0m12 0h0m17 0h0m0 0h0m45 0h0m7 0h0m0 0h0m5 0h0m15 0h0m3 0h0m4 0h0m71 0h0m30 0h0m2 0h0m5 0h0m8 0h0m12 0h0m1 0h0m0 0h0m0 0h0m2 0h0m4 0h0m17 0h0m9 0h0m17 0h0m7 0h0m27 0h0m20 0h0m7 0h0m3 0h0m29 0h0m20 0h0m84 0h0m4 0h0m46 0h0m5 0h0m3 0h0m-714 1h0m9 0h0m1 0h0m22 0h0m3 0h0m6 0h0m7 0h0m12 0h0m1 0h0m1 0h0m2 0h0m22 0h0m3 0h0m3 0h0m0 0h0m14 0h0m48 0h0m3 0h0m5 0h0m1 0h0m1 0h0m11 0h0m16 0h0m1 0h0m6 0h0m1 0h0m11 0h0m7 0h0m34 0h0m19 0h0m1 0h0m6 0h0m41 0h0m39 0h0m27 0h0m7 0h0m9 0h0m8 0h0m8 0h0m90 0h0m18 0h0m14 0h0m13 0h0m7 0h0m14 0h0m3 0h0m2 0h0m22 0h0m41 0h0m24 0h0m11 0h0m16 0h0m27 0h0m178 0h0m-896 1h0m2 0h0m8 0h0m4 0h0m5 0h0m2 0h0m14 0h0m0 0h0m3 0h0m3 0h0m14 0h0m6 0h0m0 0h0m2 0h0m18 0h0m2 0h0m8 0h0m1 0h0m2 0h0m1 0h0m16 0h0m1 0h0m1 0h0m0 0h0m11 0h0m2 0h0m12 0h0m2 0h0m15 0h0m4 0h0m6 0h0m4 0h0m5 0h0m28 0h0m4 0h0m11 0h0m12 0h0m27 0h0m3 0h0m24 0h0m0 0h0m2 0h0m9 0h0m38 0h0m18 0h0m9 0h0m1 0h0m9 0h0m2 0h0m21 0h0m3 0h0m17 0h0m7 0h0m83 0h0m4 0h0m29 0h0m23 0h0m3 0h0m2 0h0m1 0h0m7 0h0m3 0h0m3 0h0m69 0h0m0 0h0m0 0h0m50 0h0m12 0h0m18 0h0m1 0h0m225 0h0m57 0h0m-1005 1h0m1 0h0m1 0h0m0 0h0m1 0h0m1 0h0m1 0h0m3 0h0m25 0h0m9 0h0m0 0h0m3 0h0m11 0h0m3 0h0m17 0h0m4 0h0m15 0h0m1 0h0m41 0h0m16 0h0m1 0h0m43 0h0m1 0h0m3 0h0m5 0h0m4 0h0m23 0h0m27 0h0m6 0h0m10 0h0m2 0h0m72 0h0m16 0h0m19 0h0m6 0h0m21 0h0m4 0h0m1 0h0m3 0h0m17 0h0m33 0h0m8 0h0m62 0h0m26 0h0m10 0h0m18 0h0m33 0h0m9 0h0m5 0h0m8 0h0m21 0h0m19 0h0m6 0h0m10 0h0m13 0h0m-722 1h0m3 0h0m2 0h0m4 0h0m9 0h0m13 0h0m4 0h0m8 0h0m2 0h0m2 0h0m4 0h0m5 0h0m7 0h0m19 0h0m2 0h0m0 0h0m2 0h0m13 0h0m0 0h0m4 0h0m17 0h0m1 0h0m10 0h0m7 0h0m1 0h0m14 0h0m15 0h0m12 0h0m17 0h0m34 0h0m20 0h0m26 0h0m7 0h0m105 0h0m13 0h0m2 0h0m16 0h0m17 0h0m29 0h0m4 0h0m7 0h0m6 0h0m13 0h0m23 0h0m26 0h0m1 0h0m77 0h0m14 0h0m0 0h0m26 0h0m11 0h0m38 0h0m27 0h0m3 0h0m-741 1h0m2 0h0m1 0h0m2 0h0m4 0h0m7 0h0m1 0h0m1 0h0m6 0h0m11 0h0m9 0h0m6 0h0m4 0h0m35 0h0m0 0h0m1 0h0m3 0h0m1 0h0m9 0h0m3 0h0m11 0h0m9 0h0m0 0h0m8 0h0m19 0h0m1 0h0m20 0h0m4 0h0m7 0h0m3 0h0m2 0h0m4 0h0m8 0h0m1 0h0m6 0h0m51 0h0m10 0h0m80 0h0m9 0h0m11 0h0m30 0h0m24 0h0m1 0h0m5 0h0m3 0h0m1 0h0m4 0h0m40 0h0m41 0h0m39 0h0m23 0h0m10 0h0m30 0h0m1 0h0m41 0h0m37 0h0m5 0h0m2 0h0m25 0h0m-731 1h0m0 0h0m3 0h0m30 0h0m2 0h0m6 0h0m2 0h0m4 0h0m5 0h0m7 0h0m1 0h0m1 0h0m1 0h0m21 0h0m5 0h0m2 0h0m17 0h0m16 0h0m28 0h0m3 0h0m17 0h0m3 0h0m8 0h0m7 0h0m4 0h0m1 0h0m1 0h0m0 0h0m35 0h0m5 0h0m2 0h0m2 0h0m5 0h0m10 0h0m3 0h0m9 0h0m12 0h0m7 0h0m67 0h0m32 0h0m19 0h0m2 0h0m2 0h0m11 0h0m12 0h0m29 0h0m8 0h0m15 0h0m12 0h0m2 0h0m70 0h0m9 0h0m11 0h0m32 0h0m3 0h0m20 0h0m9 0h0m2 0h0m21 0h0m25 0h0m16 0h0m22 0h0m14 0h0m-749 1h0m4 0h0m5 0h0m5 0h0m3 0h0m6 0h0m5 0h0m5 0h0m3 0h0m16 0h0m0 0h0m1 0h0m3 0h0m1 0h0m43 0h0m2 0h0m4 0h0m4 0h0m6 0h0m6 0h0m29 0h0m4 0h0m3 0h0m4 0h0m17 0h0m32 0h0m26 0h0m3 0h0m12 0h0m0 0h0m4 0h0m12 0h0m8 0h0m1 0h0m7 0h0m49 0h0m23 0h0m7 0h0m4 0h0m13 0h0m11 0h0m10 0h0m8 0h0m3 0h0m3 0h0m2 0h0m18 0h0m8 0h0m47 0h0m11 0h0m59 0h0m13 0h0m2 0h0m74 0h0m0 0h0m15 0h0m50 0h0m15 0h0m187 0h0m11 0h0m-925 1h0m0 0h0m1 0h0m2 0h0m3 0h0m1 0h0m20 0h0m4 0h0m4 0h0m7 0h0m1 0h0m2 0h0m0 0h0m5 0h0m29 0h0m9 0h0m12 0h0m1 0h0m7 0h0m1 0h0m7 0h0m11 0h0m5 0h0m18 0h0m9 0h0m10 0h0m1 0h0m17 0h0m7 0h0m5 0h0m1 0h0m0 0h0m27 0h0m4 0h0m5 0h0m14 0h0m11 0h0m8 0h0m7 0h0m13 0h0m12 0h0m28 0h0m10 0h0m40 0h0m5 0h0m18 0h0m6 0h0m2 0h0m1 0h0m6 0h0m37 0h0m1 0h0m0 0h0m20 0h0m23 0h0m3 0h0m49 0h0m60 0h0m17 0h0m6 0h0m65 0h0m9 0h0m22 0h0m209 0h0m-939 1h0m3 0h0m13 0h0m3 0h0m14 0h0m4 0h0m7 0h0m1 0h0m2 0h0m7 0h0m7 0h0m63 0h0m1 0h0m2 0h0m0 0h0m1 0h0m3 0h0m18 0h0m13 0h0m4 0h0m24 0h0m4 0h0m0 0h0m15 0h0m22 0h0m3 0h0m43 0h0m2 0h0m34 0h0m14 0h0m24 0h0m12 0h0m0 0h0m28 0h0m21 0h0m0 0h0m4 0h0m26 0h0m46 0h0m120 0h0m9 0h0m14 0h0m32 0h0m27 0h0m17 0h0m40 0h0m207 0h0m4 0h0m-957 1h0m0 0h0m10 0h0m1 0h0m1 0h0m2 0h0m12 0h0m0 0h0m3 0h0m5 0h0m44 0h0m4 0h0m12 0h0m11 0h0m0 0h0m3 0h0m0 0h0m4 0h0m1 0h0m3 0h0m6 0h0m3 0h0m10 0h0m19 0h0m5 0h0m0 0h0m26 0h0m1 0h0m12 0h0m5 0h0m5 0h0m16 0h0m36 0h0m147 0h0m13 0h0m12 0h0m1 0h0m8 0h0m29 0h0m17 0h0m23 0h0m7 0h0m50 0h0m22 0h0m33 0h0m8 0h0m5 0h0m16 0h0m38 0h0m10 0h0m11 0h0m0 0h0m14 0h0m18 0h0m225 0h0m-973 1h0m1 0h0m4 0h0m9 0h0m6 0h0m1 0h0m2 0h0m14 0h0m4 0h0m3 0h0m9 0h0m4 0h0m2 0h0m1 0h0m21 0h0m5 0h0m3 0h0m5 0h0m9 0h0m1 0h0m9 0h0m2 0h0m6 0h0m1 0h0m1 0h0m7 0h0m5 0h0m2 0h0m1 0h0m3 0h0m49 0h0m3 0h0m1 0h0m15 0h0m23 0h0m7 0h0m12 0h0m5 0h0m20 0h0m52 0h0m13 0h0m46 0h0m57 0h0m23 0h0m26 0h0m25 0h0m1 0h0m1 0h0m20 0h0m37 0h0m17 0h0m3 0h0m66 0h0m40 0h0m32 0h0m-734 1h0m1 0h0m0 0h0m2 0h0m3 0h0m8 0h0m3 0h0m42 0h0m21 0h0m14 0h0m9 0h0m19 0h0m6 0h0m43 0h0m14 0h0m7 0h0m12 0h0m27 0h0m6 0h0m22 0h0m11 0h0m3 0h0m3 0h0m15 0h0m37 0h0m3 0h0m53 0h0m19 0h0m4 0h0m19 0h0m37 0h0m8 0h0m31 0h0m45 0h0m84 0h0m9 0h0m16 0h0m11 0h0m7 0h0m22 0h0m8 0h0m15 0h0m5 0h0m-724 1h0m11 0h0m1 0h0m5 0h0m2 0h0m0 0h0m2 0h0m3 0h0m7 0h0m8 0h0m1 0h0m7 0h0m3 0h0m5 0h0m4 0h0m61 0h0m19 0h0m39 0h0m3 0h0m15 0h0m12 0h0m29 0h0m3 0h0m3 0h0m3 0h0m24 0h0m7 0h0m78 0h0m37 0h0m27 0h0m27 0h0m1 0h0m38 0h0m11 0h0m24 0h0m23 0h0m26 0h0m7 0h0m14 0h0m23 0h0m51 0h0m12 0h0m377 0h0m-1040 1h0m1 0h0m0 0h0m4 0h0m10 0h0m3 0h0m12 0h0m3 0h0m1 0h0m3 0h0m0 0h0m6 0h0m2 0h0m5 0h0m1 0h0m0 0h0m13 0h0m4 0h0m6 0h0m2 0h0m0 0h0m3 0h0m21 0h0m15 0h0m0 0h0m5 0h0m22 0h0m1 0h0m21 0h0m10 0h0m16 0h0m14 0h0m17 0h0m5 0h0m5 0h0m8 0h0m10 0h0m11 0h0m17 0h0m16 0h0m11 0h0m7 0h0m9 0h0m110 0h0m119 0h0m7 0h0m4 0h0m52 0h0m14 0h0m68 0h0m3 0h0m30 0h0m6 0h0m329 0h0m73 0h0m-1144 1h0m4 0h0m4 0h0m9 0h0m4 0h0m6 0h0m4 0h0m8 0h0m1 0h0m8 0h0m2 0h0m5 0h0m1 0h0m18 0h0m17 0h0m2 0h0m2 0h0m9 0h0m3 0h0m17 0h0m44 0h0m2 0h0m12 0h0m0 0h0m25 0h0m44 0h0m10 0h0m0 0h0m62 0h0m68 0h0m12 0h0m11 0h0m1 0h0m22 0h0m19 0h0m36 0h0m5 0h0m2 0h0m1 0h0m13 0h0m2 0h0m50 0h0m47 0h0m91 0h0m39 0h0m-731 1h0m12 0h0m3 0h0m6 0h0m2 0h0m0 0h0m9 0h0m3 0h0m5 0h0m2 0h0m2 0h0m41 0h0m39 0h0m33 0h0m0 0h0m38 0h0m4 0h0m27 0h0m5 0h0m20 0h0m3 0h0m2 0h0m0 0h0m17 0h0m1 0h0m29 0h0m3 0h0m64 0h0m17 0h0m9 0h0m5 0h0m7 0h0m5 0h0m8 0h0m5 0h0m24 0h0m12 0h0m3 0h0m10 0h0m1 0h0m22 0h0m30 0h0m35 0h0m3 0h0m12 0h0m3 0h0m46 0h0m0 0h0m13 0h0m41 0h0m35 0h0m17 0h0m3 0h0m-748 1h0m0 0h0m0 0h0m2 0h0m6 0h0m4 0h0m1 0h0m3 0h0m0 0h0m1 0h0m1 0h0m8 0h0m4 0h0m4 0h0m2 0h0m2 0h0m9 0h0m0 0h0m8 0h0m2 0h0m35 0h0m32 0h0m27 0h0m1 0h0m0 0h0m14 0h0m21 0h0m24 0h0m23 0h0m5 0h0m2 0h0m3 0h0m9 0h0m66 0h0m0 0h0m23 0h0m12 0h0m38 0h0m18 0h0m2 0h0m18 0h0m13 0h0m57 0h0m2 0h0m11 0h0m71 0h0m6 0h0m4 0h0m2 0h0m21 0h0m13 0h0m35 0h0m47 0h0m31 0h0m-741 1h0m6 0h0m0 0h0m6 0h0m1 0h0m1 0h0m2 0h0m1 0h0m7 0h0m4 0h0m2 0h0m9 0h0m5 0h0m2 0h0m4 0h0m1 0h0m7 0h0m21 0h0m16 0h0m15 0h0m0 0h0m2 0h0m3 0h0m4 0h0m6 0h0m11 0h0m36 0h0m30 0h0m5 0h0m25 0h0m10 0h0m3 0h0m12 0h0m10 0h0m6 0h0m66 0h0m46 0h0m19 0h0m12 0h0m47 0h0m17 0h0m34 0h0m45 0h0m37 0h0m22 0h0m66 0h0m3 0h0m5 0h0m13 0h0m14 0h0m19 0h0m-743 1h0m0 0h0m1 0h0m2 0h0m3 0h0m4 0h0m6 0h0m4 0h0m4 0h0m0 0h0m20 0h0m2 0h0m2 0h0m1 0h0m0 0h0m0 0h0m2 0h0m6 0h0m3 0h0m2 0h0m18 0h0m48 0h0m8 0h0m29 0h0m5 0h0m1 0h0m11 0h0m33 0h0m20 0h0m16 0h0m9 0h0m8 0h0m8 0h0m7 0h0m68 0h0m4 0h0m4 0h0m38 0h0m13 0h0m15 0h0m36 0h0m34 0h0m6 0h0m16 0h0m68 0h0m8 0h0m50 0h0m102 0h0m107 0h0m-838 1h0m8 0h0m4 0h0m16 0h0m4 0h0m12 0h0m3 0h0m1 0h0m15 0h0m10 0h0m1 0h0m5 0h0m3 0h0m6 0h0m8 0h0m2 0h0m2 0h0m13 0h0m5 0h0m46 0h0m10 0h0m4 0h0m14 0h0m52 0h0m12 0h0m4 0h0m5 0h0m9 0h0m52 0h0m7 0h0m41 0h0m7 0h0m6 0h0m17 0h0m4 0h0m17 0h0m0 0h0m53 0h0m104 0h0m56 0h0m36 0h0m11 0h0m3 0h0m16 0h0m17 0h0m11 0h0m-744 1h0m6 0h0m5 0h0m3 0h0m1 0h0m15 0h0m12 0h0m9 0h0m2 0h0m4 0h0m22 0h0m4 0h0m15 0h0m7 0h0m2 0h0m17 0h0m8 0h0m23 0h0m9 0h0m3 0h0m6 0h0m14 0h0m10 0h0m42 0h0m15 0h0m11 0h0m17 0h0m5 0h0m37 0h0m64 0h0m23 0h0m11 0h0m6 0h0m2 0h0m29 0h0m28 0h0m55 0h0m0 0h0m71 0h0m83 0h0m21 0h0m20 0h0m238 0h0m-969 1h0m2 0h0m4 0h0m14 0h0m5 0h0m3 0h0m8 0h0m8 0h0m0 0h0m4 0h0m1 0h0m0 0h0m2 0h0m4 0h0m25 0h0m8 0h0m8 0h0m8 0h0m10 0h0m12 0h0m104 0h0m23 0h0m1 0h0m2 0h0m45 0h0m80 0h0m1 0h0m119 0h0m1 0h0m14 0h0m25 0h0m100 0h0m40 0h0m20 0h0m23 0h0m-728 1h0m10 0h0m6 0h0m1 0h0m2 0h0m6 0h0m1 0h0m7 0h0m3 0h0m0 0h0m3 0h0m5 0h0m4 0h0m1 0h0m3 0h0m3 0h0m2 0h0m35 0h0m8 0h0m9 0h0m6 0h0m7 0h0m1 0h0m1 0h0m2 0h0m3 0h0m1 0h0m60 0h0m2 0h0m2 0h0m8 0h0m31 0h0m15 0h0m8 0h0m31 0h0m1 0h0m14 0h0m40 0h0m10 0h0m32 0h0m17 0h0m4 0h0m2 0h0m3 0h0m3 0h0m6 0h0m10 0h0m2 0h0m11 0h0m1 0h0m19 0h0m13 0h0m27 0h0m31 0h0m196 0h0m224 0h0m-951 1h0m2 0h0m0 0h0m1 0h0m1 0h0m0 0h0m3 0h0m3 0h0m12 0h0m3 0h0m6 0h0m2 0h0m2 0h0m8 0h0m2 0h0m8 0h0m0 0h0m2 0h0m3 0h0m20 0h0m11 0h0m11 0h0m1 0h0m6 0h0m1 0h0m43 0h0m4 0h0m30 0h0m4 0h0m7 0h0m32 0h0m5 0h0m6 0h0m2 0h0m9 0h0m2 0h0m21 0h0m7 0h0m34 0h0m63 0h0m6 0h0m2 0h0m20 0h0m23 0h0m2 0h0m1 0h0m0 0h0m32 0h0m4 0h0m9 0h0m1 0h0m2 0h0m10 0h0m138 0h0m64 0h0m29 0h0m-726 1h0m2 0h0m17 0h0m7 0h0m5 0h0m5 0h0m8 0h0m0 0h0m1 0h0m5 0h0m11 0h0m15 0h0m17 0h0m10 0h0m15 0h0m4 0h0m35 0h0m11 0h0m41 0h0m23 0h0m13 0h0m0 0h0m14 0h0m8 0h0m4 0h0m35 0h0m25 0h0m13 0h0m4 0h0m8 0h0m2 0h0m12 0h0m30 0h0m2 0h0m0 0h0m18 0h0m61 0h0m18 0h0m13 0h0m47 0h0m3 0h0m25 0h0m33 0h0m43 0h0m45 0h0m4 0h0m35 0h0m-745 1h0m10 0h0m8 0h0m1 0h0m2 0h0m10 0h0m27 0h0m25 0h0m11 0h0m8 0h0m3 0h0m28 0h0m18 0h0m8 0h0m2 0h0m4 0h0m9 0h0m10 0h0m6 0h0m49 0h0m12 0h0m5 0h0m89 0h0m9 0h0m3 0h0m39 0h0m27 0h0m20 0h0m2 0h0m36 0h0m5 0h0m2 0h0m5 0h0m20 0h0m45 0h0m25 0h0m29 0h0m58 0h0m71 0h0m7 0h0m229 0h0m-978 1h0m3 0h0m0 0h0m2 0h0m0 0h0m2 0h0m5 0h0m1 0h0m13 0h0m2 0h0m1 0h0m8 0h0m0 0h0m13 0h0m8 0h0m19 0h0m0 0h0m2 0h0m7 0h0m14 0h0m8 0h0m9 0h0m7 0h0m7 0h0m41 0h0m2 0h0m6 0h0m6 0h0m16 0h0m2 0h0m7 0h0m0 0h0m2 0h0m68 0h0m2 0h0m2 0h0m5 0h0m75 0h0m1 0h0m30 0h0m10 0h0m4 0h0m1 0h0m28 0h0m6 0h0m40 0h0m20 0h0m30 0h0m13 0h0m67 0h0m28 0h0m49 0h0m2 0h0m12 0h0m3 0h0m2 0h0m8 0h0m17 0h0m214 0h0m-952 1h0m8 0h0m11 0h0m2 0h0m2 0h0m13 0h0m0 0h0m1 0h0m4 0h0m7 0h0m2 0h0m5 0h0m1 0h0m31 0h0m2 0h0m2 0h0m30 0h0m8 0h0m0 0h0m3 0h0m1 0h0m6 0h0m31 0h0m3 0h0m7 0h0m9 0h0m1 0h0m1 0h0m1 0h0m1 0h0m7 0h0m5 0h0m54 0h0m8 0h0m19 0h0m68 0h0m37 0h0m16 0h0m32 0h0m65 0h0m20 0h0m26 0h0m14 0h0m58 0h0m-609 1h0m1 0h0m2 0h0m1 0h0m1 0h0m2 0h0m11 0h0m7 0h0m4 0h0m5 0h0m12 0h0m24 0h0m3 0h0m4 0h0m1 0h0m2 0h0m2 0h0m15 0h0m3 0h0m8 0h0m4 0h0m57 0h0m13 0h0m100 0h0m18 0h0m41 0h0m29 0h0m8 0h0m13 0h0m29 0h0m6 0h0m47 0h0m88 0h0m15 0h0m36 0h0m36 0h0m44 0h0m20 0h0m12 0h0m14 0h0m-739 1h0m2 0h0m0 0h0m5 0h0m3 0h0m2 0h0m0 0h0m2 0h0m31 0h0m0 0h0m4 0h0m2 0h0m15 0h0m60 0h0m43 0h0m10 0h0m5 0h0m8 0h0m9 0h0m19 0h0m4 0h0m21 0h0m13 0h0m14 0h0m66 0h0m51 0h0m11 0h0m3 0h0m2 0h0m0 0h0m18 0h0m106 0h0m50 0h0m45 0h0m73 0h0m5 0h0m23 0h0m-733 1h0m5 0h0m7 0h0m5 0h0m1 0h0m3 0h0m2 0h0m1 0h0m0 0h0m16 0h0m1 0h0m9 0h0m8 0h0m19 0h0m4 0h0m12 0h0m28 0h0m8 0h0m2 0h0m6 0h0m13 0h0m9 0h0m6 0h0m1 0h0m11 0h0m22 0h0m34 0h0m25 0h0m9 0h0m2 0h0m3 0h0m94 0h0m33 0h0m16 0h0m27 0h0m20 0h0m77 0h0m23 0h0m22 0h0m39 0h0m81 0h0m410 0h0m-1114 1h0m1 0h0m1 0h0m1 0h0m1 0h0m3 0h0m2 0h0m1 0h0m1 0h0m9 0h0m0 0h0m5 0h0m10 0h0m4 0h0m8 0h0m1 0h0m13 0h0m13 0h0m6 0h0m13 0h0m8 0h0m30 0h0m38 0h0m0 0h0m5 0h0m3 0h0m4 0h0m6 0h0m1 0h0m11 0h0m38 0h0m31 0h0m22 0h0m97 0h0m7 0h0m8 0h0m11 0h0m45 0h0m156 0h0m58 0h0m58 0h0m13 0h0m5 0h0m181 0h0m-929 1h0m4 0h0m9 0h0m8 0h0m6 0h0m4 0h0m12 0h0m4 0h0m5 0h0m8 0h0m27 0h0m6 0h0m11 0h0m12 0h0m14 0h0m1 0h0m24 0h0m14 0h0m1 0h0m5 0h0m0 0h0m3 0h0m5 0h0m13 0h0m1 0h0m34 0h0m32 0h0m8 0h0m7 0h0m10 0h0m18 0h0m0 0h0m23 0h0m57 0h0m47 0h0m24 0h0m14 0h0m34 0h0m3 0h0m44 0h0m45 0h0m39 0h0m13 0h0m2 0h0m23 0h0m32 0h0m36 0h0m251 0h0m37 0h0m-1030 1h0m11 0h0m2 0h0m6 0h0m26 0h0m4 0h0m41 0h0m3 0h0m15 0h0m19 0h0m1 0h0m0 0h0m32 0h0m1 0h0m1 0h0m33 0h0m12 0h0m6 0h0m1 0h0m12 0h0m8 0h0m9 0h0m11 0h0m17 0h0m5 0h0m3 0h0m100 0h0m3 0h0m1 0h0m2 0h0m29 0h0m5 0h0m10 0h0m110 0h0m21 0h0m17 0h0m12 0h0m26 0h0m28 0h0m48 0h0m-691 1h0m1 0h0m13 0h0m4 0h0m6 0h0m4 0h0m13 0h0m7 0h0m6 0h0m2 0h0m0 0h0m1 0h0m16 0h0m59 0h0m6 0h0m20 0h0m12 0h0m5 0h0m8 0h0m3 0h0m6 0h0m3 0h0m40 0h0m4 0h0m14 0h0m13 0h0m37 0h0m32 0h0m8 0h0m58 0h0m4 0h0m3 0h0m6 0h0m8 0h0m15 0h0m20 0h0m21 0h0m1 0h0m62 0h0m25 0h0m96 0h0m49 0h0m10 0h0m18 0h0m1 0h0m10 0h0m-752 1h0m19 0h0m3 0h0m6 0h0m11 0h0m7 0h0m2 0h0m4 0h0m1 0h0m7 0h0m2 0h0m55 0h0m19 0h0m17 0h0m5 0h0m3 0h0m1 0h0m10 0h0m31 0h0m28 0h0m4 0h0m15 0h0m4 0h0m1 0h0m2 0h0m12 0h0m13 0h0m3 0h0m114 0h0m16 0h0m4 0h0m4 0h0m22 0h0m77 0h0m31 0h0m170 0h0m2 0h0m12 0h0m519 0h0m-1252 1h0m4 0h0m9 0h0m4 0h0m3 0h0m5 0h0m4 0h0m1 0h0m1 0h0m7 0h0m3 0h0m0 0h0m0 0h0m7 0h0m4 0h0m25 0h0m13 0h0m7 0h0m0 0h0m10 0h0m28 0h0m34 0h0m3 0h0m18 0h0m58 0h0m4 0h0m4 0h0m4 0h0m16 0h0m9 0h0m22 0h0m13 0h0m6 0h0m21 0h0m46 0h0m1 0h0m92 0h0m9 0h0m2 0h0m8 0h0m37 0h0m2 0h0m88 0h0m9 0h0m47 0h0m15 0h0m11 0h0m-715 1h0m2 0h0m1 0h0m7 0h0m32 0h0m2 0h0m1 0h0m1 0h0m0 0h0m4 0h0m10 0h0m45 0h0m2 0h0m1 0h0m21 0h0m37 0h0m1 0h0m0 0h0m31 0h0m7 0h0m2 0h0m23 0h0m2 0h0m24 0h0m10 0h0m8 0h0m4 0h0m2 0h0m4 0h0m63 0h0m49 0h0m6 0h0m5 0h0m6 0h0m102 0h0m47 0h0m3 0h0m68 0h0m13 0h0m48 0h0m12 0h0m10 0h0m5 0h0m-724 1h0m1 0h0m4 0h0m24 0h0m1 0h0m3 0h0m1 0h0m5 0h0m0 0h0m6 0h0m4 0h0m2 0h0m4 0h0m5 0h0m0 0h0m1 0h0m23 0h0m8 0h0m5 0h0m4 0h0m5 0h0m2 0h0m28 0h0m4 0h0m22 0h0m3 0h0m0 0h0m5 0h0m11 0h0m1 0h0m10 0h0m4 0h0m12 0h0m5 0h0m19 0h0m0 0h0m30 0h0m4 0h0m3 0h0m12 0h0m2 0h0m2 0h0m43 0h0m20 0h0m15 0h0m23 0h0m4 0h0m10 0h0m26 0h0m15 0h0m2 0h0m2 0h0m28 0h0m6 0h0m108 0h0m80 0h0m23 0h0m46 0h0m-728 1h0m0 0h0m1 0h0m0 0h0m5 0h0m19 0h0m2 0h0m0 0h0m6 0h0m9 0h0m1 0h0m48 0h0m2 0h0m13 0h0m19 0h0m3 0h0m19 0h0m7 0h0m41 0h0m0 0h0m5 0h0m35 0h0m6 0h0m16 0h0m22 0h0m1 0h0m57 0h0m37 0h0m11 0h0m17 0h0m34 0h0m66 0h0m216 0h0m-719 1h0m5 0h0m4 0h0m3 0h0m4 0h0m26 0h0m0 0h0m1 0h0m0 0h0m3 0h0m24 0h0m11 0h0m7 0h0m14 0h0m27 0h0m27 0h0m13 0h0m24 0h0m14 0h0m25 0h0m19 0h0m6 0h0m20 0h0m3 0h0m26 0h0m43 0h0m6 0h0m68 0h0m4 0h0m135 0h0m92 0h0m63 0h0m6 0h0m23 0h0m320 0h0m-1070 1h0m6 0h0m1 0h0m1 0h0m1 0h0m11 0h0m3 0h0m6 0h0m5 0h0m10 0h0m6 0h0m4 0h0m2 0h0m0 0h0m17 0h0m6 0h0m4 0h0m9 0h0m9 0h0m8 0h0m0 0h0m53 0h0m9 0h0m66 0h0m9 0h0m13 0h0m4 0h0m14 0h0m80 0h0m4 0h0m6 0h0m29 0h0m47 0h0m29 0h0m40 0h0m39 0h0m62 0h0m105 0h0m17 0h0m-740 1h0m15 0h0m3 0h0m9 0h0m10 0h0m5 0h0m1 0h0m2 0h0m1 0h0m3 0h0m11 0h0m1 0h0m3 0h0m38 0h0m6 0h0m7 0h0m21 0h0m5 0h0m48 0h0m2 0h0m23 0h0m42 0h0m96 0h0m33 0h0m8 0h0m1 0h0m33 0h0m8 0h0m35 0h0m41 0h0m49 0h0m153 0h0m228 0h0m-939 1h0m3 0h0m3 0h0m7 0h0m29 0h0m11 0h0m7 0h0m38 0h0m2 0h0m5 0h0m19 0h0m15 0h0m28 0h0m14 0h0m18 0h0m45 0h0m20 0h0m64 0h0m64 0h0m34 0h0m38 0h0m9 0h0m1 0h0m1 0h0m70 0h0m52 0h0m30 0h0m313 0h0m8 0h0m-947 1h0m6 0h0m4 0h0m16 0h0m2 0h0m7 0h0m18 0h0m2 0h0m42 0h0m19 0h0m3 0h0m35 0h0m4 0h0m2 0h0m13 0h0m1 0h0m17 0h0m12 0h0m1 0h0m10 0h0m0 0h0m40 0h0m18 0h0m1 0h0m35 0h0m15 0h0m27 0h0m68 0h0m3 0h0m2 0h0m44 0h0m221 0h0m19 0h0m41 0h0m132 0h0m376 0h0m-1255 1h0m21 0h0m0 0h0m2 0h0m14 0h0m3 0h0m2 0h0m4 0h0m38 0h0m20 0h0m12 0h0m15 0h0m20 0h0m17 0h0m15 0h0m26 0h0m27 0h0m17 0h0m64 0h0m10 0h0m16 0h0m19 0h0m26 0h0m18 0h0m28 0h0m6 0h0m20 0h0m186 0h0m289 0h0m8 0h0m-943 1h0m9 0h0m0 0h0m1 0h0m11 0h0m4 0h0m8 0h0m2 0h0m2 0h0m2 0h0m10 0h0m3 0h0m5 0h0m0 0h0m18 0h0m20 0h0m15 0h0m12 0h0m2 0h0m28 0h0m11 0h0m0 0h0m6 0h0m0 0h0m26 0h0m9 0h0m5 0h0m24 0h0m1 0h0m5 0h0m10 0h0m10 0h0m6 0h0m24 0h0m2 0h0m34 0h0m23 0h0m34 0h0m5 0h0m5 0h0m6 0h0m27 0h0m17 0h0m73 0h0m124 0h0m19 0h0m60 0h0m4 0h0m16 0h0m3 0h0m-744 1h0m0 0h0m1 0h0m12 0h0m1 0h0m1 0h0m15 0h0m8 0h0m1 0h0m5 0h0m49 0h0m2 0h0m12 0h0m4 0h0m25 0h0m21 0h0m36 0h0m37 0h0m5 0h0m26 0h0m31 0h0m127 0h0m9 0h0m112 0h0m17 0h0m17 0h0m8 0h0m14 0h0m68 0h0m46 0h0m7 0h0m15 0h0m19 0h0m37 0h0m81 0h0m-865 1h0m3 0h0m42 0h0m8 0h0m3 0h0m34 0h0m15 0h0m55 0h0m1 0h0m22 0h0m2 0h0m5 0h0m39 0h0m34 0h0m54 0h0m16 0h0m52 0h0m2 0h0m27 0h0m1 0h0m100 0h0m20 0h0m78 0h0m9 0h0m48 0h0m18 0h0m284 0h0m120 0h0m11 0h0m-1090 1h0m9 0h0m11 0h0m8 0h0m12 0h0m0 0h0m1 0h0m51 0h0m13 0h0m7 0h0m7 0h0m44 0h0m3 0h0m11 0h0m41 0h0m38 0h0m40 0h0m1 0h0m36 0h0m40 0h0m9 0h0m5 0h0m1 0h0m7 0h0m107 0h0m173 0h0m22 0h0m0 0h0m5 0h0m218 0h0m-935 1h0m2 0h0m3 0h0m2 0h0m0 0h0m5 0h0m6 0h0m3 0h0m3 0h0m16 0h0m2 0h0m9 0h0m3 0h0m1 0h0m0 0h0m23 0h0m14 0h0m4 0h0m2 0h0m2 0h0m16 0h0m20 0h0m3 0h0m39 0h0m23 0h0m26 0h0m50 0h0m2 0h0m6 0h0m27 0h0m8 0h0m37 0h0m64 0h0m51 0h0m-474 1h0m9 0h0m0 0h0m8 0h0m18 0h0m4 0h0m6 0h0m1 0h0m1 0h0m6 0h0m3 0h0m2 0h0m5 0h0m15 0h0m13 0h0m110 0h0m10 0h0m0 0h0m4 0h0m20 0h0m31 0h0m50 0h0m1 0h0m77 0h0m12 0h0m1 0h0m6 0h0m24 0h0m6 0h0m2 0h0m59 0h0m232 0h0m-723 1h0m1 0h0m5 0h0m3 0h0m4 0h0m4 0h0m2 0h0m2 0h0m2 0h0m7 0h0m8 0h0m31 0h0m18 0h0m9 0h0m8 0h0m6 0h0m13 0h0m2 0h0m25 0h0m13 0h0m4 0h0m26 0h0m59 0h0m26 0h0m39 0h0m56 0h0m52 0h0m45 0h0m4 0h0m2 0h0m97 0h0m81 0h0m41 0h0m157 0h0m76 0h0m-936 1h0m1 0h0m1 0h0m2 0h0m2 0h0m13 0h0m6 0h0m4 0h0m0 0h0m1 0h0m3 0h0m1 0h0m2 0h0m2 0h0m3 0h0m1 0h0m2 0h0m72 0h0m34 0h0m8 0h0m19 0h0m60 0h0m0 0h0m27 0h0m44 0h0m20 0h0m0 0h0m6 0h0m22 0h0m65 0h0m71 0h0m143 0h0m61 0h0m-700 1h0m3 0h0m0 0h0m2 0h0m11 0h0m10 0h0m2 0h0m2 0h0m2 0h0m0 0h0m10 0h0m6 0h0m12 0h0m42 0h0m32 0h0m6 0h0m55 0h0m5 0h0m8 0h0m5 0h0m54 0h0m8 0h0m30 0h0m6 0h0m44 0h0m50 0h0m3 0h0m1 0h0m63 0h0m18 0h0m68 0h0m24 0h0m-580 1h0m5 0h0m10 0h0m10 0h0m1 0h0m10 0h0m10 0h0m12 0h0m18 0h0m15 0h0m12 0h0m105 0h0m51 0h0m30 0h0m19 0h0m131 0h0m71 0h0m222 0h0m-733 1h0m6 0h0m1 0h0m0 0h0m1 0h0m0 0h0m12 0h0m3 0h0m3 0h0m6 0h0m4 0h0m16 0h0m57 0h0m0 0h0m55 0h0m19 0h0m105 0h0m23 0h0m25 0h0m92 0h0m94 0h0m28 0h0m152 0h0m27 0h0m6 0h0m11 0h0m55 0h0m362 0h0m-1162 1h0m6 0h0m10 0h0m4 0h0m4 0h0m5 0h0m3 0h0m9 0h0m11 0h0m2 0h0m20 0h0m10 0h0m6 0h0m26 0h0m44 0h0m125 0h0m39 0h0m21 0h0m59 0h0m3 0h0m4 0h0m24 0h0m60 0h0m24 0h0m111 0h0m314 0h0m-943 1h0m7 0h0m6 0h0m3 0h0m16 0h0m14 0h0m7 0h0m22 0h0m15 0h0m12 0h0m70 0h0m29 0h0m7 0h0m3 0h0m111 0h0m67 0h0m47 0h0m23 0h0m14 0h0m15 0h0m21 0h0m6 0h0m130 0h0m98 0h0m214 0h0m-952 1h0m4 0h0m3 0h0m0 0h0m4 0h0m13 0h0m6 0h0m3 0h0m3 0h0m3 0h0m5 0h0m8 0h0m30 0h0m2 0h0m6 0h0m3 0h0m1 0h0m5 0h0m54 0h0m77 0h0m46 0h0m76 0h0m31 0h0m5 0h0m4 0h0m343 0h0m-743 1h0m8 0h0m8 0h0m6 0h0m15 0h0m1 0h0m8 0h0m0 0h0m3 0h0m39 0h0m8 0h0m7 0h0m8 0h0m16 0h0m83 0h0m26 0h0m36 0h0m85 0h0m5 0h0m29 0h0m31 0h0m121 0h0m150 0h0m21 0h0m-696 1h0m4 0h0m2 0h0m4 0h0m10 0h0m12 0h0m10 0h0m3 0h0m33 0h0m4 0h0m33 0h0m1 0h0m70 0h0m29 0h0m119 0h0m119 0h0m21 0h0m23 0h0m419 0h0m-936 1h0m1 0h0m14 0h0m6 0h0m4 0h0m2 0h0m1 0h0m4 0h0m10 0h0m16 0h0m4 0h0m2 0h0m49 0h0m43 0h0m23 0h0m97 0h0m89 0h0m1 0h0m73 0h0m63 0h0m19 0h0m152 0h0m35 0h0m-706 1h0m1 0h0m3 0h0m3 0h0m9 0h0m3 0h0m0 0h0m16 0h0m6 0h0m3 0h0m2 0h0m0 0h0m45 0h0m69 0h0m6 0h0m7 0h0m143 0h0m20 0h0m17 0h0m7 0h0m41 0h0m-391 1h0m6 0h0m1 0h0m14 0h0m4 0h0m83 0h0m122 0h0m35 0h0m12 0h0m39 0h0m149 0h0m-474 1h0m0 0h0m1 0h0m5 0h0m14 0h0m1 0h0m2 0h0m6 0h0m3 0h0m65 0h0m37 0h0m70 0h0m67 0h0m70 0h0m72 0h0m53 0h0m110 0h0m368 0h0m70 0h0m-1004 1h0m3 0h0m21 0h0m7 0h0m9 0h0m3 0h0m1 0h0m58 0h0m3 0h0m155 0h0m36 0h0m423 0h0m20 0h0m-745 1h0m24 0h0m0 0h0m16 0h0m4 0h0m0 0h0m3 0h0m1 0h0m3 0h0m2 0h0m2 0h0m1 0h0m59 0h0m38 0h0m12 0h0m1 0h0m26 0h0m70 0h0m15 0h0m52 0h0m9 0h0m4 0h0m41 0h0m123 0h0m6 0h0m106 0h0m226 0h0m77 0h0m-906 1h0m5 0h0m17 0h0m5 0h0m4 0h0m1 0h0m29 0h0m1 0h0m4 0h0m32 0h0m39 0h0m47 0h0m57 0h0m23 0h0m84 0h0m74 0h0m186 0h0m74 0h0m20 0h0m204 0h0m-910 1h0m21 0h0m3 0h0m37 0h0m2 0h0m17 0h0m91 0h0m51 0h0m45 0h0m41 0h0m30 0h0m7 0h0m106 0h0m130 0h0m140 0h0m-733 1h0m8 0h0m5 0h0m11 0h0m12 0h0m19 0h0m28 0h0m28 0h0m16 0h0m28 0h0m159 0h0m320 0h0m108 0h0m211 0h0m-949 1h0m1 0h0m2 0h0m6 0h0m12 0h0m2 0h0m10 0h0m13 0h0m23 0h0m21 0h0m78 0h0m15 0h0m16 0h0m5 0h0m51 0h0m125 0h0m278 0h0m72 0h0m138 0h0m205 0h0m-1072 1h0m5 0h0m33 0h0m11 0h0m36 0h0m17 0h0m11 0h0m2 0h0m16 0h0m11 0h0m20 0h0m1 0h0m78 0h0m71 0h0m40 0h0m5 0h0m31 0h0m-396 1h0m13 0h0m1 0h0m35 0h0m1 0h0m35 0h0m40 0h0m0 0h0m70 0h0m6 0h0m29 0h0m106 0h0m77 0h0m-399 1h0m17 0h0m9 0h0m5 0h0m79 0h0m10 0h0m1 0h0m19 0h0m42 0h0m82 0h0m7 0h0m37 0h0m2 0h0m75 0h0m81 0h0m211 0h0m52 0h0m-740 1h0m7 0h0m15 0h0m21 0h0m1 0h0m46 0h0m11 0h0m149 0h0m53 0h0m7 0h0m76 0h0m18 0h0m111 0h0m219 0h0m-697 1h0m0 0h0m7 0h0m2 0h0m26 0h0m17 0h0m45 0h0m77 0h0m28 0h0m82 0h0m151 0h0m41 0h0m196 0h0m-710 1h0m16 0h0m16 0h0m24 0h0m1 0h0m70 0h0m25 0h0m48 0h0m67 0h0m16 0h0m21 0h0m6 0h0m10 0h0m7 0h0m1 0h0m10 0h0m5 0h0m7 0h0m120 0h0m455 0h0m-923 1h0m4 0h0m9 0h0m1 0h0m0 0h0m12 0h0m2 0h0m1 0h0m60 0h0m2 0h0m4 0h0m5 0h0m21 0h0m85 0h0m106 0h0m6 0h0m63 0h0m47 0h0m30 0h0m5 0h0m126 0h0m134 0h0m-723 1h0m0 0h0m7 0h0m8 0h0m1 0h0m5 0h0m5 0h0m5 0h0m50 0h0m28 0h0m14 0h0m6 0h0m34 0h0m37 0h0m86 0h0m26 0h0m4 0h0m13 0h0m1 0h0m19 0h0m7 0h0m45 0h0m343 0h0m-741 1h0m4 0h0m13 0h0m8 0h0m161 0h0m80 0h0m60 0h0m71 0h0m307 0h0m570 0h0m-1283 1h0m1 0h0m5 0h0m2 0h0m21 0h0m14 0h0m4 0h0m39 0h0m128 0h0m129 0h0m227 0h0m-564 1h0m2 0h0m19 0h0m11 0h0m4 0h0m5 0h0m71 0h0m11 0h0m74 0h0m28 0h0m75 0h0m10 0h0m35 0h0m34 0h0m58 0h0m-443 1h0m20 0h0m3 0h0m17 0h0m3 0h0m19 0h0m2 0h0m75 0h0m57 0h0m218 0h0m19 0h0m-433 1h0m41 0h0m63 0h0m172 0h0m68 0h0m299 0h0m48 0h0m-684 1h0m0 0h0m6 0h0m16 0h0m4 0h0m5 0h0m160 0h0m206 0h0m40 0h0m525 0h0m-967 1h0m22 0h0m7 0h0m3 0h0m4 0h0m15 0h0m72 0h0m15 0h0m44 0h0m134 0h0m274 0h0m74 0h0m5 0h0m-628 1h0m12 0h0m21 0h0m83 0h0m23 0h0m22 0h0m103 0h0m7 0h0m24 0h0m14 0h0m31 0h0m85 0h0m149 0h0m95 0h0m-688 1h0m0 0h0m73 0h0m117 0h0m139 0h0m7 0h0m1 0h0m81 0h0m264 0h0m-670 1h0m22 0h0m1 0h0m6 0h0m135 0h0m129 0h0m81 0h0m483 0h0m183 0h0m-1071 1h0m31 0h0m83 0h0m12 0h0m147 0h0m34 0h0m18 0h0m169 0h0m123 0h0m97 0h0m-716 1h0m11 0h0m12 0h0m11 0h0m9 0h0m65 0h0m76 0h0m153 0h0m365 0h0m-684 1h0m27 0h0m9 0h0m7 0h0m25 0h0m77 0h0m42 0h0m41 0h0m57 0h0m35 0h0m21 0h0m83 0h0m144 0h0m-580 1h0m8 0h0m39 0h0m26 0h0m27 0h0m12 0h0m94 0h0m113 0h0m87 0h0m-416 1h0m42 0h0m6 0h0m2 0h0m10 0h0m47 0h0m18 0h0m54 0h0m37 0h0m124 0h0m15 0h0m515 0h0m9 0h0m-874 1h0m31 0h0m60 0h0m299 0h0m150 0h0m401 0h0m-945 1h0m102 0h0m91 0h0m236 0h0m275 0h0m224 0h0m-825 1h0m176 0h0m-263 1h0m-8 1h0m20 0h0m174 0h0m111 0h0m87 0h0m257 0h0m279 0h0m-872 1h0m29 0h0m193 0h0m77 0h0m106 0h0m50 0h0m435 0h0m-945 1h0m21 0h0m90 0h0m212 0h0m104 0h0m114 0h0m335 0h0m-867 1h0m6 0h0m36 0h0m40 0h0m94 0h0m139 0h0m38 0h0m207 0h0m307 0h0m-872 1h0m2 0h0m74 0h0m78 0h0m198 0h0m32 0h0m262 0h0m-652 1h0m2 0h0m322 0h0m33 0h0m42 0h0m86 0h0m-363 1h0m120 0h0m64 0h0m28 0h0m25 0h0m207 0h0m167 0h0m-738 1h0m9 0h0m5 0h0m2 0h0m46 0h0m133 0h0m18 0h0m151 0h0m39 0h0m7 0h0m205 0h0m347 0h0m-854 1h0m99 0h0m148 0h0m904 0h0m-1260 1h0m4 0h0m6 0h0m170 0h0m-181 1h0m6 0h0m45 0h0m140 0h0m689 0h0m-865 1h0m101 0h0m140 0h0m34 0h0m46 0h0m753 0h0m-1089 1h0m21 0h0m2 0h0m9 0h0m24 0h0m274 0h0m58 0h0m359 0h0m-689 1h0m27 0h0m23 0h0m241 0h0m17 0h0m1 0h0m45 0h0m238 0h0m-637 1h0m32 0h0m33 0h0m59 0h0m225 0h0m72 0h0m85 0h0m155 0h0m-652 1h0m9 0h0m61 0h0m15 0h0m92 0h0m118 0h0m319 0h0m-291 1h0m131 0h0m507 0h0m-966 1h0m14 1h0m5 0h0m13 0h0m1 0h0m84 0h0m196 0h0m192 0h0m361 0h0m-863 1h0m187 0h0m386 0h0m127 0h0m-146 1h0m-369 1h0m506 0h0m-664 1h0m658 0h0m-679 1h0m934 0h0m-700 1h0m72 0h0m181 0h0m-478 1h0m9 0h0m19 0h0m93 0h0m53 0h0m-169 1h0m230 0h0m-215 1h0m270 0h0m-298 1h0m64 1h0m231 0h0m626 0h0m-933 1h0m322 0h0m-291 1h0m139 0h0m-142 1h0m47 0h0m122 0h0m98 0h0m557 0h0m-848 1h0m69 0h0m269 0h0m131 0h0m-474 1h0m118 0h0m-80 1h0m9 0h0m29 0h0m79 0h0m-42 1h0m145 0h0m58 1h0m902 0h0m-921 1h0m-285 1h0m234 0h0m538 0h0m45 1h0m406 1h0m-781 1h0m-367 2h0m206 0h0m768 0h0m-67 1h0m-990 1h0m529 0h0m434 2h0m-965 1h0m769 1h0m140 7h0m194 0h0m-1012 4h0m75 0h0m-129 1h0m25 1h0m46 8h0m158 2h0m357 0h0m-452 1h0m223 1h0m185 0h0m325 67h0m5 0h0m13 0h0m0 0h0m1 0h0m0 0h0m1 0h0m1 0h0m1 0h0m5 0h0m1 0h0m11 0h0m1 0h0m9 0h0m34 0h0m0 0h0m7 0h0m9 0h0m3 0h0m0 0h0m6 0h0m1 0h0m14 0h0m2 0h0m6 0h0m1 0h0m4 0h0m2 0h0m38 0h0m8 0h0m7 0h0m3 0h0m5 0h0m11 0h0m5 0h0m89 0h0m8 0h0m13 0h0m3 0h0m2 0h0m4 0h0m14 0h0m1 0h0m12 0h0m6 0h0" stroke="#000" stroke-width="4.4" stroke-linecap="round" fill="none"/>
<path d="M97.6 40.5V452.3H754" fill="none" stroke="#000" stroke-width="2.6"/>
<path d="M82 439.9H98" stroke="#000" stroke-width="2.2"/>
<text x="76" y="450.8" font-size="31" text-anchor="end">0</text>
<path d="M82 328H98" stroke="#000" stroke-width="2.2"/>
<text x="76" y="338.9" font-size="31" text-anchor="end">1</text>
<path d="M82 216.1H98" stroke="#000" stroke-width="2.2"/>
<text x="76" y="227" font-size="31" text-anchor="end">2</text>
<path d="M82 104.2H98" stroke="#000" stroke-width="2.2"/>
<text x="76" y="115.1" font-size="31" text-anchor="end">3</text>
<text x="121" y="492" font-size="30" text-anchor="middle">0</text>
<text x="159.3" y="492" font-size="30" text-anchor="middle">1</text>
<text x="197.5" y="492" font-size="30" text-anchor="middle">2</text>
<text x="235.8" y="492" font-size="30" text-anchor="middle">3</text>
<text x="274.1" y="492" font-size="30" text-anchor="middle">4</text>
<text x="312.4" y="492" font-size="30" text-anchor="middle">5</text>
<text x="350.6" y="492" font-size="30" text-anchor="middle">6</text>
<text x="388.9" y="492" font-size="30" text-anchor="middle">7</text>
<text x="427.2" y="492" font-size="30" text-anchor="middle">8</text>
<text x="465.4" y="492" font-size="30" text-anchor="middle">9</text>
<text x="503.7" y="492" font-size="30" text-anchor="middle">10</text>
<text x="542" y="492" font-size="30" text-anchor="middle">11</text>
<text x="580.2" y="492" font-size="30" text-anchor="middle">12</text>
<text x="618.5" y="492" font-size="30" text-anchor="middle">13</text>
<text x="656.8" y="492" font-size="30" text-anchor="middle">14</text>
<text x="695.1" y="492" font-size="30" text-anchor="middle">15</text>
<text x="733.3" y="492" font-size="30" text-anchor="middle">16</text>
<text x="424.5" y="40.5" font-size="31.5" text-anchor="middle" font-style="italic">CD3E</text>
<text font-size="32" text-anchor="middle" transform="translate(44 254) rotate(-90)">Expression level</text>
<text transform="translate(2.4 35.2) scale(.93 1)" font-size="47.5" font-weight="bold">a</text>
</g>
<g id="pb">
<text x="873" y="35" font-size="47.5" font-weight="bold">b</text>
<rect x="946" y="33" width="58.5" height="179" fill="#C59900" stroke="#111" stroke-width="1"/>
<rect x="946" y="212" width="58.5" height="219.4" fill="#8CAB00" stroke="#111" stroke-width="1"/>
<rect x="946" y="431.4" width="58.5" height="19.8" fill="#2BA5FF" stroke="#111" stroke-width="1"/>
<rect x="946" y="451.2" width="58.5" height="7.8" fill="#FF62C6" stroke="#111" stroke-width="1"/>
<path d="M945.5 33.5H1005" stroke="#000" stroke-width="3"/>
<path d="M945.5 459H1005" stroke="#000" stroke-width="2"/>
<rect x="1008.3" y="33" width="58.7" height="274" fill="#C59900" stroke="#111" stroke-width="1"/>
<rect x="1008.3" y="307" width="58.7" height="127" fill="#8CAB00" stroke="#111" stroke-width="1"/>
<rect x="1008.3" y="434" width="58.7" height="20.3" fill="#2BA5FF" stroke="#111" stroke-width="1"/>
<rect x="1008.3" y="454.3" width="58.7" height="4.7" fill="#FF62C6" stroke="#111" stroke-width="1"/>
<path d="M1007.8 33.5H1067.5" stroke="#000" stroke-width="3"/>
<path d="M1007.8 459H1067.5" stroke="#000" stroke-width="2"/>
<rect x="1082.5" y="34.3" width="56" height="24" fill="#C59900" stroke="#000" stroke-width="3"/>
<text x="1154" y="56.6" font-size="32">2</text>
<rect x="1082.5" y="67" width="56" height="24" fill="#8CAB00" stroke="#000" stroke-width="3"/>
<text x="1154" y="89.3" font-size="32">4</text>
<rect x="1082.5" y="99.2" width="56" height="24" fill="#2BA5FF" stroke="#000" stroke-width="3"/>
<text x="1154" y="121.5" font-size="32">11</text>
<rect x="1082.5" y="131.7" width="56" height="24" fill="#FF62C6" stroke="#000" stroke-width="3"/>
<text x="1154" y="154" font-size="32">15</text>
<text x="975.5" y="491.3" font-size="32" text-anchor="middle">NI</text>
<text x="1038" y="491.3" font-size="32" text-anchor="middle">Infla</text>
</g>
<g id="pc">
<text x="4.9" y="559.3" font-size="47.5" font-weight="bold">c</text>
<text x="214.5" y="691.7" font-size="32" text-anchor="middle">ILC3 cluster</text>
<path d="M136.8 731.2V986.2M125.5 986.2H305" fill="none" stroke="#000" stroke-width="2.6"/>
<path d="M125.5 986.2H136.8" stroke="#000" stroke-width="2.6"/>
<text x="114" y="997.5" font-size="32" text-anchor="end">0</text>
<path d="M125.5 922.8H136.8" stroke="#000" stroke-width="2.6"/>
<text x="114" y="934" font-size="32" text-anchor="end">200</text>
<path d="M125.5 859.3H136.8" stroke="#000" stroke-width="2.6"/>
<text x="114" y="870.6" font-size="32" text-anchor="end">400</text>
<path d="M125.5 795.9H136.8" stroke="#000" stroke-width="2.6"/>
<text x="114" y="807.1" font-size="32" text-anchor="end">600</text>
<path d="M125.5 732.4H136.8" stroke="#000" stroke-width="2.6"/>
<text x="114" y="743.7" font-size="32" text-anchor="end">800</text>
<path d="M184.6 986.2V996M256.9 986.2V996" stroke="#000" stroke-width="2.6"/>
<path d="M162.4 986.2V754.7H207.1V986.2" fill="none" stroke="#000" stroke-width="3.4"/>
<path d="M234.7 986.2V826.7H279.1V986.2" fill="none" stroke="#E2301E" stroke-width="3.4"/>
<text x="181.5" y="1030.4" font-size="32" text-anchor="middle">NI</text>
<text x="257" y="1030.4" font-size="32" text-anchor="middle">Infla</text>
<text font-size="32" text-anchor="middle" transform="translate(45 836.6) rotate(-90)">Cell number</text>
</g>
<g id="pd">
<text x="361.5" y="559.7" font-size="47.5" font-weight="bold">d</text>
<text x="643.3" y="576.4" font-size="32" text-anchor="middle">ILC3 cluster</text>
<path d="M534.3 607V1056H748.4" fill="none" stroke="#000" stroke-width="2.7"/>
<path d="M518.8 628.9H534.3" stroke="#000" stroke-width="2.7"/>
<text x="513.5" y="640.5" font-size="32" text-anchor="end" font-style="italic">CD74</text>
<path d="M518.8 749H534.3" stroke="#000" stroke-width="2.7"/>
<text x="513.5" y="760.6" font-size="32" text-anchor="end" font-style="italic">CD37</text>
<path d="M518.8 867.9H534.3" stroke="#000" stroke-width="2.7"/>
<text x="513.5" y="879.5" font-size="32" text-anchor="end" font-style="italic">CCR6</text>
<path d="M518.8 989H534.3" stroke="#000" stroke-width="2.7"/>
<text x="513.5" y="1000.6" font-size="32" text-anchor="end" font-style="italic">RORC</text>
<path d="M592.4 1056V1069.5" stroke="#000" stroke-width="2.7"/>
<path d="M692 1056V1069.5" stroke="#000" stroke-width="2.7"/>
<text x="592.4" y="1103.2" font-size="32" text-anchor="middle">NI</text>
<text x="692" y="1103.2" font-size="32" text-anchor="middle">Infla</text>
<circle cx="592.4" cy="630.5" r="15.8" fill="#1212F2"/>
<circle cx="692" cy="630.3" r="16" fill="#D3D3D3"/>
<circle cx="592.4" cy="749.3" r="10" fill="#D3D3D3"/>
<circle cx="692" cy="749.6" r="11.6" fill="#1212F2"/>
<circle cx="592.4" cy="868.4" r="2.3" fill="#1212F2"/>
<circle cx="692" cy="868.6" r="3.2" fill="#D3D3D3"/>
<circle cx="592.6" cy="988.8" r="0.8" fill="#334"/>
<text font-size="32" text-anchor="middle" transform="translate(408 812.6) rotate(-90)">Gene</text>
<text x="788.2" y="647.8" font-size="32">% Cells</text>
<circle cx="803.2" cy="679.3" r="2.3" fill="#000"/>
<text x="831.5" y="685" font-size="32">20</text>
<circle cx="803.2" cy="702" r="5.3" fill="#000"/>
<text x="831.5" y="712" font-size="32">30</text>
<circle cx="803.2" cy="725.8" r="8" fill="#000"/>
<text x="831.5" y="737.4" font-size="32">40</text>
<circle cx="803.2" cy="754" r="12.3" fill="#000"/>
<text x="831.5" y="764.6" font-size="32">50</text>
<circle cx="803.2" cy="789" r="15.7" fill="#000"/>
<text x="831.5" y="800" font-size="32">60</text>
<defs><linearGradient id="pdg" x1="0" y1="0" x2="0" y2="1"><stop offset="0" stop-color="#0606FF"/><stop offset=".125" stop-color="#522DFB"/><stop offset=".25" stop-color="#7248F6"/><stop offset=".375" stop-color="#8A60F1"/><stop offset=".5" stop-color="#9D77EC"/><stop offset=".625" stop-color="#AD8EE6"/><stop offset=".75" stop-color="#BBA5E0"/><stop offset=".875" stop-color="#C8BCDA"/><stop offset="1" stop-color="#D3D3D3"/></linearGradient></defs>
<rect x="788.2" y="855.3" width="29.2" height="160" fill="url(#pdg)"/>
<path d="M788.2 889.5h5.5M817.4 889.5h-5.5" stroke="#fff" stroke-width="1.2" opacity=".8"/>
<text x="824.7" y="899.4" font-size="32">0.4</text>
<path d="M788.2 935h5.5M817.4 935h-5.5" stroke="#fff" stroke-width="1.2" opacity=".8"/>
<text x="824.7" y="945" font-size="32">0.0</text>
<path d="M788.2 980.8h5.5M817.4 980.8h-5.5" stroke="#fff" stroke-width="1.2" opacity=".8"/>
<text x="824.7" y="989.7" font-size="32">-0.4</text>
<text font-size="32" text-anchor="middle" transform="translate(777.3 934.3) rotate(-90)">Expression</text>
</g>
<g id="pe">
<text x="923" y="560" font-size="47.5" font-weight="bold">e</text>
<text x="1206.7" y="575.1" font-size="32" text-anchor="middle">Treg cluster</text>
<path d="M1099.2 581.2V1055.3H1313.3" fill="none" stroke="#000" stroke-width="2.7"/>
<path d="M1083.7 614.2H1099.2" stroke="#000" stroke-width="2.7"/>
<text x="1077" y="625.8" font-size="32" text-anchor="end" font-style="italic">CCL20</text>
<path d="M1083.7 701.4H1099.2" stroke="#000" stroke-width="2.7"/>
<text x="1077" y="713" font-size="32" text-anchor="end" font-style="italic">ICOS</text>
<path d="M1083.7 800.3H1099.2" stroke="#000" stroke-width="2.7"/>
<text x="1077" y="811.9" font-size="32" text-anchor="end" font-style="italic">NR4A1</text>
<path d="M1083.7 898.8H1099.2" stroke="#000" stroke-width="2.7"/>
<text x="1077" y="910.4" font-size="32" text-anchor="end" font-style="italic">CD96</text>
<path d="M1083.7 998.4H1099.2" stroke="#000" stroke-width="2.7"/>
<text x="1077" y="1010" font-size="32" text-anchor="end" font-style="italic">ITGB1</text>
<path d="M1159 1055.3V1068.8" stroke="#000" stroke-width="2.7"/>
<path d="M1259.2 1055.3V1068.8" stroke="#000" stroke-width="2.7"/>
<text x="1159" y="1103.3" font-size="32" text-anchor="middle">NI</text>
<text x="1259.2" y="1103.3" font-size="32" text-anchor="middle">Infla</text>
<circle cx="1161.4" cy="602.5" r="10.3" fill="#1212F2"/>
<circle cx="1260.3" cy="602.5" r="7.8" fill="#D3D3D3"/>
<circle cx="1161.4" cy="702.1" r="16.4" fill="#1212F2"/>
<circle cx="1260.3" cy="702.1" r="15.6" fill="#D3D3D3"/>
<circle cx="1161.2" cy="800.6" r="0.9" fill="#1212F2"/>
<circle cx="1161.4" cy="899.8" r="11" fill="#1212F2"/>
<circle cx="1260.3" cy="899.8" r="7.1" fill="#D3D3D3"/>
<circle cx="1161.4" cy="999" r="1.4" fill="#D3D3D3"/>
<circle cx="1261" cy="999.5" r="3.9" fill="#1212F2"/>
<text font-size="32" text-anchor="middle" transform="translate(956.5 812.2) rotate(-90)">Gene</text>
<text x="1352.4" y="648" font-size="32">% Cells</text>
<circle cx="1364.8" cy="675.4" r="1.8" fill="#000"/>
<text x="1389" y="685.4" font-size="32">5</text>
<circle cx="1364.8" cy="697.8" r="4.3" fill="#000"/>
<text x="1389" y="712" font-size="32">10</text>
<circle cx="1364.8" cy="722" r="7.5" fill="#000"/>
<text x="1389" y="737" font-size="32">15</text>
<circle cx="1364.8" cy="748.3" r="12" fill="#000"/>
<text x="1389" y="764.7" font-size="32">20</text>
<circle cx="1364.8" cy="785" r="16" fill="#000"/>
<text x="1389" y="796.7" font-size="32">25</text>
<defs><linearGradient id="peg" x1="0" y1="0" x2="0" y2="1"><stop offset="0" stop-color="#0606FF"/><stop offset=".125" stop-color="#522DFB"/><stop offset=".25" stop-color="#7248F6"/><stop offset=".375" stop-color="#8A60F1"/><stop offset=".5" stop-color="#9D77EC"/><stop offset=".625" stop-color="#AD8EE6"/><stop offset=".75" stop-color="#BBA5E0"/><stop offset=".875" stop-color="#C8BCDA"/><stop offset="1" stop-color="#D3D3D3"/></linearGradient></defs>
<rect x="1351" y="855.4" width="29.8" height="159.6" fill="url(#peg)"/>
<path d="M1351 889.5h5.5M1380.8 889.5h-5.5" stroke="#fff" stroke-width="1.2" opacity=".8"/>
<text x="1389" y="900.5" font-size="32">0.4</text>
<path d="M1351 935h5.5M1380.8 935h-5.5" stroke="#fff" stroke-width="1.2" opacity=".8"/>
<text x="1389" y="945" font-size="32">0.0</text>
<path d="M1351 980.5h5.5M1380.8 980.5h-5.5" stroke="#fff" stroke-width="1.2" opacity=".8"/>
<text x="1389" y="990.2" font-size="32">-0.4</text>
<text font-size="32" text-anchor="middle" transform="translate(1341.5 934.8) rotate(-90)">Expression</text>
</g>
<g id="pf">
<text x="3" y="1167.7" font-size="47.5" font-weight="bold">f</text>
<path d="M123 1227.1H136.9V1533.3H123" fill="none" stroke="#000" stroke-width="2.7"/>
<path d="M136.9 1456.2H596.5" stroke="#000" stroke-width="2.7"/>
<text x="109.5" y="1239.5" font-size="32" text-anchor="end">6</text>
<path d="M123 1303.3H136.9" stroke="#000" stroke-width="2.7"/>
<text x="109.5" y="1317.2" font-size="32" text-anchor="end">4</text>
<path d="M123 1379.8H136.9" stroke="#000" stroke-width="2.7"/>
<text x="109.5" y="1390.2" font-size="32" text-anchor="end">2</text>
<path d="M123 1456.2H136.9" stroke="#000" stroke-width="2.7"/>
<text x="109.5" y="1470.6" font-size="32" text-anchor="end">0</text>
<text x="109.5" y="1542.7" font-size="32" text-anchor="end">-2</text>
<path d="M250.5 1456.2V1469.5" stroke="#000" stroke-width="2.7"/>
<text x="250.5" y="1507.5" font-size="32" text-anchor="middle">20</text>
<path d="M365.5 1456.2V1469.5" stroke="#000" stroke-width="2.7"/>
<text x="365.5" y="1507.5" font-size="32" text-anchor="middle">40</text>
<path d="M480.4 1456.2V1469.5" stroke="#000" stroke-width="2.7"/>
<text x="480.4" y="1507.5" font-size="32" text-anchor="middle">60</text>
<path d="M595.4 1456.2V1469.5" stroke="#000" stroke-width="2.7"/>
<text x="595.4" y="1507.5" font-size="32" text-anchor="middle">80</text>
<text x="150.5" y="1213.5" font-size="32"><tspan font-style="italic">R</tspan><tspan font-size="18" dy="-9.5">2</tspan><tspan dy="9.5" font-size="1">&#8203;</tspan>=0.04257</text>
<text x="150.5" y="1249.5" font-size="32"><tspan font-style="italic">P</tspan> =0. 2344</text>
<circle cx="404.6" cy="1190.4" r="9.7" fill="#fff" stroke="#000" stroke-width="4"/>
<text x="429.3" y="1199.4" font-size="32">Healthy</text>
<circle cx="404.6" cy="1237.7" r="9.7" fill="#F20A0A" stroke="#000" stroke-width="4"/>
<text x="429.3" y="1248.2" font-size="32">CD Patient</text>
<path d="M193.5 1376.6L511.7 1424.2" fill="none" stroke="#000" stroke-width="1.9"/>
<path d="M193.5 1342.4C198.8 1344.3 214.9 1349.9 224.8 1353.8C234.8 1357.7 243.4 1362.1 253.3 1365.7C263.2 1369.2 273.8 1372.7 284.1 1375.2C294.4 1377.6 305.1 1379.2 314.9 1380.4C324.8 1381.6 334.7 1381.9 343.4 1382.3C352.1 1382.6 357.2 1382.8 367.1 1382.5C377 1382.2 390.8 1381.3 402.7 1380.4C414.5 1379.5 426.4 1378.1 438.2 1377C450.1 1376 461.6 1374.9 473.8 1374C486.1 1373 505.4 1371.8 511.7 1371.4" fill="none" stroke="#000" stroke-width="1.7" stroke-dasharray="3.5 2.2"/>
<path d="M193.5 1410.7C198.8 1410.4 214.9 1409.4 224.8 1408.8C234.8 1408.3 243.4 1407.6 253.3 1407.4C263.2 1407.2 273.8 1407 284.1 1407.4C294.4 1407.8 306.2 1408.4 314.9 1409.5C323.6 1410.7 327.6 1411.9 336.3 1414.3C345 1416.6 356 1420 367.1 1423.8C378.2 1427.5 390.8 1432.5 402.7 1436.8C414.5 1441.1 426.4 1445.5 438.2 1449.8C450.1 1454.2 462 1458.5 473.8 1462.9C485.7 1467.3 503.4 1474.1 509.4 1476.4" fill="none" stroke="#000" stroke-width="1.7" stroke-dasharray="3.5 2.2"/>
<circle cx="247.4" cy="1374.7" r="6.3" fill="#fff" stroke="#000" stroke-width="2.6"/>
<circle cx="267" cy="1378.2" r="6.3" fill="#fff" stroke="#000" stroke-width="2.6"/>
<circle cx="251.4" cy="1383" r="6.3" fill="#fff" stroke="#000" stroke-width="2.6"/>
<circle cx="429.2" cy="1395.8" r="6.3" fill="#fff" stroke="#000" stroke-width="2.6"/>
<circle cx="307.8" cy="1399.8" r="6.3" fill="#fff" stroke="#000" stroke-width="2.6"/>
<circle cx="341" cy="1403.6" r="6.3" fill="#fff" stroke="#000" stroke-width="2.6"/>
<circle cx="242.6" cy="1407.2" r="6.3" fill="#fff" stroke="#000" stroke-width="2.6"/>
<circle cx="360.7" cy="1421.4" r="6.3" fill="#fff" stroke="#000" stroke-width="2.6"/>
<circle cx="388.4" cy="1421.6" r="6.3" fill="#fff" stroke="#000" stroke-width="2.6"/>
<circle cx="245.5" cy="1425.7" r="6.3" fill="#fff" stroke="#000" stroke-width="2.6"/>
<circle cx="259.2" cy="1425.7" r="6.3" fill="#fff" stroke="#000" stroke-width="2.6"/>
<circle cx="280.3" cy="1429" r="6.3" fill="#fff" stroke="#000" stroke-width="2.6"/>
<circle cx="281.7" cy="1440.4" r="6.3" fill="#fff" stroke="#000" stroke-width="2.6"/>
<circle cx="312.6" cy="1443" r="6.3" fill="#fff" stroke="#000" stroke-width="2.6"/>
<circle cx="328" cy="1437.3" r="6.3" fill="#fff" stroke="#000" stroke-width="2.6"/>
<circle cx="352.2" cy="1433.2" r="6.3" fill="#fff" stroke="#000" stroke-width="2.6"/>
<circle cx="384.4" cy="1438" r="6.3" fill="#fff" stroke="#000" stroke-width="2.6"/>
<circle cx="194.5" cy="1311.4" r="6.3" fill="#EA2E14" stroke="#000" stroke-width="2.6"/>
<circle cx="300.7" cy="1268.5" r="6.3" fill="#EA2E14" stroke="#000" stroke-width="2.6"/>
<circle cx="323.7" cy="1275.8" r="6.3" fill="#EA2E14" stroke="#000" stroke-width="2.6"/>
<circle cx="286" cy="1303.3" r="6.3" fill="#EA2E14" stroke="#000" stroke-width="2.6"/>
<circle cx="357.9" cy="1322.3" r="6.3" fill="#EA2E14" stroke="#000" stroke-width="2.6"/>
<circle cx="248.6" cy="1376.3" r="6.3" fill="#EA2E14" stroke="#000" stroke-width="2.6"/>
<circle cx="295.5" cy="1378.7" r="6.3" fill="#EA2E14" stroke="#000" stroke-width="2.6"/>
<circle cx="352.2" cy="1377.5" r="6.3" fill="#EA2E14" stroke="#000" stroke-width="2.6"/>
<circle cx="349.6" cy="1388.9" r="6.3" fill="#EA2E14" stroke="#000" stroke-width="2.6"/>
<circle cx="395.6" cy="1395.3" r="6.3" fill="#EA2E14" stroke="#000" stroke-width="2.6"/>
<circle cx="288.4" cy="1404.3" r="6.3" fill="#EA2E14" stroke="#000" stroke-width="2.6"/>
<circle cx="325.4" cy="1410.2" r="6.3" fill="#EA2E14" stroke="#000" stroke-width="2.6"/>
<circle cx="343.4" cy="1408.8" r="6.3" fill="#EA2E14" stroke="#000" stroke-width="2.6"/>
<circle cx="232" cy="1418.5" r="6.3" fill="#EA2E14" stroke="#000" stroke-width="2.6"/>
<circle cx="242.9" cy="1416.4" r="6.3" fill="#EA2E14" stroke="#000" stroke-width="2.6"/>
<circle cx="314.5" cy="1423.3" r="6.3" fill="#EA2E14" stroke="#000" stroke-width="2.6"/>
<circle cx="320.9" cy="1433.5" r="6.3" fill="#EA2E14" stroke="#000" stroke-width="2.6"/>
<circle cx="511" cy="1439.9" r="6.3" fill="#EA2E14" stroke="#000" stroke-width="2.6"/>
<text x="158.5" y="1566.3" font-size="32" letter-spacing=".27">T<tspan font-size="20" dy="5">H</tspan><tspan dy="-5">17 cells (% of CD4</tspan><tspan font-size="19" dy="-8.5">+</tspan><tspan dy="8.5" font-size="1">&#8203;</tspan> T cells)</text>
<text font-size="32" text-anchor="middle" transform="translate(27.8 1370.5) rotate(-90)" letter-spacing=".3">RORγt<tspan font-size="19" dy="-8.5">+</tspan><tspan dy="8.5" font-size="1">&#8203;</tspan>Helios<tspan font-size="19" dy="-8.5">−</tspan><tspan dy="8.5" font-size="1">&#8203;</tspan></text>
<text font-size="32" text-anchor="middle" transform="translate(63.6 1371.3) rotate(-90)" letter-spacing=".4">(% of CD4<tspan font-size="19" dy="-8.5">+</tspan><tspan dy="8.5" font-size="1">&#8203;</tspan> T cells)</text>
</g>
<g id="pg">
<text x="616.3" y="1167.6" font-size="47.5" font-weight="bold">g</text>
<text x="828.8" y="1182.7" font-size="32" text-anchor="middle">Cohort #2</text>
<text x="755.5" y="1227.3" font-size="32"><tspan font-style="italic">P</tspan> = 0.0398</text>
<path d="M789.9 1239H876.7" stroke="#000" stroke-width="2"/>
<path d="M761 1533.4V1315.8H814.6V1533.4" fill="none" stroke="#000" stroke-width="4"/>
<path d="M847.6 1533.4V1356.2H901.3V1533.4" fill="none" stroke="#EA2E14" stroke-width="4"/>
<path d="M787.4 1308.8V1322.8M775.9 1308.8H798.9M775.9 1322.8H798.9" fill="none" stroke="#000" stroke-width="1.8"/>
<path d="M874.4 1338.5V1369.8M859.4 1338.5H889.4M859.4 1369.8H889.4" fill="none" stroke="#EA2E14" stroke-width="1.8"/>
<circle cx="787.7" cy="1265.9" r="7.1" fill="#fff" stroke="#000" stroke-width="2.6"/>
<circle cx="798.4" cy="1277" r="7.1" fill="#fff" stroke="#000" stroke-width="2.6"/>
<circle cx="787.7" cy="1286.9" r="7.1" fill="#fff" stroke="#000" stroke-width="2.6"/>
<circle cx="777.2" cy="1299.7" r="7.1" fill="#fff" stroke="#000" stroke-width="2.6"/>
<circle cx="798.4" cy="1300.2" r="7.1" fill="#fff" stroke="#000" stroke-width="2.6"/>
<circle cx="809.1" cy="1300.6" r="7.1" fill="#fff" stroke="#000" stroke-width="2.6"/>
<circle cx="766.4" cy="1307.2" r="7.1" fill="#fff" stroke="#000" stroke-width="2.6"/>
<circle cx="777.2" cy="1317.9" r="7.1" fill="#fff" stroke="#000" stroke-width="2.6"/>
<circle cx="798.4" cy="1316.7" r="7.1" fill="#fff" stroke="#000" stroke-width="2.6"/>
<circle cx="787.7" cy="1310.1" r="7.1" fill="#fff" stroke="#000" stroke-width="2.6"/>
<circle cx="777.2" cy="1335.5" r="7.1" fill="#fff" stroke="#000" stroke-width="2.6"/>
<circle cx="798.4" cy="1332.7" r="7.1" fill="#fff" stroke="#000" stroke-width="2.6"/>
<circle cx="787.7" cy="1345.1" r="7.1" fill="#fff" stroke="#000" stroke-width="2.6"/>
<circle cx="798.4" cy="1350.4" r="7.1" fill="#fff" stroke="#000" stroke-width="2.6"/>
<circle cx="777.2" cy="1359.6" r="7.1" fill="#fff" stroke="#000" stroke-width="2.6"/>
<circle cx="874.4" cy="1281.9" r="7.1" fill="#EA2E14" stroke="#000" stroke-width="2.6"/>
<circle cx="874.4" cy="1297.3" r="7.1" fill="#EA2E14" stroke="#000" stroke-width="2.6"/>
<circle cx="895.7" cy="1297.3" r="7.1" fill="#EA2E14" stroke="#000" stroke-width="2.6"/>
<circle cx="853.3" cy="1303.5" r="7.1" fill="#EA2E14" stroke="#000" stroke-width="2.6"/>
<circle cx="863.7" cy="1319.9" r="7.1" fill="#EA2E14" stroke="#000" stroke-width="2.6"/>
<circle cx="885" cy="1319.9" r="7.1" fill="#EA2E14" stroke="#000" stroke-width="2.6"/>
<circle cx="874.4" cy="1341" r="7.1" fill="#EA2E14" stroke="#000" stroke-width="2.6"/>
<circle cx="895.7" cy="1339.6" r="7.1" fill="#EA2E14" stroke="#000" stroke-width="2.6"/>
<circle cx="853.3" cy="1352.5" r="7.1" fill="#EA2E14" stroke="#000" stroke-width="2.6"/>
<circle cx="895.7" cy="1363.2" r="7.1" fill="#EA2E14" stroke="#000" stroke-width="2.6"/>
<circle cx="853.3" cy="1377.2" r="7.1" fill="#EA2E14" stroke="#000" stroke-width="2.6"/>
<circle cx="874.4" cy="1375.1" r="7.1" fill="#EA2E14" stroke="#000" stroke-width="2.6"/>
<circle cx="895.7" cy="1381" r="7.1" fill="#EA2E14" stroke="#000" stroke-width="2.6"/>
<circle cx="874.4" cy="1470.4" r="7.1" fill="#EA2E14" stroke="#000" stroke-width="2.6"/>
<circle cx="874.4" cy="1489.7" r="7.1" fill="#EA2E14" stroke="#000" stroke-width="2.6"/>
<path d="M717.3 1230.2H730.2V1533.4" fill="none" stroke="#000" stroke-width="2.9"/>
<path d="M717.3 1533.4H932.5" fill="none" stroke="#000" stroke-width="2.9"/>
<path d="M717.3 1230.2H730.2" stroke="#000" stroke-width="2.9"/>
<text x="706.7" y="1241.6" font-size="32" text-anchor="end">100</text>
<path d="M717.3 1331.4H730.2" stroke="#000" stroke-width="2.9"/>
<text x="706.7" y="1344.7" font-size="32" text-anchor="end">80</text>
<path d="M717.3 1432.5H730.2" stroke="#000" stroke-width="2.9"/>
<text x="706.7" y="1442.3" font-size="32" text-anchor="end">60</text>
<path d="M717.3 1533.4H730.2" stroke="#000" stroke-width="2.9"/>
<text x="706.7" y="1543.9" font-size="32" text-anchor="end">40</text>
<path d="M787.4 1533.4V1546.2" stroke="#000" stroke-width="2.9"/>
<path d="M874.4 1533.4V1546.2" stroke="#000" stroke-width="2.9"/>
<text font-size="32" text-anchor="end" transform="translate(801.4 1567.5) rotate(-45)">Healthy</text>
<text font-size="32" text-anchor="end" transform="translate(888.4 1567.5) rotate(-45)">CD Patient</text>
<text font-size="32" text-anchor="middle" transform="translate(652.3 1368.8) rotate(-90)">ILC3s (%)</text>
</g>
<g id="ph">
<text x="948" y="1171.7" font-size="47.5" font-weight="bold">h</text>
<text x="1183" y="1182.7" font-size="32" text-anchor="middle">Cohort #2</text>
<text x="1109.7" y="1250.6" font-size="32"><tspan font-style="italic">P</tspan> = 0.0489</text>
<path d="M1144.3 1262.7H1231.4" stroke="#000" stroke-width="2"/>
<path d="M1119.3 1533.4V1380.9H1172.5V1533.4" fill="none" stroke="#000" stroke-width="4"/>
<path d="M1206.2 1533.4V1419.3H1259.5V1533.4" fill="none" stroke="#EA2E14" stroke-width="4"/>
<path d="M1146 1364.5V1392.1M1130.8 1364.5H1161.2M1130.8 1392.1H1161.2" fill="none" stroke="#000" stroke-width="1.8"/>
<path d="M1232.7 1405.6V1428.8M1217.7 1405.6H1247.7M1217.7 1428.8H1247.7" fill="none" stroke="#EA2E14" stroke-width="1.8"/>
<circle cx="1146.4" cy="1289" r="7.1" fill="#fff" stroke="#000" stroke-width="2.6"/>
<circle cx="1135.2" cy="1311.3" r="7.1" fill="#fff" stroke="#000" stroke-width="2.6"/>
<circle cx="1156.8" cy="1309.1" r="7.1" fill="#fff" stroke="#000" stroke-width="2.6"/>
<circle cx="1135.2" cy="1328.9" r="7.1" fill="#fff" stroke="#000" stroke-width="2.6"/>
<circle cx="1156.8" cy="1338.5" r="7.1" fill="#fff" stroke="#000" stroke-width="2.6"/>
<circle cx="1146.4" cy="1364.5" r="7.1" fill="#fff" stroke="#000" stroke-width="2.6"/>
<circle cx="1124.5" cy="1378.9" r="7.1" fill="#fff" stroke="#000" stroke-width="2.6"/>
<circle cx="1146.4" cy="1391.2" r="7.1" fill="#fff" stroke="#000" stroke-width="2.6"/>
<circle cx="1167.4" cy="1388" r="7.1" fill="#fff" stroke="#000" stroke-width="2.6"/>
<circle cx="1124.5" cy="1406.1" r="7.1" fill="#fff" stroke="#000" stroke-width="2.6"/>
<circle cx="1167.4" cy="1413.8" r="7.1" fill="#fff" stroke="#000" stroke-width="2.6"/>
<circle cx="1146.4" cy="1418.5" r="7.1" fill="#fff" stroke="#000" stroke-width="2.6"/>
<circle cx="1167.4" cy="1434.1" r="7.1" fill="#fff" stroke="#000" stroke-width="2.6"/>
<circle cx="1146.4" cy="1438.2" r="7.1" fill="#fff" stroke="#000" stroke-width="2.6"/>
<circle cx="1146.4" cy="1465.4" r="7.1" fill="#fff" stroke="#000" stroke-width="2.6"/>
<circle cx="1233" cy="1317.1" r="7.1" fill="#EA2E14" stroke="#000" stroke-width="2.6"/>
<circle cx="1239.9" cy="1370.6" r="7.1" fill="#EA2E14" stroke="#000" stroke-width="2.6"/>
<circle cx="1211.6" cy="1381" r="7.1" fill="#EA2E14" stroke="#000" stroke-width="2.6"/>
<circle cx="1254.4" cy="1395.7" r="7.1" fill="#EA2E14" stroke="#000" stroke-width="2.6"/>
<circle cx="1225.9" cy="1397" r="7.1" fill="#EA2E14" stroke="#000" stroke-width="2.6"/>
<circle cx="1239.9" cy="1397" r="7.1" fill="#EA2E14" stroke="#000" stroke-width="2.6"/>
<circle cx="1211.6" cy="1403.9" r="7.1" fill="#EA2E14" stroke="#000" stroke-width="2.6"/>
<circle cx="1225.9" cy="1418" r="7.1" fill="#EA2E14" stroke="#000" stroke-width="2.6"/>
<circle cx="1239.9" cy="1419.6" r="7.1" fill="#EA2E14" stroke="#000" stroke-width="2.6"/>
<circle cx="1211.6" cy="1437.9" r="7.1" fill="#EA2E14" stroke="#000" stroke-width="2.6"/>
<circle cx="1225.9" cy="1437.4" r="7.1" fill="#EA2E14" stroke="#000" stroke-width="2.6"/>
<circle cx="1239.9" cy="1451.8" r="7.1" fill="#EA2E14" stroke="#000" stroke-width="2.6"/>
<circle cx="1225.9" cy="1461.8" r="7.1" fill="#EA2E14" stroke="#000" stroke-width="2.6"/>
<circle cx="1225.9" cy="1483.6" r="7.1" fill="#EA2E14" stroke="#000" stroke-width="2.6"/>
<circle cx="1239.9" cy="1483.2" r="7.1" fill="#EA2E14" stroke="#000" stroke-width="2.6"/>
<path d="M1075.6 1230.2H1088.2V1533.4" fill="none" stroke="#000" stroke-width="2.9"/>
<path d="M1075.6 1533.4H1290.7" fill="none" stroke="#000" stroke-width="2.9"/>
<path d="M1075.6 1230.2H1088.2" stroke="#000" stroke-width="2.9"/>
<text x="1063" y="1240.6" font-size="32" text-anchor="end">50</text>
<path d="M1075.6 1290.7H1088.2" stroke="#000" stroke-width="2.9"/>
<text x="1063" y="1301.9" font-size="32" text-anchor="end">40</text>
<path d="M1075.6 1351.4H1088.2" stroke="#000" stroke-width="2.9"/>
<text x="1063" y="1360.5" font-size="32" text-anchor="end">30</text>
<path d="M1075.6 1412.2H1088.2" stroke="#000" stroke-width="2.9"/>
<text x="1063" y="1421.1" font-size="32" text-anchor="end">20</text>
<path d="M1075.6 1472.9H1088.2" stroke="#000" stroke-width="2.9"/>
<text x="1063" y="1482.5" font-size="32" text-anchor="end">10</text>
<path d="M1075.6 1533.4H1088.2" stroke="#000" stroke-width="2.9"/>
<text x="1063" y="1544.4" font-size="32" text-anchor="end">0</text>
<path d="M1146 1533.4V1546.2" stroke="#000" stroke-width="2.9"/>
<path d="M1232.7 1533.4V1546.2" stroke="#000" stroke-width="2.9"/>
<text font-size="32" text-anchor="end" transform="translate(1160 1567.5) rotate(-45)">Healthy</text>
<text font-size="32" text-anchor="end" transform="translate(1246.7 1567.5) rotate(-45)">CD Patient</text>
<text font-size="32" text-anchor="middle" transform="translate(999.3 1387) rotate(-90)">RORγt<tspan font-size="19" dy="-8.5">+</tspan><tspan dy="8.5" font-size="1">&#8203;</tspan>Helios<tspan font-size="19" dy="-8.5">−</tspan><tspan dy="8.5" font-size="1">&#8203;</tspan> (%)</text>
</g>
<g id="pi">
<text x="1310.2" y="1164.9" font-size="47.5" font-weight="bold">i</text>
<text x="1653" y="1183.3" font-size="32" text-anchor="middle">Cohort #2</text>
<circle cx="1765.7" cy="1193" r="9.7" fill="#fff" stroke="#000" stroke-width="4"/>
<text x="1789.4" y="1201.6" font-size="32">Healthy</text>
<circle cx="1765.7" cy="1241.5" r="9.7" fill="#F20A0A" stroke="#000" stroke-width="4"/>
<text x="1789.4" y="1251.8" font-size="32">CD Patient</text>
<path d="M1415.8 1230.6H1428.9V1533.9" fill="none" stroke="#000" stroke-width="2.8"/>
<path d="M1415.8 1533.9H1886.6" stroke="#000" stroke-width="2.8"/>
<path d="M1415.8 1533.9H1428.9" stroke="#000" stroke-width="2.8"/>
<text x="1403.5" y="1545.6" font-size="32" text-anchor="end">0</text>
<path d="M1415.8 1473.2H1428.9" stroke="#000" stroke-width="2.8"/>
<text x="1403.5" y="1482.5" font-size="32" text-anchor="end">10</text>
<path d="M1415.8 1412.6H1428.9" stroke="#000" stroke-width="2.8"/>
<text x="1403.5" y="1422" font-size="32" text-anchor="end">20</text>
<path d="M1415.8 1351.9H1428.9" stroke="#000" stroke-width="2.8"/>
<text x="1403.5" y="1361" font-size="32" text-anchor="end">30</text>
<path d="M1415.8 1291.3H1428.9" stroke="#000" stroke-width="2.8"/>
<text x="1403.5" y="1302.5" font-size="32" text-anchor="end">40</text>
<path d="M1415.8 1230.6H1428.9" stroke="#000" stroke-width="2.8"/>
<text x="1403.5" y="1243.8" font-size="32" text-anchor="end">50</text>
<path d="M1428.9 1533.9v13.5M1444.1 1533.9v7.5M1459.3 1533.9v7.5M1474.5 1533.9v7.5M1489.7 1533.9v7.5M1505 1533.9v7.5M1520.2 1533.9v7.5M1535.4 1533.9v7.5M1550.6 1533.9v7.5M1565.8 1533.9v7.5M1581 1533.9v13.5M1596.2 1533.9v7.5M1611.4 1533.9v7.5M1626.6 1533.9v7.5M1641.8 1533.9v7.5M1657.1 1533.9v7.5M1672.3 1533.9v7.5M1687.5 1533.9v7.5M1702.7 1533.9v7.5M1717.9 1533.9v7.5M1733.1 1533.9v13.5M1748.3 1533.9v7.5M1763.5 1533.9v7.5M1778.7 1533.9v7.5M1793.9 1533.9v7.5M1809.2 1533.9v7.5M1824.4 1533.9v7.5M1839.6 1533.9v7.5M1854.8 1533.9v7.5M1870 1533.9v7.5M1885.2 1533.9v13.5" stroke="#000" stroke-width="2.4"/>
<text x="1428.9" y="1579.7" font-size="32" text-anchor="middle">40</text>
<text x="1581" y="1579.7" font-size="32" text-anchor="middle">60</text>
<text x="1733.1" y="1579.7" font-size="32" text-anchor="middle">80</text>
<text x="1885.2" y="1579.7" font-size="32" text-anchor="middle">100</text>
<text x="1448" y="1252.8" font-size="32"><tspan font-style="italic">R</tspan><tspan font-size="18" dy="-9.5">2</tspan><tspan dy="9.5" font-size="1">&#8203;</tspan>=0.1599</text>
<text x="1448" y="1288.3" font-size="32"><tspan font-style="italic">P</tspan> =0.0286</text>
<path d="M1494.8 1462.9L1832 1369.3" fill="none" stroke="#000" stroke-width="1.9"/>
<path d="M1494.8 1402.3C1506.1 1401.7 1541.5 1400.2 1562.3 1398.8C1583 1397.5 1600.2 1396 1619.2 1394.3C1638.1 1392.6 1659.5 1390.8 1676.1 1388.6C1692.7 1386.4 1704.5 1384.3 1718.8 1380.9C1733 1377.5 1748.2 1372.8 1761.4 1368.1C1774.7 1363.5 1786.7 1358.1 1798.4 1353C1810.2 1348 1826.4 1340.2 1832 1337.7" fill="none" stroke="#000" stroke-width="1.7" stroke-dasharray="3.5 2.2"/>
<path d="M1494.8 1523.2C1506.1 1516.8 1541.5 1496.4 1562.3 1484.8C1583 1473.2 1602.6 1461.6 1619.2 1453.5C1635.8 1445.3 1647.6 1441.1 1661.8 1435.8C1676.1 1430.6 1692.7 1425.6 1704.5 1422.2C1716.4 1418.7 1723.5 1417.3 1733 1415.1C1742.5 1412.8 1751.9 1410.4 1761.4 1408.5C1770.9 1406.6 1778.1 1405 1789.9 1403.7C1801.6 1402.4 1825 1401.3 1832 1400.8" fill="none" stroke="#000" stroke-width="1.7" stroke-dasharray="3.5 2.2"/>
<circle cx="1799.6" cy="1289" r="6.2" fill="#fff" stroke="#000" stroke-width="2.5"/>
<circle cx="1779.6" cy="1309.5" r="6.2" fill="#fff" stroke="#000" stroke-width="2.5"/>
<circle cx="1831.7" cy="1311.5" r="6.2" fill="#fff" stroke="#000" stroke-width="2.5"/>
<circle cx="1815.5" cy="1329.4" r="6.2" fill="#fff" stroke="#000" stroke-width="2.5"/>
<circle cx="1705.4" cy="1339.1" r="6.2" fill="#fff" stroke="#000" stroke-width="2.5"/>
<circle cx="1763.1" cy="1364.7" r="6.2" fill="#fff" stroke="#000" stroke-width="2.5"/>
<circle cx="1780.8" cy="1378.9" r="6.2" fill="#fff" stroke="#000" stroke-width="2.5"/>
<circle cx="1713.1" cy="1391.2" r="6.2" fill="#fff" stroke="#000" stroke-width="2.5"/>
<circle cx="1755.5" cy="1388.6" r="6.2" fill="#fff" stroke="#000" stroke-width="2.5"/>
<circle cx="1690.6" cy="1406.5" r="6.2" fill="#fff" stroke="#000" stroke-width="2.5"/>
<circle cx="1727.3" cy="1418.2" r="6.2" fill="#fff" stroke="#000" stroke-width="2.5"/>
<circle cx="1751.5" cy="1413.1" r="6.2" fill="#fff" stroke="#000" stroke-width="2.5"/>
<circle cx="1769.4" cy="1438.4" r="6.2" fill="#fff" stroke="#000" stroke-width="2.5"/>
<circle cx="1779.1" cy="1434.1" r="6.2" fill="#fff" stroke="#000" stroke-width="2.5"/>
<circle cx="1731" cy="1465.4" r="6.2" fill="#fff" stroke="#000" stroke-width="2.5"/>
<circle cx="1495.4" cy="1483.9" r="6.2" fill="#EA2E14" stroke="#000" stroke-width="2.5"/>
<circle cx="1524.7" cy="1397.7" r="6.2" fill="#EA2E14" stroke="#000" stroke-width="2.5"/>
<circle cx="1659.3" cy="1381.2" r="6.2" fill="#EA2E14" stroke="#000" stroke-width="2.5"/>
<circle cx="1701.4" cy="1370.7" r="6.2" fill="#EA2E14" stroke="#000" stroke-width="2.5"/>
<circle cx="1749.8" cy="1317.5" r="6.2" fill="#EA2E14" stroke="#000" stroke-width="2.5"/>
<circle cx="1717.9" cy="1396" r="6.2" fill="#EA2E14" stroke="#000" stroke-width="2.5"/>
<circle cx="1685.5" cy="1418.5" r="6.2" fill="#EA2E14" stroke="#000" stroke-width="2.5"/>
<circle cx="1664.7" cy="1438.4" r="6.2" fill="#EA2E14" stroke="#000" stroke-width="2.5"/>
<circle cx="1667.5" cy="1451.8" r="6.2" fill="#EA2E14" stroke="#000" stroke-width="2.5"/>
<circle cx="1750.3" cy="1420.2" r="6.2" fill="#EA2E14" stroke="#000" stroke-width="2.5"/>
<circle cx="1783.3" cy="1404.3" r="6.2" fill="#EA2E14" stroke="#000" stroke-width="2.5"/>
<circle cx="1808.1" cy="1396.9" r="6.2" fill="#EA2E14" stroke="#000" stroke-width="2.5"/>
<circle cx="1784.5" cy="1437.8" r="6.2" fill="#EA2E14" stroke="#000" stroke-width="2.5"/>
<circle cx="1775.4" cy="1462" r="6.2" fill="#EA2E14" stroke="#000" stroke-width="2.5"/>
<circle cx="1721" cy="1483.1" r="6.2" fill="#EA2E14" stroke="#000" stroke-width="2.5"/>
<text x="1406.5" y="1621" font-size="32" letter-spacing=".24">ILC3s (% of CD127<tspan font-size="19" dy="-8.5">+</tspan><tspan dy="8.5" font-size="1">&#8203;</tspan>CD117<tspan font-size="19" dy="-8.5">+</tspan><tspan dy="8.5" font-size="1">&#8203;</tspan> subset)</text>
<text font-size="32" text-anchor="middle" transform="translate(1355 1381.4) rotate(-90)" letter-spacing=".22">RORγt<tspan font-size="19" dy="-8.5">+</tspan><tspan dy="8.5" font-size="1">&#8203;</tspan>Helios<tspan font-size="19" dy="-8.5">−</tspan><tspan dy="8.5" font-size="1">&#8203;</tspan> (% of Tregs)</text>
</g>
<g id="pj">
<defs>
<linearGradient id="Jb1" gradientUnits="userSpaceOnUse" x1="41" y1="1705" x2="964" y2="2032"><stop offset="0" stop-color="#C6E9FC"/><stop offset=".23" stop-color="#D3EEFB"/><stop offset=".42" stop-color="#E6F4F4"/><stop offset=".59" stop-color="#FCFAE9"/><stop offset="1" stop-color="#FEF8E9"/></linearGradient>
<linearGradient id="Jb2" x1="0" y1="0" x2="1" y2="0"><stop offset="0" stop-color="#FEFBEA"/><stop offset=".45" stop-color="#FEF8EA"/><stop offset=".75" stop-color="#FDEFE9"/><stop offset="1" stop-color="#FDEDE8"/></linearGradient>
<radialGradient id="Jgc" cx=".5" cy=".5" r=".5"><stop offset="0" stop-color="#66DA4C"/><stop offset=".55" stop-color="#72DE57"/><stop offset=".8" stop-color="#8EE674"/><stop offset="1" stop-color="#AEEF94"/></radialGradient>
<radialGradient id="Jgn" cx=".54" cy=".5" r=".58"><stop offset="0" stop-color="#DCFDE8"/><stop offset=".28" stop-color="#68E8A0"/><stop offset=".65" stop-color="#24D072"/><stop offset="1" stop-color="#15BE5E"/></radialGradient>
<radialGradient id="Jpc1" cx=".5" cy=".5" r=".5"><stop offset="0" stop-color="#FDE6EC"/><stop offset=".7" stop-color="#FAD3DF"/><stop offset="1" stop-color="#F7BFD2"/></radialGradient>
<radialGradient id="Jpn2" cx=".42" cy=".36" r=".62"><stop offset="0" stop-color="#FDEAF2"/><stop offset=".5" stop-color="#F688BE"/><stop offset="1" stop-color="#EE55A5"/></radialGradient>
<radialGradient id="Jpn" cx=".58" cy=".6" r=".62"><stop offset="0" stop-color="#FDE9F1"/><stop offset=".5" stop-color="#F587BD"/><stop offset="1" stop-color="#EE55A5"/></radialGradient>
<radialGradient id="Joc" cx=".5" cy=".5" r=".5"><stop offset="0" stop-color="#FBD5BF"/><stop offset=".6" stop-color="#F7B89B"/><stop offset="1" stop-color="#F09472"/></radialGradient>
<radialGradient id="Jon" cx=".55" cy=".5" r=".6"><stop offset="0" stop-color="#FBDADA"/><stop offset=".3" stop-color="#EC5A62"/><stop offset="1" stop-color="#D51E36"/></radialGradient>
<radialGradient id="Jil" cx=".5" cy=".55" r=".55"><stop offset="0" stop-color="#E6FAFE"/><stop offset=".6" stop-color="#63D9F2"/><stop offset="1" stop-color="#38CBEF"/></radialGradient>
<radialGradient id="Jpu" cx=".5" cy=".55" r=".55"><stop offset="0" stop-color="#EFE8FE"/><stop offset=".6" stop-color="#9C85EC"/><stop offset="1" stop-color="#8468E2"/></radialGradient>
<radialGradient id="Jsa" cx=".5" cy=".55" r=".55"><stop offset="0" stop-color="#FFF2E8"/><stop offset=".6" stop-color="#F58C68"/><stop offset="1" stop-color="#EE6F4C"/></radialGradient>
<radialGradient id="Jpe" cx=".5" cy=".55" r=".55"><stop offset="0" stop-color="#EAF8F3"/><stop offset=".7" stop-color="#86C9B8"/><stop offset="1" stop-color="#6DB8A6"/></radialGradient>
<radialGradient id="Jepg" cx=".38" cy=".42" r=".64"><stop offset="0" stop-color="#FBFDF6"/><stop offset=".5" stop-color="#F4F4E7"/><stop offset="1" stop-color="#E8E4CF"/></radialGradient>
<radialGradient id="Jepgn" cx=".5" cy=".5" r=".55"><stop offset="0" stop-color="#F3F3EC"/><stop offset="1" stop-color="#CBC6B5"/></radialGradient>
<radialGradient id="Jepr" cx=".46" cy=".41" r=".66"><stop offset="0" stop-color="#FAF8EC"/><stop offset=".36" stop-color="#FBE3DA"/><stop offset=".6" stop-color="#F9B0A8"/><stop offset=".8" stop-color="#F45252"/><stop offset="1" stop-color="#EE1414"/></radialGradient>
<radialGradient id="Jeprn" cx=".55" cy=".55" r=".6"><stop offset="0" stop-color="#FDD8D0"/><stop offset=".6" stop-color="#F55A52"/><stop offset="1" stop-color="#EF2E2E"/></radialGradient>
</defs>
<path d="M190.5 1705.4H643.2C743.7 1705.4 793.2 1750.6 793.2 1842.4V2375.4C793.2 2467.2 743.7 2512.4 643.2 2512.4H190.5C90 2512.4 40.5 2467.2 40.5 2375.4V1842.4C40.5 1750.6 90 1705.4 190.5 1705.4Z" fill="url(#Jb1)" stroke="#000" stroke-width="3.5"/>
<path d="M953.6 1705.4H1014.2C1116.2 1705.4 1164.2 1748.6 1164.2 1840.4V2377.4C1164.2 2469.2 1116.2 2512.4 1014.2 2512.4H953.6C851.6 2512.4 803.6 2469.2 803.6 2377.4V1840.4C803.6 1748.6 851.6 1705.4 953.6 1705.4Z" fill="url(#Jb2)" stroke="#000" stroke-width="3.5"/>
<text x="3.5" y="1722.7" font-size="47.5" font-weight="bold">j</text>
<text x="97.3" y="1772" font-size="30.9" font-weight="bold">Mesenteric lymph node</text>
<text x="874.4" y="1771.7" font-size="30.9" font-weight="bold">Intestine</text>
<text x="448.3" y="1828" font-size="30.9">RORγt<tspan font-size="19" dy="-10">+</tspan><tspan dy="10" font-size="1">&#8203;</tspan> T<tspan font-size="21.5" dy="2.5">reg</tspan><tspan dy="-2.5"> cells</tspan></text>
<text x="100.7" y="1896.2" font-size="30.9">Latent TGFβ?</text>
<text x="360.5" y="1880.2" font-size="30.9">TGFβ</text>
<text x="655.8" y="1908.3" font-size="30.9">CD25</text>
<text x="120.2" y="2020" font-size="30.9">Integrin αvβ3</text>
<text x="399.9" y="2064.7" font-size="30.9">MHCII</text>
<text x="641.5" y="2066.5" font-size="30.9">IL-2</text>
<text x="152.8" y="2169.2" font-size="30.9">LTi-like ILC3s</text>
<text x="134.2" y="2344.7" font-size="30.9">Microbiota</text>
<text x="429.5" y="2449.1" font-size="30.9">RORγt<tspan font-size="19" dy="-10">+</tspan><tspan dy="10" font-size="1">&#8203;</tspan> T<tspan font-size="20.5" dy="3.5">H</tspan><tspan dy="-3.5">17 cells</tspan></text>
<text x="844" y="1876.2" font-size="29.9">Tolerance</text>
<text x="821" y="2316" font-size="30.5">Inflammation</text>
<path d="M752.5 1890H1014" stroke="#000" stroke-width="3.6"/>
<path d="M1030.5 1890L1012 1880.7V1899.3Z" fill="#000"/>
<path d="M752.5 2331.7H1014" stroke="#000" stroke-width="3.6"/>
<path d="M1030.5 2331.7L1012 2322.4V2341Z" fill="#000"/>
<path d="M311.6 2234L332.3 2244.6" stroke="#12A79D" stroke-width="10.5" stroke-linecap="round"/>
<path d="M146.2 2263.6L163.4 2249.7" stroke="#A5176C" stroke-width="10.5" stroke-linecap="round"/>
<path d="M233 2277.2L252.9 2268.9" stroke="#B87B41" stroke-width="10.5" stroke-linecap="round"/>
<path d="M65.6 2308.4L87.8 2306" stroke="#12A79D" stroke-width="10.5" stroke-linecap="round"/>
<path d="M173.7 2395.8L188.6 2411.8" stroke="#A5176C" stroke-width="10.5" stroke-linecap="round"/>
<path d="M260.6 2421.6L266.2 2442.3" stroke="#12A79D" stroke-width="10.5" stroke-linecap="round"/>
<path d="M98.8 2439.4L121.3 2437.9" stroke="#B87B41" stroke-width="10.5" stroke-linecap="round"/>
<rect x="428.1" y="1907.1" width="39.6" height="11.6" rx="4.5" fill="#F6808F" stroke="#2a060c" stroke-width="2.2" transform="rotate(-13.5 447.9 1912.9)"/>
<rect x="436.4" y="1892.4" width="29.5" height="11.6" rx="4.5" fill="#F6808F" stroke="#2a060c" stroke-width="2.2" transform="rotate(-10.5 451.1 1898.2)"/>
<path d="M441 1997L476 1979.8" stroke="#2a0612" stroke-width="11" stroke-linecap="round" fill="none"/>
<path d="M437.5 1999L447 1994.3" stroke="#2a0612" stroke-width="14.6" stroke-linecap="round" fill="none"/>
<path d="M424.2 1991.4A15.8 15.8 0 0 1 436.3 2011.2" stroke="#2a0612" stroke-width="11.4" stroke-linecap="round" fill="none"/>
<path d="M441 1997L476 1979.8" stroke="#EE4B6E" stroke-width="7.8" stroke-linecap="round" fill="none"/>
<path d="M437.5 1999L447 1994.3" stroke="#EE4B6E" stroke-width="11.4" stroke-linecap="round" fill="none"/>
<path d="M424.2 1991.4A15.8 15.8 0 0 1 436.3 2011.2" stroke="#EE4B6E" stroke-width="8.2" stroke-linecap="round" fill="none"/>
<circle cx="598.6" cy="1886.7" r="45.6" fill="url(#Jgc)" stroke="#0f5a12" stroke-width="2.2"/>
<path d="M617.9 1905C616 1907 613.3 1908.5 610.8 1909.5C608.3 1910.4 605.4 1910.6 602.9 1910.7C600.3 1910.8 597.9 1910.3 595.5 1910C593.2 1909.6 591 1909.2 588.7 1908.5C586.4 1907.8 584 1907 581.8 1905.8C579.7 1904.5 577.4 1902.9 575.8 1900.9C574.2 1898.9 572.9 1896.3 572.3 1893.8C571.7 1891.3 571.7 1888.4 572 1885.8C572.4 1883.3 573.4 1880.8 574.4 1878.4C575.5 1876.1 576.9 1874 578.5 1872C580.1 1870 581.9 1868 583.9 1866.5C586 1865 588.4 1863.6 590.9 1862.9C593.4 1862.2 596.3 1861.9 598.9 1862.3C601.4 1862.7 604 1863.8 606.2 1865.1C608.3 1866.4 610.2 1868.3 611.8 1870.1C613.4 1871.9 614.7 1873.8 616 1875.8C617.3 1877.8 618.6 1879.7 619.6 1882C620.6 1884.3 621.7 1886.7 622.1 1889.4C622.5 1892 622.7 1895 621.9 1897.6C621.2 1900.2 619.7 1903 617.9 1905Z" fill="url(#Jgn)" stroke="#064a1e" stroke-width="2.2"/>
<circle cx="508.2" cy="1892.6" r="45.6" fill="url(#Jgc)" stroke="#0f5a12" stroke-width="2.2"/>
<path d="M482.1 1886.6C483.4 1884.3 485.6 1882.3 487.6 1880.7C489.6 1879 491.9 1877.9 494.1 1876.8C496.2 1875.8 498.3 1874.9 500.5 1874.1C502.8 1873.4 505.1 1872.6 507.5 1872.3C510 1871.9 512.7 1871.8 515.2 1872.3C517.7 1872.8 520.4 1873.9 522.4 1875.4C524.5 1877 526.4 1879.2 527.7 1881.4C529 1883.7 529.8 1886.3 530.4 1888.8C530.9 1891.3 531 1893.9 530.9 1896.4C530.9 1899 530.6 1901.6 529.9 1904C529.1 1906.5 528.1 1909.1 526.7 1911.2C525.2 1913.3 523.1 1915.4 520.9 1916.7C518.7 1918 516 1918.9 513.5 1919.2C511 1919.6 508.3 1919.2 505.9 1918.8C503.5 1918.3 501.3 1917.4 499.1 1916.6C496.9 1915.7 494.8 1914.8 492.6 1913.6C490.5 1912.4 488.2 1911.1 486.3 1909.3C484.4 1907.6 482.4 1905.3 481.3 1902.9C480.1 1900.4 479.4 1897.4 479.5 1894.7C479.7 1891.9 480.7 1889 482.1 1886.6Z" fill="url(#Jgn)" stroke="#064a1e" stroke-width="2.2"/>
<circle cx="579.3" cy="1956.3" r="45.6" fill="url(#Jgc)" stroke="#0f5a12" stroke-width="2.2"/>
<path d="M568.8 1980.2C566.9 1978.4 565.5 1976.3 564.1 1974.4C562.7 1972.4 561.5 1970.5 560.4 1968.4C559.3 1966.3 558.1 1964.1 557.5 1961.8C556.8 1959.4 556.3 1956.7 556.4 1954.1C556.6 1951.6 557.4 1948.8 558.6 1946.5C559.8 1944.2 561.8 1942.1 563.8 1940.5C565.9 1938.9 568.4 1937.7 570.8 1936.8C573.2 1936 575.7 1935.5 578.3 1935.2C580.8 1934.9 583.4 1934.8 585.9 1935.2C588.5 1935.5 591.2 1936.2 593.5 1937.4C595.8 1938.6 598.1 1940.3 599.7 1942.3C601.3 1944.3 602.5 1946.9 603.2 1949.3C603.9 1951.8 603.9 1954.4 603.8 1956.9C603.7 1959.3 603.2 1961.6 602.7 1963.9C602.1 1966.3 601.6 1968.5 600.7 1970.8C599.8 1973.1 598.9 1975.6 597.4 1977.7C595.8 1979.8 593.9 1982.1 591.6 1983.6C589.3 1985 586.3 1986.1 583.6 1986.3C580.9 1986.5 577.9 1985.9 575.4 1984.8C572.9 1983.8 570.6 1981.9 568.8 1980.2Z" fill="url(#Jgn)" stroke="#064a1e" stroke-width="2.2"/>
<circle cx="515.6" cy="1977.1" r="45.6" fill="url(#Jgc)" stroke="#0f5a12" stroke-width="2.2"/>
<path d="M508.5 1954.7C511.1 1954 514.2 1954.2 516.8 1954.6C519.4 1955.1 521.9 1956.4 524.1 1957.5C526.4 1958.7 528.3 1960.1 530.2 1961.5C532.1 1962.9 533.9 1964.3 535.6 1966C537.3 1967.7 539.1 1969.6 540.3 1971.8C541.5 1974 542.6 1976.6 543 1979.1C543.3 1981.7 543 1984.6 542.3 1987C541.5 1989.5 540 1991.9 538.4 1994C536.8 1996 534.8 1997.7 532.7 1999.2C530.6 2000.7 528.4 2001.9 526 2002.9C523.7 2003.9 521.1 2004.7 518.6 2005C516 2005.3 513.2 2005.2 510.7 2004.5C508.2 2003.9 505.6 2002.5 503.6 2000.9C501.6 1999.3 500 1996.9 498.8 1994.7C497.6 1992.6 497 1990.1 496.4 1987.7C495.8 1985.4 495.6 1983.2 495.4 1980.8C495.1 1978.4 494.9 1976 495.1 1973.5C495.3 1971 495.5 1968.2 496.5 1965.7C497.5 1963.3 499.1 1960.6 501.1 1958.7C503.1 1956.9 505.9 1955.4 508.5 1954.7Z" fill="url(#Jgn)" stroke="#064a1e" stroke-width="2.2"/>
<rect x="624.1" y="1918.8" width="30.2" height="8.4" rx="3.8" fill="#9222D2" stroke="#1e0426" stroke-width="1.7" transform="rotate(51.5 639.2 1923)"/>
<rect x="632.9" y="1910.9" width="21.4" height="8.4" rx="3.8" fill="#EE12DE" stroke="#1e0426" stroke-width="1.7" transform="rotate(51.5 643.6 1915.1)"/>
<rect x="611.6" y="1978.2" width="30.2" height="8.4" rx="3.8" fill="#9222D2" stroke="#1e0426" stroke-width="1.7" transform="rotate(33.5 626.7 1982.4)"/>
<rect x="615.7" y="1968" width="21.4" height="8.4" rx="3.8" fill="#EE12DE" stroke="#1e0426" stroke-width="1.7" transform="rotate(33.5 626.4 1972.2)"/>
<circle cx="342.4" cy="2059.1" r="45" fill="url(#Jpc1)" stroke="#111" stroke-width="2.1"/>
<ellipse cx="342.8" cy="2059.1" rx="28.3" ry="22.8" transform="rotate(-30 342.8 2059.1)" fill="url(#Jpn)" stroke="#111" stroke-width="2.2"/>
<path d="M311.3 1988.5L325.6 2021.7" stroke="#0a120a" stroke-width="15.2" stroke-linecap="round" fill="none"/>
<path d="M311.3 1988.5L325.6 2021.7" stroke="#3F7D42" stroke-width="10.6" stroke-linecap="round" fill="none"/>
<path d="M325.6 1983.8L339.8 2017" stroke="#0a120a" stroke-width="15.2" stroke-linecap="round" fill="none"/>
<path d="M325.6 1983.8L339.8 2017" stroke="#6AD270" stroke-width="10.6" stroke-linecap="round" fill="none"/>
<circle cx="313.7" cy="1972.5" r="9" fill="url(#Jpu)" stroke="#0c1030" stroke-width="2"/>
<rect x="375.5" y="2024.7" width="33" height="14.2" rx="2.5" fill="#41A4F4" stroke="#0a1640" stroke-width="2.1" transform="rotate(-28 392 2031.8)"/>
<rect x="408.6" y="2015.2" width="14.5" height="14.2" rx="2.5" fill="#41A4F4" stroke="#0a1640" stroke-width="2.1" transform="rotate(-28 415.9 2022.3)"/>
<rect x="367.8" y="2009.9" width="33" height="14.2" rx="2.5" fill="#1C62E4" stroke="#0a1640" stroke-width="2.1" transform="rotate(-28 384.3 2017)"/>
<rect x="398.4" y="1998.3" width="13.5" height="14.2" rx="2.5" fill="#1C62E4" stroke="#0a1640" stroke-width="2.1" transform="rotate(-28 405.2 2005.4)"/>
<ellipse cx="421.5" cy="2007.3" rx="13" ry="8.2" transform="rotate(-30 421.5 2007.3)" fill="#fff" stroke="#111" stroke-width="1.7"/>
<circle cx="421" cy="2006.9" r="8" fill="url(#Jpe)" stroke="#0e2a26" stroke-width="1.9"/>
<circle cx="391.6" cy="2184.5" r="46.6" fill="url(#Jpc1)" stroke="#111" stroke-width="2.1"/>
<ellipse cx="391.6" cy="2184.5" rx="28.2" ry="23" transform="rotate(-8 391.6 2184.5)" fill="url(#Jpn2)" stroke="#111" stroke-width="2.2"/>
<circle cx="552.6" cy="2298.6" r="45.5" fill="url(#Joc)" stroke="#3a1408" stroke-width="2.1"/>
<path d="M577.3 2317.9C575.9 2320.2 573.5 2322.2 571.3 2323.6C569 2325 566.2 2325.6 563.7 2326.1C561.3 2326.7 558.8 2326.6 556.4 2326.6C554 2326.6 551.8 2326.5 549.5 2326.2C547.2 2325.8 544.7 2325.5 542.5 2324.7C540.2 2323.8 537.7 2322.6 535.8 2321C533.9 2319.3 532.1 2317.1 531 2314.8C530 2312.5 529.4 2309.7 529.3 2307.1C529.2 2304.6 529.8 2301.9 530.4 2299.5C531.1 2297 532.1 2294.7 533.3 2292.5C534.6 2290.3 536 2288.1 537.7 2286.3C539.5 2284.5 541.6 2282.7 543.9 2281.5C546.2 2280.4 548.9 2279.6 551.5 2279.5C554 2279.4 556.8 2280 559.1 2280.9C561.4 2281.8 563.6 2283.4 565.5 2284.8C567.3 2286.3 568.9 2288 570.5 2289.8C572 2291.5 573.5 2293.2 574.9 2295.3C576.2 2297.3 577.7 2299.5 578.5 2301.9C579.4 2304.4 580.1 2307.3 579.9 2310C579.7 2312.6 578.8 2315.6 577.3 2317.9Z" fill="url(#Jon)" stroke="#4a0814" stroke-width="2.1"/>
<circle cx="507.3" cy="2365.3" r="44.5" fill="url(#Joc)" stroke="#3a1408" stroke-width="2.1"/>
<path d="M483.3 2376.9C482.9 2374.3 483.3 2371.5 483.8 2369C484.2 2366.5 485.2 2364.3 486 2362.1C486.9 2359.9 487.8 2357.9 488.9 2355.8C490.1 2353.7 491.2 2351.6 492.9 2349.8C494.6 2348 496.6 2346.1 498.8 2344.9C501.1 2343.8 503.9 2343 506.4 2342.9C509 2342.8 511.8 2343.4 514.2 2344.3C516.6 2345.1 518.8 2346.6 520.8 2348.2C522.8 2349.7 524.6 2351.5 526.2 2353.4C527.8 2355.4 529.3 2357.5 530.3 2359.8C531.3 2362.1 532.2 2364.8 532.4 2367.3C532.6 2369.9 532.2 2372.7 531.4 2375.1C530.5 2377.5 528.9 2379.8 527.2 2381.6C525.5 2383.5 523.3 2384.8 521.2 2386C519.2 2387.3 517 2388.1 514.8 2388.9C512.6 2389.7 510.5 2390.5 508.1 2391C505.7 2391.6 503.1 2392.1 500.5 2392C497.9 2391.8 494.9 2391.3 492.5 2390.1C490.1 2388.9 487.7 2386.9 486.2 2384.7C484.7 2382.5 483.7 2379.5 483.3 2376.9Z" fill="url(#Jon)" stroke="#4a0814" stroke-width="2.1"/>
<circle cx="588.2" cy="2369.7" r="46" fill="url(#Joc)" stroke="#3a1408" stroke-width="2.1"/>
<path d="M589.3 2391.8C586.8 2391.7 584.4 2391.2 582.1 2390.7C579.8 2390.1 577.7 2389.6 575.5 2388.8C573.3 2387.9 570.9 2387.1 568.9 2385.7C566.9 2384.3 564.7 2382.5 563.3 2380.5C561.8 2378.4 560.7 2375.7 560.2 2373.2C559.8 2370.7 560 2367.8 560.6 2365.3C561.1 2362.8 562.3 2360.4 563.5 2358.2C564.7 2356 566.2 2354 567.9 2352.1C569.7 2350.3 571.6 2348.5 573.7 2347.2C575.8 2345.8 578.3 2344.6 580.8 2344.1C583.3 2343.6 586.2 2343.5 588.7 2344.1C591.1 2344.6 593.6 2345.9 595.7 2347.3C597.7 2348.7 599.4 2350.7 600.9 2352.6C602.4 2354.4 603.5 2356.4 604.7 2358.4C605.9 2360.5 607 2362.5 607.8 2364.8C608.7 2367.1 609.6 2369.7 609.8 2372.3C610 2374.9 609.9 2377.9 609 2380.4C608.1 2382.9 606.4 2385.6 604.4 2387.4C602.5 2389.2 599.6 2390.5 597.1 2391.2C594.6 2392 591.8 2391.9 589.3 2391.8Z" fill="url(#Jon)" stroke="#4a0814" stroke-width="2.1"/>
<rect x="590.3" y="2273.4" width="21.4" height="8.4" rx="3.8" fill="#EE12DE" stroke="#1e0426" stroke-width="1.7" transform="rotate(-21.5 601 2277.6)"/>
<rect x="593.2" y="2279.6" width="30.2" height="8.4" rx="3.8" fill="#9222D2" stroke="#1e0426" stroke-width="1.7" transform="rotate(-21.5 608.3 2283.8)"/>
<circle cx="657.8" cy="1932.1" r="8.8" fill="url(#Jil)" stroke="#07222c" stroke-width="2.1"/>
<circle cx="738.5" cy="1951.4" r="8.8" fill="url(#Jil)" stroke="#07222c" stroke-width="2.1"/>
<circle cx="690" cy="1965.2" r="8.8" fill="url(#Jil)" stroke="#07222c" stroke-width="2.1"/>
<circle cx="647.1" cy="1979.6" r="8.8" fill="url(#Jil)" stroke="#07222c" stroke-width="2.1"/>
<circle cx="732.4" cy="1987.1" r="8.8" fill="url(#Jil)" stroke="#07222c" stroke-width="2.1"/>
<circle cx="643.4" cy="2007.9" r="8.8" fill="url(#Jil)" stroke="#07222c" stroke-width="2.1"/>
<circle cx="687.6" cy="2011.1" r="8.8" fill="url(#Jil)" stroke="#07222c" stroke-width="2.1"/>
<circle cx="742" cy="2019.6" r="8.8" fill="url(#Jil)" stroke="#07222c" stroke-width="2.1"/>
<circle cx="711.6" cy="2039.4" r="8.8" fill="url(#Jil)" stroke="#07222c" stroke-width="2.1"/>
<circle cx="603.1" cy="2056.5" r="8.8" fill="url(#Jil)" stroke="#07222c" stroke-width="2.1"/>
<circle cx="628" cy="2110.2" r="8.8" fill="url(#Jil)" stroke="#07222c" stroke-width="2.1"/>
<circle cx="638" cy="2186" r="8.8" fill="url(#Jil)" stroke="#07222c" stroke-width="2.1"/>
<circle cx="622.3" cy="2257.1" r="8.8" fill="url(#Jil)" stroke="#07222c" stroke-width="2.1"/>
<circle cx="660.2" cy="2281.7" r="8.8" fill="url(#Jil)" stroke="#07222c" stroke-width="2.1"/>
<circle cx="195.1" cy="1926.7" r="9" fill="url(#Jpu)" stroke="#0c1030" stroke-width="2"/>
<circle cx="225.6" cy="1920.8" r="9" fill="url(#Jpu)" stroke="#0c1030" stroke-width="2"/>
<circle cx="218.2" cy="1950.4" r="9" fill="url(#Jpu)" stroke="#0c1030" stroke-width="2"/>
<circle cx="396.4" cy="1908" r="9.1" fill="url(#Jsa)" stroke="#2a0a05" stroke-width="2.1"/>
<circle cx="427.7" cy="1905.5" r="9.1" fill="url(#Jsa)" stroke="#2a0a05" stroke-width="2.1"/>
<circle cx="416.3" cy="1937.9" r="9.1" fill="url(#Jsa)" stroke="#2a0a05" stroke-width="2.1"/>
<path d="M253.8 1945.4C290 1960 335 1962 362 1937.5Q371 1929.5 378.5 1922" stroke="#000" stroke-width="3.2" stroke-dasharray="3.2 3.6" fill="none"/>
<path d="M364.5 1920.6L381.2 1919.3L377 1937" stroke="#000" stroke-width="3.2" fill="none" stroke-linejoin="miter"/>
<path d="M442 2147.4L503.5 2057.2" stroke="#000" stroke-width="4"/>
<path d="M514.3 2041.5L510.2 2061.8L496.8 2052.6Z" fill="#000"/>
<path d="M443.5 2220.9L493.8 2271.3M469.5 2296.2L519 2247.3" stroke="#000" stroke-width="4" fill="none"/>
<path d="M1048.6 1747.6L1104.3 1748.4C1111.6 1748.4 1111.6 1756.4 1104.3 1756.4C1095.3 1755.2 1089.3 1754.1 1083.3 1754.1C1079.3 1754.1 1079.3 1760.1 1083.3 1760.1C1089.3 1760.1 1095.3 1759 1104.3 1757.8C1111.6 1757.8 1111.6 1769.4 1104.3 1769.4C1095.3 1768.2 1089.3 1767.1 1083.3 1767.1C1079.3 1767.1 1079.3 1773.1 1083.3 1773.1C1089.3 1773.1 1095.3 1772 1104.3 1770.8C1111.6 1770.8 1111.6 1781 1104.3 1781C1095.3 1779.8 1089.3 1778.7 1083.3 1778.7C1079.3 1778.7 1079.3 1784.7 1083.3 1784.7C1089.3 1784.7 1095.3 1783.6 1104.3 1782.4C1111.6 1782.4 1111.6 1792 1104.3 1792C1095.3 1790.8 1089.3 1789.7 1083.3 1789.7C1079.3 1789.7 1079.3 1795.7 1083.3 1795.7C1089.3 1795.7 1095.3 1794.6 1104.3 1793.4C1111.6 1793.4 1111.6 1804.7 1104.3 1804.7C1095.3 1803.5 1089.3 1802.4 1083.3 1802.4C1079.3 1802.4 1079.3 1808.4 1083.3 1808.4C1089.3 1808.4 1095.3 1807.3 1104.3 1806.1C1111.6 1806.1 1111.6 1818.2 1104.3 1818.2L1048.6 1819C1040.2 1819 1036.6 1815.4 1036.6 1807V1759.6C1036.6 1751.2 1040.2 1747.6 1048.6 1747.6Z" fill="url(#Jepg)" stroke="#837c6c" stroke-width="1.7" stroke-linejoin="round"/>
<ellipse cx="1060.9" cy="1795.6" rx="8.2" ry="13.8" fill="url(#Jepgn)" stroke="#7d776a" stroke-width="1.7"/>
<path d="M1048.6 1821.3L1104.3 1822.1C1111.6 1822.1 1111.6 1830.1 1104.3 1830.1C1095.3 1828.9 1089.3 1827.8 1083.3 1827.8C1079.3 1827.8 1079.3 1833.8 1083.3 1833.8C1089.3 1833.8 1095.3 1832.7 1104.3 1831.5C1111.6 1831.5 1111.6 1843.1 1104.3 1843.1C1095.3 1841.9 1089.3 1840.8 1083.3 1840.8C1079.3 1840.8 1079.3 1846.8 1083.3 1846.8C1089.3 1846.8 1095.3 1845.7 1104.3 1844.5C1111.6 1844.5 1111.6 1854.7 1104.3 1854.7C1095.3 1853.5 1089.3 1852.4 1083.3 1852.4C1079.3 1852.4 1079.3 1858.4 1083.3 1858.4C1089.3 1858.4 1095.3 1857.3 1104.3 1856.1C1111.6 1856.1 1111.6 1865.7 1104.3 1865.7C1095.3 1864.5 1089.3 1863.4 1083.3 1863.4C1079.3 1863.4 1079.3 1869.4 1083.3 1869.4C1089.3 1869.4 1095.3 1868.3 1104.3 1867.1C1111.6 1867.1 1111.6 1878.4 1104.3 1878.4C1095.3 1877.2 1089.3 1876.1 1083.3 1876.1C1079.3 1876.1 1079.3 1882.1 1083.3 1882.1C1089.3 1882.1 1095.3 1881 1104.3 1879.8C1111.6 1879.8 1111.6 1891.9 1104.3 1891.9L1048.6 1892.7C1040.2 1892.7 1036.6 1889.1 1036.6 1880.7V1833.3C1036.6 1824.9 1040.2 1821.3 1048.6 1821.3Z" fill="url(#Jepg)" stroke="#837c6c" stroke-width="1.7" stroke-linejoin="round"/>
<ellipse cx="1060.9" cy="1869.3" rx="8.2" ry="13.8" fill="url(#Jepgn)" stroke="#7d776a" stroke-width="1.7"/>
<path d="M1048.6 1894.6L1104.3 1895.4C1111.6 1895.4 1111.6 1903.4 1104.3 1903.4C1095.3 1902.2 1089.3 1901.1 1083.3 1901.1C1079.3 1901.1 1079.3 1907.1 1083.3 1907.1C1089.3 1907.1 1095.3 1906 1104.3 1904.8C1111.6 1904.8 1111.6 1916.4 1104.3 1916.4C1095.3 1915.2 1089.3 1914.1 1083.3 1914.1C1079.3 1914.1 1079.3 1920.1 1083.3 1920.1C1089.3 1920.1 1095.3 1919 1104.3 1917.8C1111.6 1917.8 1111.6 1928 1104.3 1928C1095.3 1926.8 1089.3 1925.7 1083.3 1925.7C1079.3 1925.7 1079.3 1931.7 1083.3 1931.7C1089.3 1931.7 1095.3 1930.6 1104.3 1929.4C1111.6 1929.4 1111.6 1939 1104.3 1939C1095.3 1937.8 1089.3 1936.7 1083.3 1936.7C1079.3 1936.7 1079.3 1942.7 1083.3 1942.7C1089.3 1942.7 1095.3 1941.6 1104.3 1940.4C1111.6 1940.4 1111.6 1951.7 1104.3 1951.7C1095.3 1950.5 1089.3 1949.4 1083.3 1949.4C1079.3 1949.4 1079.3 1955.4 1083.3 1955.4C1089.3 1955.4 1095.3 1954.3 1104.3 1953.1C1111.6 1953.1 1111.6 1965.2 1104.3 1965.2L1048.6 1966C1040.2 1966 1036.6 1962.4 1036.6 1954V1906.6C1036.6 1898.2 1040.2 1894.6 1048.6 1894.6Z" fill="url(#Jepg)" stroke="#837c6c" stroke-width="1.7" stroke-linejoin="round"/>
<ellipse cx="1060.9" cy="1942.6" rx="8.2" ry="13.8" fill="url(#Jepgn)" stroke="#7d776a" stroke-width="1.7"/>
<path d="M1048.6 1967.6L1104.3 1968.4C1111.6 1968.4 1111.6 1976.4 1104.3 1976.4C1095.3 1975.2 1089.3 1974.1 1083.3 1974.1C1079.3 1974.1 1079.3 1980.1 1083.3 1980.1C1089.3 1980.1 1095.3 1979 1104.3 1977.8C1111.6 1977.8 1111.6 1989.4 1104.3 1989.4C1095.3 1988.2 1089.3 1987.1 1083.3 1987.1C1079.3 1987.1 1079.3 1993.1 1083.3 1993.1C1089.3 1993.1 1095.3 1992 1104.3 1990.8C1111.6 1990.8 1111.6 2001 1104.3 2001C1095.3 1999.8 1089.3 1998.7 1083.3 1998.7C1079.3 1998.7 1079.3 2004.7 1083.3 2004.7C1089.3 2004.7 1095.3 2003.6 1104.3 2002.4C1111.6 2002.4 1111.6 2012 1104.3 2012C1095.3 2010.8 1089.3 2009.7 1083.3 2009.7C1079.3 2009.7 1079.3 2015.7 1083.3 2015.7C1089.3 2015.7 1095.3 2014.6 1104.3 2013.4C1111.6 2013.4 1111.6 2024.7 1104.3 2024.7C1095.3 2023.5 1089.3 2022.4 1083.3 2022.4C1079.3 2022.4 1079.3 2028.4 1083.3 2028.4C1089.3 2028.4 1095.3 2027.3 1104.3 2026.1C1111.6 2026.1 1111.6 2038.2 1104.3 2038.2L1048.6 2039C1040.2 2039 1036.6 2035.4 1036.6 2027V1979.6C1036.6 1971.2 1040.2 1967.6 1048.6 1967.6Z" fill="url(#Jepg)" stroke="#837c6c" stroke-width="1.7" stroke-linejoin="round"/>
<ellipse cx="1060.9" cy="2015.6" rx="8.2" ry="13.8" fill="url(#Jepgn)" stroke="#7d776a" stroke-width="1.7"/>
<path d="M1048.6 2039.8L1104.3 2040.6C1111.6 2040.6 1111.6 2048.6 1104.3 2048.6C1095.3 2047.4 1089.3 2046.3 1083.3 2046.3C1079.3 2046.3 1079.3 2052.3 1083.3 2052.3C1089.3 2052.3 1095.3 2051.2 1104.3 2050C1111.6 2050 1111.6 2061.6 1104.3 2061.6C1095.3 2060.4 1089.3 2059.3 1083.3 2059.3C1079.3 2059.3 1079.3 2065.3 1083.3 2065.3C1089.3 2065.3 1095.3 2064.2 1104.3 2063C1111.6 2063 1111.6 2073.2 1104.3 2073.2C1095.3 2072 1089.3 2070.9 1083.3 2070.9C1079.3 2070.9 1079.3 2076.9 1083.3 2076.9C1089.3 2076.9 1095.3 2075.8 1104.3 2074.6C1111.6 2074.6 1111.6 2084.2 1104.3 2084.2C1095.3 2083 1089.3 2081.9 1083.3 2081.9C1079.3 2081.9 1079.3 2087.9 1083.3 2087.9C1089.3 2087.9 1095.3 2086.8 1104.3 2085.6C1111.6 2085.6 1111.6 2096.9 1104.3 2096.9C1095.3 2095.7 1089.3 2094.6 1083.3 2094.6C1079.3 2094.6 1079.3 2100.6 1083.3 2100.6C1089.3 2100.6 1095.3 2099.5 1104.3 2098.3C1111.6 2098.3 1111.6 2110.4 1104.3 2110.4L1048.6 2111.2C1040.2 2111.2 1036.6 2107.6 1036.6 2099.2V2051.8C1036.6 2043.4 1040.2 2039.8 1048.6 2039.8Z" fill="url(#Jepg)" stroke="#837c6c" stroke-width="1.7" stroke-linejoin="round"/>
<ellipse cx="1060.9" cy="2087.8" rx="8.2" ry="13.8" fill="url(#Jepgn)" stroke="#7d776a" stroke-width="1.7"/>
<path d="M1049.6 2112.8L1125.5 2113.6C1132.8 2113.6 1132.8 2121.6 1125.5 2121.6C1116.5 2120.4 1101.8 2119.3 1095.8 2119.3C1091.8 2119.3 1091.8 2125.3 1095.8 2125.3C1101.8 2125.3 1116.5 2124.2 1125.5 2123C1132.8 2123 1132.8 2134.7 1125.5 2134.7C1116.5 2133.5 1101.8 2132.4 1095.8 2132.4C1091.8 2132.4 1091.8 2138.4 1095.8 2138.4C1101.8 2138.4 1116.5 2137.3 1125.5 2136.1C1132.8 2136.1 1132.8 2146.3 1125.5 2146.3C1116.5 2145.1 1101.8 2144 1095.8 2144C1091.8 2144 1091.8 2150 1095.8 2150C1101.8 2150 1116.5 2148.9 1125.5 2147.7C1132.8 2147.7 1132.8 2157.4 1125.5 2157.4C1116.5 2156.2 1101.8 2155.1 1095.8 2155.1C1091.8 2155.1 1091.8 2161.1 1095.8 2161.1C1101.8 2161.1 1116.5 2160 1125.5 2158.8C1132.8 2158.8 1132.8 2170.1 1125.5 2170.1C1116.5 2168.9 1101.8 2167.8 1095.8 2167.8C1091.8 2167.8 1091.8 2173.8 1095.8 2173.8C1101.8 2173.8 1116.5 2172.7 1125.5 2171.5C1132.8 2171.5 1132.8 2183.6 1125.5 2183.6L1049.6 2184.4C1041.2 2184.4 1037.6 2180.8 1037.6 2172.4V2124.8C1037.6 2116.4 1041.2 2112.8 1049.6 2112.8Z" fill="url(#Jepr)" stroke="#cf2446" stroke-width="1.7" stroke-linejoin="round"/>
<ellipse cx="1061.1" cy="2148.6" rx="5.3" ry="13.8" fill="url(#Jeprn)" stroke="#c4203f" stroke-width="1.6"/>
<path d="M1049.6 2186.4L1125.5 2187.2C1132.8 2187.2 1132.8 2195.2 1125.5 2195.2C1116.5 2194 1101.8 2192.9 1095.8 2192.9C1091.8 2192.9 1091.8 2198.9 1095.8 2198.9C1101.8 2198.9 1116.5 2197.8 1125.5 2196.6C1132.8 2196.6 1132.8 2208.3 1125.5 2208.3C1116.5 2207.1 1101.8 2206 1095.8 2206C1091.8 2206 1091.8 2212 1095.8 2212C1101.8 2212 1116.5 2210.9 1125.5 2209.7C1132.8 2209.7 1132.8 2219.9 1125.5 2219.9C1116.5 2218.7 1101.8 2217.6 1095.8 2217.6C1091.8 2217.6 1091.8 2223.6 1095.8 2223.6C1101.8 2223.6 1116.5 2222.5 1125.5 2221.3C1132.8 2221.3 1132.8 2231 1125.5 2231C1116.5 2229.8 1101.8 2228.7 1095.8 2228.7C1091.8 2228.7 1091.8 2234.7 1095.8 2234.7C1101.8 2234.7 1116.5 2233.6 1125.5 2232.4C1132.8 2232.4 1132.8 2243.7 1125.5 2243.7C1116.5 2242.5 1101.8 2241.4 1095.8 2241.4C1091.8 2241.4 1091.8 2247.4 1095.8 2247.4C1101.8 2247.4 1116.5 2246.3 1125.5 2245.1C1132.8 2245.1 1132.8 2257.2 1125.5 2257.2L1049.6 2258C1041.2 2258 1037.6 2254.4 1037.6 2246V2198.4C1037.6 2190 1041.2 2186.4 1049.6 2186.4Z" fill="url(#Jepr)" stroke="#cf2446" stroke-width="1.7" stroke-linejoin="round"/>
<ellipse cx="1061.1" cy="2222.2" rx="5.3" ry="13.8" fill="url(#Jeprn)" stroke="#c4203f" stroke-width="1.6"/>
<path d="M1049.6 2260L1125.5 2260.8C1132.8 2260.8 1132.8 2268.8 1125.5 2268.8C1116.5 2267.6 1101.8 2266.5 1095.8 2266.5C1091.8 2266.5 1091.8 2272.5 1095.8 2272.5C1101.8 2272.5 1116.5 2271.4 1125.5 2270.2C1132.8 2270.2 1132.8 2281.9 1125.5 2281.9C1116.5 2280.7 1101.8 2279.6 1095.8 2279.6C1091.8 2279.6 1091.8 2285.6 1095.8 2285.6C1101.8 2285.6 1116.5 2284.5 1125.5 2283.3C1132.8 2283.3 1132.8 2293.5 1125.5 2293.5C1116.5 2292.3 1101.8 2291.2 1095.8 2291.2C1091.8 2291.2 1091.8 2297.2 1095.8 2297.2C1101.8 2297.2 1116.5 2296.1 1125.5 2294.9C1132.8 2294.9 1132.8 2304.6 1125.5 2304.6C1116.5 2303.4 1101.8 2302.3 1095.8 2302.3C1091.8 2302.3 1091.8 2308.3 1095.8 2308.3C1101.8 2308.3 1116.5 2307.2 1125.5 2306C1132.8 2306 1132.8 2317.3 1125.5 2317.3C1116.5 2316.1 1101.8 2315 1095.8 2315C1091.8 2315 1091.8 2321 1095.8 2321C1101.8 2321 1116.5 2319.9 1125.5 2318.7C1132.8 2318.7 1132.8 2330.8 1125.5 2330.8L1049.6 2331.6C1041.2 2331.6 1037.6 2328 1037.6 2319.6V2272C1037.6 2263.6 1041.2 2260 1049.6 2260Z" fill="url(#Jepr)" stroke="#cf2446" stroke-width="1.7" stroke-linejoin="round"/>
<ellipse cx="1061.1" cy="2295.8" rx="5.3" ry="13.8" fill="url(#Jeprn)" stroke="#c4203f" stroke-width="1.6"/>
<path d="M1049.6 2333.4L1125.5 2334.2C1132.8 2334.2 1132.8 2342.2 1125.5 2342.2C1116.5 2341 1101.8 2339.9 1095.8 2339.9C1091.8 2339.9 1091.8 2345.9 1095.8 2345.9C1101.8 2345.9 1116.5 2344.8 1125.5 2343.6C1132.8 2343.6 1132.8 2355.3 1125.5 2355.3C1116.5 2354.1 1101.8 2353 1095.8 2353C1091.8 2353 1091.8 2359 1095.8 2359C1101.8 2359 1116.5 2357.9 1125.5 2356.7C1132.8 2356.7 1132.8 2366.9 1125.5 2366.9C1116.5 2365.7 1101.8 2364.6 1095.8 2364.6C1091.8 2364.6 1091.8 2370.6 1095.8 2370.6C1101.8 2370.6 1116.5 2369.5 1125.5 2368.3C1132.8 2368.3 1132.8 2378 1125.5 2378C1116.5 2376.8 1101.8 2375.7 1095.8 2375.7C1091.8 2375.7 1091.8 2381.7 1095.8 2381.7C1101.8 2381.7 1116.5 2380.6 1125.5 2379.4C1132.8 2379.4 1132.8 2390.7 1125.5 2390.7C1116.5 2389.5 1101.8 2388.4 1095.8 2388.4C1091.8 2388.4 1091.8 2394.4 1095.8 2394.4C1101.8 2394.4 1116.5 2393.3 1125.5 2392.1C1132.8 2392.1 1132.8 2404.2 1125.5 2404.2L1049.6 2405C1041.2 2405 1037.6 2401.4 1037.6 2393V2345.4C1037.6 2337 1041.2 2333.4 1049.6 2333.4Z" fill="url(#Jepr)" stroke="#cf2446" stroke-width="1.7" stroke-linejoin="round"/>
<ellipse cx="1061.1" cy="2369.2" rx="5.3" ry="13.8" fill="url(#Jeprn)" stroke="#c4203f" stroke-width="1.6"/>
<path d="M1048.6 2407.4L1104.3 2408.2C1111.6 2408.2 1111.6 2416 1104.3 2416C1095.3 2414.8 1089.3 2413.7 1083.3 2413.7C1079.3 2413.7 1079.3 2419.7 1083.3 2419.7C1089.3 2419.7 1095.3 2418.6 1104.3 2417.4C1111.6 2417.4 1111.6 2428.7 1104.3 2428.7C1095.3 2427.5 1089.3 2426.4 1083.3 2426.4C1079.3 2426.4 1079.3 2432.4 1083.3 2432.4C1089.3 2432.4 1095.3 2431.3 1104.3 2430.1C1111.6 2430.1 1111.6 2440 1104.3 2440C1095.3 2438.8 1089.3 2437.7 1083.3 2437.7C1079.3 2437.7 1079.3 2443.7 1083.3 2443.7C1089.3 2443.7 1095.3 2442.6 1104.3 2441.4C1111.6 2441.4 1111.6 2450.8 1104.3 2450.8C1095.3 2449.6 1089.3 2448.5 1083.3 2448.5C1079.3 2448.5 1079.3 2454.5 1083.3 2454.5C1089.3 2454.5 1095.3 2453.4 1104.3 2452.2C1111.6 2452.2 1111.6 2463.2 1104.3 2463.2C1095.3 2462 1089.3 2460.9 1083.3 2460.9C1079.3 2460.9 1079.3 2466.9 1083.3 2466.9C1089.3 2466.9 1095.3 2465.8 1104.3 2464.6C1111.6 2464.6 1111.6 2476.4 1104.3 2476.4L1048.6 2477.2C1040.2 2477.2 1036.6 2473.6 1036.6 2465.2V2419.4C1036.6 2411 1040.2 2407.4 1048.6 2407.4Z" fill="url(#Jepg)" stroke="#837c6c" stroke-width="1.7" stroke-linejoin="round"/>
<ellipse cx="1060.9" cy="2454.3" rx="8.2" ry="13.8" fill="url(#Jepgn)" stroke="#7d776a" stroke-width="1.7"/>
</g>
</svg>
</body></html>
